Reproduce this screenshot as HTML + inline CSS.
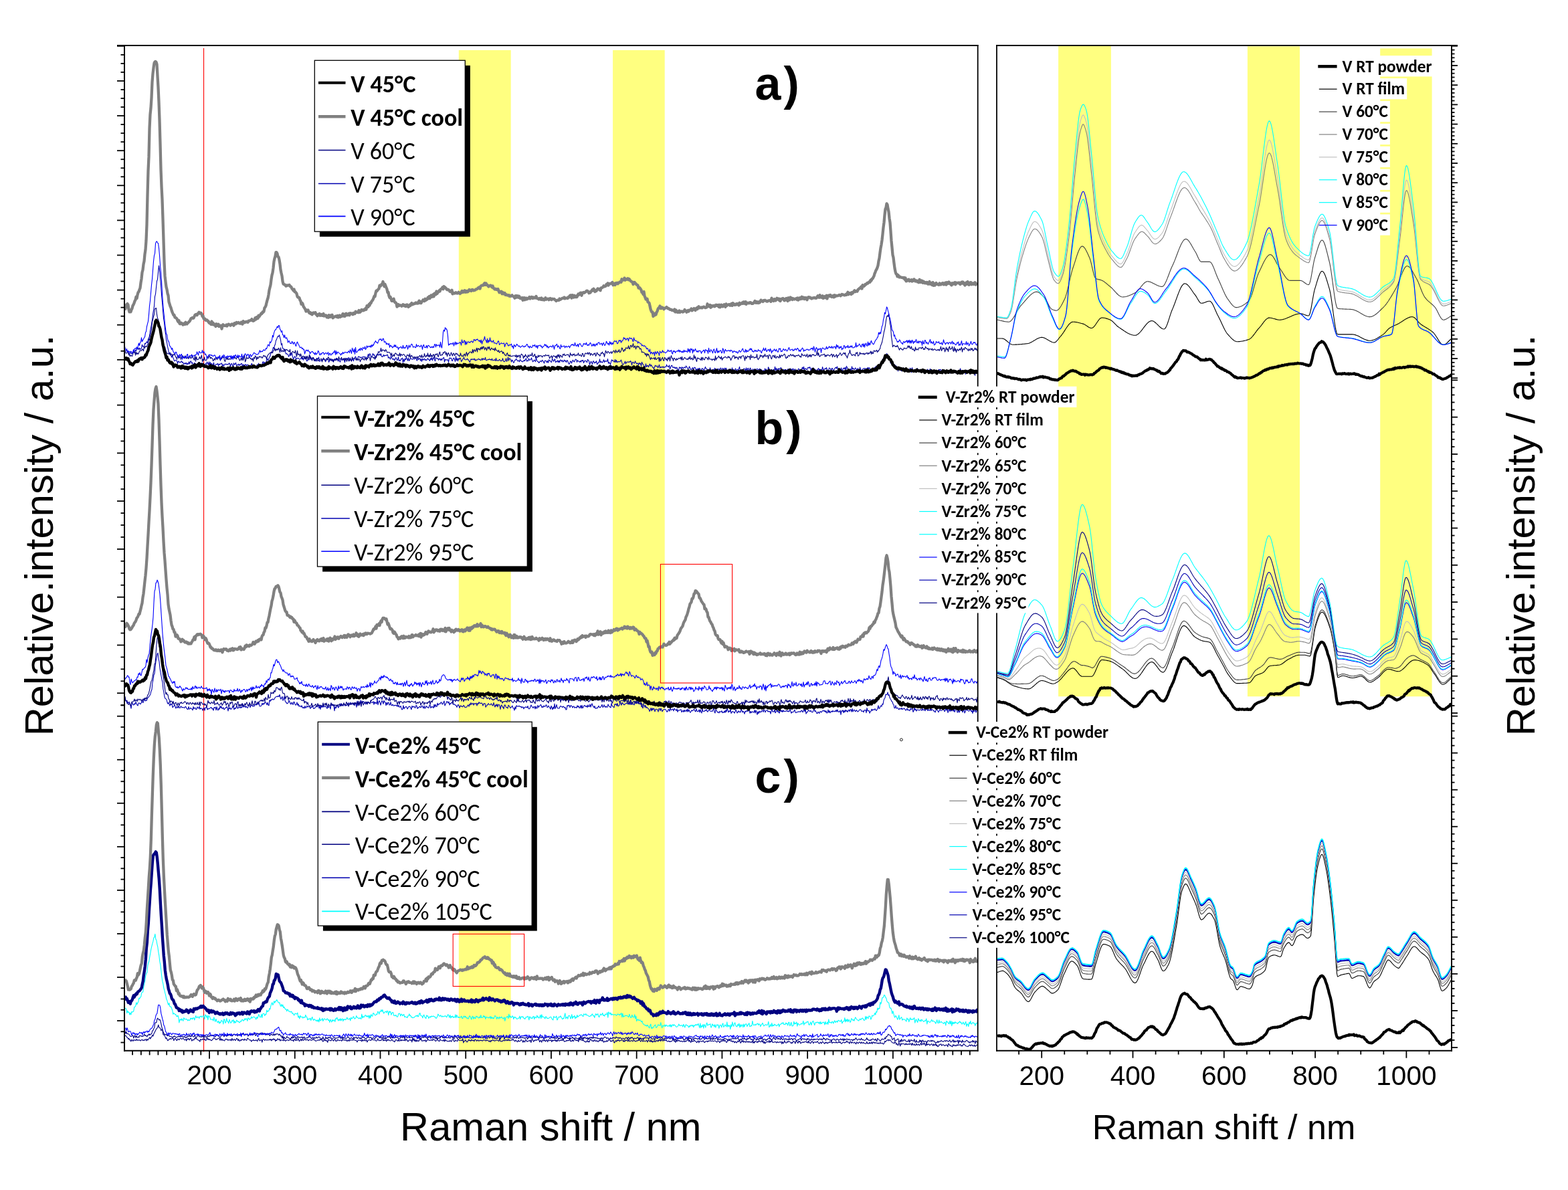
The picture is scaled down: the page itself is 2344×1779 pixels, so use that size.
<!DOCTYPE html><html><head><meta charset="utf-8"><title>Raman spectra</title><style>html,body{margin:0;padding:0;background:#fff;overflow:hidden}svg{display:block}</style></head><body><svg xmlns="http://www.w3.org/2000/svg" width="2344" height="1779" viewBox="0 0 2344 1779">
<rect x="0" y="0" width="2344" height="1779" fill="#FFFFFF"/>
<defs><clipPath id="cl"><rect x="186" y="68" width="1276" height="1503"/></clipPath><clipPath id="cr"><rect x="1490" y="68" width="680" height="1503"/></clipPath></defs>
<rect x="685.8" y="75.0" width="77.9" height="1495.7" fill="#FFFF80"/>
<rect x="916.1" y="75.0" width="77.6" height="1495.7" fill="#FFFF80"/>
<rect x="1582.1" y="68.7" width="78.8" height="972.5" fill="#FFFF80"/>
<rect x="1864.9" y="69.3" width="78.1" height="971.9" fill="#FFFF80"/>
<rect x="2063.2" y="72.4" width="77.4" height="968.8" fill="#FFFF80"/>
<rect x="304" y="72" width="1.1" height="1500.5" fill="#FF0000"/>
<g clip-path="url(#cl)">
<path d="M186.5 523.7l1 1.2 1 -0.4 1 -0.5 1 1.6 1 -0.4 1 2.5 1 2.8 1 -3.3 1 -0.3 1 2 1 -0.5 1 -0.7 1 -2.3 1 1.3 1 1 1 -4.4 1 1.2 1 -3.3 1 0.6 1 -1.6 1 2.5 1 -2.6 1 2.4 1 -0.9 1 -1.3 1 -5.1 1 3 1 0.1 1 -0.7 1 -4.2 1 0.8 1 -2.2 1 -1.2 1 1.9 1 -5.8 1 -1.9 1 -2.5 1 -7.7 1 -4.6 1 -5.4 1 -6.1 1 -9 1 -5.6 1 -6.3 1 -14.4 1 -3.7 1 -9.7 1 -9.7 1 -2.7 1 -10.8 1 -9.7 1 7.3 1 11 1 10.6 1 15.1 1 10.6 1 12.5 1 12 1 5.8 1 10.3 1 6.7 1 8.8 1 4.2 1 6.2 1 4.1 1 4.8 1 2.8 1 -2.6 1 2.8 1 4.2 1 -3.7 1 3.9 1 1.7 1 3.5 1 -0.2 1 -1.2 1 0.6 1 0.8 1 3.8 1 -3.4 1 0.5 1 1.4 1 -0.7 1 0.1 1 -1.6 1 2.3 1 -0.7 1 3.2 1 -0.8 1 -1.2 1 1.5 1 -1.8 1 2.8 1 -1.9 1 1.2 1 -3.5 1 3.3 1 -3.8 1 -0.6 1 3.4 1 -1.1 1 2.1 1 4 1 -5.7 1 0.4 1 1.7 1 0.6 1 -1.3 1 0 1 1.8 1 -0.3 1 -2.9 1 1.8 1 0.3 1 -2.1 1 2.6 1 -2.1 1 3.5 1 -1.5 1 -0.1 1 -1.3 1 0.9 1 -3.5 1 1.7 1 2.8 1 -4.7 1 5.7 1 -4.9 1 4.8 1 -3.1 1 3.1 1 -1.2 1 -3.1 1 5.3 1 0.4 1 -2.9 1 -0.3 1 0.2 1 -1.5 1 3.9 1 -3.1 1 1 1 -1.4 1 0.3 1 -1.2 1 4.8 1 -2.7 1 2.2 1 -1.8 1 -1.3 1 0.7 1 -0.5 1 1.1 1 -0.7 1 0.2 1 -2 1 1.1 1 4.6 1 -4.4 1 -0.7 1 2.7 1 2 1 -5.4 1 2.4 1 -0.8 1 -2.1 1 4.8 1 -1.5 1 0.2 1 -1.5 1 2.3 1 -1.9 1 0.8 1 -1.8 1 -0.2 1 4.9 1 -3.5 1 1.6 1 -0.6 1 -0.8 1 -0.1 1 2.2 1 -1.8 1 0.3 1 0.4 1 2.2 1 -0.9 1 -0.6 1 -1.8 1 -1.5 1 4.4 1 0 1 -2.1 1 1.3 1 0.5 1 -0 1 0.1 1 -2.7 1 3.6 1 -5.4 1 3.8 1 -0.9 1 0.5 1 1.7 1 -1 1 -5.3 1 -1.3 1 4.5 1 -3.9 1 1.6 1 0.9 1 -5.6 1 -2.1 1 3 1 -2 1 -2.3 1 -1.4 1 -3.8 1 -3.3 1 0.4 1 -3.8 1 -3.4 1 1.5 1 -4.1 1 -2.3 1 -5.5 1 -1.6 1 -3 1 -1.9 1 0.6 1 -2.4 1 3.8 1 3.6 1 7.7 1 -2.3 1 7.1 1 0.3 1 2.1 1 -1 1 3.5 1 3.6 1 -0.5 1 1.1 1 0.1 1 3.5 1 -1.5 1 -3.5 1 3.4 1 -1.9 1 -2 1 5.6 1 3.8 1 -2.2 1 -2.2 1 0.6 1 4.1 1 -1.8 1 -0.1 1 -0.1 1 0.3 1 1.5 1 -0.4 1 -0.5 1 -2.3 1 3 1 -2.2 1 3.4 1 -4.4 1 2.2 1 0.3 1 -2.4 1 5.8 1 -0.4 1 -3.7 1 2.4 1 -0.7 1 -5.6 1 5.5 1 -0.6 1 0.3 1 -2.1 1 1.5 1 0.3 1 2.6 1 -1.6 1 -0.6 1 3 1 -4 1 0.4 1 -2.6 1 6.4 1 -1.1 1 0 1 -0.4 1 -1 1 0.3 1 -0.8 1 0.1 1 0.6 1 2.8 1 -1.7 1 -1.1 1 -0.9 1 -0 1 4.3 1 -2 1 -0.8 1 -0.7 1 -1.4 1 2 1 1.8 1 -2.4 1 0.4 1 -0 1 0.6 1 -3.3 1 2.6 1 -1.2 1 3.2 1 -3.1 1 2.5 1 1.7 1 -3.6 1 -0.6 1 1.4 1 -0.4 1 -2 1 2.7 1 2.8 1 -4.4 1 -0 1 -1.8 1 2.5 1 -3.1 1 0.1 1 4.4 1 -4.3 1 3.7 1 0.7 1 -2.6 1 0.4 1 2.5 1 -4.2 1 -0.9 1 -1.6 1 2.5 1 2.5 1 -1.1 1 -3.8 1 0 1 0.5 1 1.4 1 -1.1 1 0.6 1 -0 1 -1.3 1 0.3 1 0.4 1 -0.7 1 0.9 1 2.5 1 -2.6 1 -1.1 1 -3.5 1 3.8 1 -4.5 1 0.8 1 4.2 1 -0.4 1 -1.7 1 -3.1 1 2.5 1 -0.7 1 2.4 1 3 1 -3.9 1 -2 1 -0.8 1 2 1 -0.2 1 -1.9 1 2.4 1 -2.5 1 4.3 1 -0.1 1 0.1 1 -2.8 1 2.1 1 -1 1 -0.1 1 0.5 1 -1.4 1 0.2 1 4.7 1 -1.4 1 1.3 1 1.9 1 -4.7 1 2.1 1 2.2 1 0.7 1 -1.3 1 2.8 1 -1.5 1 -2.7 1 0.6 1 3.3 1 -0.6 1 -4.5 1 6.2 1 -1.4 1 1.4 1 -3.2 1 0.1 1 -1.5 1 7 1 -5.2 1 3.4 1 -4.2 1 1.5 1 -3.5 1 2.5 1 2.6 1 -4.2 1 4.4 1 -1.4 1 -2.6 1 1.1 1 0.1 1 0.7 1 -0.9 1 -0.5 1 1 1 -1.4 1 -0.5 1 2.4 1 1.8 1 -4.6 1 2.9 1 -1.2 1 -0.6 1 3.5 1 -2.6 1 3.8 1 -4.3 1 2.2 1 -1.1 1 -1 1 2.5 1 -1.4 1 1.5 1 -1.3 1 -1.9 1 1.8 1 0.3 1 1.8 1 -3.6 1 1.7 1 -3.2 1 4.5 1 -3.3 1 -1.3 1 3.3 1 2.2 1 -5 1 0.8 1 0.7 1 -0.7 1 2.8 1 -2.2 1 0.2 1 2.4 1 -2.5 1 2.3 1 -2.7 1 -0.5 1 -1.1 1 7 1 -4.1 1 1 1 -0.5 1 0.4 1 -0.2 1 3.5 1 -5.6 1 -1 1 1.1 1 -0.6 1 3.9 1 0.2 1 -3.4 1 -0.8 1 2 1 3.3 1 -8 1 6.4 1 -3.1 1 4 1 -4 1 1.5 1 -2.3 1 1 1 4.5 1 -1 1 -2.3 1 -0.9 1 -2 1 2.9 1 0.7 1 -0.1 1 -0 1 -1.9 1 2 1 0 1 2.6 1 1.1 1 -3.8 1 -1.2 1 1.3 1 -1 1 -0.2 1 1.3 1 -1.9 1 3.2 1 -1.4 1 0.7 1 -0.8 1 -1 1 -0.4 1 1.3 1 -0.6 1 1.5 1 -0.4 1 -2.6 1 2.8 1 -2.7 1 1.4 1 0.6 1 -3.4 1 4.2 1 0.1 1 -0.6 1 -0.5 1 0.1 1 -1.1 1 1.3 1 -0.5 1 1.3 1 -2.5 1 2.8 1 -0.2 1 -0.5 1 -0.6 1 1.9 1 -4.2 1 4 1 -0.4 1 0.1 1 0.2 1 -1.9 1 0.7 1 1.8 1 -0.4 1 -0.4 1 -3.3 1 3.9 1 1.2 1 -0.3 1 -1.4 1 -3.4 1 4.7 1 -2 1 -4.5 1 5.5 1 -3.5 1 0.4 1 1.2 1 3.7 1 -3.1 1 1.2 1 2.8 1 -0.3 1 -3.2 1 -0.2 1 -2 1 1.1 1 2.2 1 -0.1 1 -0.5 1 1.7 1 -3.4 1 1.4 1 1.5 1 -0.2 1 0.9 1 -1.3 1 -1.3 1 1.3 1 -2.6 1 -1.2 1 4.2 1 -1.1 1 0.7 1 -3.8 1 2.5 1 -0.4 1 -0.5 1 -2.6 1 3.6 1 2.4 1 -1 1 -1.8 1 1.1 1 1.5 1 -6.7 1 5 1 1.3 1 0.3 1 1.9 1 -1 1 -1.6 1 0 1 0.9 1 -2.5 1 1 1 1.8 1 2 1 -4 1 0.2 1 0.5 1 2.2 1 -2.6 1 2.9 1 -4.6 1 1.5 1 -0 1 1.8 1 0.5 1 -4.8 1 1.2 1 2.3 1 -1.8 1 -1.7 1 4.9 1 -1 1 0 1 -1.8 1 2.9 1 -2.4 1 2.5 1 -3.8 1 0.2 1 2 1 -1.7 1 2.6 1 -0.8 1 -2.2 1 1.9 1 -0.8 1 2.4 1 -2.9 1 0.4 1 3.2 1 1.9 1 -0.4 1 -3.7 1 0.3 1 2.6 1 -3.2 1 -1.6 1 2.1 1 0.7 1 -2.5 1 -1.5 1 0.4 1 4 1 -2.7 1 1.2 1 0.7 1 0.8 1 -1.8 1 1.6 1 -2.6 1 1 1 -1.2 1 4.1 1 -2.2 1 -1.3 1 0.7 1 0.3 1 1.8 1 -4.4 1 1.1 1 1.3 1 5.5 1 -3 1 -2 1 1.6 1 2.6 1 -4.4 1 -0.2 1 3 1 -1.3 1 0.3 1 -2.2 1 4.7 1 -0.4 1 -2.2 1 0.2 1 -5.1 1 5.1 1 -1.6 1 1.2 1 0.5 1 -1.9 1 -2.5 1 3.9 1 -2.1 1 0.8 1 -0.5 1 0.5 1 -3.7 1 6.7 1 -1.8 1 1.6 1 1.7 1 -3.7 1 -3.4 1 1.7 1 -0.6 1 1.4 1 1.1 1 -4 1 4.5 1 -3.5 1 3.4 1 -0.7 1 -0.4 1 0.5 1 -0.9 1 -0.1 1 -2 1 3.1 1 3.6 1 0.3 1 -1.3 1 -1.1 1 -2.6 1 4 1 -2.8 1 -0 1 -0.4 1 0.7 1 -0.9 1 0.7 1 -1.9 1 1.4 1 5 1 -4.4 1 -0.3 1 1.5 1 0.5 1 -3.3 1 1.9 1 2.3 1 -1 1 0 1 3.1 1 -3.9 1 1.7 1 -0.8 1 4.2 1 -6.2 1 2.8 1 0.6 1 2.7 1 0.2 1 1.8 1 -5.4 1 4.7 1 -1.8 1 -0.5 1 2.5 1 -2.7 1 -2 1 3.4 1 -2 1 1.7 1 2.1 1 -0 1 2.5 1 -3.3 1 -2.4 1 1.5 1 -0.2 1 -0.5 1 3.1 1 -2 1 -2.7 1 5 1 -1.8 1 0.7 1 -0.8 1 0.8 1 -1.3 1 2.2 1 -1.6 1 -0 1 0.1 1 -3.5 1 2.6 1 -0 1 1 1 -2.8 1 5.9 1 -2.7 1 -2.3 1 -0.7 1 2.9 1 0.6 1 -1.1 1 1.8 1 -1.3 1 2.4 1 -2.3 1 1.4 1 2 1 3.1 1 -6.8 1 1.1 1 -0.7 1 3.1 1 -3.6 1 1.3 1 0.9 1 -1.8 1 0.1 1 0.9 1 -3.1 1 1.3 1 2 1 1.1 1 -0.6 1 -3 1 2.5 1 2.4 1 -0.4 1 -1.2 1 -1.5 1 2.9 1 -2.3 1 -1.1 1 0.8 1 4.3 1 -2.4 1 1.9 1 -3.1 1 2.7 1 -2.9 1 0.8 1 5.1 1 -3.3 1 -2.4 1 0.9 1 0.8 1 1.7 1 -3.3 1 -2.3 1 2.8 1 0.6 1 0.2 1 2.3 1 -1.9 1 1 1 -3.7 1 3.8 1 2.3 1 -2.5 1 -0.9 1 -0.2 1 3.1 1 -5.1 1 1.5 1 1.1 1 0.6 1 -2.2 1 1.4 1 -1.1 1 0.8 1 -0.5 1 -1.9 1 2.1 1 1.8 1 -3.5 1 1.4 1 1.7 1 -3.3 1 2.4 1 -2.3 1 4.1 1 2.3 1 -0.6 1 -4.2 1 1.8 1 -1.1 1 -0.1 1 2.8 1 -5.4 1 4.5 1 -2.1 1 2.8 1 -2.3 1 -1.7 1 1.8 1 0.9 1 -1.3 1 0.9 1 -1.9 1 -3.1 1 5.8 1 -0.4 1 -1 1 -0.2 1 1.9 1 -2.9 1 -0.4 1 0.9 1 2.7 1 -4.9 1 4.9 1 -3.5 1 -0.9 1 4.5 1 -2.5 1 -2.3 1 1.8 1 2.4 1 0.5 1 -3.1 1 1.6 1 0.6 1 -2.6 1 1.9 1 -0.7 1 -0.9 1 0 1 1.1 1 -0.1 1 -1.1 1 0.3 1 2.9 1 -1.7 1 1.3 1 0.6 1 -1.2 1 3.2 1 -5.9 1 3.1 1 -2.1 1 4.1 1 -0.3 1 -6.9 1 1.9 1 3.1 1 0.2 1 -0.1 1 -1.5 1 1 1 0.3 1 -1.4 1 2.1 1 -6.2 1 5.5 1 -3.2 1 3.8 1 -2.2 1 -1.3 1 2.4 1 -2.4 1 -0 1 -1.3 1 2.9 1 1 1 1 1 -2.2 1 2.3 1 -2 1 -0.2 1 1.3 1 0.9 1 -2.7 1 0.2 1 0.2 1 0.4 1 -1.8 1 3.6 1 -2.7 1 1.6 1 -2.4 1 2.2 1 0.1 1 -1.5 1 4.6 1 -3.1 1 2.6 1 -1.5 1 -3.1 1 0.5 1 1.6 1 -0.7 1 -0.1 1 -0.6 1 -2.9 1 3 1 -3.8 1 4.9 1 -2.1 1 0.1 1 0.9 1 0.9 1 -3.2 1 -0.6 1 1.3 1 -1.9 1 2.1 1 4.8 1 -5 1 3.2 1 -3.8 1 3.1 1 -1.1 1 0.4 1 1.2 1 2.3 1 -3 1 -0.1 1 -2.1 1 2.9 1 -1.5 1 2 1 -1.7 1 3.4 1 -7.1 1 3.2 1 2.3 1 -2.4 1 -0.8 1 1 1 -2.2 1 2.9 1 4.4 1 -2.5 1 -4.3 1 0.5 1 0.8 1 2.7 1 -3.5 1 0.3 1 3 1 -0.1 1 -2.3 1 -1.5 1 -0.8 1 1.6 1 -2.9 1 5.6 1 -2.6 1 2.1 1 2.6 1 -1.3 1 -4.4 1 3.8 1 0.6 1 -3.7 1 -0.4 1 1.6 1 -2.8 1 5.8 1 -7.4 1 2.5 1 1.6 1 0 1 0.8 1 0.1 1 -0.9 1 2.6 1 -6.3 1 4.1 1 -1.4 1 1.6 1 0.2 1 -2.2 1 0.5 1 2.7 1 -0.8 1 -2 1 5.1 1 0.5 1 -7.1 1 3.3 1 4.2 1 -3.3 1 -1.1 1 -0.8 1 -0.7 1 0.6 1 -0.6 1 2.4 1 -2.2 1 -0.1 1 -1.4 1 2.1 1 -1.6 1 1.3 1 2.3 1 -1.4 1 0.1 1 -0.5 1 -0.8 1 -0.6 1 -0.7 1 1.6 1 -3.9 1 4.2 1 -2.9 1 -2 1 -0 1 -0.9 1 1 1 -2.3 1 2.3 1 -5.3 1 -4.7 1 0.8 1 -4.5 1 1.8 1 0.4 1 -2.1 1 -4.4 1 1 1 5.5 1 -1.5 1 1 1 3.9 1 4.7 1 -0.1 1 -0.3 1 2.1 1 1.8 1 -1.5 1 -0.1 1 2.9 1 -1.2 1 2.3 1 0.9 1 4.9 1 -5.5 1 1.9 1 0.3 1 1.5 1 1.5 1 -2.7 1 -0.5 1 -1.5 1 1.4 1 2.9 1 -0.9 1 -1.9 1 1.2 1 0.9 1 0.9 1 -2 1 0.7 1 -2.9 1 1.3 1 5.3 1 -7.2 1 3.6 1 1.1 1 -1.1 1 -0.8 1 1.5 1 0.1 1 -0.1 1 -3.3 1 3.3 1 -1.3 1 0.6 1 1.5 1 0.8 1 0.6 1 -2.6 1 2.7 1 0.5 1 -0 1 0.5 1 -2.9 1 -0 1 1.9 1 -4.2 1 3.1 1 -1.4 1 0.3 1 -2.6 1 1.7 1 1.7 1 1.7 1 0.2 1 -2 1 -0.2 1 -1.2 1 2.4 1 -1.2 1 1.6 1 2.2 1 -3.4 1 -2.7 1 1.2 1 -1.1 1 0.5 1 4.8 1 -2.1 1 -3.3 1 4.2 1 1.1 1 -3 1 -0.6 1 0.6 1 1.2 1 0.7 1 1.1 1 0.1 1 -0.1 1 0.4 1 -1.4 1 -4.1 1 2.7 1 0.8 1 -1.3 1 2.5 1 -2.4 1 -1.1 1 4.5 1 -1.4 1 -0.9 1 1.4 1 0.3 1 -1.4 1 -5.3 1 3.4 1 0.5 1 -1 1 2.2 1 1.9 1 -3.1 1 -1.3 1 6.1 1 -4.7 1 -1.5 1 2.8 1 0.4 1 -2.1 1 2.8 1 -2.4 1 -0.8 1 2.1 1 1.2 1 -2.7 1 1.9 1 -0.8 1 5.6 1 -6.7 1 4 1 -2.7 0.5 -0.1" stroke="#0000B0" stroke-width="1.1" fill="none" stroke-linejoin="round"/>
<path d="M186.5 525.4l1 1.2 1 1.6 1 -0.8 1 -0.8 1 1 1 2.7 1 0.7 1 1.7 1 -1.9 1 1.1 1 0.7 1 -2.8 1 -3.4 1 0.2 1 -0.8 1 5.3 1 -5 1 3.5 1 -1.8 1 1.7 1 -1.9 1 -2.6 1 -0.7 1 0.1 1 -0.4 1 -2 1 0.3 1 2.4 1 -7.1 1 2.8 1 -3.2 1 0.9 1 -0 1 -3.2 1 -0.5 1 -7.5 1 1.4 1 -7.5 1 -2.3 1 -5.7 1 -11.5 1 -3.3 1 -4.7 1 -3.3 1 -8 1 -1 1 -0.4 1 9.2 1 6 1 1.8 1 4.5 1 2.4 1 9.8 1 8.9 1 1.6 1 5.8 1 2.1 1 0.3 1 7.4 1 -2.1 1 4.3 1 2.9 1 2.6 1 0.2 1 0.9 1 -1.3 1 -0.3 1 3.3 1 -0.8 1 -0.7 1 0.6 1 1.8 1 -2.4 1 1.1 1 -0.4 1 3.6 1 0.5 1 3.2 1 -6.6 1 1.7 1 3.1 1 -2 1 -0.1 1 3.9 1 -3.8 1 -1.5 1 -0.2 1 3.2 1 0 1 -3.1 1 0.8 1 3 1 0.1 1 -2.3 1 2.5 1 -0.1 1 -4.4 1 2.8 1 1.5 1 -1.9 1 -2.9 1 3.6 1 2 1 1.6 1 -7.2 1 9.2 1 -7.1 1 4 1 0.6 1 -0.5 1 -1.6 1 -2.4 1 3.4 1 -2.5 1 -3.4 1 10.2 1 -4 1 2.1 1 -5.2 1 4.6 1 0.2 1 -0 1 -3 1 -2.2 1 2 1 -3.9 1 1 1 3.4 1 -2 1 1.6 1 0.1 1 3.9 1 -1.2 1 -2.5 1 2.4 1 -3.8 1 0.9 1 2.3 1 -4 1 1.8 1 -2 1 2.8 1 2.8 1 -4.5 1 1.9 1 -2.2 1 -0.5 1 -0.1 1 5.1 1 1.7 1 -3.6 1 -2.2 1 2.7 1 -2 1 2.1 1 -0.9 1 -0.1 1 0.7 1 -2.3 1 0.3 1 -2.5 1 2.4 1 -1.8 1 2.4 1 -1.6 1 2 1 0.7 1 -3.6 1 1.2 1 -0.3 1 3.2 1 1.9 1 -1.7 1 -2.3 1 3.5 1 -5.7 1 5.7 1 -4.1 1 -4 1 10.3 1 -2.1 1 -5 1 2.3 1 -0.7 1 0.6 1 -3.1 1 1.5 1 2.2 1 -0.5 1 1.9 1 -2.2 1 4.3 1 -5.8 1 1.8 1 -4.2 1 1.2 1 4.8 1 -4.4 1 2.7 1 -1.3 1 -2.1 1 1.1 1 -0.5 1 -0.2 1 2.1 1 -0.5 1 -2.6 1 -1 1 1.9 1 -1 1 1.7 1 2.8 1 -3.9 1 -2.1 1 -0.6 1 -1.8 1 -0.5 1 -0.6 1 0.5 1 -1 1 1.1 1 -3.4 1 -0.9 1 -3.1 1 4.4 1 -3 1 1.9 1 -1.9 1 1.5 1 -3 1 2.3 1 4.3 1 -7 1 4.9 1 1.3 1 -2.2 1 0.9 1 1.2 1 -3.5 1 2.2 1 -2.3 1 0.6 1 0.2 1 1.1 1 0.8 1 0.8 1 -3.5 1 6.8 1 -1.4 1 -0.6 1 -1.8 1 0.7 1 1.5 1 0 1 -3.7 1 5 1 4.5 1 -8.9 1 6 1 -0.7 1 -0.3 1 3.6 1 -4.2 1 3.3 1 3.1 1 -2.7 1 -0.1 1 1.3 1 -0.8 1 4.1 1 -4.5 1 3.7 1 -3.9 1 4 1 -1.2 1 -4.7 1 5.3 1 -1.9 1 1.4 1 4 1 -5 1 0.3 1 5 1 -2.5 1 2.9 1 -2.3 1 -2.2 1 1.6 1 2.6 1 -0.5 1 -1.9 1 0.1 1 -0.3 1 -0.9 1 4.9 1 -3.8 1 -2.2 1 1.3 1 2.3 1 -0.2 1 -1.5 1 -1.1 1 1.4 1 -3.4 1 0.8 1 4 1 -2.5 1 1.7 1 1.6 1 -1.1 1 -1.2 1 4.1 1 -2.9 1 -2 1 2.2 1 -0.6 1 -2.5 1 1.8 1 -0.4 1 -3.5 1 3.6 1 -0.2 1 -0.2 1 -2.3 1 2.5 1 0.7 1 0.3 1 -2.3 1 3.5 1 -3.6 1 2 1 3.1 1 -3.9 1 0.4 1 3.1 1 -2.8 1 0.2 1 1 1 1.7 1 -6.4 1 2.7 1 -0.4 1 -0.1 1 0.4 1 -0 1 2.2 1 -2.4 1 1.9 1 0.5 1 -2.3 1 1.6 1 2.9 1 -2.7 1 -2 1 1 1 -1.7 1 2.1 1 1 1 -3.4 1 1.1 1 2.4 1 -3.3 1 1.2 1 -2.6 1 0.2 1 0.4 1 5 1 -5.1 1 -0.5 1 -0.3 1 0.6 1 1.3 1 -1.2 1 3.1 1 -4.3 1 1.4 1 -3.3 1 -0.5 1 -5 1 1.4 1 -1 1 -1.2 1 -4.4 1 5.3 1 -2.6 1 -0.1 1 0.6 1 0.3 1 1.5 1 -2.8 1 1.2 1 2.8 1 0.3 1 -0.4 1 0.2 1 0 1 2.1 1 2.8 1 -3.8 1 5.4 1 -1 1 -2.2 1 2.5 1 -4.2 1 -0.4 1 1 1 1.7 1 0.3 1 -0.3 1 1.3 1 -4.2 1 5.1 1 -3.6 1 1.6 1 0.5 1 -1.3 1 -0.4 1 0.8 1 1.9 1 1.2 1 0 1 -2.9 1 0.5 1 -0.2 1 2.6 1 -4.6 1 6.2 1 -3.2 1 -0.6 1 2.2 1 1.4 1 -1.3 1 1.3 1 -1.7 1 2.1 1 0.1 1 -2.6 1 3 1 -2.5 1 -0.1 1 -1.9 1 1.2 1 2 1 -4 1 3.7 1 -0.7 1 -0.1 1 -4.8 1 3.9 1 1.4 1 -2.8 1 1.5 1 -4.8 1 5.7 1 -2.6 1 2.8 1 -5.2 1 4.7 1 -1.9 1 1.9 1 -3.4 1 0.4 1 5.4 1 -6 1 0 1 0.6 1 -1.7 1 4 1 0.7 1 -4.9 1 -2.2 1 5.3 1 -0.4 1 -0.7 1 0.4 1 -3.9 1 1.2 1 -2.3 1 -0 1 4.5 1 -3.1 1 5.7 1 -4.1 1 -1.3 1 2.9 1 2 1 -2.4 1 -3.1 1 3.1 1 2.1 1 -3.5 1 -0.4 1 3.6 1 -1.6 1 -2.2 1 1.5 1 -0.6 1 2.1 1 -0.2 1 2.1 1 -0.8 1 -4.2 1 3.8 1 1 1 -0.8 1 1.2 1 -3 1 -0.8 1 3.5 1 -3.9 1 -2.3 1 5.8 1 -3.7 1 0.4 1 -2.5 1 -0.3 1 -0.2 1 1 1 0.9 1 -5.6 1 5.2 1 -4.3 1 -0.3 1 2.7 1 -2 1 -3.4 1 5.9 1 -5.6 1 1.6 1 -0.5 1 1.8 1 -3.9 1 2.5 1 -3.6 1 3.4 1 -3.8 1 0.7 1 4.3 1 -2.9 1 -0.3 1 4.2 1 -3.4 1 -2.1 1 3.2 1 -3.4 1 4.7 1 0.4 1 -3 1 0.2 1 1.9 1 0.1 1 -1.5 1 3.3 1 -4.6 1 3.5 1 0.4 1 0.7 1 1.5 1 -2.5 1 3.8 1 -1.1 1 -0.5 1 -1 1 0.6 1 3.3 1 -2.3 1 2.2 1 2.2 1 0.2 1 1.2 1 -3.2 1 -1.3 1 4.3 1 -1.1 1 1.8 1 -1.9 1 2.4 1 -0.5 1 -0.1 1 -0.3 1 -0.1 1 -0.2 1 -0 1 1.5 1 -2.9 1 4.3 1 -3.4 1 2.1 1 -2 1 -0.3 1 4.3 1 -4.4 1 -1.8 1 1.1 1 0.8 1 4.7 1 -3.7 1 1.4 1 -3.7 1 2.6 1 0.6 1 2.2 1 -4.7 1 2.5 1 -0.6 1 -2.5 1 1.9 1 -0.4 1 -3.9 1 5.5 1 -0.1 1 -1.8 1 -1.7 1 5.4 1 -2.3 1 1.4 1 0.7 1 -3.6 1 2.5 1 -2 1 0.4 1 -0.1 1 0.2 1 2.1 1 -1.9 1 -0.5 1 -0.2 1 1.2 1 -2.4 1 0.8 1 0.8 1 -0.9 1 0.8 1 -0.9 1 4.9 1 -1.3 1 -1.6 1 -1 1 4.3 1 -3.6 1 -0.8 1 0.7 1 0 1 2.1 1 -2.7 1 4 1 -5.7 1 3 1 -3.3 1 5.3 1 -4.1 1 0.5 1 1.9 1 0.6 1 -4.6 1 1.4 1 -2 1 2.9 1 -0.5 1 -0.5 1 -0.7 1 0.5 1 -0.7 1 2.4 1 1.8 1 -6.6 1 3.4 1 -0.6 1 1.7 1 -2.8 1 1.5 1 -1.8 1 3.3 1 -1.2 1 -0.5 1 0.9 1 -1.2 1 -2.5 1 4 1 -0.6 1 -0.9 1 2.1 1 0.4 1 -4.5 1 0.6 1 4.3 1 -0.3 1 -4.1 1 -0.9 1 1 1 0.2 1 -2.1 1 3 1 -2.5 1 0 1 4 1 -3.1 1 1.1 1 1.3 1 0.3 1 -2.2 1 0.6 1 -1.7 1 4.8 1 -2.1 1 -3.4 1 2 1 1.3 1 -0.5 1 2.5 1 -1 1 -3.7 1 0.8 1 -2.3 1 2.8 1 -0.3 1 4.8 1 -5.1 1 -4.2 1 2.6 1 1.4 1 -2.7 1 0.6 1 0.9 1 1.2 1 -1.1 1 -1.4 1 3 1 -2.6 1 -0.1 1 -1.8 1 1 1 2.6 1 -4.6 1 2.7 1 1.2 1 -2.3 1 0.8 1 -2.9 1 4.3 1 -0.7 1 -2 1 -4.2 1 1 1 3.4 1 1.1 1 -3.1 1 1.4 1 -3.9 1 0.5 1 -0 1 0.5 1 -4.1 1 4.4 1 0.5 1 -5 1 -0.6 1 3 1 -2.1 1 -3.4 1 6 1 -1.3 1 -1.3 1 5 1 -3.5 1 -1.3 1 2.1 1 -1.5 1 1.2 1 3 1 -1 1 1 1 4.9 1 -0.8 1 0.6 1 0.2 1 0.7 1 2.7 1 -1.9 1 4.5 1 -4.3 1 2.3 1 -1.2 1 2.9 1 2.5 1 2.6 1 -3.3 1 1.9 1 -0.2 1 -0.4 1 -0.7 1 2.4 1 -3.4 1 3.5 1 -0.2 1 -1.4 1 -0.7 1 -0.8 1 6.1 1 -6.3 1 5.5 1 -2 1 -1.9 1 -1.6 1 4.1 1 1.2 1 -5.2 1 1.1 1 2.5 1 -1.4 1 3.2 1 -5 1 2.2 1 -3.4 1 6.3 1 -5.4 1 -2.8 1 4 1 -0 1 3.9 1 -4.3 1 0.6 1 1.2 1 1.8 1 -3.1 1 2.1 1 -1 1 -1.5 1 0.7 1 -0.1 1 -1.8 1 4 1 -4.9 1 4.9 1 -0.5 1 -1.9 1 -1.3 1 1 1 1.3 1 0.5 1 -0.8 1 1.3 1 -2.9 1 1.5 1 -3.5 1 4.5 1 -1.2 1 -1.1 1 3 1 -0.9 1 -6.6 1 5.4 1 -2.8 1 4.8 1 2.7 1 -5.8 1 1.2 1 -0.6 1 1.1 1 0.6 1 1.2 1 -4.3 1 4.8 1 -4.7 1 2.3 1 1.6 1 -0.8 1 -3.2 1 0.5 1 0.5 1 0.7 1 2.3 1 -4.6 1 3.3 1 0.3 1 -0.1 1 -0.2 1 2 1 -2 1 0.7 1 -0.6 1 2.4 1 -7.1 1 6.1 1 -3 1 -0 1 -1.4 1 -1.7 1 2.8 1 -0.6 1 2.2 1 -3.7 1 5.5 1 -2.3 1 -1 1 -0.9 1 -0.2 1 -0.6 1 1 1 1 1 -0.3 1 -2.4 1 2.1 1 -1.2 1 2 1 3.2 1 -2.4 1 -1.8 1 -2.6 1 0.4 1 -0.6 1 4.6 1 -2.9 1 1.5 1 -1.3 1 1.3 1 2.5 1 -4.1 1 0.7 1 -1 1 3.2 1 -3.7 1 -0.2 1 -0.5 1 -0.1 1 3.5 1 3.9 1 -6.8 1 3.7 1 -1.4 1 -2.6 1 1.5 1 0 1 -0.9 1 5 1 -7.4 1 4.3 1 -0.1 1 -1.8 1 1.4 1 1.3 1 -1.4 1 0.4 1 0.5 1 -5.2 1 6.6 1 1.5 1 -2.5 1 0 1 -4.6 1 2.4 1 -1.4 1 0.4 1 2.9 1 -3.4 1 1.3 1 -3.4 1 3.3 1 0.4 1 -1.6 1 -0 1 4.9 1 -5.9 1 0.3 1 0.4 1 3.8 1 1.7 1 -3.4 1 -2.1 1 0.6 1 2.8 1 -3.8 1 4.5 1 -0.1 1 -2.6 1 1 1 0.2 1 1.5 1 -5 1 4.3 1 -3 1 -0.8 1 1.6 1 -0.6 1 -1.5 1 -1.2 1 1.3 1 4.5 1 0.9 1 -2.5 1 1 1 -3.2 1 0.8 1 0.7 1 -2.7 1 0.2 1 2 1 -0.8 1 -1.4 1 2.7 1 -1.2 1 2.4 1 -2 1 -0.5 1 0.7 1 -0.5 1 -1 1 0.5 1 2.2 1 -0.3 1 1.2 1 -5.6 1 2.4 1 -0 1 1.1 1 -1.2 1 -0.2 1 2.5 1 -1.2 1 -2.6 1 4.8 1 -0.7 1 -3 1 2.6 1 -2.9 1 3.5 1 -2.6 1 -1.1 1 0.8 1 -0.8 1 1.8 1 -0 1 -0.3 1 -1.2 1 -5.9 1 7.1 1 -3.8 1 4.1 1 1.6 1 -1.6 1 -1.3 1 0.4 1 0 1 -0.8 1 -0.1 1 -0.6 1 4 1 -2.4 1 1.9 1 -2.4 1 0.6 1 -0.5 1 1.2 1 0.7 1 -1.2 1 -1.7 1 -0.2 1 4.6 1 -3.8 1 -0 1 3.3 1 -0.7 1 -1.1 1 -1.8 1 5.2 1 -3.8 1 0.3 1 -1.4 1 -2.4 1 0.1 1 3.3 1 -0.1 1 -1.2 1 -1.9 1 -0.5 1 2.1 1 -2.2 1 4.4 1 0.5 1 3.1 1 -3.7 1 -2.9 1 -0.6 1 -4.9 1 5.4 1 0.7 1 2.2 1 -0.8 1 -0.1 1 -0.7 1 0.8 1 1.4 1 -4.8 1 1.1 1 -1.8 1 5.6 1 -0.6 1 -1.1 1 -3.8 1 2.6 1 -0.9 1 0.6 1 -0.6 1 1.3 1 -1.8 1 2.3 1 -1.3 1 -1 1 0.2 1 -0.7 1 2.4 1 -2.2 1 1 1 -1.4 1 -2.1 1 4.4 1 -3.9 1 3.1 1 -0.7 1 -4.1 1 1 1 0.5 1 -0.9 1 -1.1 1 3.2 1 -2.4 1 0.7 1 -2.6 1 -0.7 1 -4.9 1 -2.2 1 -2.7 1 -4.8 1 -4.8 1 -6.2 1 -3.5 1 -5.9 1 -7.1 1 -6.2 1 -1.4 1 1.5 1 -4.5 1 6.5 1 8.4 1 4.3 1 15 1 6.7 1 9 1 -2.1 1 -0.7 1 1.4 1 1 1 -1.1 1 1.2 1 -2.2 1 2.3 1 2.1 1 2.5 1 -2.3 1 -0.6 1 1.8 1 -0.1 1 1.3 1 -1 1 -2.2 1 0.8 1 -0 1 0.3 1 -0.2 1 -1.8 1 -2.4 1 2.8 1 -2.6 1 4 1 -0 1 -3.2 1 4.5 1 0.4 1 -1.4 1 3 1 0.4 1 -5.8 1 4.3 1 -1.1 1 -0 1 1 1 -3.1 1 0.2 1 -0.4 1 0.2 1 1.3 1 -2.6 1 0.8 1 3.1 1 -1.2 1 0.9 1 -4.3 1 2.1 1 0.5 1 1.1 1 -1.1 1 2.9 1 -1.9 1 0.2 1 -0 1 1.3 1 -2.2 1 3 1 -1.2 1 -0.6 1 -0.2 1 0.9 1 1 1 -0.1 1 -1.1 1 1 1 -1.4 1 2.1 1 -2.4 1 -3.9 1 6.5 1 -2.3 1 -2.4 1 1.8 1 -1.2 1 5.6 1 -3 1 -3.9 1 4 1 -1.8 1 4.4 1 -5.6 1 -2.2 1 4.4 1 -0.8 1 -0.1 1 -3.3 1 4.9 1 2.4 1 -6.8 1 5.8 1 -3.3 1 5.6 1 -3.6 1 -1.2 1 2.5 1 -1.1 1 -2.1 1 2.4 1 -2.3 1 -2.4 1 7.3 1 -4.5 1 -0.5 1 1.8 1 -3.6 1 0.4 1 1.7 1 -0.1 1 1.2 1 2 1 -3.1 1 1.9 1 0.2 1 -3.2 1 2.5 1 -2.2 1 3.9 1 -1.2 1 -0.8 1 -2.6 1 2.8 1 -1.7 1 2.9 0.5 -1.6" stroke="#000080" stroke-width="1.1" fill="none" stroke-linejoin="round"/>
<path d="M186.5 517.9l1 4.3 1 0.8 1 -1.4 1 4.6 1 -1.8 1 0.9 1 1.4 1 -1.5 1 0.4 1 0 1 2.4 1 -1 1 -4.4 1 2.5 1 -4.2 1 -0 1 0 1 -2.1 1 3.1 1 -5.1 1 -3.8 1 3.6 1 -4.5 1 -1 1 -6.4 1 6.1 1 -2 1 -1.9 1 -1.9 1 -1.3 1 -6.4 1 -1.8 1 -7.4 1 -4 1 -3.7 1 -9.8 1 -13.3 1 -7.6 1 -11.9 1 -11.7 1 -8.7 1 -13.2 1 -13.4 1 -8.6 1 -3.3 1 -14.7 1 -2.8 1 -0.6 1 2.3 1 0.6 1 7.1 1 10.9 1 14.5 1 11 1 12.3 1 18.6 1 14.8 1 11.6 1 8.4 1 10.8 1 7.3 1 8 1 1.1 1 6.7 1 3 1 1.3 1 5.2 1 1.9 1 1 1 3.2 1 -2 1 4 1 2.2 1 0.9 1 2.4 1 -3.5 1 0.1 1 3.8 1 0.8 1 3.6 1 -2.4 1 -2.5 1 3.5 1 -2.9 1 -1 1 7.9 1 -4.2 1 0.7 1 -0.3 1 2.3 1 -2.9 1 1.7 1 -4.3 1 -0.8 1 5.2 1 0 1 -2 1 -0.6 1 -0.3 1 -1.8 1 4.1 1 -1.8 1 -0.5 1 -0.7 1 0.8 1 -1.6 1 -0.1 1 -4.3 1 2.6 1 2.6 1 -5.6 1 0.4 1 1.8 1 0.1 1 -0.5 1 -3.8 1 4.5 1 -2.6 1 1.4 1 3.3 1 -0.9 1 2.7 1 4.9 1 -4.2 1 0.2 1 -2.8 1 0.8 1 -0.5 1 1.2 1 -0.8 1 1.1 1 1.1 1 -1.4 1 -0.6 1 0.3 1 3.5 1 -0.7 1 1.9 1 0 1 -2.6 1 1.9 1 -4 1 7.1 1 -2.1 1 -2.7 1 -1.8 1 2.9 1 -4.3 1 2 1 2.9 1 -1.3 1 -1.1 1 2.7 1 -3.8 1 2.5 1 -1.5 1 -0.7 1 2.4 1 -2.8 1 5.5 1 -4.8 1 4.8 1 -5.9 1 3.2 1 -3.4 1 -0.4 1 2.9 1 0.9 1 -3.8 1 4.6 1 -3.8 1 1.7 1 0.4 1 0.3 1 -4.6 1 6.4 1 -2.1 1 -2 1 -1.2 1 -1.4 1 0.5 1 3.5 1 -1.8 1 -1.7 1 1 1 3.9 1 -3.8 1 -0.6 1 3.5 1 -1.9 1 -0.9 1 -1.4 1 -2 1 0.5 1 1.1 1 0.3 1 0.9 1 0.1 1 -0.8 1 -0.3 1 -2.7 1 -2.5 1 2.7 1 -1.2 1 0.1 1 0.2 1 -2.4 1 -0.3 1 1.1 1 -0.6 1 -2.7 1 0.8 1 -2.9 1 -3.2 1 0.3 1 1.7 1 -6.7 1 1.7 1 -1.8 1 -2.2 1 -7.1 1 2.7 1 -6.2 1 -3 1 -1.9 1 -0.2 1 -2.8 1 -1.8 1 2 1 -3.6 1 0.3 1 5.1 1 1.7 1 2.9 1 -2.1 1 6 1 0.4 1 4 1 -4.1 1 4.5 1 0.6 1 -1.1 1 2.9 1 4.5 1 -2.3 1 -0.1 1 3.3 1 0.4 1 0.2 1 -3.2 1 1.7 1 2.5 1 -2.8 1 0.3 1 3.6 1 1.9 1 -4.5 1 -2.1 1 2.8 1 1.5 1 2.3 1 2.2 1 -0.6 1 -0.2 1 2.5 1 -1.2 1 2.5 1 -0.5 1 6.8 1 -3.1 1 -2.7 1 0.2 1 1.5 1 -1.9 1 2.1 1 0.3 1 3.4 1 -2.2 1 -0.5 1 -0.8 1 0.4 1 2.2 1 -0.3 1 2.6 1 -3.4 1 3.3 1 -1.6 1 -0.5 1 -3.8 1 1.4 1 3.9 1 1.2 1 -2.3 1 1.1 1 -2.2 1 0 1 -0.5 1 3.1 1 -1.2 1 -1.1 1 -0.2 1 1.7 1 -0.4 1 -2.2 1 4.8 1 -2.8 1 -0.4 1 2.8 1 -0.9 1 -2.1 1 1.2 1 -3.1 1 0.8 1 -3.1 1 6.7 1 -6 1 4.9 1 -2.9 1 -0.3 1 1.4 1 0.8 1 0.6 1 2.1 1 -2.7 1 0.9 1 -2.9 1 2.3 1 -1.1 1 -1.3 1 0.5 1 -0 1 0.3 1 0.3 1 -1.9 1 -0.6 1 2.6 1 -4.8 1 1.9 1 3.9 1 -8.3 1 3.7 1 2.4 1 -4.7 1 7.9 1 -10.1 1 7.4 1 0 1 -1.4 1 -2.4 1 0.8 1 -2.6 1 2.9 1 -3.9 1 1.4 1 2.1 1 -4.3 1 1.2 1 0.7 1 -3.2 1 4.5 1 -1.9 1 -3.8 1 2.5 1 -1.7 1 -0.1 1 1.1 1 -1.9 1 2.6 1 -3.9 1 2.5 1 -2.8 1 0.9 1 -3.6 1 -0.9 1 -2.1 1 2.4 1 -0.2 1 1.5 1 -2.3 1 -2.6 1 -1.4 1 0.8 1 -1 1 2.8 1 -0.7 1 -2.8 1 1 1 4.8 1 -0.9 1 0.1 1 3.9 1 -1.8 1 1.3 1 0.8 1 -1.9 1 6.1 1 -3.4 1 1.5 1 -0.3 1 2.8 1 -1.5 1 0.2 1 -3.2 1 3 1 -2.7 1 3.4 1 0.1 1 -0.7 1 3.9 1 -2.9 1 0.2 1 -0.9 1 -0.6 1 2.2 1 0.2 1 -4.5 1 4.4 1 -1 1 0.9 1 -1 1 -3.2 1 0.1 1 5.7 1 -3 1 -3.1 1 3.3 1 -1.3 1 -2.9 1 -0.8 1 1.3 1 3.6 1 -0.6 1 -0.4 1 1 1 0.6 1 -5.2 1 3.5 1 -1 1 -0.8 1 1.3 1 0.8 1 -0.3 1 -2.2 1 1.8 1 4.8 1 -5.9 1 -1.2 1 3.7 1 0.6 1 -0.3 1 -3 1 4 1 -3.4 1 -0.7 1 0.9 1 0.9 1 1.5 1 -0.2 1 -1.4 1 1.8 1 -1.7 1 1.4 1 -4.5 1 -0.4 1 4.3 1 -4.2 1 1.9 1 0.2 1 -0.9 1 -0.1 1 3.3 1 -7.7 1 6.3 1 2.4 1 -9.4 1 -14.2 1 -3.3 1 2.1 1 -5.7 1 2.4 1 -0.5 1 3.1 1 8 1 13.7 1 -2.1 1 0.9 1 -1.5 1 -0.1 1 0.9 1 -0.2 1 -2.1 1 5 1 -3.4 1 -2.6 1 4.6 1 -3.7 1 2.2 1 -1.2 1 0.3 1 -0.3 1 -1.5 1 1 1 3.6 1 -8.2 1 4.2 1 0.5 1 -3 1 -0.7 1 6.5 1 -5 1 4.5 1 -3.1 1 -1 1 0.6 1 0.1 1 0.9 1 -1.6 1 -0.7 1 -0.1 1 2.1 1 -1.2 1 -3.5 1 0.5 1 1.7 1 -1.9 1 0.4 1 -1.2 1 1.2 1 1.2 1 1 1 -1.9 1 3.9 1 -4.2 1 6.2 1 -4.2 1 -0.9 1 -1.9 1 -4.3 1 5.1 1 0.8 1 3.4 1 -6.1 1 6.5 1 -3.9 1 2 1 -6 1 5.4 1 -0.7 1 2.2 1 -0.9 1 -2.1 1 4.2 1 -0.2 1 0.1 1 1 1 0.4 1 -1.9 1 -2.4 1 0.2 1 5.3 1 -1 1 -1 1 -0.8 1 1.1 1 0.1 1 -0.5 1 -0.4 1 5.6 1 -3.5 1 -1.4 1 -1.1 1 1.3 1 2.9 1 0.3 1 -1.7 1 0.7 1 -0.5 1 -1.4 1 4.7 1 -1.6 1 4.1 1 -6 1 1.3 1 2 1 -2.1 1 -2.1 1 0.9 1 2 1 0.5 1 -0.8 1 2.1 1 -0.1 1 -1.2 1 -0.6 1 -0.5 1 1.5 1 0.7 1 -1.6 1 0.7 1 -1.5 1 -2 1 0.7 1 3.4 1 -0.6 1 2.2 1 -2.9 1 1.5 1 0.9 1 -0.7 1 -3 1 0.8 1 0.6 1 -2.1 1 2.7 1 1.1 1 -2.9 1 4.7 1 -4.3 1 0.2 1 -0.1 1 -0.9 1 2.1 1 -0.7 1 3.1 1 -2 1 -0.1 1 -1.5 1 -2.2 1 2.5 1 -1.5 1 3.5 1 -1.9 1 3.2 1 -1.8 1 0.2 1 -1.1 1 -0.1 1 0.9 1 0.5 1 -3.1 1 2.2 1 4.1 1 -5.2 1 -0.3 1 -0.8 1 -1.5 1 5 1 -2.2 1 0.5 1 2.9 1 1.2 1 -6.4 1 3.6 1 -0.8 1 -0.4 1 0.1 1 -1 1 3.1 1 -1.9 1 -0.6 1 1.7 1 -0.7 1 -0.8 1 -0.3 1 2.7 1 -2.4 1 -1.2 1 -1.5 1 0.9 1 -1.3 1 2.1 1 0.3 1 -4.5 1 3.9 1 1.2 1 -1 1 -2.1 1 4.1 1 -3.7 1 -1.1 1 0.2 1 2 1 1.9 1 0.3 1 -1.9 1 -2.7 1 0.9 1 -0.5 1 1.3 1 -3 1 3.5 1 0.9 1 -1.5 1 1.1 1 -2.7 1 -1.1 1 1.5 1 3.4 1 -0.3 1 -2.9 1 3.1 1 -3 1 3.4 1 -2 1 -1.9 1 2.3 1 -3 1 -0.4 1 -1 1 3.1 1 -0.6 1 -0.1 1 -0.8 1 3.5 1 -3.6 1 -0.7 1 3.7 1 0.2 1 -2.1 1 -4 1 2.1 1 2.2 1 -1.2 1 2.8 1 -5.6 1 3.8 1 -2.6 1 3.6 1 -2.7 1 2 1 -3.4 1 -1.6 1 0.4 1 0.7 1 -1 1 3.9 1 0 1 -2.3 1 -2.8 1 1.4 1 -1.4 1 3.8 1 -2.5 1 0 1 -2 1 -3.3 1 2.1 1 -0.9 1 2.6 1 -0.8 1 -1.9 1 0.7 1 3.6 1 -4.9 1 0 1 1.3 1 -0.8 1 0.7 1 2.1 1 2.7 1 -6.3 1 3.8 1 0.6 1 0.3 1 0.4 1 0.3 1 3.1 1 -2.3 1 1.2 1 0.8 1 0.9 1 0.2 1 3 1 -1.1 1 1.2 1 0.5 1 -0.9 1 1.3 1 0.5 1 3.2 1 -0.8 1 0.2 1 3.3 1 1.3 1 -3.7 1 7.2 1 -2.6 1 0.2 1 2.5 1 -1.6 1 -1.2 1 5.3 1 -6.2 1 1.8 1 1.7 1 -3.8 1 1.7 1 0.8 1 3.7 1 -6.4 1 1.4 1 1.2 1 -1.3 1 -2.6 1 2.9 1 -0.7 1 0.5 1 1.1 1 -0.3 1 -1.3 1 -0.3 1 -2.7 1 1.8 1 0.7 1 -1.2 1 0.9 1 -1.8 1 4.5 1 1.2 1 -4.8 1 1.4 1 -1.2 1 2.9 1 -1.6 1 -0.7 1 -0.6 1 0.7 1 -2.2 1 3.2 1 -2.6 1 2.3 1 -0.7 1 1.8 1 -2.1 1 2 1 -3.7 1 2.9 1 -1.6 1 0.8 1 -0.3 1 1.7 1 -5.7 1 4.5 1 -3.5 1 5.2 1 -6.1 1 1.9 1 -1.3 1 6.3 1 -5.6 1 2.7 1 -1.3 1 -2.4 1 2.8 1 1.9 1 -1.6 1 2.1 1 -2.5 1 0.7 1 -0.7 1 1.4 1 2.9 1 -2.9 1 -0.3 1 -1.6 1 -0.2 1 4.2 1 -4.9 1 0.4 1 1.5 1 -0.6 1 4.5 1 -8.2 1 5.2 1 0.7 1 -3.5 1 0.9 1 2 1 2.3 1 -4.9 1 -1.2 1 4.8 1 1.1 1 -3.5 1 -3.6 1 6.9 1 -3.1 1 2.5 1 -2.2 1 -0.6 1 -0.2 1 3.7 1 -0.1 1 -6.8 1 2.3 1 5.1 1 -4 1 -1.9 1 2.6 1 -0.2 1 -0 1 -0.8 1 0.4 1 -0.3 1 1.5 1 -2.2 1 1 1 0.3 1 2.7 1 -1.8 1 -0.9 1 1.3 1 -0.3 1 1.3 1 -1.1 1 2.4 1 -0.8 1 -2.7 1 -0.7 1 2.5 1 -0.7 1 -1.2 1 -2.6 1 -0.7 1 4.1 1 0.8 1 0.1 1 -4 1 4.4 1 -3 1 1.8 1 0 1 -2.3 1 0.4 1 -2.8 1 2.2 1 -1.7 1 4.2 1 -0.7 1 1.6 1 -1.1 1 -1.9 1 1.9 1 -1.4 1 1.9 1 -0.6 1 -2.5 1 1.9 1 0.1 1 -0.7 1 2.2 1 1.6 1 -4 1 0 1 -3.6 1 4 1 -0.6 1 -3.3 1 4.7 1 0.5 1 -2.5 1 0.6 1 -1.1 1 3.3 1 -4.4 1 2.3 1 4.3 1 -3.7 1 0.8 1 -1.2 1 -2 1 2.2 1 0.8 1 -2.7 1 2.5 1 1.7 1 -0.4 1 -5 1 1.1 1 -1.2 1 5 1 -0.9 1 0.2 1 -3 1 -0.6 1 2.3 1 0 1 -1.8 1 1.8 1 1 1 -0.9 1 -2.4 1 -2.1 1 3.5 1 0.8 1 -0.9 1 -0.3 1 -0.5 1 2.6 1 -1.5 1 0.3 1 -2.1 1 0.6 1 1.5 1 -2.3 1 -0.5 1 1.7 1 2.9 1 -2 1 2.4 1 -3.1 1 -0.4 1 -2.1 1 1.5 1 3.8 1 -2.1 1 0.7 1 -0.1 1 -1.4 1 -0.4 1 0.5 1 1 1 -0.4 1 0 1 -0.7 1 -1.8 1 0.9 1 -1.3 1 3.6 1 -5.9 1 3.5 1 4.9 1 -5.2 1 -1.6 1 2.1 1 2.4 1 -2.8 1 1.4 1 -1 1 -1 1 6.7 1 -5.9 1 -1.3 1 0.1 1 1.6 1 -0 1 0.6 1 -1.3 1 -3 1 3.7 1 -1.7 1 -0 1 -2.4 1 1.7 1 -0.3 1 1.2 1 -2.8 1 2.8 1 0.1 1 -2.4 1 0.8 1 -0.5 1 3.3 1 -6.6 1 4.1 1 -2.6 1 2.3 1 2.4 1 -2.9 1 1.4 1 -2 1 5.2 1 -2 1 0.4 1 -4.8 1 0.4 1 4 1 -2.5 1 -0.2 1 1.1 1 -3.1 1 3.8 1 -1.5 1 0.7 1 -2.2 1 2.1 1 -2.4 1 3.1 1 0.2 1 -0.5 1 -0.9 1 0.2 1 -6.5 1 6.6 1 -2.2 1 0.5 1 -0.8 1 -2.3 1 1.4 1 2.2 1 1.2 1 -4 1 -0.8 1 4.3 1 -4.7 1 5.4 1 -4.1 1 -2 1 3.3 1 1.1 1 -6.3 1 5.4 1 -3.8 1 3 1 -3.9 1 -2.6 1 3.6 1 0.4 1 1.8 1 -1.1 1 -2.4 1 -2.3 1 -1.3 1 -0.8 1 -2.6 1 -1 1 -6.5 1 2.7 1 -3 1 2.2 1 -6.1 1 -5.1 1 -1.8 1 -7.9 1 -3.7 1 -7.1 1 2 1 -5 1 -5.4 1 1.8 1 4.2 1 3.4 1 5.1 1 2.9 1 4.8 1 6.2 1 6.4 1 0.7 1 2.1 1 6.3 1 -2 1 5.6 1 0 1 2.6 1 2.7 1 -1.2 1 0.7 1 -3.1 1 0.6 1 2.6 1 1.8 1 -0.2 1 1.9 1 -3.8 1 -0.1 1 1.6 1 -1.8 1 -0 1 -1.8 1 3.9 1 -3.8 1 3.1 1 -3.6 1 4.8 1 -4 1 3.7 1 -4.6 1 2.2 1 3.2 1 -3.7 1 1.7 1 -1 1 -3.4 1 5 1 0.3 1 -2.9 1 3.3 1 -2.6 1 -0.3 1 1.9 1 -1.2 1 5.7 1 -7.3 1 4.4 1 0.5 1 -5.6 1 0.5 1 4.4 1 -1.9 1 1.6 1 1.5 1 -2.8 1 -1.3 1 -3.1 1 5.6 1 -2.2 1 2.4 1 -0.1 1 -3 1 5.9 1 -1.2 1 -0.4 1 -3.9 1 1.5 1 -0.2 1 0.3 1 -1.4 1 3 1 -0.3 1 0.2 1 -1.6 1 3.4 1 -2 1 -5.6 1 4 1 1.1 1 2 1 -2.4 1 0.1 1 -0.7 1 2.5 1 -2.1 1 -0.3 1 -0.2 1 2.5 1 -2.1 1 -2.1 1 4.3 1 -2.5 1 2.1 1 0 1 1.6 1 -0.3 1 -3 1 0.8 1 -2.2 1 5.7 1 -2.3 1 1.8 1 -3.2 1 -3.3 1 6.8 1 -2.7 1 0.1 1 -0.1 1 1.1 1 -0.2 1 -4 1 5.1 1 -3 1 0.1 1 4.2 1 -1.5 1 -2.3 1 -2.9 1 3.9 1 0.7 1 -1.1 1 -2.2 1 0.9 1 -0.9 1 2.9 1 1.1 1 0.5 0.5 -3.3" stroke="#0000FF" stroke-width="1.1" fill="none" stroke-linejoin="round"/>
<path d="M186.5 537.0l1 -0 1 -1.7 1 0.1 1 2.4 1 -1.6 1 3.3 1 1.6 1 3 1 -1.4 1 1.7 1 0.9 1 0.4 1 -1.8 1 -1.3 1 -1.3 1 -1.2 1 0.1 1 0.5 1 -1.9 1 1.6 1 -2.6 1 -1.4 1 0.3 1 -1.3 1 -0.3 1 2.2 1 -2.3 1 -0.4 1 0.1 1 -0.9 1 -3.2 1 0.7 1 -3 1 -2.6 1 -1.9 1 -4.9 1 -2.2 1 -2.3 1 -2.5 1 -5.2 1 -4.3 1 -3.4 1 -3.8 1 -5 1 -4.2 1 -5.9 1 -1.5 1 1.3 1 0.9 1 2 1 4.9 1 1.2 1 3.3 1 6.2 1 6.2 1 3.6 1 7.2 1 3.8 1 4.9 1 3.2 1 3.1 1 4.6 1 -1.4 1 5 1 -1.4 1 2.2 1 2.5 1 0.8 1 0.4 1 -1.5 1 3 1 -0.9 1 4.7 1 -2.6 1 1 1 -1.1 1 1.2 1 -0.6 1 2.9 1 -1.2 1 1.1 1 -1.3 1 0.4 1 2.2 1 -2.4 1 -0.9 1 2.7 1 -1.7 1 0.9 1 1.7 1 -1.9 1 2 1 -1.8 1 2.5 1 -0.1 1 -2.2 1 0.2 1 -0.9 1 1 1 0.8 1 -3.3 1 2.4 1 -2.9 1 0.2 1 -1.4 1 4.1 1 -2.7 1 -0.1 1 -1.3 1 1.8 1 -3.9 1 2.4 1 2.4 1 -3 1 0.6 1 0.9 1 -1.4 1 1.4 1 1.4 1 -0.5 1 0.6 1 -0.5 1 1.1 1 -0.2 1 1.8 1 -0.7 1 -0.9 1 -2.4 1 3.8 1 0.2 1 -1.8 1 -1.1 1 1.1 1 2.5 1 -2.1 1 0.8 1 0.9 1 1.3 1 -1.4 1 0 1 -0.4 1 2.6 1 -0.5 1 -1.3 1 -1.4 1 0.7 1 1.7 1 -1.5 1 1.9 1 -0.6 1 -0 1 0.4 1 -0.2 1 -1.6 1 0.6 1 3.1 1 -4.1 1 0.8 1 1.8 1 -1.5 1 -0.8 1 -0.6 1 2.1 1 0.5 1 0.4 1 -1.6 1 1.1 1 -2.4 1 1.3 1 -1.1 1 1 1 0.6 1 0.3 1 -2.5 1 2.6 1 -2.1 1 -0.7 1 0.9 1 -1.6 1 1.7 1 0.2 1 -0.6 1 0.7 1 -1 1 0.3 1 -1.8 1 1.6 1 -1.1 1 0.3 1 0.3 1 0.3 1 -2.3 1 -0 1 1.3 1 0.7 1 -0.2 1 0.4 1 0.3 1 -1.1 1 -0.7 1 -1.4 1 -0.1 1 0.4 1 0.6 1 -0.3 1 -0.5 1 -0.5 1 0.5 1 -0.8 1 -0.3 1 -0.4 1 -1.4 1 -1.1 1 1.2 1 -0.6 1 -1.5 1 -1.1 1 2 1 -4.7 1 -0.5 1 -0.6 1 -2.7 1 0.6 1 1.3 1 -1.7 1 -1 1 -0.6 1 -1 1 0.7 1 -1.1 1 0.2 1 1.5 1 1.9 1 0.5 1 1.4 1 -2.4 1 4.2 1 1.7 1 -0.8 1 -1.6 1 -0.3 1 1.5 1 -1.2 1 2.2 1 -1.2 1 2 1 0.7 1 -3.7 1 2.9 1 -1 1 -0.6 1 1.1 1 0.6 1 1.6 1 -2.7 1 3.1 1 1.3 1 -1.4 1 0.1 1 -0.4 1 -1 1 2.2 1 0.2 1 0.8 1 2.6 1 -1.6 1 0.2 1 1.8 1 -2.9 1 0.8 1 1.3 1 0.1 1 1.9 1 -0.9 1 2.6 1 -0.2 1 -0.8 1 -1.2 1 1.2 1 0.3 1 -2.1 1 1.7 1 0.5 1 -0.5 1 1.6 1 -0.3 1 -2.3 1 1.1 1 -1 1 1.6 1 -1.6 1 2.1 1 -0.5 1 0.7 1 -1.3 1 -1.5 1 3.8 1 -2.2 1 1.8 1 -1.1 1 0.3 1 1.4 1 -1.7 1 1.3 1 -3.3 1 2.7 1 -1.3 1 0.1 1 0.2 1 0.4 1 1.5 1 -4 1 2.2 1 -0.9 1 2.2 1 -1.9 1 1 1 -1 1 1.3 1 0.3 1 -1.6 1 0.5 1 -1.7 1 1.9 1 0.6 1 -1.6 1 1.9 1 -3.7 1 0.2 1 0.5 1 1 1 0.5 1 -0.2 1 0 1 0.9 1 -1.4 1 -1 1 -0 1 3.8 1 -5.2 1 2.4 1 1.9 1 -1.2 1 -1.6 1 0.9 1 1 1 0.3 1 -2.5 1 1.9 1 -0.6 1 0.9 1 0.3 1 -2.1 1 -1.3 1 2 1 1.5 1 -1.3 1 -0.7 1 2.4 1 -4 1 2.1 1 -1.8 1 0.6 1 -0.1 1 1.5 1 -2.9 1 0.4 1 -1.4 1 2.3 1 -1.2 1 0.9 1 -1.9 1 0.7 1 1.5 1 -1.5 1 0.9 1 -0.3 1 -1.1 1 -1.4 1 2.8 1 -1 1 0.8 1 -3.5 1 0.4 1 -0.6 1 1.4 1 2.2 1 -0.6 1 -0.7 1 0.2 1 0.7 1 -1.2 1 0.8 1 -0.2 1 -2.7 1 2.1 1 2.1 1 -2 1 0.4 1 -0.5 1 0.2 1 1.9 1 -1.5 1 -0.8 1 -2.3 1 3 1 -1.5 1 0.3 1 3.1 1 -0 1 -3 1 3.3 1 -0.3 1 -1.4 1 1.9 1 -2.6 1 0.6 1 -0.2 1 0.5 1 2.3 1 -2.4 1 0.3 1 0.3 1 1.4 1 -0.5 1 1.5 1 -1.8 1 -0.6 1 1 1 0.7 1 -1 1 1.4 1 1.8 1 -2.7 1 0.8 1 1.5 1 -2.3 1 -0.2 1 -0.2 1 1.7 1 0.1 1 -0.8 1 0.2 1 1.4 1 -0.5 1 -2.6 1 1.5 1 0.1 1 0.6 1 -1.1 1 -0.6 1 0.1 1 -1.6 1 2 1 -0.8 1 1.2 1 -1.8 1 0.5 1 -0.7 1 -0.2 1 2 1 -1.5 1 1 1 -1.9 1 1.3 1 -2.1 1 1.3 1 -0.1 1 1.1 1 -0.5 1 -0.5 1 1.1 1 -0.7 1 0.3 1 0.2 1 -1 1 -0.2 1 0.7 1 -0.9 1 0.9 1 0.9 1 -0.3 1 -1.4 1 -1.1 1 1.4 1 -0 1 1.4 1 -1.7 1 0.2 1 1.1 1 -1.3 1 0.4 1 2.1 1 -0.2 1 -1 1 -0.4 1 -1.3 1 1.7 1 -0.5 1 0.2 1 -0.8 1 0.6 1 -0.1 1 0.6 1 1.3 1 -1.2 1 -2.3 1 0.8 1 -0.6 1 0.9 1 1.6 1 -0.1 1 -1.1 1 1 1 -1.1 1 -0.7 1 0 1 0.7 1 2.7 1 -3.1 1 3 1 0.1 1 -1.7 1 0.2 1 -0.6 1 0.8 1 0.8 1 -0.7 1 1.2 1 0.3 1 -1 1 0.1 1 -0.4 1 0.5 1 -1.6 1 1.8 1 -0.2 1 -1.2 1 3.5 1 -3.5 1 0.1 1 1.4 1 -2.5 1 1.4 1 -0.8 1 0.7 1 1 1 0.5 1 1 1 -0.3 1 0.4 1 -0.6 1 -1.2 1 1.9 1 -1.8 1 -0.1 1 2.4 1 -0.8 1 -0.6 1 0.7 1 0.1 1 -2.5 1 1.5 1 -1.2 1 1.5 1 -0.9 1 2.4 1 -1 1 -1.4 1 0.9 1 -1.3 1 1.4 1 0.7 1 -0.3 1 -2.5 1 1.9 1 1 1 -0.2 1 1 1 -2.8 1 2.1 1 -1.3 1 1 1 0.3 1 0.4 1 -1.5 1 0.9 1 -1.5 1 -0.2 1 2.3 1 -0.7 1 -1.8 1 1 1 1 1 1.8 1 -0.6 1 -0.2 1 -2.9 1 1.9 1 0.7 1 -0 1 0 1 -0.7 1 2.3 1 -0.3 1 -1.8 1 -1 1 3.6 1 -3 1 2 1 0.9 1 -3.3 1 1.5 1 -0.8 1 1.1 1 -0.3 1 1.9 1 -1.5 1 -0.7 1 1.3 1 -1.5 1 -0.1 1 3 1 -3.5 1 0.4 1 0.6 1 -1.3 1 -1.2 1 3.7 1 -2.1 1 0.2 1 0.2 1 -0.7 1 -0.1 1 1.4 1 2.6 1 -1.9 1 0 1 -2.6 1 1.7 1 -1.3 1 2.2 1 -1.1 1 0.3 1 -0.2 1 -0.5 1 -1.1 1 2.4 1 -2.3 1 0.2 1 1.1 1 -0.5 1 1.1 1 0.8 1 -0.8 1 -0.1 1 -0.2 1 0.9 1 -3.1 1 2.5 1 -1.5 1 -0.3 1 1.4 1 -0.5 1 1.1 1 0.6 1 -3.9 1 2.6 1 2.3 1 -1.3 1 0.7 1 -1.6 1 -1.8 1 0.4 1 2.1 1 0.2 1 -1.9 1 0.5 1 0.6 1 -2.3 1 1.6 1 2.2 1 0.7 1 -2.7 1 2.2 1 -2.7 1 -0.3 1 -1.7 1 3.7 1 -1.6 1 3.1 1 -2.3 1 -0.2 1 -2.3 1 3.8 1 -2.1 1 0.2 1 -2.4 1 3.6 1 0.1 1 -1.9 1 0.8 1 0.3 1 0.7 1 -1 1 1.8 1 -2.3 1 -0.4 1 0.2 1 -2.4 1 1.9 1 2.1 1 -0.8 1 -1.3 1 1.3 1 -2.7 1 2 1 0.9 1 0.2 1 -1.7 1 1.9 1 1.1 1 -2.7 1 1.4 1 -2.7 1 -0.4 1 2.9 1 -0.7 1 0.2 1 -0.9 1 0.3 1 1.3 1 1 1 -2.2 1 -1.7 1 3.4 1 -0.8 1 0.1 1 -0.6 1 2.5 1 -2.6 1 0.5 1 -2.7 1 1.4 1 -0.1 1 0.7 1 0.5 1 -1.3 1 2.9 1 -3.3 1 0.8 1 0.7 1 -1.7 1 2.1 1 0.1 1 -1 1 2.6 1 -2 1 0.3 1 -1.4 1 -0.7 1 1.3 1 0.5 1 -0.1 1 1.6 1 -3.5 1 1.6 1 -0.7 1 3.8 1 -2.1 1 0.2 1 -0.5 1 2.4 1 -1.3 1 0.9 1 -2.4 1 3.9 1 -0.6 1 0.5 1 1.1 1 -1.4 1 0.4 1 1.3 1 -0.1 1 -0.5 1 0.6 1 -0.4 1 1.6 1 0.4 1 -1 1 2.2 1 -3.9 1 1.5 1 2.2 1 -2.4 1 -1.4 1 3.5 1 -1 1 -2 1 2.3 1 -2.1 1 -0.4 1 1.4 1 -0.4 1 -0.7 1 0.9 1 -0.8 1 1.2 1 -0.1 1 0.9 1 -1.3 1 -1.1 1 0.1 1 1.2 1 2 1 -0.7 1 -1.8 1 1.9 1 -2.5 1 2.5 1 -1.6 1 1.4 1 -0.2 1 -1 1 0.7 1 -1.7 1 1.2 1 1.3 1 3.5 1 -3.9 1 -0.7 1 -1.3 1 2.4 1 -3.1 1 1 1 1.3 1 -1.8 1 3.2 1 -0.6 1 -1.9 1 0 1 -0.8 1 -0.1 1 2.1 1 0.2 1 -0.3 1 -0.1 1 -1 1 1.1 1 -2.1 1 1.7 1 1.7 1 -0.2 1 -2.1 1 0.2 1 2 1 0.4 1 -3.8 1 1.3 1 0.7 1 1.2 1 -2.4 1 1.7 1 -1.1 1 3.1 1 -2.2 1 -0.7 1 -0.2 1 1.6 1 -0.4 1 -2.1 1 1.5 1 -1.8 1 0.7 1 -0.6 1 -0.1 1 0.8 1 -0.4 1 1.8 1 0.3 1 -1.2 1 -1 1 2.2 1 -3.3 1 0.1 1 3.1 1 -0.1 1 0.4 1 -1.4 1 -1.2 1 0.9 1 1.2 1 -1.5 1 0.1 1 -0.8 1 0.2 1 2.4 1 -0.5 1 -1.9 1 0.1 1 0.6 1 1.3 1 -2 1 1.2 1 -2.3 1 1 1 2 1 0.5 1 -2.4 1 0.5 1 1.8 1 -1.4 1 -0.1 1 1.2 1 -0.4 1 1.1 1 -0.4 1 -1.6 1 0.5 1 0.1 1 -1.5 1 0.5 1 2.2 1 -3 1 3 1 -0.8 1 -0.5 1 0.8 1 -0.1 1 0.9 1 -1.9 1 0.2 1 -0 1 2.5 1 -1.1 1 -2.2 1 0.7 1 -0.4 1 0.8 1 0.2 1 2.4 1 -4.7 1 3.3 1 -0.7 1 -1.3 1 0.6 1 -0.4 1 0.6 1 1.1 1 -2.9 1 3.3 1 -1.9 1 2.1 1 -1.2 1 0.9 1 -0.8 1 0.6 1 -1.1 1 -1.1 1 1.8 1 0 1 1.6 1 -4.7 1 2.1 1 1.4 1 -2.7 1 1.2 1 2.7 1 -0.8 1 -2.6 1 2.6 1 -0.2 1 -0.5 1 -0.5 1 -0.1 1 -1.3 1 0.4 1 1.4 1 -0.6 1 1.9 1 -2.5 1 -2.4 1 2.4 1 0.7 1 0.1 1 -0.3 1 -1.1 1 2.7 1 -2.5 1 1.6 1 -1.1 1 -1.1 1 3 1 -4.5 1 1.9 1 1.5 1 -0.9 1 1.3 1 -1 1 -0.4 1 3 1 -2.8 1 0.1 1 -1 1 0.3 1 1.7 1 -0.1 1 -0.7 1 -0.8 1 1.6 1 -2.8 1 1.6 1 0.1 1 -0.7 1 1.2 1 -1 1 -0.1 1 3 1 -1.2 1 0.5 1 -1.3 1 1 1 -0.2 1 0.5 1 1.3 1 -3 1 0.6 1 -0.4 1 -3.9 1 2.4 1 1.6 1 0.7 1 -1.4 1 2 1 0.2 1 -2 1 2.1 1 0.4 1 -1.5 1 -1.6 1 2.8 1 -1.9 1 -0.3 1 0.6 1 -0.8 1 1.9 1 -0.3 1 0.5 1 -0.8 1 -1.6 1 0.8 1 1.1 1 -1.4 1 3.8 1 -3.7 1 -0.4 1 2 1 -0.4 1 -0.9 1 -0.3 1 0.8 1 0.4 1 -0.1 1 -1.2 1 0.8 1 0.5 1 -0.1 1 -4.4 1 2.5 1 0.1 1 0.6 1 0.5 1 0.8 1 -0.3 1 -0.9 1 0.1 1 2 1 -2.7 1 1 1 1.5 1 -1.4 1 -2.8 1 2.8 1 -0.9 1 0.3 1 1.3 1 -0.7 1 -0.8 1 1.3 1 -0.6 1 -0.4 1 0.2 1 -0 1 -0.7 1 -0.2 1 0.5 1 -1.1 1 -0.4 1 3 1 -1.8 1 0.2 1 -0.2 1 0.2 1 -0 1 0 1 -1 1 2 1 -1.9 1 1.9 1 -3.4 1 1 1 2.3 1 -1.3 1 -0.7 1 1.1 1 -1.8 1 1.1 1 -2.9 1 1.6 1 -0.6 1 0.9 1 -0.2 1 -2.5 1 2.2 1 -3.2 1 -2.4 1 -1.1 1 3.8 1 -2.7 1 -2.1 1 -1.9 1 -2.4 1 0.8 1 -3.6 1 0.5 1 -3.6 1 -3.8 1 2.5 1 -2.1 1 0 1 2.8 1 -0.8 1 3.3 1 0.2 1 0.5 1 3 1 0.3 1 3.8 1 1.4 1 0.5 1 2 1 1 1 -0.3 1 1.7 1 -1 1 1.2 1 -1.6 1 1.5 1 0.6 1 -1.2 1 0.7 1 0 1 1.7 1 -1.5 1 1.5 1 1.4 1 -1.2 1 -2.1 1 2.2 1 1.2 1 -1.4 1 1.7 1 -0.4 1 -0.2 1 -0.6 1 -0.2 1 0.4 1 0.4 1 0.6 1 -0 1 -0.8 1 0.5 1 0.5 1 -2.3 1 1 1 0.1 1 0.7 1 -0.1 1 0.1 1 -0.7 1 1.8 1 -0.4 1 -2.2 1 2 1 -1.3 1 3.3 1 -2.5 1 0.1 1 0.6 1 -0.3 1 0.2 1 1.8 1 -1.5 1 0.7 1 0.4 1 -2.4 1 3.1 1 -1.2 1 0.4 1 -2.1 1 1.9 1 -0.4 1 -1.1 1 3.3 1 -2 1 -0.9 1 0.5 1 0.8 1 0.3 1 -0.6 1 0.7 1 0.3 1 -3.1 1 0.9 1 -0.5 1 1.2 1 1.6 1 -0.9 1 -2 1 0.9 1 1.5 1 -1.8 1 0.6 1 0.4 1 -2.4 1 3 1 -0.5 1 0.3 1 -1.8 1 0.2 1 0.3 1 0.9 1 -0.2 1 0.1 1 1.9 1 -0.5 1 -2.3 1 0 1 2.8 1 -2.4 1 2 1 0.3 1 -2.5 1 0.3 1 0.5 1 -1.1 1 -0.2 1 0.7 1 1.5 1 -1.5 1 0.3 1 -0.3 1 -1 1 3.2 1 -4.3 1 1.9 1 1.4 1 -2.2 1 2.3 1 0.7 1 -2.4 1 1.3 1 -1.5 1 1.8 0.5 -0.4" stroke="#000000" stroke-width="4.4" fill="none" stroke-linejoin="round"/>
<path d="M186.5 463.3l1 -2 1 -4.7 1 -1.6 1 -0.9 1 1.6 1 7.2 1 3.5 1 -2.6 1 2.4 1 -3.3 1 -1.8 1 -4.1 1 -1.5 1 -2.3 1 -3.2 1 -1.7 1 -4.7 1 2.4 1 -5.2 1 -3.6 1 -1.2 1 -3 1 -2.4 1 -7.9 1 -5.9 1 -9.6 1 -3.7 1 -8.6 1 -4.4 1 -10.5 1 -6.7 1 -13.8 1 -23.9 1 -43.9 1 -36 1 -21.3 1 -42.5 1 -21 1 -9.3 1 -15.4 1 -23.5 1 -12.5 1 -8.8 1 -6.9 1 -2 1 -0.5 1 0.9 1 3.2 1 17.5 1 16.9 1 21.8 1 27.2 1 35.5 1 38.3 1 25.6 1 19.4 1 28.8 1 31.9 1 32.2 1 21.2 1 8.8 1 7.7 1 3.8 1 6 1 3 1 9.7 1 3.1 1 3.3 1 2.2 1 3.7 1 3 1 2.2 1 2.2 1 -0.1 1 3.6 1 0.4 1 0.5 1 1.1 1 2.9 1 1.7 1 -2.1 1 4.7 1 0.4 1 -1.6 1 0.4 1 1 1 1.6 1 -1.4 1 -0.9 1 1.7 1 -3.3 1 2.2 1 0.6 1 -1.8 1 -0.4 1 -1.3 1 -0.8 1 -1.8 1 -2.3 1 -0.3 1 -0.8 1 0.8 1 -0.4 1 -2.2 1 -2.2 1 -0.8 1 -0.2 1 1.2 1 -2 1 -1.1 1 -1.4 1 1.8 1 -0.8 1 0.1 1 1.4 1 3.6 1 -0.6 1 4.1 1 0.8 1 -0.4 1 2 1 -0.3 1 0 1 1.6 1 0.1 1 2.5 1 0.1 1 1.3 1 0.9 1 -4.4 1 4.6 1 -2.3 1 2.8 1 -1 1 1.5 1 1.8 1 -3.6 1 2.6 1 -0.1 1 -2.1 1 3.4 1 -0.7 1 -0.5 1 -0.2 1 4.9 1 -4.5 1 -1.8 1 1 1 0.6 1 -0.1 1 0.2 1 -1.4 1 1.8 1 -1.5 1 -1.3 1 0.4 1 0.3 1 1.3 1 -0.8 1 -1.3 1 0.2 1 -0 1 2 1 -3.6 1 1.1 1 0.1 1 -2.3 1 1.3 1 -0.3 1 -0.9 1 1.1 1 0.4 1 -0 1 -1.8 1 0.3 1 2.5 1 -4.5 1 1.5 1 0.7 1 -1.1 1 0.4 1 -0.8 1 0.5 1 0.5 1 -2.1 1 0.2 1 -0.5 1 -0.8 1 0.2 1 -1.7 1 2 1 0.8 1 -0.5 1 -1 1 -3.3 1 2.5 1 -3.4 1 0.2 1 1.6 1 -4.4 1 1.7 1 -1.6 1 -1.4 1 -1.9 1 0.5 1 -2.4 1 0.3 1 -1.4 1 -5.2 1 -1.1 1 -2.2 1 -4.3 1 -3.8 1 -3 1 -5.2 1 -6.9 1 -3.9 1 -4 1 -8.1 1 -6.3 1 -3.7 1 -7 1 -9.6 1 -4.8 1 -3.2 1 -6 1 0.3 1 1.7 1 4.8 1 0.3 1 4.4 1 6.1 1 8.7 1 4.9 1 4.2 1 8.1 1 4 1 0.5 1 0.2 1 1.2 1 1.1 1 -1.2 1 0.6 1 -0.6 1 -0.1 1 -0.3 1 2.1 1 0.1 1 1.1 1 2.5 1 0.7 1 1.7 1 -1.8 1 3.9 1 -0.1 1 1.3 1 1.5 1 4.3 1 1.2 1 -0.2 1 1.2 1 3.2 1 1.4 1 4.6 1 -1.9 1 1.4 1 3.7 1 1.7 1 1.4 1 1.8 1 2.7 1 -2 1 0.6 1 -0.7 1 3.2 1 1.3 1 -0.9 1 2.1 1 -1.1 1 2.2 1 -1.3 1 -1.5 1 0.8 1 -0.9 1 -0.1 1 2.7 1 0.9 1 1.5 1 -2.3 1 -0.1 1 -0.9 1 2.8 1 -0.6 1 -1.1 1 1.8 1 0 1 -2.9 1 3.5 1 -0.6 1 -0.5 1 0.1 1 2.8 1 -0.1 1 0.5 1 -3.6 1 0.8 1 2 1 -2.5 1 0.6 1 -1.3 1 4.7 1 -1 1 -0.7 1 -0.3 1 -0.8 1 -0 1 1.2 1 -1.8 1 2.4 1 -2.3 1 -0.6 1 2.6 1 -1.9 1 0.7 1 -1.3 1 -2.5 1 3.4 1 -2.6 1 2.9 1 -3.5 1 -0.6 1 2.5 1 -0 1 -0.6 1 -1.8 1 2.4 1 -3.1 1 1 1 -0.6 1 0.3 1 1.3 1 -2.1 1 1.2 1 -0.1 1 -3.3 1 0.4 1 0.7 1 -0.6 1 0.8 1 -3.1 1 2.9 1 -0.4 1 -1.5 1 -1.9 1 1.2 1 -1.1 1 0.9 1 -1.3 1 0.4 1 -2.1 1 1.6 1 -5.6 1 0.7 1 0.9 1 -3.7 1 1.7 1 -3.7 1 0.3 1 -2.7 1 -1.1 1 -1.4 1 -2.7 1 -2.8 1 0.7 1 -5.2 1 -3.4 1 0.4 1 -1.7 1 -1 1 -0.8 1 -4.9 1 1.2 1 -0.9 1 -2.1 1 0 1 -3.9 1 3.6 1 3.7 1 -3.4 1 2.8 1 2.3 1 2.6 1 4.7 1 -0.4 1 5.4 1 2.8 1 -1.4 1 2.7 1 3.4 1 0.1 1 -0.2 1 -3.1 1 3.9 1 1.6 1 0.2 1 1.4 1 4.9 1 -3.2 1 -0.3 1 1.9 1 -0.7 1 0 1 0.3 1 1.1 1 -0.7 1 -1.8 1 1.3 1 0.8 1 -1.2 1 2 1 -0.4 1 -2.3 1 1.5 1 2 1 -0.8 1 -2.3 1 0.9 1 -2.3 1 -1.3 1 2.2 1 -0.7 1 0 1 -1 1 0.2 1 -1.3 1 1 1 0.2 1 -1.4 1 0.8 1 -3.5 1 0.9 1 2.5 1 0.1 1 -2.2 1 -0.8 1 -1.8 1 1.7 1 0.1 1 -3.3 1 2 1 -0.6 1 -0.7 1 -2.6 1 1.4 1 -3.2 1 3 1 -2.4 1 -2.3 1 2.5 1 -0.8 1 -2.9 1 3 1 -4.5 1 1.1 1 0.5 1 -4.8 1 3.5 1 -1.9 1 -0.6 1 -2 1 1 1 -2.8 1 -0.8 1 -0.4 1 -2 1 2.8 1 -4.1 1 0.7 1 0.8 1 1 1 1.6 1 0.9 1 -0.6 1 0.6 1 1.1 1 1.5 1 0.3 1 -1 1 -1.4 1 5.7 1 -1 1 -0.4 1 0.5 1 -0.8 1 -0.4 1 1 1 0.2 1 -0.5 1 -1.2 1 1.3 1 0.9 1 -1.5 1 0.3 1 -2.9 1 2.1 1 -0.2 1 -1.6 1 -0.9 1 2.5 1 -1.8 1 1.4 1 -1.4 1 1.1 1 -1.4 1 -1.7 1 1.5 1 -0.6 1 1 1 -1.7 1 -0.2 1 1.3 1 0.1 1 -0.8 1 -0.1 1 -1.1 1 -0.1 1 -0.4 1 -1.1 1 -1 1 -0.5 1 2.3 1 -3.5 1 -0.9 1 -0.6 1 -0 1 -0.1 1 -2 1 -1.3 1 2.7 1 -2.5 1 2.4 1 0 1 1.6 1 1.1 1 -1.2 1 -0.5 1 -0.2 1 1.2 1 1.7 1 -2 1 3.2 1 0.5 1 1.3 1 -0.7 1 1.1 1 -0.6 1 0.9 1 -1.1 1 2.9 1 2.3 1 -1.2 1 0.8 1 -1.2 1 3.5 1 -2.3 1 2.4 1 -0.4 1 -0.9 1 2.9 1 -0.8 1 0.6 1 0.8 1 -0.2 1 -0.1 1 1.5 1 -0.8 1 0.9 1 -0.6 1 -0.8 1 1.3 1 0.5 1 0.8 1 1.7 1 -3.4 1 2.5 1 -2.7 1 1.7 1 0.8 1 -2 1 0.7 1 2.7 1 -0 1 -0.1 1 -0.8 1 3.7 1 -2.8 1 -0.9 1 3.2 1 -1.4 1 -1.3 1 1.8 1 -1.4 1 0.5 1 -0.6 1 -1.8 1 2.4 1 -1.1 1 -1.6 1 0.2 1 2.1 1 -1.7 1 0.5 1 0.7 1 -0.6 1 -2 1 2.8 1 0.5 1 0 1 1.1 1 -1.5 1 0.7 1 1.1 1 -2.2 1 2.6 1 0.1 1 -1.1 1 1.4 1 -1.2 1 -2.1 1 2.6 1 -1 1 0.1 1 -0.2 1 1.6 1 -0.9 1 -1.4 1 1.7 1 0.5 1 -1.6 1 0.5 1 0.1 1 -0.3 1 1.2 1 0.8 1 1 1 -0.9 1 -0.3 1 0 1 0.2 1 -2.3 1 1.2 1 -0.6 1 -0.7 1 -0.6 1 -0.2 1 0.1 1 -1.4 1 2 1 -0.8 1 -0 1 0.1 1 0.3 1 -1.9 1 0.4 1 -2.1 1 -1 1 0.1 1 4.1 1 -4.5 1 2.5 1 1 1 -2.8 1 2.3 1 -0.1 1 -1.5 1 1.5 1 -2.5 1 -2 1 1.2 1 -1.5 1 -1.4 1 -0.2 1 4.1 1 -3.9 1 0.4 1 -1.2 1 0.7 1 -0.7 1 -0.6 1 -1.2 1 -0.6 1 0.6 1 1 1 2 1 -1.5 1 0.8 1 -1.9 1 -0.9 1 -1.7 1 1.5 1 -2.8 1 2.1 1 2.2 1 -1.8 1 0.8 1 -2.1 1 -1.5 1 0.9 1 -0.3 1 1.7 1 0.5 1 -3.9 1 -0.1 1 -0.3 1 -0.9 1 -1.7 1 1.1 1 -0.3 1 -0.5 1 -2.5 1 0.9 1 -2.4 1 3 1 -2.7 1 0.7 1 -0.5 1 -0.3 1 -0.8 1 -1 1 4.2 1 -2 1 -0.2 1 2.1 1 -2.9 1 0.6 1 -0.9 1 1.3 1 -1.2 1 -0.5 1 -1.2 1 0.1 1 0.6 1 -4.7 1 1.9 1 -0.9 1 -0.2 1 -2.5 1 3.3 1 -2 1 0.9 1 -0.2 1 -1.2 1 1.9 1 -1.3 1 1.5 1 1.3 1 0.9 1 0.6 1 0.3 1 3.4 1 -1.6 1 -1.5 1 1.5 1 0.7 1 1.4 1 0.4 1 0.6 1 4.1 1 -0.9 1 0.8 1 1.5 1 1.5 1 3.6 1 0.4 1 2.4 1 -3.7 1 6 1 2.6 1 2.8 1 -0.6 1 -0.3 1 4.8 1 0.6 1 1 1 4.1 1 4.8 1 2.8 1 1.8 1 -0.2 1 6.5 1 -3 1 1.6 1 -2.7 1 1.6 1 -3.3 1 -1.8 1 -3.2 1 -1.7 1 -0.4 1 -2.6 1 3.6 1 -0 1 -1.6 1 0.6 1 0.5 1 1.7 1 -1.3 1 -0.3 1 -0.5 1 -1.1 1 1.3 1 1 1 -0.3 1 0.7 1 1.1 1 -0.1 1 0.2 1 0.9 1 -0.2 1 0.1 1 1 1 -2.3 1 4 1 -2.9 1 2.9 1 -0.8 1 1.4 1 -1.3 1 -1.2 1 2.4 1 -1.1 1 -0.2 1 -0.1 1 1 1 -0.3 1 -0.9 1 -2.3 1 1.3 1 0.4 1 2 1 -1.9 1 -0.8 1 1.4 1 -1.8 1 -0.1 1 0.1 1 -2.2 1 2.9 1 -0.9 1 -1 1 -1.3 1 1.6 1 1.2 1 -2.7 1 -0.8 1 1.7 1 -2.8 1 -1 1 2 1 -0.6 1 0.3 1 -0.6 1 0.9 1 -0.9 1 -0.7 1 -0 1 1.1 1 0.3 1 -0.3 1 -0.4 1 -5.1 1 2.7 1 0.8 1 0.6 1 -2.4 1 3.7 1 -1.4 1 -1.3 1 1 1 -0.7 1 -0.6 1 1.5 1 -1.2 1 -1.3 1 0.9 1 0.6 1 -1.2 1 2.8 1 -3 1 3.5 1 -1.1 1 -2.4 1 1.3 1 1.2 1 -1.8 1 -1.3 1 1.5 1 2.2 1 -4.5 1 2.5 1 -0.9 1 -0.3 1 -0.5 1 -0 1 1.5 1 -0.7 1 -2.1 1 3 1 -3.7 1 2.3 1 -0.8 1 1.2 1 -1.2 1 0.7 1 -1.4 1 1.1 1 -0.9 1 2.2 1 -3.6 1 2.2 1 -0.9 1 -0.5 1 -1 1 1.2 1 -2.4 1 0.1 1 2.5 1 -2.9 1 3.7 1 -2.2 1 0.6 1 -0.3 1 0.4 1 -0.9 1 -0.2 1 0.2 1 1.4 1 0 1 0.1 1 -1.2 1 -0.8 1 -2 1 2.8 1 0.1 1 -1.7 1 1.4 1 0.5 1 -1.7 1 1.1 1 -1.1 1 -2.7 1 1.4 1 -0.1 1 1.1 1 -1.9 1 0.3 1 -0.7 1 1 1 -0 1 1 1 -0.3 1 -0.9 1 -0 1 -0.3 1 -0.1 1 1.7 1 -5.1 1 2.8 1 0.5 1 1 1 -2.9 1 1.7 1 0.6 1 -1.7 1 -1.9 1 1.8 1 -1.1 1 2.2 1 -1.9 1 3.2 1 -2.1 1 -1.3 1 0.3 1 -0.8 1 1.8 1 1.4 1 -2.2 1 1.3 1 -2.4 1 1.5 1 2.5 1 -4.7 1 3.2 1 -0.1 1 -3.9 1 0.6 1 0.5 1 2.4 1 -1.8 1 0.3 1 1 1 -0.7 1 0 1 -0.7 1 1.8 1 -2.4 1 3 1 -2.5 1 -0.7 1 1.8 1 -0.3 1 -3.1 1 2.8 1 -2.1 1 0.6 1 2 1 -2.1 1 1.5 1 -1 1 2.8 1 -2.6 1 -1.4 1 0.1 1 0.1 1 1.3 1 -0.3 1 1.1 1 -1 1 -0.2 1 0.2 1 -0.7 1 0.5 1 0.5 1 -0.1 1 -1.8 1 -1.6 1 1.1 1 1.3 1 -3.6 1 2.4 1 1.1 1 -1.4 1 -0.8 1 3.5 1 -0.6 1 -2.1 1 1.9 1 -0.2 1 -3.1 1 4.7 1 -4.6 1 0.7 1 -1.1 1 1.4 1 -1.8 1 1.5 1 1.3 1 -1.1 1 -0.7 1 2.2 1 -3.1 1 2.2 1 -1.6 1 0.6 1 -0.3 1 0 1 -0.3 1 -1 1 0.2 1 1.2 1 -0.8 1 -1.4 1 0.5 1 -0.1 1 0.7 1 0.2 1 -0.2 1 -1.1 1 0.7 1 -1.9 1 -2 1 3.4 1 -2.2 1 0.7 1 -0.7 1 1.9 1 -2.7 1 1.3 1 -1.5 1 -1.6 1 -1.1 1 1.9 1 -0.8 1 -0.3 1 0.6 1 -2.6 1 -0.7 1 -1.2 1 -0.3 1 -1.2 1 -1.3 1 3.1 1 -5.4 1 2.1 1 -0.3 1 -0.9 1 -2 1 0.3 1 -1 1 -1.4 1 0.6 1 -1.3 1 -1 1 0.6 1 -3.1 1 0.8 1 -2.6 1 -0.2 1 -2.2 1 -1.8 1 -3.7 1 -2.2 1 -2.7 1 -1.6 1 -2.4 1 -3.3 1 -6.5 1 -4.4 1 -8 1 -7 1 -5.1 1 -6.7 1 -8.9 1 -10 1 -7.4 1 -11.4 1 -8.8 1 -2.3 1 -5.9 1 1.5 1 6.1 1 4.5 1 9.8 1 6.3 1 13 1 14.4 1 10 1 10.9 1 4.1 1 8.5 1 7.5 1 5.2 1 3.3 1 0.5 1 3.4 1 -2.3 1 1.8 1 1.6 1 -0.7 1 0.6 1 0.4 1 0.2 1 -0.2 1 1.1 1 -0.9 1 2.7 1 -2.2 1 4.8 1 -0.2 1 -0.6 1 -1.4 1 -0.3 1 2.4 1 -1.1 1 0.6 1 -1.5 1 2.4 1 -2.2 1 1.2 1 -2.1 1 1.4 1 1.6 1 -1 1 0.1 1 1.7 1 -0.9 1 1.8 1 -4.3 1 3.9 1 0.1 1 -2.4 1 0.5 1 2.9 1 -2.2 1 0.7 1 1.8 1 -1 1 1.2 1 -1.5 1 1.7 1 1.1 1 -0.7 1 -3 1 3.7 1 -0.6 1 -1.1 1 3 1 -3.8 1 4.6 1 -3 1 2.8 1 -2 1 -1.5 1 1.8 1 0.2 1 0.3 1 0.6 1 -2.4 1 1.6 1 0.3 1 -1.3 1 -0.9 1 -0.1 1 2.1 1 -0 1 -2.1 1 -0.7 1 3.1 1 -3.5 1 2 1 -1.3 1 -1.2 1 2.3 1 -0.5 1 2 1 0.9 1 -3.1 1 1.5 1 -0.1 1 -1.9 1 -0.5 1 3.1 1 -2.5 1 0.4 1 -0.3 1 0.2 1 -0.6 1 1.7 1 0.7 1 -2 1 -1.2 1 1.8 1 -1.9 1 1.1 1 2.4 1 1.4 1 -2.4 1 -1.7 1 2.4 1 -3.7 1 1.9 1 2.9 1 -0.9 1 -2.6 1 -0.3 1 3.2 1 -1.1 1 -0.6 1 1.3 1 -1.1 1 -1.6 1 3.4 1 -1.7 1 -0.4 0.5 -0.4" stroke="#808080" stroke-width="4.3" fill="none" stroke-linejoin="round"/>
<path d="M186.0 1044.6l1 -0.8 1 4.1 1 -0.2 1 4 1 -1.4 1 0.6 1 -1.7 1 2.1 1 3.5 1 4.4 1 -8.2 1 0.3 1 2.5 1 0.2 1 -2.3 1 1.2 1 -3.3 1 2.2 1 2.1 1 1.1 1 -3.7 1 -0.5 1 1 1 0.8 1 -1.6 1 -2.7 1 1.6 1 0.6 1 -3.7 1 -1.7 1 2.8 1 -0.9 1 0.5 1 -2.4 1 -2.1 1 -0.4 1 -2 1 -1 1 -2.2 1 -4.2 1 -2.4 1 -10.5 1 -4.1 1 -7.3 1 -1.8 1 -9.2 1 -9.1 1 -4.9 1 -6.1 1 -1.6 1 7.8 1 5.1 1 9.8 1 6.3 1 5.3 1 5.4 1 4.6 1 10 1 5 1 6.3 1 2.4 1 0.7 1 0.7 1 4.4 1 2.2 1 -1.9 1 2.3 1 2.6 1 -3.4 1 1.7 1 -0.8 1 4.9 1 -1.3 1 -0.9 1 -1.9 1 3 1 2.5 1 -2.4 1 -0.1 1 2 1 -3.4 1 2.5 1 1 1 -2.5 1 -0 1 2 1 -0.6 1 -0.2 1 0.9 1 0.1 1 -2.1 1 0.5 1 2.2 1 1.3 1 0.4 1 -4.1 1 3.7 1 -0.6 1 -1.4 1 1 1 0.7 1 1.8 1 -5.3 1 3.2 1 -1.4 1 -0.1 1 2.6 1 -0.6 1 -3.4 1 1.4 1 1 1 -3.1 1 4.3 1 -1.7 1 0.4 1 0.4 1 2.8 1 -3.3 1 -0.8 1 4 1 -4.2 1 -0 1 -1.6 1 4.6 1 -1.5 1 0.4 1 -0.5 1 -0.6 1 -1.2 1 0 1 2.3 1 -0.6 1 2.9 1 -4.5 1 0.5 1 -1 1 4.5 1 -4.9 1 3.8 1 1.3 1 -3 1 1.6 1 -5.3 1 3.2 1 -2.3 1 3.4 1 -0.3 1 -1.5 1 3.3 1 -1.1 1 -1.7 1 0 1 -1.8 1 2.4 1 4.3 1 -5.3 1 2 1 -1.8 1 2.5 1 -0.7 1 -1.4 1 -2.9 1 2.3 1 3.2 1 -2.8 1 1.5 1 -2.1 1 -2.7 1 4.2 1 -0.3 1 -1.8 1 0.3 1 1.2 1 -1.8 1 1.6 1 -1.1 1 -4.2 1 4.1 1 -1 1 -0.6 1 2.2 1 -1.8 1 1.8 1 0.8 1 -1.9 1 -3.3 1 1.3 1 3 1 -2.4 1 -1.2 1 1.2 1 0.9 1 -0.7 1 0.6 1 -3 1 0.9 1 -0.2 1 0.2 1 -4.1 1 3.3 1 -2.3 1 4.9 1 0.1 1 0 1 -1.8 1 -2.7 1 2.5 1 -2.4 1 1.2 1 -3.1 1 0.4 1 1.7 1 2.2 1 -3.6 1 4 1 0.6 1 -8.1 1 1.8 1 -2.5 1 0.8 1 -1.6 1 -0 1 1.1 1 -0.9 1 -2.1 1 -1.2 1 -0.4 1 -0.5 1 0.5 1 -1.2 1 1 1 -3 1 4.4 1 2.5 1 -2.1 1 -2 1 6.1 1 -2.1 1 -4.1 1 6.2 1 2.3 1 0.3 1 2.1 1 -0.8 1 -0.6 1 -3.6 1 2 1 2.7 1 1.3 1 -2.9 1 1.1 1 2.3 1 -4.2 1 0.2 1 3.5 1 1.2 1 -1.1 1 -3.2 1 4.6 1 -2.3 1 4 1 -1.2 1 0.9 1 0.9 1 -2 1 2.7 1 1 1 -1.5 1 1.9 1 -3.5 1 3 1 -1.1 1 -2.2 1 1.8 1 -0.8 1 0 1 1.3 1 1.9 1 -2.6 1 0.8 1 -2.9 1 2.9 1 2 1 -0.7 1 -0.6 1 -1.9 1 -0.9 1 1.6 1 -2.3 1 0.1 1 4.1 1 -3.6 1 5.1 1 -6.1 1 3.4 1 -3 1 2.5 1 -2.4 1 2 1 -0.5 1 -0.6 1 1.8 1 1.8 1 -4 1 2.7 1 -1.6 1 -0.3 1 4.1 1 -8.3 1 2.7 1 -2.2 1 2.7 1 0.1 1 7.5 1 -6.6 1 2.6 1 -1 1 -3.4 1 1.6 1 2.2 1 -2.9 1 -0.1 1 0.5 1 -3.9 1 1.2 1 2.1 1 0.2 1 -2.8 1 1 1 0.3 1 -0.2 1 1.5 1 -1.2 1 -0 1 -3.1 1 0.6 1 2.4 1 -3.7 1 3.4 1 -1.8 1 -0.4 1 2.6 1 -2.6 1 -0.4 1 0.2 1 1.3 1 5 1 -9.3 1 3.9 1 -0.6 1 2.2 1 -2.6 1 -4 1 7 1 -4.6 1 1.8 1 -2.5 1 0.4 1 1.1 1 2.4 1 -0.1 1 -2.8 1 2 1 -1.7 1 0.8 1 0.1 1 0.8 1 -2.4 1 0.8 1 0.6 1 -0.3 1 -1.7 1 4.7 1 -4.1 1 2.2 1 -1.1 1 1.9 1 -6.4 1 7.9 1 -4.3 1 -1.9 1 2.5 1 4.1 1 -3.4 1 -3.2 1 1.4 1 3.5 1 -5.1 1 2.4 1 0 1 4.9 1 -4.4 1 3.3 1 -3.4 1 0.1 1 3.8 1 -0.4 1 -4 1 4.8 1 0.4 1 -1.9 1 1.9 1 0.5 1 -1.1 1 0.2 1 0.2 1 1 1 -1.7 1 2.7 1 -2.5 1 3.1 1 -0.2 1 -1.7 1 3.6 1 2 1 -1.1 1 -5.1 1 5 1 -2 1 -0.5 1 -1.1 1 1.1 1 2.7 1 -1.6 1 -1.8 1 -0.5 1 0.5 1 1.8 1 2.4 1 -5.5 1 2 1 -0.7 1 -0.7 1 2.1 1 0.3 1 -3.7 1 0.7 1 4.2 1 -1.6 1 0.3 1 -1.9 1 0.2 1 1.6 1 -1.8 1 -1.2 1 2.1 1 1.7 1 -3.7 1 3.9 1 -0.7 1 -2.9 1 1.6 1 -0.1 1 1.3 1 -0 1 -3.8 1 -0.2 1 4.3 1 -1.9 1 0.3 1 -0.4 1 2 1 -5.4 1 4 1 -4 1 2.6 1 0.8 1 -5.4 1 3 1 -1.6 1 -0.4 1 0.3 1 -2.4 1 -0.1 1 2.8 1 0.1 1 -2.9 1 -1.8 1 6.9 1 -2.4 1 -1.4 1 -2.7 1 0.9 1 1.7 1 -2.2 1 5.1 1 -2.6 1 0.8 1 -2.3 1 0.5 1 0.6 1 2.4 1 -0.7 1 0.4 1 1.5 1 0.1 1 2.7 1 -2.8 1 -1.3 1 2.2 1 2.9 1 -3.6 1 1.2 1 -0.7 1 1.4 1 -0.3 1 -2.1 1 1 1 2.1 1 0.1 1 -0.4 1 -0.3 1 -2.4 1 -0.3 1 2.2 1 -4.1 1 1.9 1 -3.6 1 2.5 1 -0.8 1 -1.1 1 3.1 1 -2.6 1 0.5 1 0 1 -1 1 3.9 1 -3.7 1 1.2 1 -2.9 1 1.5 1 0.3 1 0 1 -0.5 1 1.4 1 2.7 1 -3.1 1 0.1 1 -0.4 1 5.6 1 -1.6 1 -1.9 1 0.4 1 -2.5 1 1.2 1 0.9 1 -0 1 -1.7 1 0.3 1 2.6 1 -0.2 1 -4.3 1 4.2 1 2.4 1 -3.4 1 1.9 1 -3 1 4.4 1 -3.5 1 -0.1 1 1.9 1 5.2 1 -5.4 1 -1.1 1 3.3 1 -0.3 1 2.8 1 -5.4 1 -0.5 1 2.5 1 1.3 1 0 1 1.4 1 -4.8 1 1.2 1 1.3 1 1.8 1 -0.6 1 -1.7 1 -1.1 1 3.5 1 0.1 1 3.3 1 -5.4 1 3.4 1 -5.3 1 1.3 1 -0.3 1 0.4 1 -0.8 1 0.7 1 0.9 1 -0.8 1 2.1 1 -1.4 1 0.2 1 2.7 1 -2.2 1 -0.3 1 -0.3 1 0.2 1 0.9 1 -2.5 1 3.6 1 0.8 1 -0.8 1 -3.1 1 -2 1 2.1 1 1.1 1 1.3 1 -1.9 1 -0.2 1 3.4 1 -4.1 1 3.2 1 -0.3 1 -4.2 1 3 1 -1.5 1 -0.8 1 -1.6 1 0.5 1 3.7 1 -1.5 1 1.2 1 -2.5 1 1.4 1 0.1 1 -2.4 1 -0.2 1 3.9 1 -0.6 1 -2 1 1.6 1 1.4 1 2.1 1 -5 1 2.8 1 2.8 1 -3.9 1 2.6 1 -7.5 1 7.5 1 -2.7 1 -3.5 1 4.9 1 0.5 1 0.3 1 -0 1 -2.3 1 -1.3 1 0.5 1 0.8 1 0.8 1 -1.7 1 1 1 1.5 1 -1 1 3.7 1 -0.3 1 -6.2 1 1.1 1 -1.4 1 0.3 1 3.2 1 -2.9 1 -0.1 1 1.4 1 2 1 -2.1 1 -0.1 1 2.4 1 -0.8 1 -0.1 1 0.9 1 -3.6 1 2.3 1 -1.6 1 3.1 1 -0.4 1 -3.5 1 4.4 1 -4.7 1 4.4 1 -1.8 1 -2 1 -0.5 1 1.5 1 0.5 1 -1.3 1 2.4 1 -3.7 1 2.6 1 -0 1 -3.5 1 4.1 1 -3 1 -2.3 1 3.5 1 0.7 1 2.1 1 -2.6 1 3.7 1 -0.1 1 -0.7 1 0.4 1 -1.8 1 -1.7 1 2.2 1 0.6 1 -1.4 1 -0.9 1 -2.5 1 4.2 1 -0.6 1 -3.2 1 2.6 1 1.1 1 -1.6 1 1.6 1 -0.2 1 -4.2 1 2.1 1 1.3 1 0.7 1 0.8 1 -6.3 1 3.3 1 1.3 1 0.8 1 0.8 1 -5.1 1 0.9 1 -1.4 1 3.3 1 -4.1 1 4.5 1 -0.6 1 -1 1 -5.1 1 2.6 1 2.5 1 -4.2 1 2.1 1 0.1 1 1.7 1 -1.2 1 -0.2 1 -1.4 1 0.7 1 -0.4 1 1.5 1 -1.8 1 2.2 1 -5.2 1 5.4 1 -2.6 1 2.4 1 -2 1 1.4 1 1.2 1 -3.9 1 1.3 1 -0.3 1 0.9 1 -3.2 1 3 1 0.2 1 -0.6 1 1.6 1 -2.1 1 6 1 -1.3 1 3.3 1 -4.7 1 -0 1 3.3 1 -3.2 1 4.1 1 -1.3 1 1.2 1 1.6 1 -0 1 3.8 1 -2 1 -3.3 1 4.5 1 -4.2 1 2.8 1 -2.5 1 0.9 1 4 1 -3.5 1 -0.1 1 0.2 1 0.5 1 3.3 1 -4.9 1 -0 1 3.4 1 -4 1 2.3 1 2.8 1 -2 1 -0.9 1 -0.4 1 -0.4 1 0.7 1 1.4 1 2.1 1 -0.5 1 -2.9 1 -0.3 1 2.7 1 -4.6 1 2.6 1 0.2 1 -1.4 1 0.2 1 2.6 1 -3.8 1 1.4 1 0.6 1 1.4 1 -2.7 1 4.6 1 -2.6 1 0.1 1 -0.2 1 -0.5 1 -0.6 1 4 1 -1.7 1 -0.6 1 2.1 1 -3.2 1 2.6 1 -1.1 1 -1.7 1 3.1 1 -4.2 1 4 1 -2.8 1 2.4 1 1.8 1 -1.5 1 -2.1 1 1.1 1 -0.7 1 -1.5 1 0.2 1 2.2 1 0.9 1 -4.3 1 3.2 1 1.1 1 -0.7 1 -2.1 1 3.8 1 -4.2 1 3.5 1 1.8 1 -6.8 1 4.3 1 0.2 1 -0.2 1 -1.8 1 0.8 1 -2 1 2.9 1 0.8 1 -2.3 1 -0.4 1 0.8 1 0.9 1 0.1 1 -0.3 1 0.4 1 -2.6 1 -2.6 1 6.2 1 1.6 1 -5.3 1 1.4 1 1.8 1 1.2 1 -0.5 1 1.2 1 -2.5 1 0.9 1 -0 1 -1.6 1 3.1 1 -1.1 1 0.7 1 -2.6 1 2.7 1 -3.9 1 2.7 1 -5.6 1 3 1 3.3 1 -2.2 1 1.1 1 -3.3 1 5.9 1 -1.8 1 -1.1 1 0.8 1 -0.1 1 2 1 -2.2 1 -3.2 1 2.3 1 2.9 1 -1.3 1 -1.9 1 1.9 1 -0.9 1 1 1 -4.1 1 1.3 1 2.9 1 -1.7 1 1.1 1 3 1 -4.2 1 1 1 -1.5 1 -0.1 1 1 1 -2.5 1 -1.2 1 6.4 1 -2.7 1 2.3 1 -1.9 1 0.1 1 0.9 1 0.1 1 -3.5 1 4.5 1 -4.1 1 2.2 1 4.4 1 -4.6 1 2.9 1 -3.7 1 1.8 1 -1.1 1 0.7 1 -2.4 1 -0.1 1 2.4 1 -3.6 1 1.4 1 2.7 1 -2.3 1 -0.5 1 -0.4 1 2.3 1 -0.9 1 0.9 1 -0.6 1 3.8 1 -4.3 1 -2.8 1 3.9 1 -0.2 1 0.2 1 -3.2 1 5 1 -2.1 1 -0 1 -2.9 1 3.8 1 -1 1 2.6 1 -3.2 1 -1.5 1 2.5 1 -2 1 2.5 1 -2.8 1 1.8 1 -0.2 1 0.4 1 -0.9 1 -0.6 1 1.4 1 -0.9 1 1.3 1 -0.8 1 -3.6 1 4 1 2.7 1 -2 1 0.5 1 -0.3 1 -1.7 1 -1.6 1 4 1 0.4 1 -0.9 1 -0.2 1 -0.1 1 -0.8 1 0.6 1 -0.5 1 0.6 1 -2.4 1 0.6 1 2.2 1 -1.7 1 -3.8 1 4.6 1 -4.4 1 7.7 1 -2.2 1 -0.1 1 -2.4 1 -0.9 1 1.7 1 0.4 1 -1.5 1 1.7 1 1 1 -0.2 1 -3 1 -2 1 3.9 1 -1.2 1 2 1 2.2 1 -0 1 -2.5 1 1.5 1 0.9 1 -2.9 1 0.4 1 1.1 1 -1.7 1 -0.8 1 -0.5 1 1.4 1 -1.2 1 2.6 1 -2.1 1 3.3 1 -0.5 1 -4.5 1 4.3 1 -2.8 1 3.3 1 -1.6 1 -1 1 1.2 1 -2.2 1 1.6 1 0.1 1 -1 1 0.9 1 -2.5 1 2.8 1 -3.2 1 3.3 1 -0.3 1 0.4 1 -2.3 1 6.5 1 -5.9 1 0.7 1 -1.7 1 3.9 1 -3.4 1 2.6 1 -3.5 1 2.2 1 -1.2 1 2.3 1 -2.2 1 -1.1 1 2.4 1 -3 1 0.4 1 3.1 1 -4.8 1 4.7 1 -2.1 1 -0.9 1 2 1 0.7 1 -2.2 1 0.7 1 1.7 1 -0.1 1 -1.5 1 -1.3 1 -0.3 1 0.6 1 2.2 1 -0.2 1 -0.5 1 1.9 1 -3 1 -0.2 1 -0 1 4.1 1 -7.2 1 4.2 1 0.2 1 -0.7 1 4.1 1 -2.2 1 -0.8 1 -3.1 1 2.3 1 -1.8 1 0.5 1 -0 1 -1.6 1 1.6 1 1.4 1 -1.5 1 -2 1 -4.3 1 4.8 1 -0.6 1 -2.9 1 -1.2 1 1.4 1 -3.9 1 0.8 1 -6 1 -2.6 1 -1.2 1 -5.3 1 0.6 1 -0.3 1 -3.5 1 4.9 1 -1 1 4.1 1 2 1 1.4 1 2.5 1 0.3 1 3.6 1 1 1 5.1 1 -0.4 1 -3.7 1 4.5 1 -0.5 1 -0.6 1 1.9 1 1 1 -2.2 1 0.7 1 0.9 1 -2 1 2.2 1 -0.5 1 -1 1 -0.2 1 2.1 1 1.1 1 -1 1 -2 1 2.9 1 -1 1 0.8 1 1 1 -3.6 1 1.4 1 -0.8 1 -0.4 1 5.1 1 -1.8 1 -4.8 1 3.9 1 -1.7 1 3.1 1 -1.9 1 -0.4 1 0.6 1 0.5 1 -0.6 1 -0.4 1 0.1 1 1.2 1 -2.9 1 2.1 1 -0.2 1 -0.7 1 2.2 1 -3.5 1 1.6 1 -0.8 1 2.5 1 -1.8 1 1 1 0.6 1 -3.5 1 3.6 1 -2.1 1 0.9 1 0.3 1 1.6 1 -0.1 1 1.9 1 -2.8 1 -1.2 1 -0 1 2.1 1 1.7 1 -2.3 1 -1.6 1 1.5 1 0 1 -0.4 1 -1.3 1 -3.2 1 3.6 1 2.8 1 -1.5 1 -4.3 1 4 1 -3.3 1 6.8 1 -3.2 1 -2.4 1 3.5 1 -2.8 1 2.4 1 -0.9 1 -2.1 1 3.3 1 -3.6 1 4.8 1 -2.3 1 -1.9 1 -1.4 1 6.1 1 -0.3 1 -4.8 1 5.2 1 -2.6 1 -0.7 1 0.3 1 -0.3 1 3 1 -2.3 1 -3.5 1 7 1 -2.1 1 -3.5 1 1.3 1 -1 1 1.7 1 0.7 1 -0.3 1 -1.5 1 -0.3 1 2.9 1 -1.6 1 4.2 1 -5.4 1 2.8 1 -1.3 1 -1.4 1 3.8 1 -2.2 1 -1.8 0.9 1.1" stroke="#0000B0" stroke-width="1.1" fill="none" stroke-linejoin="round"/>
<path d="M186.0 1044.1l1 -2.7 1 6 1 0.2 1 -0.2 1 4.2 1 1.9 1 -1.2 1 -0.3 1 2.9 1 -0.9 1 -4.9 1 0.6 1 -0.8 1 -1.2 1 -2.7 1 3.6 1 -2 1 -0.4 1 2.3 1 -3.5 1 0.9 1 0.6 1 -1.3 1 0.6 1 1.6 1 -1.4 1 2.4 1 -3.7 1 1.7 1 -3 1 1.9 1 -2.2 1 1.9 1 -3.3 1 -3.2 1 -0.6 1 -3.9 1 -4.7 1 -5.9 1 -4.9 1 -1.3 1 -5 1 -5.5 1 -5 1 -8.8 1 -1.5 1 -13 1 -15.1 1 -9.1 1 -2.3 1 9.2 1 5.6 1 3.9 1 6.3 1 9.2 1 5.4 1 13.4 1 5.9 1 6.8 1 7.1 1 8.3 1 5 1 -2.7 1 3.4 1 -0.2 1 6.2 1 0.8 1 5.2 1 -2.9 1 0.5 1 0.5 1 3.5 1 -3.9 1 4.6 1 -0.9 1 -1.3 1 -0.7 1 3.5 1 1.4 1 -4.1 1 1.7 1 2.2 1 -4.2 1 0.6 1 -1.7 1 1.9 1 0.1 1 -0.6 1 -0.5 1 -1.6 1 0.5 1 0.6 1 3 1 -2.1 1 -0.6 1 2.7 1 -0.2 1 -2.4 1 0.3 1 2.3 1 -0.5 1 -2.2 1 1.9 1 -0.5 1 2.1 1 -3.6 1 3.2 1 -0.8 1 -2.6 1 3.7 1 -0.3 1 -4 1 6 1 -5.7 1 0.4 1 1.1 1 2 1 -0.3 1 -1.3 1 2.7 1 -1.7 1 1.8 1 2.6 1 -4.8 1 -5 1 3.9 1 -1.2 1 2.2 1 -0 1 -2.4 1 0.1 1 1.7 1 0.1 1 -4.4 1 6.6 1 -1.7 1 -0.1 1 0.6 1 -2.4 1 1.8 1 2 1 0.1 1 -1.1 1 -1.4 1 -0.9 1 3.9 1 -1.4 1 -1.8 1 -3.2 1 2.4 1 -1.9 1 5.9 1 -1.9 1 -1.8 1 0.9 1 5.4 1 -2.6 1 -4.7 1 2.3 1 -2.1 1 -0.9 1 3.6 1 4.2 1 -1.6 1 -2.8 1 -0.8 1 1.1 1 1.6 1 -4.7 1 -0.7 1 7 1 -3 1 2.5 1 -2.5 1 2.3 1 -3.9 1 2.1 1 2 1 -1 1 -2.8 1 2.6 1 -3 1 -1.4 1 3.7 1 1.6 1 -1 1 -4 1 4 1 -0.4 1 -2.2 1 -4 1 6.5 1 -0.5 1 -0.9 1 -4.5 1 0.2 1 4.4 1 -0.7 1 -1 1 -1.7 1 0.8 1 -2.2 1 -0 1 -1.5 1 1.6 1 -1.8 1 2.1 1 -0.9 1 -3.4 1 4.5 1 -6.2 1 2.5 1 0.6 1 -0.1 1 -7.2 1 5.5 1 -0.4 1 -0.5 1 -8 1 1.8 1 -0 1 -1.9 1 2.2 1 -4.9 1 2.5 1 -2.2 1 -4.6 1 0.2 1 0.6 1 0.9 1 1.8 1 -1.7 1 2.9 1 -3.7 1 -1.6 1 6.6 1 2.9 1 -0.1 1 0.1 1 4 1 3.9 1 -3 1 -0.7 1 0 1 5.6 1 -3.7 1 1.4 1 1.3 1 -0.2 1 -3.7 1 3.7 1 -0.2 1 -0.6 1 1.1 1 -2.9 1 1.1 1 -0.7 1 2.6 1 -2.5 1 2.3 1 -2.5 1 2.2 1 0 1 1 1 1 1 -0.1 1 0.5 1 -2.9 1 6.6 1 -2.7 1 1.3 1 -0.6 1 4 1 -3.2 1 3.2 1 1.6 1 1.2 1 -0.6 1 -0.9 1 -3.3 1 4.7 1 -0.1 1 -0.7 1 -0.1 1 -1.4 1 -1.1 1 3 1 0.4 1 -4.4 1 3.7 1 -1.3 1 1.3 1 -1.2 1 1.6 1 -0.2 1 -0.3 1 -4.3 1 4.2 1 -1.5 1 -2.2 1 3.4 1 -3.9 1 4.3 1 1.5 1 -4.2 1 2.7 1 -0.9 1 0.3 1 -3.8 1 3.7 1 -0.9 1 1.1 1 -1.4 1 2.1 1 -1.6 1 0.7 1 1.3 1 -2.2 1 1.5 1 -1.5 1 0.5 1 -2 1 2.5 1 0.8 1 -2.5 1 1.6 1 -0.7 1 -2.9 1 2.7 1 1.8 1 -3.4 1 -2.5 1 3.7 1 -1.6 1 4.7 1 -3.7 1 0.1 1 -1.2 1 1.6 1 -1.6 1 -0.7 1 1.6 1 -1.5 1 4 1 -4.7 1 2 1 -1.2 1 -1.4 1 5.7 1 -7.1 1 6.6 1 -5.4 1 2.8 1 4 1 -8.3 1 1.4 1 4.9 1 -2.3 1 -1.5 1 0.7 1 -2 1 1.7 1 2.2 1 -3.9 1 0.6 1 1.6 1 1 1 -5.3 1 1.2 1 -2 1 -0.6 1 -0 1 -0.9 1 -2.5 1 -0.9 1 1.9 1 1.3 1 1.6 1 -3.5 1 0.3 1 1.3 1 -0 1 -1.8 1 0 1 3.6 1 -4.2 1 -0.2 1 -2 1 4 1 -1.1 1 4.2 1 -3.9 1 2.5 1 0.5 1 1.7 1 -5.2 1 5.8 1 -2.6 1 0.2 1 0 1 0.3 1 0.5 1 -3.4 1 5.7 1 -0.5 1 -1.5 1 1.9 1 4.7 1 -3.3 1 -1.3 1 4.1 1 -4.5 1 1.2 1 -0.7 1 0.6 1 1.8 1 -0.3 1 -2.4 1 1.1 1 0.4 1 -0.9 1 0.7 1 -1.3 1 -0.1 1 1.5 1 -2 1 2.7 1 -1.2 1 -1.4 1 0.6 1 0.2 1 0.6 1 0.5 1 -0.6 1 -1.3 1 4.3 1 -1 1 -1.5 1 1.5 1 -1.2 1 -1.1 1 0.6 1 4.8 1 -3.2 1 0.1 1 -2.7 1 1.8 1 3 1 -3.4 1 1.2 1 0.3 1 -1.2 1 1.7 1 -2.5 1 0.4 1 -2.3 1 5.8 1 -4.6 1 -0.8 1 1.9 1 -3.9 1 0.3 1 -2 1 0.9 1 -1.3 1 1.1 1 -1.8 1 -1.5 1 0 1 -0.2 1 -1.2 1 2.3 1 -0.9 1 -1.3 1 -2.6 1 2.9 1 -3.3 1 2.8 1 -0.1 1 -0.8 1 -0.1 1 0.8 1 5.6 1 -3.6 1 0.7 1 2.8 1 -0.4 1 1.8 1 -3.6 1 0.7 1 8.6 1 -5.9 1 -0.3 1 0.9 1 1.6 1 -4.1 1 2.7 1 -0.6 1 1.2 1 -1 1 -1.4 1 -0.7 1 -3 1 6.2 1 -4.6 1 1.8 1 3.6 1 -3.9 1 1.7 1 -1.6 1 1.5 1 -1.4 1 -1.2 1 3.3 1 -3.1 1 -2.2 1 1.7 1 1.4 1 -3.1 1 3.3 1 -0.2 1 2.3 1 -5.2 1 2.3 1 -4.4 1 2.1 1 0.9 1 0.4 1 -0.9 1 -0.2 1 -1 1 0.2 1 1.4 1 0.4 1 0.1 1 0.7 1 0.3 1 -5.4 1 2.4 1 0.7 1 -0.8 1 3.2 1 -0.4 1 -1.4 1 0.6 1 2.2 1 -2.8 1 0.3 1 2.4 1 -0.6 1 2 1 -1.7 1 0.9 1 -2.2 1 -0.5 1 1.9 1 -4.5 1 5.7 1 1.3 1 -1.4 1 -0.4 1 2.6 1 -1.9 1 2.1 1 2.3 1 -2.5 1 0.6 1 -0.7 1 -0.4 1 0.2 1 -0.3 1 1.9 1 -4.9 1 2.5 1 1.6 1 -2.7 1 1.4 1 -1.1 1 2 1 0.8 1 1.1 1 -1.8 1 -2.2 1 1.8 1 0.5 1 1.6 1 -6.5 1 4.6 1 -4 1 4.6 1 -0.5 1 0.1 1 0.7 1 -1 1 -1.9 1 1.9 1 1.5 1 -2.4 1 0.2 1 -2.2 1 4.3 1 -3.1 1 -0.4 1 0.5 1 -0.8 1 1.1 1 2.8 1 -0.9 1 1.1 1 0.1 1 -4.3 1 2.5 1 1.8 1 1.4 1 -6.7 1 -0.1 1 3.4 1 -1.4 1 -1.2 1 2.4 1 -2.1 1 -2.7 1 4 1 0.3 1 0.9 1 0.5 1 -1.4 1 -0.8 1 -0.8 1 -1.8 1 2.2 1 2.6 1 -0.6 1 2.5 1 -4 1 -3 1 4.7 1 0.3 1 -4 1 -0.8 1 3.2 1 1 1 -3.4 1 1.4 1 -0.8 1 -0.8 1 -0.2 1 2.6 1 -1 1 -0.5 1 -3.6 1 7.9 1 -4.9 1 1.5 1 -1.9 1 2.8 1 -3.5 1 2.9 1 -0.5 1 2 1 -3.7 1 0.8 1 0.7 1 4.2 1 -6.5 1 3.2 1 -1.7 1 1.7 1 0.6 1 -1 1 0.2 1 0.1 1 -1.6 1 0.6 1 -2.6 1 2.3 1 -0.7 1 0.9 1 1.8 1 -0.7 1 0.1 1 1.2 1 -6.4 1 5.1 1 -0.8 1 -0.2 1 -2.2 1 3.4 1 1.1 1 -0.3 1 -2 1 1.3 1 0.5 1 1.6 1 -1.1 1 -1.9 1 -0.1 1 0.1 1 0.1 1 -1.3 1 2.3 1 -2.7 1 -0.2 1 2.1 1 -1.7 1 0.6 1 -3.3 1 5.2 1 -1.5 1 -0.2 1 1 1 -0.4 1 -1.7 1 4.9 1 -4.4 1 2.6 1 1.5 1 -4.4 1 1.3 1 -1.6 1 3.4 1 -2.5 1 -1.3 1 4.4 1 -0.7 1 -3.2 1 3.8 1 -1.7 1 4.6 1 -1.7 1 -4.1 1 0.6 1 -1 1 1.9 1 -0.1 1 1.4 1 -1.1 1 -2.8 1 1.3 1 4.1 1 -0.4 1 -2.3 1 0.2 1 0 1 0.5 1 -3 1 4.7 1 -2.7 1 1.6 1 -4.8 1 5.1 1 2.1 1 -6.3 1 6.9 1 -1.8 1 -2.1 1 -1.5 1 5.1 1 -1.5 1 0.7 1 -1.5 1 -0.9 1 3.2 1 -3.3 1 3.5 1 -4.6 1 1.5 1 -0.9 1 5.1 1 -5.5 1 1.2 1 3.3 1 -0.7 1 3.7 1 -0.6 1 -2.2 1 0.2 1 -4.5 1 1.8 1 1 1 0.4 1 -2.2 1 0.9 1 0.1 1 3.5 1 -1.1 1 -1.3 1 0.1 1 1 1 -1.8 1 0.8 1 -2.6 1 4.3 1 0.5 1 -1 1 0.2 1 -0.2 1 3 1 -3.3 1 -2.8 1 0.5 1 3.2 1 0.6 1 -0.5 1 0.1 1 -1.2 1 -3 1 1.4 1 -2 1 2.6 1 -1.8 1 2.6 1 -0.5 1 -3.2 1 4.9 1 0 1 -3.9 1 2.8 1 1 1 -1.8 1 2.1 1 -1.2 1 1.6 1 -1.7 1 -0.6 1 1.2 1 0.5 1 -1 1 -1.2 1 -0.7 1 0.8 1 -0.4 1 1.4 1 -0 1 -0.5 1 0.1 1 0.4 1 2.5 1 -0.7 1 -3.2 1 1.8 1 -1.4 1 0.4 1 -0.3 1 -0.7 1 -1.3 1 -2 1 4.8 1 1.8 1 -3.8 1 2.6 1 -1.7 1 1.2 1 -2 1 1.1 1 0.2 1 -4.2 1 4.8 1 -0.7 1 -4.3 1 5.8 1 -1.3 1 0.4 1 0.3 1 -1.4 1 -1.2 1 1.1 1 0 1 4.9 1 -0.7 1 -4.3 1 0.1 1 1.4 1 0.4 1 -2.3 1 -0.6 1 5.4 1 -1.6 1 -4.8 1 -0.4 1 1.7 1 1.9 1 0.6 1 -1.7 1 -2.3 1 3.3 1 0.7 1 -1.1 1 -0.9 1 2 1 -1.2 1 -2 1 2.3 1 -2.6 1 4.1 1 -0.9 1 -2.7 1 2.2 1 1.9 1 -6.2 1 3.6 1 3.3 1 -5.9 1 2.6 1 -2.4 1 2.5 1 -4.3 1 1.4 1 2 1 1.3 1 0.4 1 0.1 1 1.3 1 -0.8 1 0 1 -3.2 1 1.6 1 6.1 1 -1.7 1 -2.6 1 -0.2 1 0.4 1 -2.6 1 4.4 1 -4.3 1 0.5 1 4.2 1 -7.9 1 4.5 1 -3.9 1 2 1 1 1 -0.5 1 1 1 -1.8 1 1.3 1 -2.1 1 1.5 1 -1.9 1 3.8 1 -3.6 1 3.7 1 -2.1 1 0.2 1 2.8 1 -2 1 -3.8 1 4.5 1 -6.4 1 5.9 1 -1.2 1 -1.9 1 2.7 1 -0.7 1 4.3 1 -4.6 1 4.5 1 -1.1 1 -3.7 1 -0.4 1 4 1 -2.8 1 0.6 1 -0.8 1 -1.8 1 1.6 1 -1.1 1 -1.1 1 2.3 1 3.9 1 -0.3 1 -3.2 1 0.4 1 0.7 1 1.5 1 -1.9 1 -1.5 1 0.1 1 2.9 1 2.8 1 -6.1 1 -2.7 1 5.4 1 -1.7 1 0.4 1 2 1 -2.2 1 -2.6 1 -1.2 1 3.6 1 -2.1 1 2.7 1 -3 1 1.8 1 -2.1 1 2.1 1 -0.2 1 2 1 1.4 1 -2.9 1 -1.3 1 5.3 1 -3 1 0.5 1 -0.1 1 1.6 1 -0.8 1 -0.6 1 0.1 1 -3.1 1 0.5 1 1 1 0.3 1 -0.1 1 0.5 1 -0.5 1 -0.9 1 -2.3 1 4.7 1 -0.5 1 -2.8 1 2.6 1 -0.2 1 -0.6 1 -3.6 1 1.2 1 1.1 1 4.2 1 -4.7 1 1 1 -1.5 1 1.2 1 1.6 1 -4.6 1 -1.5 1 6.7 1 -1.2 1 -1.3 1 3 1 0 1 -5.8 1 3.6 1 2.4 1 -3.3 1 0.6 1 2.4 1 -2.3 1 -1.8 1 1 1 -1.2 1 3.5 1 -4.3 1 5.2 1 -5.1 1 3.2 1 -2.9 1 2.2 1 2.5 1 0.2 1 0.3 1 -2.6 1 0.4 1 0.2 1 0.7 1 -1.9 1 2.8 1 -1.5 1 1.5 1 -1.2 1 0.3 1 -2.7 1 0.6 1 -1.7 1 1.9 1 0.2 1 1.9 1 -4 1 8.6 1 -6.4 1 2.6 1 -0.5 1 -6.7 1 4.2 1 3.3 1 -7.4 1 6 1 -3.2 1 0.8 1 1.3 1 -4 1 3.9 1 -1.6 1 -0.2 1 2.7 1 5.3 1 -6 1 0.4 1 -1.2 1 -1.3 1 1.8 1 2.4 1 -2.5 1 1.3 1 -2.2 1 5.2 1 -8 1 4.3 1 -0.1 1 -0.6 1 -2.7 1 -0 1 1.7 1 0.6 1 -2.6 1 0.3 1 2.9 1 0.8 1 -3.2 1 -0.6 1 -0.3 1 5.8 1 -4.2 1 -1.5 1 1.6 1 1.9 1 -2.7 1 -5.5 1 1.9 1 -1.3 1 -0.6 1 -2.5 1 0.8 1 -2.9 1 0.1 1 -4 1 -6.6 1 -4.4 1 -1.1 1 -0.6 1 -1.9 1 -1.3 1 -4.7 1 7.8 1 2.8 1 4.2 1 1.7 1 4.2 1 1.2 1 7.3 1 -2.9 1 -0.9 1 1 1 0.6 1 1.2 1 -0.5 1 1.2 1 2.4 1 -0 1 -0.7 1 2.1 1 -2 1 -2.2 1 -1.4 1 2.1 1 1.3 1 1 1 1.3 1 -3 1 -0.4 1 3.1 1 0.8 1 -3.1 1 1.6 1 2.1 1 -2 1 -0.6 1 -3.8 1 6.5 1 -1.2 1 -1 1 -1 1 -1.5 1 2.3 1 -0 1 2.3 1 -4.3 1 5.1 1 -2.7 1 2.3 1 -4.1 1 2.6 1 1.7 1 -2.1 1 -3 1 2.2 1 1.7 1 -3.6 1 -0.1 1 3.3 1 -2.3 1 3.2 1 -3.5 1 -1.3 1 2.1 1 4.3 1 -4.4 1 1.6 1 0.5 1 -2.2 1 3.9 1 -1.7 1 0.5 1 -4 1 -0.1 1 -1.9 1 4.9 1 -0 1 1.8 1 1.5 1 -3.3 1 -0 1 1.3 1 2.1 1 -4.4 1 2.7 1 -1.6 1 -0.1 1 2.2 1 -3.1 1 -0.5 1 3.3 1 -1.3 1 -0.4 1 0.3 1 1.2 1 -1.7 1 2.2 1 -0.6 1 2 1 -0.4 1 -0.7 1 -2 1 0.6 1 -1.3 1 6.5 1 -5.8 1 1.5 1 1.5 1 -5.1 1 1 1 0.9 1 -1.2 1 -0.5 1 1.5 1 3.4 1 -1 1 -1.3 1 0 1 -3.2 1 4.5 1 -0.5 1 -2.8 1 2.5 1 -0.8 1 -0.6 1 -0.8 1 0.6 1 -0.5 1 2.7 1 -0.2 1 -0 1 -0.9 1 -0.4 1 4.7 1 -7.4 0.9 5.8" stroke="#000080" stroke-width="1.1" fill="none" stroke-linejoin="round"/>
<path d="M186.0 1016.7l1 -1.3 1 -2 1 -0.3 1 -2.5 1 -0.8 1 2.6 1 -0.4 1 8.4 1 3.1 1 -8.5 1 3.2 1 2.7 1 -1 1 -1.4 1 -0.7 1 -0.7 1 -1.1 1 0.5 1 -4.4 1 0.5 1 -5.8 1 1.8 1 -3.1 1 3.8 1 0.6 1 -4.7 1 -4.9 1 0.7 1 -1.4 1 -1.5 1 -0.3 1 -2.6 1 -9.4 1 4.7 1 -6.9 1 -4.1 1 -2 1 -10.6 1 -10.4 1 -8.6 1 -6.2 1 -8.2 1 -10.7 1 -22.1 1 -16.6 1 -3.2 1 -9.6 1 -0.3 1 -3.9 1 1.8 1 4.1 1 7.5 1 8.1 1 12.9 1 15.6 1 15.2 1 15 1 11.5 1 9.7 1 8.6 1 7.4 1 10.6 1 2.8 1 4 1 4.6 1 4.6 1 0.7 1 2.3 1 1.7 1 2.5 1 1.9 1 1.4 1 -2.8 1 2 1 -2.2 1 7.2 1 1.2 1 1 1 -1.5 1 2.4 1 -1.7 1 0.4 1 -2.2 1 1.9 1 0.8 1 3.2 1 1.8 1 -3.8 1 1.9 1 0 1 -1.8 1 -1.7 1 1.9 1 -1.3 1 2.1 1 0.2 1 -0.2 1 -0.2 1 1 1 -3 1 3.2 1 -5.1 1 2.9 1 0.4 1 -2.6 1 -1.8 1 4 1 -2.7 1 2.5 1 -0.1 1 -1.6 1 -0.1 1 1.9 1 -1 1 -2.3 1 2.3 1 1.1 1 -0.3 1 0.3 1 -0.2 1 0.5 1 -1.1 1 -0.5 1 5.3 1 -2.9 1 2 1 -3 1 3.4 1 -1.6 1 7.3 1 -7.5 1 0.1 1 3.6 1 0.4 1 -6.2 1 4.5 1 1.2 1 -4 1 3.6 1 -2.3 1 -0.9 1 1.3 1 -0.2 1 -1.8 1 6.9 1 -5.1 1 -0.6 1 3 1 -1.7 1 2.7 1 -3.1 1 1.2 1 -0.5 1 0.1 1 -0.7 1 0.2 1 3.4 1 -4.5 1 0.3 1 0.4 1 1.7 1 -0.3 1 1 1 -4.3 1 3 1 -0.8 1 -0.2 1 0.8 1 -4 1 4.2 1 -0.2 1 -3 1 2.4 1 3.1 1 -3.7 1 1.7 1 -1.6 1 -1.2 1 -0.3 1 0.9 1 3 1 -1 1 -3 1 3.1 1 -2.3 1 -1.2 1 1.9 1 -2.7 1 -1.4 1 5.2 1 -6.1 1 4.2 1 -4.1 1 2.6 1 -0.5 1 -0.7 1 -3.5 1 3.6 1 -0.2 1 -2 1 1.1 1 1.5 1 -3.8 1 1.2 1 -3.3 1 2.2 1 -0.3 1 2.7 1 -3.8 1 -1.8 1 0.9 1 -5.4 1 2.9 1 -4.1 1 -1.2 1 1.9 1 -3.4 1 -0.3 1 -7.8 1 0.4 1 -4.5 1 -2.4 1 -5.9 1 2.7 1 -3.7 1 -4.1 1 -1.9 1 0.3 1 4.4 1 -2 1 1 1 3.4 1 1.2 1 2.6 1 3.1 1 1.1 1 2.6 1 -2.8 1 3.2 1 0 1 1.6 1 0.5 1 -0.5 1 1.1 1 3 1 -2.2 1 -0.8 1 4 1 1.2 1 -1.8 1 1.3 1 -1.2 1 1.8 1 3.1 1 0.1 1 -0.6 1 -0.1 1 -1.8 1 4.4 1 0.9 1 1.9 1 2.4 1 -2.3 1 1.7 1 -3.3 1 4.9 1 -0 1 1.4 1 -0.9 1 -0 1 2.2 1 -3.7 1 2.7 1 1.1 1 -3.3 1 -0.4 1 3.2 1 -0.4 1 1.2 1 0.3 1 -2.4 1 2.2 1 1.7 1 -2.6 1 0.4 1 -1.4 1 3.8 1 2.3 1 -6 1 4.1 1 0.4 1 -2.5 1 0.5 1 -1.2 1 0.7 1 1.8 1 1.1 1 -0.9 1 1.4 1 -1.1 1 -2.4 1 4.9 1 -0.5 1 -3.4 1 4.6 1 -2.4 1 -0.6 1 3.4 1 -8.2 1 1.6 1 4.3 1 -1.7 1 -1.3 1 4.5 1 -1.9 1 -3.3 1 1.1 1 2.8 1 1.7 1 -7 1 4.2 1 -1.2 1 -2.6 1 2.9 1 -2.7 1 2 1 3.9 1 -2 1 0.4 1 -0.3 1 -0.5 1 1.1 1 -4 1 1.4 1 2.2 1 -3 1 0.5 1 3 1 0.6 1 -4 1 -0.5 1 2.6 1 -0.7 1 -1.8 1 2.3 1 -0.1 1 -1 1 5.3 1 -3 1 -1.1 1 0.3 1 3.5 1 -3.5 1 -3.4 1 1.8 1 -0.5 1 -1.3 1 1.4 1 -0.2 1 -0.8 1 -1 1 2.2 1 -4.7 1 4.2 1 -1.9 1 0.2 1 -5.3 1 7.2 1 -6.7 1 1.2 1 2.4 1 -2.7 1 -0.1 1 -3.8 1 2.8 1 0.5 1 -0.1 1 -2.8 1 -0.2 1 -0.8 1 -3.2 1 -1.3 1 4 1 -6.1 1 3.1 1 -2.7 1 2.3 1 -3.9 1 2.4 1 0.2 1 -0.4 1 1.7 1 -1.1 1 2.1 1 0.3 1 3.1 1 -0.8 1 -1.8 1 2.4 1 1 1 -1 1 4.7 1 -1.2 1 1.3 1 -2.5 1 1.1 1 3 1 -4.1 1 3.7 1 -0.2 1 -0.9 1 1.3 1 -2.1 1 2.5 1 -2.7 1 -0.1 1 5 1 -4 1 -2.6 1 5.7 1 -3.3 1 -5.1 1 6.4 1 1.8 1 -1.1 1 2.5 1 -3.5 1 1.3 1 -3 1 2.1 1 2.5 1 -2 1 -0.7 1 -4 1 2.9 1 -1.8 1 3.8 1 -2.9 1 1.9 1 -2.6 1 5.3 1 -5.8 1 2.4 1 4.5 1 -4.6 1 -2.1 1 2.7 1 0.6 1 -0.3 1 -5.5 1 4 1 -4.5 1 7.4 1 -3.5 1 -1.1 1 2 1 -0.5 1 -3.3 1 5.1 1 -3.6 1 -3 1 5.7 1 -0 1 -0.8 1 -1.6 1 -3 1 3.1 1 1.4 1 -2.4 1 1 1 -4.9 1 2.9 1 -0.8 1 -5.1 1 -2 1 -1 1 -0.7 1 0.7 1 1 1 3.2 1 1.4 1 0.6 1 1.1 1 -0 1 -0.9 1 0.8 1 -1.2 1 2.5 1 -2.4 1 4.2 1 -3.1 1 0.7 1 -1.9 1 0.9 1 1 1 -0.2 1 -1.2 1 -1 1 2.3 1 0.2 1 0.8 1 1.3 1 -2.9 1 -3.2 1 3.5 1 -3.3 1 0.9 1 4.2 1 -1.2 1 -2.5 1 -0.4 1 0.7 1 -3.5 1 3.7 1 -2 1 3.7 1 -6 1 3.4 1 -3.7 1 2.7 1 -4.3 1 2.8 1 -2.8 1 -1.2 1 0.8 1 0.7 1 -0.5 1 1.8 1 -1.8 1 -6.9 1 4 1 -3.3 1 2.8 1 1.8 1 -3.8 1 0.3 1 2.5 1 -0.7 1 3.7 1 -2.2 1 0.6 1 2.6 1 -3.9 1 1.3 1 -1.5 1 2.7 1 1.9 1 1.1 1 -2.3 1 -0.8 1 0.3 1 -0.8 1 3.3 1 2.7 1 -6.8 1 0.7 1 7.1 1 -5.5 1 3.8 1 -2.8 1 4 1 0.1 1 -1 1 1.4 1 -1.3 1 1.1 1 2.5 1 -1.2 1 -3.2 1 -0.1 1 1.2 1 0.1 1 0.7 1 -1.1 1 2.5 1 -1.1 1 0.8 1 -0.6 1 1.3 1 -3.3 1 5.4 1 -2.3 1 0.3 1 0.5 1 1 1 -0.6 1 -0.8 1 -0.7 1 -2.7 1 3.6 1 -0.9 1 0.1 1 5.2 1 -8 1 3.7 1 2.3 1 -0.4 1 0.6 1 -4.7 1 0.6 1 3.1 1 -1.7 1 3.8 1 -2.7 1 -0.1 1 0.5 1 -1.3 1 0.8 1 -1.5 1 1.2 1 -0.8 1 1.4 1 -3.2 1 -0.1 1 3.7 1 -0.4 1 -2.3 1 1.4 1 -1.6 1 5.9 1 -6.9 1 6.3 1 -4.9 1 2.4 1 -1.3 1 -0.3 1 2.5 1 -0.2 1 -2.2 1 -1.2 1 5.7 1 -1.3 1 -2.4 1 -0.9 1 1.1 1 -0.4 1 2.1 1 -4.2 1 1.9 1 -1.6 1 3.9 1 0.9 1 -3.6 1 1.2 1 1.6 1 -3.3 1 -1.3 1 3.7 1 -1 1 -1.4 1 3.1 1 -2.4 1 -3.8 1 4 1 -0.9 1 3.7 1 -3.7 1 -0.4 1 1.2 1 -0.4 1 -3.2 1 2.8 1 -0.9 1 3.2 1 1.9 1 -6.8 1 0.2 1 0.2 1 0.3 1 -0.1 1 1.3 1 1.9 1 -4.6 1 -0.5 1 -0.6 1 5.5 1 0.4 1 -5.5 1 -0.3 1 3.3 1 1.7 1 -0.2 1 -1.6 1 0.9 1 -0.8 1 -1.7 1 4.6 1 -3.7 1 -2.2 1 1.1 1 -2.1 1 2.9 1 2 1 -4.6 1 4.5 1 1.8 1 -3.4 1 -3 1 0.5 1 0.9 1 -1.8 1 -0.1 1 1.8 1 0.1 1 1.4 1 -3.5 1 5.8 1 -1.6 1 -0.4 1 -3.1 1 4.5 1 -4 1 4 1 -1.5 1 -3.8 1 0.7 1 4.3 1 -1.7 1 -2.4 1 0.6 1 -0.2 1 -2 1 1 1 -1.1 1 0.3 1 1.5 1 -2.9 1 3.1 1 -1.4 1 1.1 1 0 1 0.5 1 -1.3 1 -0.1 1 -1.8 1 1.2 1 -2.9 1 1 1 1.8 1 -1.7 1 0.8 1 -3 1 4.5 1 -3.8 1 1.7 1 -0.9 1 1.8 1 -2.6 1 -1.3 1 -1.7 1 3 1 -1.7 1 3.3 1 1.8 1 -6.8 1 1.9 1 3.3 1 2.1 1 -1.5 1 0.4 1 0.8 1 0.5 1 2.5 1 -1.5 1 -3.1 1 2 1 1.8 1 -1.5 1 1.6 1 -0 1 0.2 1 3.2 1 -1.3 1 -0.5 1 1.6 1 2.4 1 4.9 1 -2.5 1 3.4 1 -0.9 1 -4.1 1 5.8 1 -1.4 1 -0.1 1 1.3 1 6.2 1 -5.9 1 2.3 1 3.8 1 -0.8 1 -4.5 1 3.1 1 -0.8 1 0.6 1 1.8 1 -2.5 1 0.5 1 3.4 1 -6.4 1 2.8 1 1.7 1 -3.3 1 1.2 1 -1.4 1 2.9 1 -1.5 1 2.7 1 0.4 1 -1.9 1 -0.8 1 1.3 1 -0.4 1 -2.5 1 4.4 1 -1.6 1 1.1 1 -4.1 1 4.2 1 2.4 1 -2.9 1 -3.9 1 2.8 1 -0.2 1 0.6 1 -0.9 1 1.4 1 -1.8 1 1.3 1 -1.8 1 1.5 1 1.8 1 -2.9 1 2.2 1 -2.9 1 0.9 1 0.3 1 2.8 1 -3.8 1 3.8 1 -5.2 1 2.5 1 2.1 1 -0.4 1 -3.3 1 -0.4 1 4 1 -4.1 1 3.6 1 -2.2 1 1 1 4.5 1 -1.5 1 -1.3 1 -4.3 1 3.3 1 -0.6 1 -0.2 1 2.7 1 -5.9 1 4 1 -0.4 1 -1.7 1 4.8 1 -5.8 1 2.5 1 0.1 1 -4.4 1 1.5 1 0.9 1 3.4 1 0.2 1 -0.6 1 -0.7 1 -4.7 1 4.6 1 -1.4 1 3.2 1 0.4 1 1.7 1 -3 1 0.2 1 -3.6 1 2.1 1 -2.5 1 4.1 1 -4.1 1 1.9 1 -1.2 1 0.6 1 1.8 1 -2 1 1.5 1 -2.4 1 4.6 1 -4 1 3.2 1 2.1 1 -8.8 1 2.7 1 1.5 1 2.6 1 -3.2 1 1.6 1 -2.1 1 2.4 1 -3.4 1 3.9 1 -7.5 1 2.1 1 7.1 1 -3.2 1 -2.1 1 6 1 -2.3 1 0.1 1 -3 1 1.9 1 -0.2 1 -4.3 1 4.3 1 -1.5 1 2.8 1 -0 1 -3.8 1 -0 1 1.5 1 0.8 1 -2.1 1 0.5 1 1.4 1 -0.4 1 1.4 1 -1.9 1 -2.2 1 -1.8 1 5 1 -2.3 1 -0.1 1 0.1 1 -2.5 1 2.2 1 -4.3 1 4.2 1 -1 1 5.2 1 -2.7 1 -1.3 1 0.6 1 1.1 1 -3 1 1 1 -0.3 1 5.5 1 -4.7 1 -4.1 1 5.4 1 3.4 1 -6.9 1 8.6 1 -7 1 2 1 -3.1 1 0.6 1 -2 1 0.3 1 -2.1 1 6.3 1 -4.5 1 2.9 1 -0.1 1 -1.9 1 1.3 1 -0.3 1 -0.9 1 1.1 1 -0.1 1 -2.1 1 -0.6 1 0.8 1 1.9 1 2.4 1 0.2 1 -2.3 1 1.2 1 -1.7 1 1.9 1 -2 1 0.5 1 -1.3 1 0.5 1 3.7 1 -6.2 1 2.4 1 -1.2 1 3 1 1.6 1 -4.2 1 -4.9 1 6.6 1 -0 1 -4.6 1 2.8 1 0.3 1 -4.4 1 5.8 1 -0.5 1 -0.4 1 -2.6 1 0.6 1 0.1 1 2.2 1 -2.9 1 4.7 1 -2.1 1 -5.1 1 7.6 1 -3.1 1 -1.4 1 1.2 1 -3.8 1 3.9 1 -5.3 1 2.8 1 4.7 1 -0.3 1 -3.2 1 -1.3 1 3.7 1 -1.9 1 0.4 1 0.8 1 -3.4 1 3.6 1 -5.8 1 7 1 -6 1 1.8 1 -0.1 1 2.7 1 -0 1 -0.9 1 0.4 1 -0.3 1 -1.1 1 -3.7 1 -0.8 1 -0.1 1 4.4 1 -0.4 1 0.1 1 0.7 1 -1 1 -1.6 1 -1 1 -0.9 1 6.1 1 -0.7 1 -4.5 1 2.1 1 1.3 1 2.2 1 -4.4 1 1.5 1 1.8 1 -5.8 1 1.9 1 1.3 1 -1.4 1 5.6 1 -2.6 1 -1.4 1 -2.4 1 3.6 1 -0.6 1 -2.4 1 0.1 1 -2.1 1 2.7 1 1.8 1 0.1 1 -0.9 1 0.4 1 -2.9 1 0.2 1 3.2 1 -1.6 1 -2.6 1 2.5 1 0.5 1 -0.3 1 -1.3 1 -1.4 1 1.7 1 2.4 1 -3.2 1 -1.7 1 1.8 1 -3.3 1 2.8 1 -1.3 1 2.4 1 -1.9 1 1.6 1 2.3 1 -5.2 1 -1.4 1 2.3 1 -1.3 1 0.2 1 -1.8 1 2 1 -1.2 1 -4.7 1 3.5 1 0.8 1 1.3 1 -3.8 1 -0.8 1 3.2 1 -4.5 1 0.2 1 -0.7 1 -1.2 1 -3.3 1 -4.2 1 2.1 1 -5 1 -2.4 1 2.7 1 -4.5 1 -6.2 1 -2.1 1 -3.3 1 -4.9 1 -6.3 1 1.7 1 -3.2 1 -3.2 1 -2.4 1 1.8 1 3.7 1 1.3 1 7.1 1 5.9 1 8.8 1 4.8 1 1.4 1 4 1 5.9 1 -4.5 1 3.1 1 -0.7 1 4.5 1 -2 1 -0.1 1 -1 1 2.3 1 2.5 1 -0 1 -3.7 1 5.9 1 -3.4 1 -1.4 1 2.5 1 -1.4 1 0.3 1 -0 1 1.2 1 -0.7 1 -2.2 1 4.5 1 -1.9 1 3.5 1 -1.2 1 0.2 1 -0.7 1 2.3 1 -3.1 1 -1.2 1 2.7 1 -5.9 1 4.7 1 1.2 1 -1.1 1 3.3 1 -1 1 -1.1 1 -0.9 1 3 1 -3.4 1 0.6 1 2.3 1 -0.2 1 2.9 1 -4.4 1 -3.2 1 5 1 1.3 1 -2.8 1 3.5 1 0.5 1 -4.8 1 0.4 1 -1.4 1 3.5 1 0.4 1 -0.2 1 -3.5 1 1 1 -1.3 1 -0.3 1 0.6 1 -0.5 1 2.8 1 1.3 1 0.4 1 -1.2 1 -1.2 1 1.3 1 1.2 1 -1.6 1 0.7 1 -0.6 1 -0.4 1 1.2 1 -2.2 1 4.3 1 -5.1 1 4 1 -3.5 1 5.7 1 -1.2 1 -3.2 1 0.7 1 -1.2 1 2.1 1 1 1 4.2 1 -7.6 1 5.2 1 -3.6 1 1.8 1 1.2 1 -0.6 1 -0.2 1 -1.1 1 0.4 1 0.3 1 2.1 1 -5.1 1 1.9 1 -1.4 1 0.6 1 0.4 1 3.7 1 2.1 1 -1.5 1 -4.9 1 2.5 1 -2.3 1 3.1 1 1.7 1 -1.3 1 0.6 1 -1.9 1 -3.5 1 -0 1 3.7 1 1.4 1 1.4 1 -3.1 1 0.8 1 0.4 1 1.7 1 -2.2 0.9 -2" stroke="#0000FF" stroke-width="1.1" fill="none" stroke-linejoin="round"/>
<path d="M186.0 1026.8l1 -1.4 1 -0.7 1 -2.5 1 1.5 1 -0 1 3 1 5.5 1 1.9 1 1.3 1 0.4 1 -2.7 1 0.7 1 -4.4 1 -0.1 1 -4.1 1 -0 1 -2 1 -1.1 1 0.1 1 -3.5 1 1.8 1 -1.5 1 0.7 1 0 1 -1.2 1 -0.4 1 -1.4 1 1.5 1 -2.1 1 0.5 1 -3.5 1 1.4 1 -5.2 1 -0.3 1 -5.1 1 -2.4 1 -4.6 1 -3.4 1 -7.2 1 -6.1 1 -8.5 1 -7.2 1 -4.4 1 -7.4 1 -2.2 1 -5.2 1 -4.3 1 1.9 1 0.7 1 5.2 1 1.2 1 4.9 1 7 1 5.7 1 11.3 1 5.4 1 8.8 1 6 1 3.4 1 3 1 6.3 1 3.2 1 3.5 1 1.4 1 1.4 1 3.5 1 1.1 1 5 1 -1.3 1 1.4 1 1.8 1 -0.5 1 1.8 1 1.2 1 0.4 1 1.1 1 2.4 1 -0.3 1 -1.5 1 1.5 1 1.8 1 -1.3 1 1 1 -0 1 0.6 1 -0.8 1 0 1 -0.9 1 1.4 1 -1.6 1 3.1 1 -2.1 1 -0.4 1 1.1 1 -1.1 1 0.1 1 -0.2 1 -0.9 1 -0.3 1 0.1 1 2.1 1 -2.2 1 0.2 1 -0.1 1 1.2 1 1.5 1 -3.5 1 1.7 1 -0.6 1 -0.5 1 0.9 1 -2.1 1 2.5 1 -0.6 1 -1.4 1 3.2 1 -0.6 1 0.5 1 -2.8 1 1.7 1 -0.1 1 1.7 1 1.1 1 -3.5 1 2.5 1 0.1 1 1.5 1 -1 1 -1.3 1 1.4 1 -0.9 1 0.4 1 1 1 -0.6 1 1 1 -2.1 1 4.6 1 -1.2 1 -0.6 1 -2.3 1 -1 1 1.5 1 0.8 1 3 1 -1.1 1 -2.1 1 2.1 1 0 1 -1.4 1 1.4 1 -1 1 -1.1 1 -0.6 1 1.2 1 1.4 1 -2.8 1 -0.3 1 2.6 1 -3.9 1 5.4 1 -2.7 1 1.3 1 1.3 1 -3.9 1 0.4 1 3.8 1 -3 1 0.1 1 0.3 1 0.9 1 0.2 1 -1.5 1 -0.6 1 0.2 1 0.3 1 1.1 1 -1.5 1 1.8 1 -3.3 1 1.5 1 1.3 1 -0.7 1 -1.2 1 -1.6 1 0 1 0.5 1 0.4 1 -0.8 1 -1.6 1 0.7 1 1.2 1 0.2 1 -2.9 1 1 1 -1.8 1 1 1 4.6 1 -4.5 1 -0.8 1 -0.6 1 -1.1 1 -1.1 1 1.7 1 -0.7 1 1.7 1 -4.1 1 1.8 1 0.4 1 -4.6 1 2.2 1 -3.6 1 1.5 1 0.1 1 -2.8 1 -0.7 1 -2.2 1 0.2 1 0 1 -2.4 1 -0.7 1 0 1 -0.1 1 -3.5 1 1.4 1 -1.5 1 0.8 1 0.1 1 -1.3 1 0.9 1 -3 1 0.6 1 -0.5 1 1.5 1 0.5 1 0.3 1 -0.4 1 2.2 1 0.5 1 2.2 1 -0.2 1 2.6 1 -0.3 1 -1.7 1 2.5 1 -0.9 1 3.5 1 1.1 1 -1.2 1 1.2 1 -1.7 1 -0.4 1 2.6 1 0.9 1 -1 1 2.4 1 0.7 1 0.8 1 1.5 1 -0.4 1 -1.1 1 0.9 1 0.9 1 -1.6 1 3 1 -0.2 1 -1.1 1 -0.2 1 5.5 1 -3.3 1 0.4 1 1.2 1 -0.8 1 -0.7 1 0.8 1 -1.8 1 2.1 1 -2.5 1 2.5 1 0.3 1 -2.4 1 4.2 1 -3.5 1 2.7 1 -1.7 1 1.1 1 -1 1 3.8 1 -1.6 1 1 1 -1.1 1 -0 1 -0.5 1 -0.4 1 1.1 1 -0.4 1 -0.3 1 -1.4 1 1.4 1 1.2 1 -1.2 1 1 1 -0.5 1 -1 1 0.3 1 0.2 1 0.6 1 0.1 1 1.7 1 -2.6 1 -1 1 3.2 1 -1.3 1 0.4 1 3.2 1 -1.3 1 -1 1 0.5 1 -1 1 1 1 -1.9 1 -0.1 1 0.3 1 2.4 1 -0 1 -2.6 1 2.1 1 -1.5 1 1.4 1 -1.6 1 1.5 1 -1.3 1 -0.2 1 0.3 1 0.2 1 -0.8 1 -1 1 3.7 1 -2.5 1 -1.7 1 -0.5 1 -0.6 1 2.5 1 2.4 1 -3.6 1 1.6 1 -1.8 1 3.5 1 -0.9 1 -0.1 1 1.3 1 0.3 1 -0.7 1 -1.9 1 -0.9 1 0.3 1 -0.8 1 4.2 1 -2.5 1 0.3 1 -0.1 1 1.9 1 -3.3 1 1.9 1 -1.4 1 -0.8 1 -2.4 1 3 1 -2.3 1 0 1 0.5 1 -0.5 1 0.9 1 -2.4 1 0.7 1 -0.2 1 -0.7 1 0.4 1 -1.6 1 1.3 1 -2.7 1 -1.3 1 1.3 1 1.1 1 -2.2 1 -0.3 1 0.4 1 0.7 1 -0.1 1 0.9 1 -2 1 4.2 1 -0.6 1 -1.2 1 3 1 -0.7 1 1.5 1 -2.9 1 3.5 1 -1.7 1 -2.3 1 3.4 1 -1.1 1 -0.7 1 1.1 1 -1.9 1 3.1 1 -0.9 1 0 1 2.1 1 -1.5 1 -0.8 1 -0.3 1 1.2 1 1.3 1 -1.9 1 -0.5 1 2.4 1 -1 1 -0.1 1 2.6 1 -3.9 1 1.7 1 -2.3 1 1.8 1 1.1 1 0.6 1 -2.8 1 2.6 1 -0.1 1 -1 1 3.1 1 -2.9 1 -1 1 1.5 1 -2.7 1 4.1 1 -0.6 1 -1.7 1 1.3 1 -0.1 1 1.7 1 -3.1 1 -0.7 1 -0.9 1 2.1 1 -1.5 1 1.6 1 0.7 1 -1 1 -0.6 1 2.6 1 -1.7 1 0.5 1 0.9 1 -2.7 1 0.4 1 4 1 -3.2 1 -1.2 1 0.8 1 -0.5 1 -0.9 1 0.8 1 0.3 1 -0.1 1 0.5 1 -2.9 1 0.1 1 2.6 1 -1.6 1 1.8 1 -1.2 1 -2.1 1 2.2 1 -1.9 1 1.5 1 1.1 1 1.1 1 -2.5 1 1 1 -0.3 1 0.8 1 -3.8 1 2.8 1 1 1 0.5 1 -1.2 1 2.1 1 0.5 1 -1 1 -0.2 1 -0.1 1 0.7 1 1.3 1 0.3 1 -2.3 1 -0.6 1 0.2 1 2 1 -0.9 1 0 1 0.2 1 -0.2 1 -0.6 1 -1.2 1 0.5 1 0.8 1 0.2 1 -1 1 -0.1 1 2 1 -2.2 1 0.7 1 -0.7 1 -0.7 1 -0.9 1 1.1 1 -0.4 1 1.9 1 -2.5 1 0.8 1 1.2 1 -1 1 0.7 1 0.3 1 -3 1 1.5 1 -0.7 1 2.7 1 -1.8 1 0.7 1 1.4 1 -2.4 1 0.5 1 0.4 1 -0.8 1 1.8 1 -0.5 1 0.2 1 -1.1 1 -0.4 1 0 1 0.1 1 -1.5 1 2.4 1 0.6 1 -0.9 1 -0.5 1 0.7 1 0.3 1 0.2 1 1.8 1 -3 1 1.5 1 0.5 1 -0.7 1 -0.3 1 -0.8 1 0.6 1 1.6 1 0.9 1 -2.3 1 1.4 1 0.1 1 0.6 1 -0.8 1 0.3 1 0.6 1 -2.3 1 1.5 1 -2.1 1 -0.1 1 1.4 1 -0.8 1 2.4 1 0.6 1 -1.4 1 0.2 1 -0.1 1 0.1 1 0.5 1 0.3 1 -0.9 1 -0.3 1 0.3 1 1.6 1 -1.4 1 2.3 1 -2 1 2 1 -3 1 0.7 1 1.4 1 0 1 -0.7 1 2.6 1 -2.2 1 0.3 1 -0.9 1 2.6 1 -0.9 1 -0.5 1 -2.3 1 2.4 1 -0.9 1 1 1 0.6 1 -1.8 1 1.1 1 0.8 1 -0.8 1 -0.5 1 -0.8 1 0.5 1 -0.7 1 2.7 1 -1 1 -1.5 1 1.5 1 -1.5 1 -2.3 1 5.3 1 -0.1 1 -3 1 0.9 1 1.1 1 -0.6 1 -0.6 1 0.5 1 0.3 1 -0.3 1 0.9 1 -0.5 1 -0.6 1 0.9 1 -1.9 1 3.6 1 -3.7 1 2 1 0.5 1 0.1 1 -0.2 1 1.2 1 -2.8 1 1.3 1 0.2 1 -0.7 1 -0.1 1 2.2 1 -2.3 1 0.3 1 0.2 1 0.1 1 0.5 1 -0.4 1 0.7 1 -0.3 1 0.4 1 1.1 1 -2.6 1 2.9 1 -2.4 1 1.3 1 -0.6 1 -0.5 1 -1.9 1 4.1 1 -2.7 1 0 1 2.2 1 -1.2 1 2.1 1 -0.2 1 -1.1 1 -0.5 1 0.6 1 -2.4 1 1.7 1 0 1 -0.7 1 0.9 1 -2 1 2.7 1 0.5 1 -3 1 1.7 1 1.6 1 -1.3 1 -1.6 1 0 1 2.1 1 1.2 1 -3.4 1 1.3 1 -0.9 1 0.6 1 0.6 1 -0.3 1 -0.8 1 3.2 1 -2.6 1 0 1 1.5 1 -1.3 1 -0.2 1 1.3 1 -2.2 1 2 1 0.3 1 -0.4 1 -1 1 0.2 1 -1.9 1 1.8 1 0.5 1 0.6 1 -0.8 1 -0.6 1 -0.6 1 0.9 1 0.2 1 1.2 1 -1.4 1 -0.6 1 0.4 1 -0.5 1 0.3 1 -2.3 1 0.6 1 0.4 1 1.9 1 -0.7 1 0.2 1 1.1 1 -2.5 1 2.4 1 -0.9 1 -1.3 1 2.5 1 -3.4 1 0.3 1 1 1 0.7 1 -0.7 1 -2.3 1 2.1 1 0.2 1 3 1 -1.4 1 -1.4 1 -1.4 1 1.6 1 -1.7 1 1.6 1 0.2 1 -0.8 1 0.9 1 -0.6 1 -0.1 1 2.5 1 -0.9 1 -0.9 1 -0.3 1 1.2 1 0.6 1 0.6 1 0.9 1 -1 1 -1.6 1 3.8 1 -0.8 1 -0.1 1 0.9 1 -2.8 1 1.7 1 0.2 1 2.4 1 -2.2 1 1.5 1 2.6 1 -0.5 1 -0.7 1 3 1 -3.2 1 2.5 1 -0.4 1 1.1 1 -0.6 1 -0.4 1 1.4 1 -1.6 1 2.2 1 -0.9 1 1.5 1 -1.4 1 -0.2 1 1.3 1 1 1 -3.6 1 2.6 1 0.6 1 -2.2 1 0.7 1 1.8 1 -1.6 1 0.3 1 2.7 1 -2.9 1 0.1 1 -1.5 1 1.4 1 -0.1 1 3.4 1 -0.5 1 -2.7 1 3.7 1 -1.3 1 -1 1 1.1 1 -0.4 1 -1.2 1 -1.1 1 1 1 1.1 1 -0.4 1 -0.4 1 2 1 -2.2 1 2.2 1 -1.5 1 0.7 1 -1.3 1 1.3 1 -0.9 1 -1 1 2 1 -0 1 1 1 -0.6 1 -1.4 1 0.5 1 -2.1 1 1.6 1 2.7 1 0.3 1 -0.8 1 -0.5 1 0.3 1 -0 1 -2.5 1 1 1 2.3 1 0 1 -1 1 -0.6 1 -0.1 1 -0.1 1 -0.4 1 -1.1 1 2.3 1 -0.6 1 0.3 1 2.2 1 -1.3 1 -1.4 1 1.5 1 -2.4 1 2.9 1 -0.8 1 -0.5 1 0.9 1 1 1 -2.2 1 -0.6 1 3.6 1 -2.4 1 1.7 1 -2.4 1 1.2 1 -1.1 1 1.4 1 -1 1 -0.4 1 2.5 1 -1.3 1 -2.7 1 2.1 1 -0.8 1 -0.3 1 0.7 1 0.2 1 0.6 1 -1 1 -1.2 1 1.6 1 1.6 1 -2.6 1 2.3 1 -0.1 1 -1.1 1 0.9 1 -1.2 1 0.4 1 -0.6 1 1.7 1 1 1 -2.3 1 2.2 1 -3.8 1 1.4 1 -0.1 1 3.1 1 -2.6 1 1.6 1 -3.2 1 2.4 1 0.6 1 -0.7 1 -3.1 1 3.4 1 0.7 1 0.6 1 -1 1 -2.4 1 1.7 1 1.3 1 -2 1 1.6 1 -1.2 1 0.7 1 0.8 1 -1.7 1 4.1 1 -3.1 1 0.2 1 -1.2 1 0.9 1 -0.3 1 -1.4 1 -0.1 1 2.1 1 -0.4 1 -2.9 1 0.6 1 2.1 1 0.3 1 0.7 1 -2.1 1 2.1 1 -1 1 -0.2 1 0.4 1 1.3 1 -0.5 1 0.4 1 -1.8 1 0.5 1 -1 1 0.7 1 0.2 1 -0.1 1 1.3 1 -0.3 1 0.4 1 -0.7 1 1.1 1 -1.1 1 0.9 1 -0.5 1 0.3 1 -1 1 -1.3 1 -0.2 1 3.9 1 -1.8 1 0 1 -0.7 1 -0.3 1 3.8 1 -4.6 1 1.2 1 -0 1 -1.3 1 -0.2 1 0.7 1 0.4 1 -0.2 1 1.5 1 -2.3 1 1.8 1 1.2 1 -0.7 1 -2.4 1 -2.1 1 4.4 1 -0.5 1 -1.2 1 2.1 1 -2 1 0.6 1 -1.4 1 1.6 1 -0.9 1 -0.1 1 1.7 1 -1 1 -2 1 2.5 1 0.1 1 -1.9 1 0.4 1 0.5 1 -0.4 1 0.4 1 0.6 1 -1.4 1 3 1 -3.3 1 0.2 1 2.8 1 0.4 1 -2.7 1 -0.3 1 -1.1 1 2.5 1 -1.1 1 -1.2 1 1.4 1 1 1 -0.8 1 1.7 1 -1.3 1 -0.8 1 -0.6 1 0.6 1 0.7 1 -0.5 1 0.2 1 -1 1 0.6 1 0.5 1 -1.7 1 -1.3 1 3.4 1 -1.4 1 -1.2 1 0.7 1 -0.6 1 -1.7 1 1.7 1 -1.5 1 1.8 1 -0.4 1 1.4 1 -1.5 1 0.5 1 -0.8 1 -0.2 1 -1.2 1 2.7 1 -1 1 -0.9 1 0.8 1 -0.7 1 -0.5 1 1.1 1 1.1 1 -1.8 1 -1.4 1 0.9 1 2.7 1 -3 1 2.2 1 -1.7 1 1.1 1 -1 1 -1.8 1 1.3 1 2.9 1 -2.7 1 0.8 1 -1.1 1 0.2 1 0.5 1 0.1 1 1.9 1 -2.6 1 -0.2 1 -0.6 1 -0.8 1 -0.4 1 2.5 1 -2.9 1 3.6 1 -0.7 1 -1.4 1 -1 1 1.3 1 -0.1 1 1.2 1 -2.3 1 0.4 1 0.2 1 -0.3 1 -0.5 1 -1.4 1 -0 1 1 1 0.4 1 1.2 1 1.4 1 -0.8 1 -1.7 1 1.6 1 -2.5 1 -0.6 1 3.1 1 -4.1 1 0.5 1 -0.2 1 1.5 1 -2.9 1 0.9 1 -2.1 1 -1.8 1 0.8 1 -1 1 -2.6 1 -0.8 1 -1 1 0.8 1 -1.8 1 -1.5 1 -1.6 1 -3.8 1 -2 1 -4.4 1 -3.8 1 -1.6 1 -0.4 1 -0.3 1 2.3 1 -1 1 4.4 1 3.9 1 1.6 1 4.2 1 1.5 1 0.8 1 4.3 1 -1.3 1 4.3 1 -0.1 1 0.9 1 1.4 1 1.4 1 1 1 2.2 1 -1.8 1 4.1 1 -0.1 1 0.8 1 -2.5 1 -1.4 1 2.1 1 0.7 1 0.7 1 -0.8 1 0.7 1 0.4 1 -1.8 1 3.9 1 -3.2 1 1.7 1 1.1 1 -2 1 1 1 2 1 -2.1 1 1.6 1 -0.8 1 0.1 1 0.6 1 -1 1 0.1 1 1.5 1 -0.8 1 0.4 1 -1.9 1 1.5 1 1.4 1 -0.3 1 -0.5 1 -1 1 -0 1 1.3 1 1.1 1 -1.5 1 1.5 1 -1.8 1 1.8 1 -2.5 1 1.4 1 -1.4 1 2.1 1 -0.1 1 -1.7 1 0.3 1 0.4 1 -1.2 1 0.7 1 0.1 1 1.9 1 0.7 1 -2 1 0.2 1 0.6 1 -0.8 1 0.3 1 1.3 1 -0.6 1 -0.4 1 -0.5 1 2.4 1 -2.4 1 0.9 1 -1.3 1 0.6 1 0.8 1 -0.5 1 1.1 1 -0.5 1 -1.7 1 -1 1 3.8 1 -1.8 1 2.4 1 -1.6 1 -0.9 1 1.6 1 -1 1 0.4 1 -1.1 1 1.9 1 0.5 1 -1.8 1 2.6 1 -2.6 1 0.9 1 -2.1 1 -0.3 1 4.6 1 -0.7 1 -0.3 1 -3.3 1 2.2 1 0.3 1 -0.4 1 0.3 1 -1.4 1 0.9 1 -1.1 1 0.9 1 0.9 1 -1.3 1 0.6 1 -0.2 1 0.6 1 1 1 -0.7 1 0.2 1 -2.1 1 1.2 1 1.4 1 -1.9 0.9 0.5" stroke="#000000" stroke-width="4.4" fill="none" stroke-linejoin="round"/>
<path d="M186.5 935.5l1 1.5 1 -3.7 1 -1.6 1 1.3 1 1.9 1 2 1 3.5 1 0.9 1 -0.4 1 -1.3 1 -1.6 1 -2 1 -1 1 -2.8 1 -1.7 1 -1.1 1 -2.4 1 -3.2 1 -0.9 1 -2.1 1 -2.9 1 0.2 1 -4.3 1 -3.6 1 -4.8 1 -3.8 1 -8.4 1 -5.6 1 -9.3 1 -9.3 1 -8.7 1 -11.2 1 -14.3 1 -18.2 1 -17.2 1 -18.7 1 -17.5 1 -20 1 -21.6 1 -26.3 1 -29.1 1 -30.6 1 -23.5 1 -12.9 1 -12.1 1 -6.2 1 -2.9 1 6.6 1 8.7 1 10.2 1 24.1 1 31.2 1 35 1 31.3 1 26.6 1 20.2 1 17 1 20.3 1 17 1 11.9 1 14.4 1 13.8 1 12.5 1 9.9 1 14.4 1 6.9 1 4.8 1 4.6 1 8.1 1 6.6 1 2.5 1 3.8 1 0.5 1 4.3 1 0.2 1 6.3 1 -0.3 1 -2.1 1 1.5 1 3.8 1 0.4 1 0.2 1 1.8 1 2.3 1 -1.4 1 -2.2 1 2.6 1 -0.9 1 1.2 1 1.8 1 -0.1 1 -0.8 1 1.7 1 -0.7 1 1.9 1 -0.8 1 0.9 1 -0.9 1 0.7 1 -2.3 1 -1.3 1 -2.3 1 -0.6 1 -3.6 1 4.2 1 -5.6 1 -0.3 1 -1.8 1 -0.6 1 1 1 -1 1 0.4 1 -0.8 1 1.1 1 0.3 1 4.3 1 -3.2 1 1.1 1 2.4 1 2.7 1 -2.4 1 1.9 1 3.9 1 2 1 -0.5 1 0.9 1 2.1 1 3.2 1 0 1 2 1 -0.1 1 0.9 1 1.6 1 -0.3 1 0.8 1 -1.2 1 0.4 1 1.4 1 -0.9 1 -0.7 1 1.7 1 -0.1 1 -0.8 1 -0.9 1 2 1 1.9 1 -4.2 1 -0.9 1 0.9 1 -0.3 1 -0.5 1 0.1 1 2.4 1 -0.1 1 0.7 1 -1 1 -1.6 1 1.9 1 -2.3 1 0.3 1 -1.2 1 2.9 1 -0.4 1 -1.9 1 0 1 0.3 1 0.1 1 0.7 1 -1.1 1 0.3 1 -2.5 1 1.3 1 -2 1 4.3 1 -0.7 1 -1 1 0.3 1 0.9 1 -1.6 1 -3.5 1 1.5 1 -3 1 1.6 1 -0.9 1 1.1 1 0.1 1 -2 1 0.3 1 0.3 1 -1.1 1 -0.5 1 -3.3 1 1.9 1 0.9 1 -1.3 1 -2.8 1 0.9 1 -0.1 1 -2.2 1 1.3 1 -2.6 1 -0.3 1 -0.7 1 1.6 1 -4.8 1 -2.1 1 -0.5 1 -3.7 1 -1.5 1 -5.5 1 0.6 1 -3.4 1 -5 1 -0.3 1 -5.9 1 -4 1 -5.5 1 -5.2 1 -4.1 1 -6.9 1 -3.1 1 -4.8 1 -6.2 1 -4.4 1 -0.5 1 -2.7 1 0.1 1 -1 1 -0.9 1 1.8 1 3.9 1 4.3 1 1.2 1 5.5 1 2.3 1 2.7 1 6.9 1 3 1 3.3 1 3.2 1 1.3 1 0.4 1 4.8 1 -0 1 0.2 1 1.7 1 1.2 1 -1.1 1 1.8 1 -0.3 1 2.1 1 -0.1 1 4.5 1 -2.3 1 2.4 1 1.3 1 0.5 1 3 1 0.3 1 1.1 1 2 1 0.5 1 4 1 0.7 1 1.8 1 -1.6 1 3.3 1 -0.1 1 2.3 1 2.8 1 0.1 1 0.8 1 2.9 1 1 1 2.2 1 -3.7 1 3.4 1 -0.4 1 -0.3 1 1.3 1 -1.6 1 -1.4 1 1.6 1 0.8 1 2.6 1 -3.3 1 -0.7 1 -1.1 1 2 1 -0 1 0.4 1 -2.1 1 0.7 1 -2 1 2.9 1 -2.3 1 -1.6 1 4.7 1 -1 1 -0.3 1 -0.2 1 -1.8 1 2.4 1 -2.8 1 3.6 1 -2.2 1 -2.8 1 3.3 1 1.2 1 -3 1 1.5 1 -1.8 1 -0.7 1 -2.7 1 4.6 1 -2.4 1 0.8 1 -2.1 1 0.1 1 2.3 1 -2.1 1 -0.3 1 -1.3 1 1.6 1 0.5 1 -1.8 1 0.1 1 -1.5 1 3.1 1 -2.7 1 0.4 1 2.1 1 -2.6 1 -1.8 1 0.6 1 0.6 1 2.6 1 -2.1 1 -0.7 1 1.2 1 0.5 1 -2.6 1 2.6 1 -0.8 1 -0.5 1 -3.6 1 3.1 1 1.4 1 -2.1 1 3.2 1 -2.9 1 -1.4 1 1.9 1 -0.5 1 0.6 1 -1.4 1 1.9 1 -2.5 1 0.8 1 -1.9 1 0.4 1 1.2 1 -1.3 1 0.1 1 0.1 1 0.4 1 0.3 1 -0.6 1 -0.4 1 -1.8 1 -2 1 -2.4 1 0.4 1 -1.8 1 -2.5 1 3.1 1 -5.6 1 1.5 1 -0.9 1 -2.1 1 2.5 1 -4.4 1 -2.3 1 1.9 1 -4.4 1 -1.9 1 -0.1 1 0.2 1 1.1 1 1.2 1 -1.1 1 4.1 1 4.3 1 -1.7 1 2.9 1 3.1 1 2.5 1 -0.7 1 0.9 1 1.2 1 4 1 1.1 1 -2.5 1 1.3 1 2.3 1 0.7 1 3.4 1 0.5 1 2.7 1 -1.2 1 -0.9 1 1.4 1 -2.7 1 -0.7 1 1.8 1 1.1 1 -3.3 1 3.1 1 -0.1 1 -1.8 1 0.8 1 -0.7 1 0.4 1 0.8 1 -2.2 1 2.3 1 -0.4 1 -0 1 -3.8 1 -0 1 3.1 1 -1.8 1 -0.2 1 -0.3 1 -0.9 1 1.2 1 -0.7 1 -0 1 1.3 1 -2.3 1 2.8 1 -4.5 1 5.8 1 -5.2 1 2.2 1 0.1 1 -1.5 1 0.6 1 -1.5 1 -2.5 1 2.3 1 0.6 1 -2.6 1 -1.8 1 0.9 1 0.8 1 -0.4 1 0.6 1 -1.1 1 -0.4 1 -3.5 1 5 1 -3 1 0.8 1 -1.8 1 0 1 0.2 1 1.8 1 -0.2 1 -1.1 1 1.7 1 -3 1 1.2 1 -1.2 1 2.2 1 -1.5 1 1.2 1 1 1 -4.7 1 5.4 1 -2.3 1 -0.7 1 -2 1 2.2 1 -2.5 1 3.1 1 -0.2 1 2.6 1 -2.7 1 1.9 1 0.2 1 1.2 1 -2.9 1 1.3 1 -2.9 1 0.6 1 1.1 1 0.3 1 -1.5 1 1.1 1 1.3 1 -1.5 1 0.3 1 -1.1 1 2.7 1 0.4 1 -2.3 1 -0.6 1 2 1 -1.8 1 -1.8 1 -1.2 1 0.7 1 3.2 1 -3.9 1 4.1 1 -4.1 1 -0.6 1 1.7 1 -2.4 1 0.5 1 -2.1 1 -0.6 1 0.4 1 1 1 -1.4 1 -1.9 1 3 1 -1 1 -0.2 1 -0.5 1 -2.2 1 4.9 1 -2.6 1 1.4 1 1.3 1 -0.2 1 -1 1 0.1 1 0.6 1 1.1 1 -0.1 1 -0.9 1 1.5 1 0.3 1 0.9 1 -0.2 1 1.9 1 -1 1 1.3 1 -0.7 1 -0.3 1 -0 1 1.4 1 1.3 1 1.3 1 -1.3 1 -0.2 1 0.3 1 2.7 1 -1.2 1 -0.5 1 2 1 -2.3 1 2.2 1 0.1 1 0.3 1 -1 1 3.1 1 1.3 1 -3.5 1 2.2 1 1 1 2.4 1 -3.1 1 -0.3 1 1.5 1 2.9 1 -2.2 1 0.6 1 2.2 1 -4.8 1 0.2 1 4.2 1 0 1 -2.5 1 2.6 1 -0.5 1 0.4 1 -1.2 1 0.5 1 -0.4 1 1.3 1 -0.3 1 2.5 1 -1.2 1 -2.8 1 2.7 1 1.3 1 -1.4 1 1.1 1 -1.3 1 1 1 -2.1 1 2.3 1 -2.7 1 3.4 1 -3.5 1 -0.7 1 3.4 1 -0.8 1 0.4 1 0.4 1 -0.5 1 -1 1 1.4 1 0.2 1 0.3 1 1.9 1 -3.4 1 1.1 1 0.7 1 -1.3 1 -0.9 1 0.9 1 2.2 1 -1.7 1 1.2 1 -1.6 1 1.6 1 -1.4 1 -0.1 1 1.3 1 0 1 1.9 1 -3.8 1 2.9 1 1.5 1 -0.1 1 -2.1 1 -0.2 1 0.4 1 1.3 1 0 1 0.4 1 0.5 1 -1.9 1 0.1 1 0.1 1 0 1 1.8 1 0.7 1 3.1 1 -2.4 1 -0.6 1 2 1 -2.7 1 1.5 1 0.9 1 -0.1 1 -0.4 1 -1 1 -1.1 1 1.4 1 -0.6 1 1.5 1 -1.2 1 0.7 1 -3 1 3 1 -2.6 1 -1.3 1 -0.1 1 0.6 1 1.8 1 -1 1 -2.8 1 1.1 1 -0.7 1 -2.3 1 0.3 1 -1.9 1 1.1 1 -2.8 1 2 1 -0.7 1 -0.2 1 -0.5 1 2.2 1 -2.3 1 0.4 1 0.4 1 -0.1 1 -0.6 1 -1.8 1 -0.9 1 0.2 1 0.1 1 0.4 1 -0.3 1 1.3 1 -1.7 1 2.2 1 -1.2 1 -2.1 1 1.5 1 -5 1 5.3 1 -1.4 1 -0.2 1 -2.9 1 5.2 1 -3.7 1 -0 1 1.4 1 -1.9 1 -1 1 1.8 1 -2.4 1 2.1 1 -1 1 1.1 1 -3.2 1 2.9 1 -1.4 1 1.9 1 -3.6 1 3 1 -1.8 1 -0.1 1 -2.2 1 1.4 1 -0.2 1 -2.1 1 -0.7 1 0.2 1 2.6 1 -1.9 1 0.7 1 -1 1 -0.5 1 -0.1 1 -1 1 1.9 1 -1.5 1 -0.1 1 -2.2 1 2.1 1 -1.4 1 0.1 1 2 1 -2.8 1 1.1 1 1.2 1 0.8 1 -1.9 1 1.3 1 0.3 1 -1.4 1 -0.8 1 0.7 1 3.7 1 -0.1 1 -1.3 1 1.5 1 0.9 1 0.6 1 1.1 1 3.5 1 -3.1 1 2 1 -0.3 1 1.1 1 0.7 1 1.9 1 0.7 1 2.4 1 1.1 1 -0.1 1 5.1 1 -1.9 1 4.4 1 5.1 1 -0.7 1 5.5 1 2.8 1 0.9 1 -1 1 5.3 1 -1.4 1 -1.1 1 1.7 1 -3.5 1 1.2 1 -3.3 1 0 1 -3.4 1 -0.4 1 -1.7 1 -0.7 1 0.5 1 -1.1 1 -0.1 1 0.9 1 -2.3 1 -2.6 1 1.6 1 0 1 0.8 1 -0.4 1 -0.5 1 -1.9 1 0.6 1 -3.1 1 3 1 -1.7 1 -0.6 1 -1.8 1 -0.3 1 -1.8 1 0.6 1 -3.5 1 1.7 1 -1.8 1 0.6 1 -4.1 1 -1.6 1 -1.2 1 -1.8 1 -1.9 1 -3.1 1 -1.8 1 -1.1 1 -1.7 1 -3.5 1 -2.5 1 -1.7 1 -1.6 1 -4.2 1 -1.9 1 -2.7 1 -3.3 1 -4.4 1 -2.8 1 -4.4 1 -1.3 1 -1.5 1 -5 1 0.1 1 -2.7 1 -4.8 1 -0.2 1 -4.2 1 0.1 1 1.2 1 1.5 1 1.2 1 0.9 1 5.7 1 0.1 1 2.2 1 2.7 1 1.3 1 1.5 1 1.6 1 0.8 1 6.3 1 -0.8 1 1.3 1 3.5 1 1.3 1 7 1 0.3 1 3.6 1 2.3 1 1.3 1 2.4 1 0.9 1 3.3 1 1.9 1 3.3 1 1.4 1 4.8 1 1.5 1 0.8 1 -0.3 1 4.4 1 1.7 1 0.1 1 -0.2 1 3.4 1 1.9 1 -2.6 1 4.2 1 -2 1 3.4 1 3 1 -1.4 1 1.2 1 -0.4 1 1 1 3.4 1 -0.9 1 -1.7 1 0.3 1 0.9 1 3.1 1 -2.2 1 1.5 1 -1.6 1 -0.9 1 3.6 1 -1.5 1 -0.6 1 0.3 1 0.3 1 0.3 1 -1 1 3.7 1 -0.8 1 1 1 -1.5 1 1 1 -0 1 1.4 1 -0.3 1 -0.4 1 -1.1 1 -0.6 1 0.7 1 0.3 1 0.3 1 -0.7 1 3.8 1 -1.6 1 -2.8 1 1.3 1 -0.1 1 2.1 1 1.2 1 -2.5 1 2.2 1 -1 1 1.9 1 0.4 1 -1.2 1 0.6 1 -0.8 1 -0.3 1 -0.9 1 1.9 1 -0.4 1 -0.3 1 0.5 1 -0.1 1 -1.1 1 0.7 1 2.2 1 -1.7 1 2.1 1 -3.3 1 -0.2 1 1.9 1 0.8 1 -1.9 1 1.7 1 0.3 1 0.2 1 -1.5 1 0 1 -2 1 2.1 1 0.3 1 1.4 1 -3.4 1 0.5 1 -0.3 1 2.4 1 -4.4 1 1.8 1 4 1 -1.9 1 -2.5 1 1.6 1 1.1 1 -0.5 1 -1 1 -0.8 1 2 1 -1.1 1 1 1 -0.6 1 -1.1 1 2.3 1 -2.5 1 1.1 1 -1.4 1 0.5 1 -0.1 1 -0.6 1 1 1 1.3 1 0.7 1 -0.6 1 -2.1 1 1.9 1 -1.3 1 1.6 1 -3.9 1 3.4 1 -2.7 1 2.1 1 -2.1 1 1.7 1 -1.6 1 -2.1 1 1.1 1 0.8 1 0.3 1 -3 1 1.3 1 0.5 1 0.5 1 0.5 1 -1.4 1 -1 1 2.2 1 -0.9 1 1.5 1 -1.9 1 1.4 1 -2.1 1 1.4 1 -0.4 1 0.4 1 -1.9 1 0.9 1 -1 1 0.7 1 0.9 1 2.8 1 -3.8 1 0.7 1 -0.9 1 1.1 1 -1 1 0.6 1 -1 1 2.4 1 -1.5 1 -4 1 2.3 1 -0.4 1 -3.1 1 1.6 1 0.3 1 -0.6 1 0.9 1 -2.6 1 3 1 -0.2 1 -0.7 1 -1.1 1 0.2 1 -0.8 1 1.8 1 -1 1 1.6 1 -3.2 1 2 1 -2.8 1 0.3 1 -1.4 1 1.7 1 -1 1 0.6 1 0.8 1 -2.2 1 0.2 1 0.4 1 -1.5 1 -1 1 0.8 1 -0.2 1 -0.1 1 -0.4 1 -2.3 1 0.8 1 0.5 1 -2.7 1 0.5 1 -1.9 1 0.4 1 1.3 1 -2.7 1 -2.1 1 0.9 1 -1 1 0.4 1 -4 1 -0.3 1 0.2 1 -2.7 1 2.5 1 -4.9 1 0.5 1 -1.8 1 0 1 0.9 1 -1.3 1 -0.7 1 -1.5 1 -4.5 1 1.7 1 -3.9 1 0.3 1 -1.3 1 -1.7 1 -0.4 1 -3.4 1 1.3 1 -3.5 1 -1.5 1 -2.9 1 -2.4 1 -3.8 1 -0.5 1 -6.9 1 -2.6 1 -6.8 1 -7.6 1 -7.5 1 -9.7 1 -6.3 1 -7.9 1 -8.8 1 -8.4 1 -9.8 1 -3.7 1 3.9 1 5.9 1 10.7 1 4.4 1 10.2 1 11.5 1 14.8 1 10.3 1 11.2 1 5.6 1 4.1 1 4.3 1 4.3 1 6.4 1 1.7 1 2.2 1 2.5 1 1.2 1 2.1 1 1.4 1 2.1 1 1.5 1 -2 1 3.4 1 2.4 1 -2.1 1 1.8 1 1.3 1 1.9 1 0.1 1 -0.4 1 1.5 1 1.2 1 -0.3 1 2.3 1 -1.4 1 -1.4 1 0.7 1 1.2 1 0.2 1 1.4 1 -0 1 2 1 -0.9 1 1.1 1 -2.5 1 0.7 1 1.6 1 -0.5 1 0.9 1 -0.3 1 -0.9 1 3.2 1 -0.6 1 -3.1 1 1.3 1 1 1 1 1 -0.7 1 -1.4 1 2.9 1 -1.1 1 1.9 1 -0.9 1 1.1 1 -0.1 1 0.3 1 -1.6 1 2.1 1 -0.8 1 -1.7 1 1.3 1 0.2 1 1.2 1 0.4 1 -2.1 1 2.5 1 -0.8 1 -1.1 1 2.5 1 -1.9 1 -0.4 1 2.5 1 0.3 1 -1.8 1 2.2 1 0.1 1 -1.9 1 3.3 1 -2.6 1 0.5 1 -3.2 1 3.8 1 -1.5 1 1.3 1 -2.6 1 3.6 1 0.4 1 0.6 1 -6 1 4.5 1 -0.3 1 -4.2 1 2.9 1 0.9 1 1.9 1 -2.8 1 1.3 1 -0.3 1 0.6 1 -0.9 1 1.6 1 0.1 1 -2.8 1 3.1 1 -2.3 1 0.6 1 1.8 1 -1.3 1 0.6 1 0.3 1 -0.2 1 -1.4 1 -0.5 1 2.1 1 0.1 1 -0.5 1 -0.6 1 1.3 1 -1 1 -1.7 1 2.1 1 0.3 1 0.4 1 -2.1 0.5 0.2" stroke="#808080" stroke-width="4.3" fill="none" stroke-linejoin="round"/>
<path d="M186.8 1548.5l1 -0.4 1 1.1 1 1.9 1 0 1 2.5 1 -1.2 1 2.4 1 -0.2 1 2.4 1 -2.6 1 0.3 1 1.9 1 -2.1 1 0.1 1 0.8 1 0.1 1 -2.1 1 1.9 1 -0.7 1 0.3 1 0.2 1 -0.6 1 1.5 1 -0.8 1 -0.9 1 0.2 1 1 1 -0.4 1 0.4 1 -1.8 1 0.1 1 2.1 1 -2.7 1 1.9 1 -1.2 1 -1.7 1 -1.4 1 2.2 1 -2.1 1 -0.9 1 -2.7 1 1.8 1 -3.2 1 -2.2 1 -1.6 1 -2.1 1 -1.9 1 -0.9 1 -1.9 1 -3.2 1 4.1 1 0.4 1 0.7 1 3.5 1 -1.8 1 0.2 1 7.3 1 0.8 1 -0.6 1 3.2 1 2.6 1 -1.2 1 2.5 1 1.9 1 -0.8 1 -1.7 1 0.4 1 -1.4 1 1.3 1 -0.6 1 -0.7 1 -0.4 1 3.9 1 -2.2 1 -1.3 1 0.8 1 2.3 1 0.1 1 -2.6 1 1 1 0.8 1 -1.4 1 -1 1 0.3 1 1.2 1 -1 1 -0.6 1 1.3 1 1.4 1 -0.2 1 -1.1 1 2.6 1 -3.2 1 0.8 1 -1.5 1 2.6 1 -1.1 1 -1.8 1 1 1 3.2 1 -1.3 1 -0.7 1 0.9 1 -2.9 1 0.9 1 -0.6 1 0.6 1 0.6 1 1.1 1 0.6 1 -0 1 2 1 -3.8 1 0.6 1 0.7 1 -1.6 1 0.6 1 0.9 1 -1.5 1 1.6 1 0.9 1 -2.8 1 -1.4 1 2.9 1 -1.4 1 1.5 1 -0.7 1 0.9 1 1 1 -0.4 1 -1.4 1 -0.9 1 -1.6 1 0.4 1 1.6 1 1.1 1 -0.9 1 0.1 1 -1.2 1 -0 1 -0.1 1 2.8 1 -3.1 1 3.2 1 -1.9 1 1.7 1 -0.3 1 0.6 1 0.5 1 -2.3 1 -0.3 1 0.7 1 -0.4 1 1.7 1 -0.9 1 0.1 1 0.5 1 -1 1 1.8 1 -3.5 1 2.5 1 0.3 1 -1.5 1 0.1 1 1.9 1 -1.4 1 -1.9 1 0.7 1 2.8 1 -2.2 1 2.6 1 0 1 -1.8 1 0.9 1 -1.7 1 0.6 1 -0.4 1 1.6 1 -2.3 1 1.4 1 0.2 1 0.6 1 -3.2 1 0.4 1 1.1 1 0.8 1 0.5 1 0 1 2.2 1 -1.6 1 -0.1 1 -1.3 1 1.6 1 -0.2 1 0 1 -0.9 1 0.9 1 1.1 1 -2.8 1 -1.6 1 3.5 1 -0.1 1 -1.1 1 -0.3 1 3.9 1 -3.9 1 -0.9 1 0.9 1 1.2 1 -1.3 1 0.2 1 0.9 1 -0.9 1 0.6 1 -0.1 1 -1.3 1 1.4 1 -1.5 1 2.5 1 -2.2 1 0.8 1 -1.8 1 1.6 1 -1 1 3.3 1 -1.9 1 0.8 1 -2.7 1 0.6 1 1.2 1 -1.4 1 3 1 -1.8 1 0.6 1 0.2 1 -0.5 1 1.1 1 -1.7 1 1.2 1 1 1 -1.2 1 -0.1 1 -0.5 1 0.4 1 0.8 1 -1.1 1 -1.7 1 2.2 1 -0.4 1 0.7 1 -0.5 1 1.9 1 -3.3 1 0.3 1 1.9 1 -2 1 1.6 1 -0.4 1 -2.3 1 3.1 1 0.8 1 -1.3 1 -1.9 1 2.6 1 -2.2 1 1.1 1 0.6 1 -1.4 1 -1.1 1 1.9 1 0.1 1 -1 1 0.1 1 1.8 1 -1 1 -0.4 1 -0.1 1 0.9 1 -0.1 1 -0.3 1 -1.5 1 1.2 1 -0.3 1 0.9 1 1.2 1 -0.2 1 -0.4 1 -0.6 1 -0.5 1 0.8 1 -1 1 0.2 1 -0.6 1 0.9 1 0 1 2.3 1 -1.5 1 -1.1 1 1.3 1 -1.4 1 1.7 1 -0.3 1 2.5 1 -4.6 1 1.2 1 -0.1 1 0.5 1 0.5 1 -2 1 0.3 1 1.2 1 0.8 1 -2.4 1 -0.5 1 3.1 1 -0.3 1 0.2 1 -2.3 1 0.9 1 0.5 1 0.2 1 -0.6 1 0 1 1.3 1 -1.7 1 -0.1 1 0.1 1 -0.1 1 0.8 1 -0.4 1 -0.3 1 2.2 1 -1.3 1 -0.8 1 1.9 1 -2.1 1 0.6 1 -0.1 1 -0.5 1 0.2 1 0.5 1 -1.7 1 1.2 1 0.7 1 0.1 1 0 1 2.4 1 -2 1 -0.9 1 0 1 0.2 1 0.5 1 -0.9 1 2.1 1 -3 1 2 1 -0.1 1 -1.9 1 2 1 -0.1 1 -1.3 1 3.4 1 -1.9 1 -1.2 1 -0.1 1 -0.3 1 1.1 1 -0.2 1 -1.7 1 0.4 1 0.4 1 0.4 1 0 1 -0.3 1 1.5 1 0.3 1 -1 1 -2.6 1 2.4 1 0.8 1 -0.8 1 0.5 1 -0.2 1 -1.9 1 -1.1 1 3.6 1 -1.3 1 1 1 -0.8 1 0.2 1 1.7 1 -2.9 1 1.4 1 -1.3 1 1.3 1 0.5 1 0.2 1 -0.6 1 -1.7 1 1.9 1 0.7 1 0.1 1 1.3 1 -1.8 1 -1.8 1 0.6 1 0.7 1 1.1 1 -2.5 1 2.3 1 -0.3 1 -1.7 1 1.7 1 -1.6 1 0.9 1 -0.3 1 0.6 1 -1.6 1 1.9 1 -3.1 1 2.1 1 -0.2 1 2.4 1 -1.2 1 -1.1 1 -0.5 1 1.1 1 -0.8 1 3.3 1 -5.7 1 3.2 1 -2.9 1 4 1 -2.1 1 2.8 1 -2.5 1 1.9 1 -1 1 1.1 1 -1.3 1 -3.4 1 2.5 1 -0.9 1 2.8 1 -0.4 1 -0.6 1 0.5 1 -0.3 1 -0.9 1 2.9 1 -2 1 -0.5 1 -1.4 1 1 1 0.7 1 -0.2 1 -0.4 1 0.5 1 -1.2 1 1.3 1 -1.8 1 0.8 1 0.1 1 1.9 1 -0.5 1 -0.4 1 -1.4 1 0.8 1 1.4 1 0.5 1 -3.1 1 1.2 1 0.6 1 0.3 1 -0.4 1 0.8 1 -2.4 1 3.4 1 -3.1 1 1.4 1 0.5 1 0.7 1 -0.2 1 -0.1 1 0.5 1 -1.6 1 1 1 0.9 1 -2.6 1 -0.8 1 0.5 1 2.7 1 -0.1 1 -1.9 1 0.7 1 0.3 1 0.6 1 -3.3 1 1.5 1 0.4 1 0.6 1 -0.3 1 -0.4 1 0.7 1 -3.3 1 6.5 1 -2.6 1 0.1 1 -1.8 1 1.2 1 1.9 1 -0.2 1 -2 1 -1.5 1 1.6 1 -0.6 1 1.4 1 -2.5 1 1.3 1 0.5 1 -0.8 1 1.7 1 -2.5 1 -0.1 1 1 1 1.3 1 -1.3 1 -0.3 1 1.6 1 -0.6 1 -0.9 1 0.7 1 -0.4 1 1 1 -0.5 1 -1.1 1 0.4 1 0 1 0.9 1 0 1 -1.3 1 0.7 1 0.6 1 0.9 1 -1 1 2 1 -2.3 1 0.9 1 -1.3 1 -0.7 1 1.2 1 0.5 1 -0.2 1 -0.2 1 -0.6 1 -0.5 1 0.6 1 0.9 1 0.5 1 -4.8 1 4.4 1 0.6 1 0.2 1 -1 1 0.3 1 -1.3 1 0.4 1 0.7 1 -1.8 1 0.3 1 1.2 1 -1.8 1 1.6 1 -1.8 1 2 1 -0.2 1 -0.7 1 -0.4 1 0.5 1 -2 1 2.1 1 0.6 1 1.2 1 -1.9 1 0.4 1 1.8 1 0.4 1 -2.6 1 1.8 1 0.1 1 -0.7 1 -1.8 1 0.1 1 1.7 1 2.1 1 -2.9 1 2 1 0.4 1 -3.7 1 0.8 1 2.4 1 -0.6 1 -0.5 1 -0.6 1 0.7 1 -1.4 1 3.6 1 -4.2 1 -0.8 1 2.3 1 1.5 1 -2.3 1 0.5 1 -1.1 1 1.1 1 -1.1 1 0 1 -0.5 1 1.1 1 2.8 1 -2.3 1 0.3 1 2.4 1 -3.3 1 -0.4 1 1.7 1 -2 1 1.8 1 1 1 -2.6 1 0.6 1 2.6 1 -3.2 1 0.4 1 1.1 1 -0.6 1 -0.7 1 2.9 1 -2.5 1 1 1 -0.8 1 0.2 1 -1.3 1 2.6 1 -1.6 1 2 1 -2.8 1 0.8 1 1.1 1 -0.4 1 -0.9 1 0.6 1 -1.3 1 1.5 1 -3.1 1 3.3 1 1.3 1 -0.5 1 -0.1 1 -1.4 1 1 1 -1 1 0.4 1 -0 1 -3.8 1 4.9 1 -0.5 1 0.4 1 -2 1 1.9 1 -0.3 1 -3.1 1 0.5 1 2.1 1 -0.8 1 0.8 1 -0.7 1 2.4 1 -3.9 1 0.6 1 0.5 1 -0.5 1 0.9 1 0.7 1 -1.5 1 1.9 1 1.1 1 -0.2 1 1 1 -1 1 -1.3 1 2.1 1 -1.3 1 1.4 1 -2.4 1 -2.2 1 1.1 1 1.5 1 0.5 1 -0.9 1 1.4 1 -2.5 1 0.5 1 2 1 -1.1 1 0.1 1 1.5 1 -0.4 1 -2.2 1 1.2 1 -2.2 1 2 1 0.4 1 -2.4 1 3.8 1 0.5 1 -1.7 1 0.5 1 0.6 1 -1.9 1 1.4 1 -0.8 1 -2.2 1 0.8 1 0.3 1 1.9 1 -1.1 1 1.1 1 -1.7 1 -1 1 3.9 1 0.8 1 -2.7 1 -0.7 1 1.6 1 -2.6 1 1 1 -1.4 1 2.2 1 -0.3 1 -0.7 1 -0.3 1 -1 1 0.8 1 2.4 1 -1.9 1 1.9 1 -2.4 1 0.9 1 -0.5 1 0.3 1 1.2 1 -3.3 1 3.2 1 -0 1 -0.8 1 0.1 1 -0.4 1 1.1 1 -0.7 1 -1.1 1 1.2 1 0.9 1 -0.7 1 -0.4 1 0.2 1 -0.8 1 0.1 1 -1.7 1 2 1 1.4 1 -1.6 1 -0.6 1 2.1 1 -0.9 1 -0 1 0.4 1 0.2 1 -0.8 1 -0.9 1 2.9 1 -1.9 1 -0.9 1 1.1 1 1.1 1 -3 1 3.2 1 -1.7 1 2.5 1 -1.6 1 -0.8 1 1.5 1 0 1 -1.8 1 0.7 1 -0.9 1 1.6 1 -2.6 1 1.4 1 -2.2 1 3.1 1 -3.2 1 1.3 1 1.5 1 -0.7 1 -0.1 1 -0.6 1 0.6 1 -1.5 1 2.4 1 0.6 1 -0.1 1 -0.9 1 1.5 1 -0.9 1 0.6 1 -0.7 1 -0.4 1 -0.9 1 -2.1 1 3.7 1 -0.8 1 2.4 1 -4.6 1 3.3 1 -2.1 1 1.1 1 -1 1 1.4 1 -0.4 1 1 1 -0.8 1 0.4 1 0.9 1 -0.9 1 -0.7 1 1.6 1 -1.6 1 0.6 1 -0.8 1 -0.4 1 -2.6 1 4.2 1 -2.1 1 2.2 1 1.2 1 -3.6 1 2.5 1 -1.1 1 0.7 1 -1.9 1 1.4 1 0.2 1 1.4 1 0.8 1 -2 1 -0.8 1 3 1 -2.7 1 0.1 1 0.2 1 0.4 1 0.3 1 -1.5 1 0.6 1 2.2 1 -0.3 1 -1.3 1 -0.2 1 -0.5 1 1.4 1 -1.7 1 0.7 1 -0.6 1 -0.2 1 0.7 1 0 1 -0.6 1 0.6 1 0.1 1 -0.6 1 -0.2 1 0.6 1 1 1 0.5 1 -1.1 1 -0.5 1 0.3 1 2.2 1 -1.1 1 -2.1 1 1 1 -0.5 1 0.2 1 -1.5 1 1.9 1 -1.5 1 0.9 1 2.4 1 -0.6 1 -2.1 1 -0.2 1 0.2 1 -1.1 1 1 1 0.8 1 -0.9 1 2.1 1 -0.9 1 -0.5 1 2.6 1 -1.2 1 -0.7 1 2 1 -0.6 1 -2.3 1 1.2 1 -0.8 1 -1.1 1 3.8 1 -0.5 1 -3.1 1 2 1 -2.4 1 3.1 1 -1.3 1 -0.2 1 1.7 1 -1.4 1 -0.3 1 1.4 1 -1.4 1 1.4 1 -1 1 0.9 1 -0.2 1 0.2 1 -2 1 3.3 1 -2.3 1 2.2 1 -2.7 1 0.4 1 0 1 1.7 1 -1.9 1 1 1 -2.2 1 1.2 1 0.9 1 -0.4 1 -2 1 2.7 1 -1.7 1 3.4 1 -2.4 1 2.8 1 -1.8 1 -0.3 1 -1 1 0.4 1 0.7 1 -2.8 1 3.4 1 -2.5 1 1.1 1 -2.8 1 3.7 1 0.3 1 -0.5 1 0 1 -0.7 1 0.6 1 1.2 1 -1.9 1 1.1 1 0.3 1 -1.1 1 0.6 1 -0.1 1 -0.8 1 3.4 1 -3.3 1 2.5 1 -0.7 1 -3.6 1 2.7 1 0.9 1 -0.2 1 -2 1 1.3 1 -1.6 1 0.2 1 0.9 1 0.5 1 1.7 1 -1.5 1 0.9 1 -2.7 1 0.1 1 0.8 1 2.6 1 -3.6 1 -0.2 1 1.7 1 1.5 1 -3.3 1 1.7 1 -1.3 1 3.3 1 -0.9 1 -0.5 1 -0.4 1 -0.2 1 0.5 1 -0.9 1 -0.3 1 -0.2 1 1.3 1 -0.9 1 1.9 1 -3.4 1 3.1 1 -0 1 0.8 1 -1.7 1 -1.5 1 0.7 1 2.4 1 -1.7 1 -0.1 1 -0.2 1 0.7 1 -0.2 1 -1.6 1 1.2 1 1.8 1 0.6 1 -1.8 1 -0.5 1 2.2 1 -1.8 1 -1.1 1 1.2 1 1 1 1 1 -2.4 1 1.2 1 -1 1 1.7 1 -1 1 0 1 -1.4 1 0.8 1 -0 1 -3.8 1 5.2 1 -1 1 -0.3 1 -0.1 1 0.4 1 0.3 1 -1.8 1 1.7 1 -0 1 -0.1 1 -1.8 1 1.6 1 -1.3 1 1.9 1 1.1 1 -0.5 1 -1.4 1 -0.2 1 -0 1 1 1 -1.1 1 0.1 1 -2.3 1 2 1 0 1 0.3 1 2.1 1 -3 1 0 1 2.3 1 -1.8 1 0.9 1 0.4 1 -0.2 1 -0.9 1 2 1 0.7 1 -2.9 1 0.8 1 1.4 1 -1.3 1 -0.9 1 0.7 1 1.4 1 -2.1 1 1.5 1 0.1 1 -1.2 1 1.5 1 0.1 1 0.4 1 -0.1 1 -2.8 1 2.8 1 -0.4 1 0.5 1 -2.2 1 2.1 1 -0.6 1 -1.8 1 2.8 1 -2.4 1 -0.2 1 1.6 1 -1.2 1 1.2 1 -0.7 1 0.6 1 0.6 1 -1 1 1.1 1 -0.1 1 -1.9 1 1.9 1 -0.2 1 -0.6 1 1.2 1 0.5 1 -1.5 1 -3.2 1 1.5 1 -1.5 1 -1 1 0 1 -1.3 1 2.1 1 -1.5 1 0.2 1 1.6 1 0.9 1 1.5 1 0.3 1 0 1 0.9 1 -2.4 1 0.9 1 3 1 -1.5 1 2.5 1 0.1 1 -3.5 1 1.8 1 3.1 1 -4.2 1 1.4 1 -0.7 1 0.1 1 -0 1 0.3 1 1 1 -1.8 1 1.6 1 -1.4 1 1.5 1 -0.2 1 -1.3 1 1.1 1 -0.9 1 -0.1 1 2.4 1 -3.5 1 2.8 1 0.2 1 -1.5 1 2 1 -0.1 1 -2.6 1 2.2 1 -0.1 1 -1.3 1 1.5 1 0.3 1 -1.7 1 -1.5 1 2.8 1 -1.3 1 -1.1 1 1.6 1 -2.3 1 2.4 1 2.1 1 -5 1 3.9 1 -1.6 1 0.6 1 -0.6 1 1.9 1 -0.8 1 -0.9 1 -0.6 1 1.1 1 1.8 1 -2.7 1 1.9 1 -0.1 1 -2.7 1 3.7 1 -1.4 1 2.7 1 -0.5 1 -2.4 1 0.2 1 -1 1 -0.4 1 2.5 1 -1.2 1 -0.2 1 0.3 1 1 1 0.3 1 -1 1 -0.3 1 0.4 1 2.3 1 -4.8 1 1.1 1 1.9 1 -0.4 1 1.3 1 0.1 1 0.8 1 -3.3 1 1.7 1 -1 1 1.5 1 -1 1 0.9 1 -1.9 1 1.1 1 -0.8 1 0.3 1 -0.2 1 -0.7 1 2.5 1 -0.9 1 0.9 1 -2.4 1 -1.1 1 1.5 1 0.6 1 1.2 1 0.3 1 0.2 1 0.4 1 -0.9 1 -0.8 1 -1 1 1.8 1 -1.4 1 -0.4 1 1.7 1 -0.4 1 0.8 1 -1.9 1 2.3 1 -1 1 -0.6 1 -0.6 0.2 -0.4" stroke="#000080" stroke-width="1.1" fill="none" stroke-linejoin="round"/>
<path d="M186.8 1541.4l1 3.8 1 -2.7 1 3.1 1 -0.3 1 0.3 1 0.8 1 1.1 1 1.8 1 0.2 1 -0.2 1 -1.3 1 -0.2 1 4.4 1 -3.4 1 -0.7 1 3.2 1 -3.1 1 2.5 1 0.2 1 -0.9 1 0.8 1 -2.9 1 0.1 1 1.1 1 0 1 -0.2 1 0.5 1 -1.6 1 -1.9 1 2.8 1 -1 1 1 1 1.3 1 -2.6 1 0.3 1 -2.1 1 1.9 1 -1 1 -0.7 1 -0.6 1 -4.3 1 -0.4 1 -2.8 1 -1.5 1 -6.9 1 -0.7 1 0.2 1 -5.2 1 -1.6 1 1.8 1 1 1 -0.9 1 2.3 1 4.2 1 4.7 1 3.5 1 3.4 1 3 1 0.6 1 1.1 1 0 1 -0.9 1 2.7 1 -0.1 1 -0.6 1 0.7 1 1 1 -0 1 -0.1 1 1.3 1 0.4 1 -1.5 1 0.4 1 -1.3 1 1.1 1 0.8 1 0.4 1 -0.8 1 -0.3 1 -0.8 1 1.1 1 -1.5 1 1.4 1 -0.1 1 -1.1 1 1.4 1 -0.6 1 0.9 1 -1.3 1 1.1 1 1.3 1 -1.7 1 0.7 1 -1.7 1 0.4 1 -1.9 1 2.1 1 -1.2 1 1.4 1 -2.5 1 1.3 1 1.1 1 0.4 1 -2.5 1 1.5 1 3.4 1 -2.1 1 -0.7 1 -3.5 1 2.1 1 1.7 1 -0.4 1 0.3 1 0.5 1 -1 1 0.8 1 -3.1 1 5 1 -3.3 1 -0.4 1 2.5 1 -1.1 1 0.4 1 -1.9 1 1 1 0.5 1 -2.3 1 1.1 1 -0.1 1 -0.1 1 -0.5 1 -0.7 1 2 1 -0.3 1 1 1 -1.4 1 -0.8 1 -0.9 1 1.7 1 -0.5 1 2.7 1 0.3 1 -0.9 1 -2.9 1 -0.6 1 1.3 1 -0.8 1 2.7 1 -1.6 1 -0.7 1 0.5 1 1.4 1 -2.6 1 1.6 1 -2.1 1 1.2 1 -0.5 1 1.1 1 -0.3 1 1.2 1 -0.6 1 -1.6 1 -0.8 1 0.5 1 0.4 1 0.2 1 -0.6 1 2.1 1 -0.2 1 -1.5 1 -0.3 1 0.3 1 0.2 1 -0 1 -1.9 1 1.3 1 -1.7 1 2.2 1 0.7 1 -2 1 1.4 1 -1 1 -0.1 1 3.1 1 -1.3 1 -0.5 1 -1.1 1 0.9 1 -0.7 1 0.7 1 -1.6 1 1 1 -0.5 1 -1.2 1 3.6 1 -1 1 -1.9 1 -0.8 1 0.8 1 -0.2 1 0.3 1 -1.1 1 0.8 1 1 1 0.4 1 -2.8 1 2.3 1 -1.2 1 -0.1 1 0.9 1 -0.5 1 1.6 1 0 1 -1.2 1 -0.4 1 2.9 1 0 1 -1.7 1 -0.7 1 1.4 1 0.5 1 -2.3 1 2.7 1 -2.3 1 1.5 1 -1.9 1 0.7 1 -0.7 1 0.7 1 1.5 1 -1.7 1 1.3 1 1.7 1 -0.4 1 3.6 1 -3.5 1 5.2 1 -3.6 1 1.9 1 0.8 1 -1.2 1 -2.3 1 1.3 1 0.5 1 0.6 1 0.5 1 0.2 1 0.4 1 -2.8 1 2.3 1 -3.2 1 2.2 1 -1.4 1 -0.9 1 3.3 1 -1.1 1 1.2 1 -3.1 1 0.5 1 1.3 1 -0.6 1 0.8 1 -0.8 1 0.4 1 -1 1 2.9 1 -1.9 1 -1 1 2.2 1 -0.2 1 -0.3 1 -0 1 -0.7 1 0.3 1 -2.5 1 0.8 1 0.4 1 1.8 1 1.1 1 -1.6 1 -0.2 1 1.7 1 -1.8 1 1.3 1 -0.3 1 -2.1 1 1.9 1 -0.1 1 -1.6 1 0.1 1 -0.2 1 3.1 1 0.9 1 -1.7 1 1 1 -3.4 1 3.3 1 0.6 1 -0.4 1 -3 1 2.4 1 -1.5 1 1.5 1 -2.1 1 0.8 1 -0.7 1 1.2 1 -0.7 1 1.5 1 -0.3 1 -0.5 1 -0.6 1 -0.3 1 0.4 1 0.9 1 -0.8 1 0.2 1 -0.4 1 -0 1 -0.7 1 -1.5 1 2.9 1 0 1 -1.8 1 3.4 1 -3.7 1 2.6 1 -0.9 1 0.1 1 1 1 -0.3 1 -1.1 1 -1.2 1 -0.2 1 1.6 1 1.7 1 -0.8 1 -1.1 1 0.4 1 0.4 1 1.3 1 -3 1 1.8 1 -0.6 1 -1.2 1 -0.3 1 2.7 1 -1.1 1 -0.7 1 0.4 1 1 1 -1 1 1.8 1 -2.3 1 -0.6 1 0.8 1 -1 1 0.7 1 1.9 1 0.6 1 -1.3 1 -0.5 1 -1.4 1 -0.1 1 1.6 1 -0.2 1 -0.9 1 0.2 1 2.4 1 -0.7 1 -1.2 1 0.3 1 1.2 1 -1.1 1 -0.1 1 -2.2 1 -0.2 1 -0.2 1 -0.4 1 2.6 1 0.4 1 -1.4 1 1.6 1 -0 1 -0.7 1 -1.6 1 3.4 1 -0 1 -2.4 1 3 1 -2.2 1 -1 1 0.4 1 -1.7 1 1.8 1 -1.5 1 3.2 1 -0.9 1 -2.1 1 2.4 1 -2.8 1 2.2 1 0.4 1 -0.5 1 -1.4 1 1.2 1 -0.1 1 0.3 1 1.7 1 0.3 1 -0.2 1 -2.6 1 -0.2 1 0.9 1 0.5 1 -3 1 1.8 1 2.8 1 -3.6 1 0.6 1 0 1 1.5 1 -0.7 1 -0.3 1 -1.5 1 2.6 1 -0.7 1 -0.8 1 0.8 1 0.9 1 -2.7 1 -0.1 1 0.6 1 0.2 1 -2.6 1 2.9 1 2.1 1 -1.8 1 1.6 1 -4.6 1 3.3 1 1.8 1 0.2 1 -2.5 1 -0.4 1 1.5 1 -2 1 1.1 1 -1.6 1 2.1 1 -0.1 1 2 1 -1.6 1 -1.2 1 0.7 1 -1.5 1 1.6 1 -0.3 1 0.8 1 0.6 1 -3.5 1 2.8 1 0.5 1 -2.4 1 3.8 1 -3.2 1 3.8 1 -2 1 0.2 1 -0.8 1 0.9 1 -2.5 1 0.3 1 -1.4 1 3 1 -1.5 1 1.8 1 -0.2 1 -2.3 1 2.4 1 -0.5 1 -0.1 1 0.3 1 -0.6 1 0.1 1 1.2 1 -2.4 1 -0.3 1 0.6 1 2.1 1 -1.6 1 2.7 1 -6 1 2.8 1 0.4 1 0.8 1 1.3 1 -1.8 1 -1 1 2.2 1 0.9 1 -5 1 3.8 1 -0.3 1 -1.4 1 0.4 1 1 1 -0.4 1 -0.3 1 -1.1 1 1.8 1 -1.2 1 0.9 1 -0.8 1 1 1 0.6 1 -0.6 1 0.5 1 -2.4 1 2.2 1 -0.2 1 -1.1 1 0.5 1 -3.1 1 3.4 1 -0.6 1 -2.2 1 3.4 1 -1.4 1 1.1 1 -0.6 1 0.8 1 -0.4 1 -0.5 1 1 1 0.4 1 -3.8 1 2.8 1 -0.7 1 -0.7 1 2.9 1 -0.4 1 -2.4 1 -0.1 1 2.4 1 -1.8 1 0.4 1 -2 1 2.2 1 1.6 1 -1.9 1 0.4 1 2.2 1 -1 1 0.6 1 -0.9 1 0.7 1 -3.5 1 1 1 -1 1 4.7 1 -2.4 1 -0.4 1 -0.8 1 -0.3 1 -2.1 1 6.1 1 -2.8 1 0.1 1 -1.7 1 1.6 1 0.5 1 -0.5 1 0.8 1 -1.7 1 1.4 1 0.7 1 -0.4 1 -0.2 1 -0.6 1 -1.1 1 1.9 1 -1.1 1 -0.7 1 2.1 1 -2.9 1 1.3 1 1.6 1 0.2 1 -1.6 1 0.5 1 0.6 1 -0.7 1 -0.9 1 1.5 1 -0.3 1 -0.1 1 1.2 1 -0.9 1 -0.9 1 0.7 1 2.1 1 -3.1 1 0.5 1 -0.6 1 1.4 1 -2 1 2.1 1 0.4 1 -1.9 1 -0.1 1 -0.7 1 1.8 1 -1.4 1 0.6 1 0.3 1 -0.3 1 1.8 1 0.9 1 -4.5 1 1.6 1 1.3 1 -1.5 1 0.6 1 0.9 1 1.4 1 -0.3 1 -1.7 1 0.5 1 -0.6 1 0.2 1 -1.1 1 -0.8 1 1.7 1 1.7 1 -0.3 1 -3.1 1 2 1 -0.6 1 1.2 1 -1.7 1 2.4 1 -1.3 1 0.9 1 0.4 1 -3.4 1 2.1 1 2.1 1 -1.8 1 1.2 1 -0.7 1 -1.1 1 0.9 1 0.9 1 0.3 1 0.2 1 -3 1 2.3 1 -2.6 1 1.5 1 -0.1 1 1 1 -0.4 1 1.1 1 -2.2 1 1.8 1 -0.6 1 -0.4 1 -1.5 1 2.2 1 -0.3 1 0.5 1 -0.9 1 -0.3 1 0.8 1 0.1 1 0.2 1 1.5 1 -3 1 3.1 1 -5.9 1 4.7 1 -2.1 1 3.4 1 -3.5 1 2.3 1 -2.4 1 -0.2 1 2.4 1 0 1 -1.8 1 3.7 1 -3.3 1 2.3 1 -3.1 1 0.1 1 1.2 1 -1.3 1 1.8 1 -3.1 1 2.8 1 -0.9 1 -0.5 1 1.4 1 -0.5 1 -0.2 1 1.5 1 -0.6 1 0.1 1 1.1 1 -1.7 1 1.1 1 -1.5 1 1.3 1 -0.1 1 -1.3 1 -1.2 1 0.3 1 0.4 1 1.8 1 -0.8 1 -0.2 1 1 1 0.3 1 0.8 1 -2.4 1 1.4 1 0.2 1 -2 1 1.3 1 -1.3 1 0.9 1 0.8 1 -2.6 1 1 1 0.1 1 1.1 1 -1 1 1.3 1 -1.4 1 0.4 1 1.3 1 -0.3 1 -0.2 1 -0.2 1 1.2 1 0.5 1 -2.1 1 -0.4 1 -0.4 1 3.3 1 -3.1 1 -0.5 1 1.9 1 0.9 1 -2.7 1 1.3 1 -1.5 1 0.9 1 2.7 1 -1.7 1 -0.5 1 0.4 1 0.3 1 -0.5 1 -1.3 1 0 1 3.8 1 -3.3 1 2.4 1 -2.3 1 2.4 1 -0.7 1 -1.1 1 2.7 1 -3.5 1 0.8 1 -0.7 1 0.1 1 0.5 1 -0.7 1 0.7 1 2.3 1 -3.9 1 0.5 1 0.4 1 0.6 1 1.8 1 -0.4 1 -0.3 1 -0.3 1 2.6 1 -4.2 1 0 1 1.4 1 0.2 1 -0.5 1 -0.7 1 -0.6 1 1.3 1 -0.5 1 0.2 1 -0.7 1 2.9 1 -1 1 1.6 1 -2.8 1 0.7 1 -0.3 1 0.3 1 -0.3 1 0.1 1 -2.2 1 2.1 1 1.1 1 -3.1 1 1.9 1 1.1 1 0.8 1 -1.6 1 0.7 1 1.5 1 -0.5 1 -2.1 1 -0.2 1 2 1 -1 1 -0.9 1 0.4 1 0.6 1 -0.6 1 -0 1 -0 1 -1.5 1 3.8 1 -0.6 1 0.4 1 -2 1 0.4 1 0.5 1 0.3 1 -3.2 1 2.6 1 -1.6 1 1.1 1 -0.7 1 2.9 1 -1.4 1 -0.7 1 1.7 1 -1.7 1 -0.8 1 0.7 1 -0.3 1 0.5 1 1 1 -1.1 1 0 1 1.3 1 -0.8 1 0.8 1 -1 1 -1.7 1 0.2 1 -0.6 1 3.3 1 -0.8 1 -1.1 1 -0.6 1 1.6 1 -0.6 1 0.6 1 -1.4 1 -0.3 1 3.2 1 -3 1 1.1 1 1.6 1 -3.8 1 3.1 1 -0.8 1 -0.2 1 0.5 1 -1.8 1 -1.2 1 4.9 1 -2.6 1 1.4 1 0.3 1 -1 1 0.2 1 0.4 1 1 1 -1.3 1 0.9 1 -1.8 1 -0.2 1 0.6 1 0.4 1 0.2 1 1.7 1 -1.3 1 -0.9 1 2.2 1 -1.9 1 0 1 0.2 1 -1 1 -0.9 1 1.5 1 -0.5 1 -0.7 1 1.2 1 -0.4 1 -0.5 1 -1.4 1 2 1 2.3 1 -1.1 1 0.3 1 -1.3 1 1.3 1 -2.1 1 0.3 1 1.1 1 -2.3 1 1.8 1 0.3 1 1.6 1 -2.8 1 1.4 1 -1.3 1 0.1 1 -2.5 1 2.1 1 2.5 1 -0.8 1 -0.4 1 2.7 1 -2.2 1 -2.2 1 1.3 1 0.2 1 1.9 1 -2.9 1 1.6 1 0.6 1 -2.1 1 1.1 1 -2.5 1 2.5 1 -2.7 1 2.1 1 2.5 1 -1.5 1 -0.4 1 0.1 1 2.4 1 -1.9 1 0.6 1 -1.8 1 0 1 -0.7 1 1.1 1 -0.7 1 2 1 -0.4 1 -0.9 1 -0.5 1 -2.7 1 2.7 1 1.1 1 0.4 1 -4.4 1 0.8 1 3 1 -1.4 1 1 1 -0.3 1 1.3 1 -2.9 1 1.5 1 1.8 1 -0.9 1 -1.2 1 1.5 1 -0.2 1 -1.4 1 1.9 1 0 1 -0.9 1 1.2 1 -2.5 1 2.3 1 -1.1 1 -0.9 1 0.4 1 2.1 1 -2 1 0.3 1 -0.4 1 -0.2 1 2.1 1 1.5 1 -1 1 -1 1 0.3 1 -1.3 1 -0.2 1 -0.8 1 3.1 1 -2.1 1 -0.4 1 0.1 1 1 1 -0.9 1 0.7 1 0.2 1 1.4 1 -3.1 1 1.8 1 -1.1 1 0.3 1 2.4 1 -1.2 1 -1.2 1 1.1 1 -0.6 1 1.3 1 -1.9 1 1.2 1 -0.8 1 0.2 1 -0.1 1 -0.6 1 0.9 1 1 1 -1.9 1 0.3 1 0.9 1 -1.3 1 1.9 1 -0.2 1 -3.5 1 1.9 1 -0.5 1 2.3 1 0.1 1 -2.5 1 0.6 1 0.7 1 -0.3 1 1.3 1 0.3 1 -0.5 1 0.6 1 -0.2 1 -1.1 1 -0.5 1 -0.3 1 1.8 1 0.1 1 0.2 1 -1.6 1 -0.1 1 0.8 1 1.2 1 -1.1 1 -0.2 1 -1.2 1 1.5 1 0.1 1 -1.7 1 3.2 1 -3.2 1 2.2 1 -1.3 1 0.4 1 -1.1 1 0.2 1 1.5 1 -1 1 -0.2 1 1.5 1 -0.2 1 -0.7 1 0.1 1 1.8 1 -2.3 1 0.7 1 0 1 -2.1 1 -0.6 1 2.4 1 0.9 1 -0.8 1 -0.9 1 -0.1 1 1.7 1 -1.3 1 -1.5 1 2.7 1 -0.6 1 0.2 1 0.8 1 0.3 1 -0.9 1 -0.8 1 -2.3 1 2.8 1 -0.5 1 1.7 1 -0 1 -1 1 1.1 1 -1.7 1 0 1 -0.9 1 0.6 1 0.6 1 1 1 -2.1 1 1.8 1 1.9 1 -4.4 1 1.3 1 0.3 1 1.2 1 1.1 1 -0.9 1 -1.5 1 -0.9 1 0.9 1 -0.1 1 -0.2 1 -2.3 1 1.8 1 -3.8 1 0.5 1 -1.5 1 -2.3 1 1.1 1 0.1 1 0.4 1 2.2 1 -0.3 1 4.8 1 -0.4 1 -1.3 1 -1 1 4.9 1 -1.2 1 -0.1 1 -1.2 1 -0.5 1 -0.5 1 5.3 1 -1.1 1 -2.5 1 3 1 -4.4 1 3 1 0.1 1 -1.8 1 0.5 1 -0.7 1 1.4 1 1.5 1 -0.3 1 -0.7 1 0.9 1 -3.4 1 4.5 1 -2.4 1 -1.5 1 1.2 1 -0.3 1 0.9 1 0.3 1 -3.1 1 4.3 1 0.6 1 -3.3 1 3 1 -0.2 1 -0.3 1 0.8 1 -3.6 1 2.5 1 -2 1 4 1 -3.9 1 -0.3 1 2.8 1 -0.6 1 -0.7 1 0.2 1 0.6 1 1.3 1 -2.9 1 0.2 1 0 1 0.6 1 0.2 1 -1.6 1 1.9 1 -1.8 1 1.1 1 0.1 1 0 1 2.1 1 0.2 1 -0.6 1 0.6 1 -2.3 1 2.1 1 -1.8 1 0.4 1 0.1 1 -2 1 0.9 1 0.6 1 0.6 1 -0.6 1 -0.8 1 -0.4 1 1.4 1 -1.4 1 0 1 1.3 1 0.4 1 -1.2 1 -1.2 1 2.5 1 0.7 1 -1.5 1 0 1 -2.3 1 3.9 1 -2.4 1 2.2 1 -1.6 1 0.6 1 -0.1 1 -1.9 1 5.5 1 -5.2 1 2 1 -1.1 1 0.7 1 2 1 -3.9 1 2.1 1 0.8 1 -0.5 1 0.4 1 -1.4 1 -1.1 1 0.5 1 1 1 1.4 1 -0.7 1 1.8 1 -1.8 1 0.1 1 0.1 1 -2.3 1 2.8 1 -2.1 1 0.9 1 3.3 1 -4.3 1 1.7 1 0.2 0.2 -0.2" stroke="#000080" stroke-width="1.1" fill="none" stroke-linejoin="round"/>
<path d="M186.8 1537.1l1 -0.1 1 4 1 -4.4 1 2.1 1 4 1 -0.4 1 -1 1 0.6 1 1.4 1 4.3 1 -2.4 1 -1.7 1 1.8 1 -1.1 1 2.7 1 -1.6 1 1.2 1 -1.5 1 2.4 1 -2.2 1 -0.3 1 -1.8 1 0.7 1 0.9 1 -1.4 1 3.7 1 -3.4 1 -1.2 1 2 1 -2.2 1 0.9 1 -0.9 1 -1.2 1 2.4 1 -2 1 0.9 1 -2.2 1 -1.9 1 -0.4 1 -0.6 1 -1.6 1 -2.3 1 -2.4 1 -5.4 1 -1.4 1 -5.1 1 -2.9 1 -0.7 1 -6.8 1 -6.4 1 0.3 1 0.3 1 4.4 1 7.7 1 3.9 1 4.4 1 3.3 1 6 1 1.6 1 4.4 1 4.1 1 0.8 1 2 1 2 1 -3.5 1 3.2 1 -2.6 1 -0.3 1 1.6 1 1.2 1 -2.2 1 0 1 0.5 1 -0.3 1 1.2 1 -1.1 1 0.7 1 0.8 1 -0.9 1 2.1 1 -2.3 1 -0.1 1 3.7 1 -0.7 1 -1.8 1 1 1 -0.6 1 -1 1 1.5 1 -0.4 1 1.3 1 -4 1 3.4 1 -0.8 1 -1.1 1 0.4 1 0 1 -1.1 1 1 1 1.7 1 -2.9 1 1.5 1 -2.6 1 2.3 1 1.3 1 -0.6 1 0.1 1 -1.5 1 2.2 1 -1.9 1 2.4 1 -0.9 1 -0.8 1 2.4 1 -2.4 1 1.8 1 -1.2 1 -0.1 1 1.3 1 -0.7 1 -0.6 1 -0.2 1 0.5 1 -0.2 1 -0.5 1 -1 1 -2 1 3.2 1 -0.1 1 1.8 1 -0.9 1 0.8 1 0.8 1 -2.4 1 -0.9 1 2.1 1 -1.8 1 0.4 1 2.2 1 -1.2 1 0.7 1 -3.1 1 1.8 1 1.4 1 -3.2 1 1.9 1 0.3 1 -3.5 1 5 1 -3 1 0.8 1 2.3 1 -4.5 1 2.9 1 -1.2 1 0.6 1 -1.1 1 2.8 1 -3.2 1 1.9 1 0.2 1 -0.8 1 -0.3 1 0 1 1.7 1 -0.8 1 -0.7 1 -1.3 1 1.6 1 0.5 1 -0.8 1 1.9 1 -4.4 1 5.8 1 -3.6 1 -1.2 1 -0.8 1 3.4 1 -0.5 1 -1 1 0.2 1 0.2 1 -0.7 1 2 1 -0.7 1 -1 1 -2 1 3.9 1 -2.5 1 -0.7 1 3 1 -1.1 1 -3.3 1 0.4 1 1.6 1 -1.1 1 1.4 1 3.6 1 0.4 1 -4 1 1.1 1 0.1 1 -1.4 1 -1.8 1 3.3 1 -1.7 1 0.8 1 0.3 1 -2 1 3.2 1 -2.2 1 0.2 1 -0.9 1 1.4 1 0.4 1 -2.1 1 1.4 1 -1.3 1 -1.3 1 0.7 1 0.4 1 -1 1 -0.5 1 -3.4 1 -0.5 1 -0.5 1 0 1 -1.4 1 -1.1 1 -0.3 1 4.4 1 1 1 -0.9 1 4.2 1 -0.7 1 1.8 1 1.9 1 -1.9 1 -0.4 1 -1.2 1 2.7 1 0.2 1 0.6 1 -0.4 1 -0.6 1 1.4 1 -2.8 1 1.9 1 0.1 1 -0.8 1 2.5 1 -1.7 1 1.2 1 -0.5 1 -1.4 1 2.7 1 -1 1 -1.4 1 -0.2 1 -1.1 1 1.1 1 -0.1 1 0.7 1 -0.9 1 1.4 1 -0.9 1 -1.9 1 1.4 1 -0.5 1 -0.4 1 1.3 1 1.6 1 -2.7 1 -1.1 1 2.4 1 4.1 1 -4.6 1 1.1 1 -0.8 1 1.6 1 0.8 1 -2 1 1.7 1 -2.9 1 1.7 1 -1.9 1 1.9 1 -1 1 1.1 1 -1.7 1 1.7 1 -0.1 1 -0.9 1 -0.3 1 -0.4 1 1 1 1.1 1 -0.7 1 0.4 1 1.5 1 -2.1 1 0.8 1 0.7 1 -0.4 1 -0.1 1 -0.4 1 2.4 1 -2.6 1 -0.4 1 1.3 1 1.4 1 -0.2 1 -1.8 1 1 1 -0.4 1 -0.5 1 0.7 1 0 1 -0.6 1 2.1 1 -2.7 1 2.3 1 0.9 1 0.1 1 -2.4 1 -0.6 1 -1.8 1 2 1 3.3 1 -5.3 1 0.1 1 3.1 1 -0.3 1 -3.1 1 2.3 1 0.5 1 -2.4 1 3.2 1 -2.9 1 3.2 1 -1.2 1 -1.2 1 -1.1 1 1.6 1 0.4 1 -0.1 1 -0.6 1 0.6 1 1.4 1 -2.3 1 0.9 1 0.9 1 -0.6 1 1.1 1 0.9 1 -2.4 1 0.7 1 -4.1 1 3.4 1 1.3 1 -2.3 1 3.2 1 -4.1 1 4.2 1 -2.4 1 -0.7 1 0.7 1 0.3 1 -0.9 1 -0.5 1 1.1 1 1.9 1 -0.7 1 1.3 1 -2.6 1 0.4 1 0 1 0.7 1 0.4 1 1.7 1 -1.4 1 -0.7 1 1.6 1 -2.8 1 -0.7 1 2.6 1 -0.6 1 -0.1 1 1.1 1 -1.6 1 0.3 1 0.6 1 0.4 1 0.4 1 -1.1 1 0.2 1 -3.5 1 4.8 1 -3.7 1 2 1 3.4 1 -3.7 1 -1.7 1 4.2 1 -2.8 1 0.5 1 0 1 1.2 1 0.1 1 -1.2 1 1.6 1 -2.6 1 2.1 1 -1.7 1 1.7 1 -1.8 1 0.3 1 2.5 1 -3.3 1 -0.1 1 2.3 1 -1.1 1 -0.2 1 0.4 1 2.9 1 -4.1 1 1 1 0.6 1 -1.4 1 1.2 1 0.6 1 -1.8 1 2.7 1 -3 1 1.3 1 0.7 1 3.7 1 -6.4 1 2.6 1 2.9 1 -4 1 2.2 1 -1.1 1 -2.2 1 2.4 1 -1.7 1 1.3 1 -2 1 2.9 1 -4.1 1 2.9 1 1.9 1 -1 1 -1.1 1 0.1 1 -0.2 1 4.1 1 -3.6 1 0.1 1 -1 1 0.4 1 1.4 1 -1.6 1 -0.3 1 0.4 1 0.2 1 0.7 1 -0.8 1 0.4 1 -0.8 1 2.6 1 -1.4 1 -0.6 1 0.8 1 -0.4 1 -2 1 1.8 1 2.4 1 -1.5 1 0.9 1 -2.4 1 -1.1 1 1.1 1 2.6 1 -3 1 0.3 1 2.4 1 -1.7 1 0 1 0.8 1 -0.4 1 -0.5 1 0.7 1 -1.2 1 0.9 1 0.9 1 -2.2 1 1.1 1 -1.3 1 2.5 1 -0.2 1 0.5 1 0.1 1 -0 1 -0.4 1 -2 1 2.3 1 -2.4 1 4.2 1 -2.7 1 0.4 1 -2.3 1 3 1 0.1 1 -3.6 1 1.4 1 0.1 1 -0.3 1 2.7 1 1 1 -4.2 1 2.8 1 -1.7 1 2.1 1 -5 1 2.6 1 2.2 1 -2.6 1 2.6 1 -2.3 1 2.2 1 -0.7 1 -1.3 1 -0.5 1 0.8 1 1.7 1 -1.5 1 -0.8 1 5.1 1 -6.3 1 1.7 1 1 1 -2 1 1.3 1 -0.5 1 -1.4 1 2.5 1 -2 1 0.5 1 2.6 1 -3.1 1 2.2 1 0.8 1 -0.3 1 -0.6 1 -1 1 -1.5 1 2 1 0.4 1 -1.2 1 -0.6 1 2.4 1 -2.5 1 1.9 1 -1.2 1 -1.5 1 4.3 1 -1.3 1 -0.1 1 -2.6 1 1.7 1 0.5 1 -1.3 1 3.1 1 -4.8 1 3.6 1 -3.4 1 0.4 1 0.4 1 2.4 1 -1.7 1 0.1 1 -0.3 1 -0.8 1 0.8 1 -0.1 1 0.8 1 -0.1 1 -2.6 1 2.3 1 2.4 1 -2.2 1 0.5 1 -0.8 1 0 1 0.8 1 -1.6 1 1.5 1 -2 1 2.6 1 -2.5 1 2.9 1 0.5 1 -3.4 1 3 1 -1.4 1 2 1 -2.2 1 0.3 1 -0 1 2 1 -4.1 1 3.5 1 -0.9 1 -0.8 1 0.4 1 1.5 1 -0.2 1 1.2 1 -3.1 1 -1.6 1 1.7 1 0.5 1 -0.3 1 2.2 1 1.3 1 -2.4 1 -2.9 1 3.7 1 -2.2 1 0.9 1 1.1 1 -0.7 1 -0.5 1 0.4 1 0.6 1 -0.1 1 1.8 1 -6.6 1 2.9 1 0.2 1 1.9 1 -0.8 1 0.8 1 -3 1 1.5 1 1.1 1 -0.9 1 -0.5 1 0.9 1 1.7 1 -4.9 1 4.8 1 -1.7 1 -1.5 1 1.9 1 -0.8 1 1.5 1 -2.7 1 2.3 1 -2.5 1 1.5 1 0.5 1 -1.1 1 0.9 1 -1.6 1 2.1 1 -2.1 1 -0.3 1 0.7 1 0.1 1 -1.1 1 2.1 1 -1.3 1 0.9 1 -2.7 1 0.1 1 1.4 1 -1 1 1 1 0.9 1 0.7 1 0.4 1 -1 1 -2 1 1.6 1 -1.4 1 1.3 1 -2.1 1 3 1 -1.2 1 -1 1 -1.4 1 2 1 -1.1 1 1 1 -1.3 1 0.1 1 1.5 1 1.1 1 -3.7 1 1.4 1 0.7 1 -0.8 1 -0.4 1 3.3 1 -3.9 1 1.5 1 -1.2 1 0.5 1 -2.9 1 4.1 1 -1.5 1 -1 1 3.4 1 -2.6 1 -0.5 1 -0.3 1 2.4 1 -1.4 1 -0.5 1 -1.3 1 0.5 1 1.6 1 -0.6 1 -2.6 1 1.5 1 1.3 1 3.2 1 -4.5 1 -1.9 1 3.8 1 -1.6 1 -1.2 1 2.5 1 -1.1 1 -1 1 -0.5 1 1.6 1 0.2 1 -2.4 1 3.6 1 -3 1 3.5 1 -1.4 1 -0.7 1 0.6 1 -1.2 1 0.7 1 2.2 1 -2.9 1 1.8 1 -2.2 1 1.1 1 1.3 1 -2.7 1 2 1 -3.1 1 1.4 1 1 1 1.8 1 -0.1 1 -2 1 1.2 1 0.6 1 -2.2 1 2.8 1 1.4 1 0 1 -2.2 1 0.4 1 -0.5 1 0.8 1 0.5 1 1.4 1 -0.6 1 -1.1 1 2.4 1 0.3 1 -1.8 1 0.6 1 0.4 1 -1.9 1 2.5 1 0.8 1 1.8 1 -2.2 1 -0.5 1 0.2 1 1.1 1 0.3 1 -2.2 1 1.4 1 0.6 1 -3.4 1 4.4 1 -2.1 1 1.4 1 -1.2 1 -0.3 1 0.3 1 0.4 1 0.8 1 -1.5 1 -1.1 1 0.6 1 -0.4 1 2.3 1 -2.3 1 3.2 1 -1.8 1 -0.2 1 1.8 1 -2.2 1 0.1 1 1.4 1 -0.1 1 -2.2 1 4.5 1 -2.5 1 -2.4 1 1.4 1 1.5 1 -0.9 1 0.8 1 1.9 1 -1.8 1 1.4 1 -1.7 1 -1.8 1 2.8 1 -2.8 1 2.1 1 -0.4 1 -1.9 1 0.2 1 0.6 1 0.8 1 1.2 1 -1.6 1 2.4 1 -1.4 1 -2 1 0.1 1 0.9 1 -0.8 1 0.6 1 1.1 1 -0.7 1 1 1 -2.2 1 -0.2 1 -0.7 1 -0.5 1 1.7 1 0.7 1 -0.4 1 0.3 1 2.6 1 -4 1 1 1 -0.3 1 -0.5 1 2.9 1 -1.8 1 1.7 1 -3.1 1 3.9 1 0.5 1 -4.1 1 1.1 1 -0.1 1 0.9 1 -2.4 1 2.3 1 0.3 1 -1.7 1 -2.2 1 2.1 1 0.3 1 1.5 1 -1.8 1 -0.7 1 2.3 1 -0.3 1 0.5 1 -0.9 1 1.3 1 -0.7 1 -3 1 2.6 1 0.7 1 -1 1 1.9 1 -2.5 1 1.5 1 -2.5 1 1.6 1 -0.8 1 -0.5 1 -0.5 1 2 1 0.3 1 -1.4 1 -0.8 1 0.5 1 2.1 1 -2.6 1 3.1 1 -3.7 1 2.6 1 0.5 1 0.7 1 -2.2 1 -0.4 1 -0.9 1 3 1 -1.3 1 -0.5 1 0.1 1 0.9 1 -0.3 1 1.4 1 -4.3 1 3.9 1 -1.8 1 0.6 1 -0.3 1 0.3 1 1 1 -0.7 1 -2.1 1 1.8 1 -0.1 1 0.6 1 -0.4 1 -0.2 1 1.4 1 -2.7 1 4.2 1 -3.6 1 -0.6 1 2.4 1 0.3 1 0.3 1 0.2 1 -1.3 1 -0.5 1 0.4 1 -0.5 1 -0.7 1 2.8 1 0.2 1 -2.3 1 -0.4 1 -0.3 1 -1.6 1 1.3 1 0.2 1 0.7 1 -1.3 1 -1.2 1 3.3 1 1.4 1 -5 1 2.5 1 1.3 1 -2.6 1 -0.4 1 1.9 1 -0.3 1 -0.6 1 3 1 -0.2 1 -1.1 1 -1 1 -0.3 1 1.5 1 -1.4 1 2.2 1 -0.3 1 -2.5 1 1.8 1 1 1 -1.2 1 -2.1 1 0.9 1 -0.1 1 0.6 1 -0.1 1 -0.6 1 1.6 1 0.6 1 -2.5 1 -1.2 1 2.4 1 -0.5 1 0.6 1 -1.5 1 1.3 1 -1.6 1 2.6 1 0.7 1 -3.4 1 -2.2 1 2.8 1 -0.1 1 0.9 1 -0.2 1 0.6 1 2.8 1 -4.2 1 0.2 1 1 1 -3 1 3.4 1 -1.8 1 -1.1 1 0.8 1 1.7 1 0.4 1 0.5 1 -1 1 -1.6 1 1.7 1 -0.9 1 3.2 1 -5.8 1 4.8 1 -1.1 1 -0.5 1 -0.7 1 -0.6 1 -0.6 1 -0.8 1 4.7 1 -1.5 1 -0.3 1 -0.5 1 -3 1 2.2 1 0.5 1 1.3 1 -2.9 1 1.7 1 -0.7 1 0.3 1 -1.1 1 1.5 1 -0.4 1 -2.5 1 3.9 1 1.3 1 -4 1 2.6 1 -2.8 1 0.6 1 2.9 1 -2.1 1 1.7 1 -1.6 1 0.9 1 -1.5 1 2 1 0.5 1 -1.5 1 -1.7 1 0.3 1 -0.8 1 2 1 -0.2 1 -1.6 1 2.1 1 -2 1 3.1 1 -1.3 1 1 1 -3.1 1 -0.4 1 -1.1 1 3.2 1 -2.3 1 3.2 1 -1.6 1 0.8 1 -2.7 1 0.8 1 1 1 0.7 1 -2.7 1 2.1 1 -1.5 1 2.1 1 -1.4 1 -0.1 1 0.9 1 0.9 1 -1.9 1 1.9 1 -2.9 1 1.6 1 -1.9 1 1.7 1 -1.5 1 1.2 1 0.8 1 -2.1 1 -1.1 1 2 1 0.9 1 -0.4 1 -1.5 1 2.2 1 -1.5 1 1.3 1 -2.2 1 1.7 1 0.9 1 -2.4 1 0.4 1 1.2 1 -0.2 1 -0.2 1 -0.7 1 -1.9 1 2 1 -1.7 1 1.7 1 -3.2 1 4.9 1 0.5 1 -2.1 1 -2.2 1 -0.3 1 0.3 1 -1.6 1 -3.2 1 1 1 -2 1 -1.4 1 -2 1 -0.1 1 -0.9 1 1.7 1 -0 1 3.8 1 0.3 1 2 1 2 1 1.7 1 -0.8 1 4.5 1 -1 1 -0.8 1 -0.5 1 0.5 1 0.1 1 0.9 1 -1.1 1 1.3 1 0.1 1 -1 1 3.8 1 -3 1 0.7 1 -0.3 1 -0.3 1 1.2 1 0.9 1 -1.8 1 -1 1 1.9 1 -3.5 1 3 1 -0.4 1 0.7 1 -2.3 1 1.4 1 -0.7 1 0.7 1 1.5 1 -1 1 -0.5 1 2.3 1 -1.5 1 -2.6 1 1.3 1 1.9 1 0.1 1 -0.3 1 0.1 1 -1.5 1 1.1 1 -1.4 1 0.5 1 -0.1 1 0.1 1 0.7 1 0.2 1 -0.8 1 2.5 1 -2 1 2.6 1 -0.7 1 -2.8 1 2.7 1 -2.9 1 3.6 1 -1.4 1 -1.7 1 -1.5 1 2.3 1 -1.2 1 3.2 1 -3 1 1.3 1 0.9 1 -0.6 1 0.3 1 -0.6 1 1.3 1 -2.1 1 1.9 1 -2.3 1 1.8 1 -1.7 1 1.2 1 1.1 1 0.8 1 -3.9 1 1.4 1 -0.3 1 2.8 1 -2.6 1 2 1 -1.6 1 -1.2 1 2 1 -1.5 1 2.4 1 0.1 1 0.7 1 -3 1 3.3 1 -0.8 1 -3.5 1 5.1 1 -0.6 1 -3.5 1 1.8 1 -2.2 1 1.6 1 0.4 1 0.6 1 -1.8 1 1 1 -1.2 1 1.7 1 0.4 1 -0.7 1 1.4 1 -0.5 1 -0.5 1 1.1 1 -3.1 1 1.6 1 -2.3 1 2.3 1 -0.5 1 1.6 1 -1.6 1 -0.2 1 0.7 1 0 0.2 0.8" stroke="#0000FF" stroke-width="1.1" fill="none" stroke-linejoin="round"/>
<path d="M186.8 1507.5l1 -0.2 1 1 1 6.3 1 -3.5 1 2.4 1 -0.5 1 4 1 -2.9 1 2.8 1 -4.5 1 0.7 1 -0.5 1 -1.3 1 -5.8 1 -0.3 1 -1.3 1 -5.2 1 2.9 1 -2.4 1 -1.6 1 -5.6 1 0.8 1 -1.8 1 -1.3 1 -5.6 1 -0.6 1 -0.7 1 -8 1 -4.3 1 -4.8 1 -7.4 1 -3 1 -1.4 1 -10.2 1 -4 1 -2.7 1 -6.3 1 -5.6 1 -6 1 -4.3 1 -4 1 -3.1 1 -5.5 1 -1.1 1 -4.8 1 7.6 1 1.6 1 5.8 1 4.2 1 7.6 1 5.6 1 8.8 1 4.6 1 8.7 1 9.2 1 6.9 1 3.7 1 6.5 1 3.3 1 4.3 1 3.7 1 5.4 1 1.7 1 4.3 1 2.6 1 -3 1 5.2 1 0.7 1 -0.2 1 2.9 1 2.7 1 5.6 1 -1.6 1 0.6 1 1.4 1 -0.2 1 2.8 1 0.5 1 -1.9 1 2.9 1 8.1 1 -4.4 1 -0.8 1 1.8 1 -2.8 1 2.1 1 1.5 1 -4.7 1 1.6 1 0.5 1 0.1 1 -0.5 1 1.3 1 1.2 1 -1.4 1 1.1 1 -0.2 1 -3.3 1 1.4 1 -1.4 1 1.7 1 -2.1 1 0.1 1 3.2 1 -3.7 1 -2.7 1 2.9 1 0.1 1 -1.7 1 0.9 1 1.7 1 -3 1 0.5 1 -1.1 1 1.9 1 -0.9 1 -1.5 1 1.4 1 3.8 1 -6.5 1 0.8 1 3.3 1 -3 1 6.5 1 -6.1 1 0.6 1 1.8 1 3.3 1 -0.2 1 -0 1 -0.2 1 2.3 1 -5.4 1 4.2 1 2.5 1 -4.2 1 2.9 1 2 1 0.4 1 -2.3 1 4 1 -2.3 1 1.3 1 -3.8 1 0.8 1 0.1 1 4.7 1 -7.5 1 0.9 1 4.9 1 -1.3 1 -5.7 1 4.7 1 0.1 1 2.8 1 -5.9 1 2.6 1 2.8 1 -0.6 1 -3.2 1 1.1 1 -2.3 1 5.2 1 -3.4 1 3 1 -1 1 -3.2 1 1.3 1 1.3 1 -0.5 1 1.8 1 -0.9 1 -1.6 1 0.5 1 -2.7 1 -0 1 2 1 -0.7 1 -2.8 1 1.7 1 -1.6 1 0.3 1 3.2 1 -4.4 1 0.3 1 2 1 -1.1 1 -0.1 1 -3.2 1 2.3 1 -0.9 1 -1.1 1 0.2 1 0.2 1 1.8 1 1.6 1 -3.6 1 2.2 1 -2.8 1 -3.3 1 2.5 1 1.9 1 -0.1 1 -4.6 1 5.4 1 -5.8 1 -0.4 1 -0 1 3.2 1 -2.3 1 0.4 1 -6.6 1 2.8 1 -1.4 1 -0 1 -3.8 1 1.3 1 -5.1 1 -3 1 -2.1 1 3.9 1 -2.2 1 -3.8 1 2.7 1 -2.7 1 0 1 -2.2 1 2.1 1 1.8 1 0.9 1 -0.5 1 3.8 1 1.9 1 -3.1 1 3.3 1 -2.5 1 4.6 1 -1.5 1 2.4 1 1.3 1 -0.1 1 2.9 1 -2.8 1 1.1 1 2 1 -0.1 1 1 1 -0.3 1 -0.6 1 3.2 1 -0.6 1 2 1 1.3 1 -2.7 1 -0.2 1 0.9 1 0.1 1 -2 1 7 1 -1.9 1 3.9 1 -4.9 1 2.4 1 -0.2 1 -0.4 1 2.2 1 -1.5 1 0.1 1 0.7 1 -4.2 1 3 1 0.1 1 4.5 1 -1.7 1 0.5 1 -0.2 1 -1.3 1 3.5 1 -3.2 1 -2.1 1 3.9 1 1.1 1 -1.8 1 0.6 1 1.2 1 1.2 1 -1.6 1 2.1 1 -2.5 1 3.4 1 -6.2 1 4.3 1 -1.1 1 -0.2 1 -2.5 1 4.3 1 -2.2 1 -1.4 1 0.7 1 0.7 1 0.6 1 -1.8 1 -0 1 2.4 1 -0.9 1 3.8 1 -4.4 1 2.1 1 1.8 1 -3.6 1 2.1 1 -1.2 1 -0.5 1 2.8 1 -4.8 1 0.6 1 -2.2 1 3 1 1.9 1 -2.3 1 1.9 1 -3 1 3.4 1 -2.3 1 -0.8 1 3.8 1 -3.1 1 1 1 -0.9 1 0.9 1 -1.1 1 -2.6 1 2.6 1 0.3 1 -0.3 1 -1.2 1 3.6 1 -4.8 1 1.5 1 -0 1 -2.5 1 -0.3 1 3.2 1 -0.1 1 -1.1 1 -3.3 1 2.3 1 0.8 1 0.5 1 0.9 1 -1.5 1 0.8 1 1.2 1 -7.5 1 5.9 1 -2.7 1 1.5 1 -0.7 1 -2.4 1 0.1 1 2.3 1 -1.3 1 1.5 1 -2.2 1 4.5 1 -4.6 1 4 1 -5.4 1 2.1 1 0.7 1 -4.8 1 0.2 1 2.2 1 0.9 1 0 1 -1.9 1 0.6 1 -4.4 1 1 1 3 1 -3.9 1 0.3 1 -2.9 1 2.6 1 -2.7 1 3.5 1 2 1 -2 1 -0.2 1 -0.9 1 2 1 -2.8 1 1.4 1 5.1 1 -6 1 1.7 1 -1.2 1 5.1 1 -2.3 1 -1.5 1 0.4 1 4.7 1 -0.5 1 0.6 1 -1.3 1 2 1 1 1 -0.9 1 -4 1 -0.5 1 1 1 3.1 1 -3.1 1 0.7 1 2.1 1 -1.6 1 -0.7 1 4.1 1 -0.8 1 0.5 1 0.3 1 1 1 -2.7 1 -0.2 1 -2.9 1 2.8 1 -0.6 1 3 1 -0.6 1 1.4 1 -0.6 1 0.2 1 -1.2 1 -0.7 1 -0.9 1 0.7 1 -1.7 1 2.5 1 -0.9 1 -3.5 1 -1.2 1 3.6 1 0.5 1 0.4 1 2.9 1 -3.5 1 -1.1 1 3 1 1.2 1 1.2 1 -4.9 1 1.4 1 -0.3 1 3.6 1 -1.5 1 -1.2 1 1.3 1 -1.9 1 0.3 1 0.3 1 -0.8 1 0.5 1 1.1 1 -0.2 1 2.3 1 -1.1 1 -1.7 1 -3.8 1 1.3 1 1.8 1 0.2 1 -1.7 1 1.8 1 0.9 1 -1.4 1 0.9 1 0.1 1 -1.1 1 -0.2 1 1.3 1 0.8 1 -2.4 1 -1.8 1 2 1 2.7 1 -3.9 1 4.7 1 -2.8 1 1.3 1 -1.6 1 2.5 1 -1 1 0.6 1 -4.1 1 4.8 1 -4.3 1 2.4 1 1.6 1 -1.3 1 1.3 1 -0.6 1 -0.1 1 -1.7 1 3.3 1 0.3 1 -3 1 -0.7 1 2 1 -1.7 1 1.7 1 1.2 1 -0.3 1 1.5 1 -1.8 1 -2.7 1 0.3 1 2.6 1 2.4 1 -4 1 -1 1 4.2 1 -2.8 1 1.5 1 0.7 1 -3.7 1 1.2 1 -0.4 1 2 1 0.2 1 -2.1 1 1.9 1 -4.2 1 3.9 1 -0 1 -0.6 1 -2.6 1 2.4 1 -1.7 1 4.5 1 -3.1 1 0.2 1 0.1 1 1.2 1 -0.8 1 0.8 1 -2.6 1 3.7 1 -2.9 1 2.3 1 -1 1 1.5 1 -2 1 -2.5 1 0.6 1 1.6 1 2.9 1 -3.2 1 0.9 1 2.1 1 -3.2 1 1.5 1 -0 1 -1.6 1 1.5 1 1.5 1 -0 1 -2.5 1 5.8 1 -4.5 1 -1.2 1 -0.7 1 -0.5 1 3.2 1 -6.6 1 4.9 1 -2.2 1 2.2 1 0.2 1 -2.3 1 0.6 1 4.1 1 -3.3 1 1 1 -0.6 1 2.1 1 0.7 1 -0.5 1 -0.7 1 0 1 -3.1 1 4.5 1 -3.4 1 -0.6 1 1 1 -0.8 1 2.2 1 0.5 1 1 1 -2.4 1 -0.9 1 0.6 1 -1.6 1 0.7 1 4.9 1 -4.9 1 0.5 1 2 1 -0.7 1 0.9 1 -2.9 1 -0.3 1 4.2 1 -3.5 1 1 1 0.6 1 -3.7 1 2.9 1 -0.8 1 2.1 1 -1.5 1 -3.4 1 5.4 1 -6 1 3.9 1 -0.5 1 0.1 1 1.1 1 1.7 1 -3.3 1 0.5 1 2.4 1 -0.4 1 0.4 1 -0.7 1 -1.1 1 -0.4 1 0 1 2.5 1 1 1 0.9 1 -5.5 1 1.5 1 0.4 1 -0.4 1 -1.7 1 5.8 1 -1.2 1 -3 1 -0.6 1 0.8 1 -2.2 1 1.5 1 1.9 1 1.6 1 -1.5 1 0.7 1 -4.2 1 -4 1 8.2 1 -2.2 1 -0.5 1 3 1 -4.7 1 -0.1 1 0.3 1 4.2 1 -1.3 1 -5 1 6.1 1 -3 1 0.7 1 -2.2 1 4.7 1 -2.7 1 1.5 1 -4.2 1 2.9 1 -1.1 1 -0.7 1 -1.1 1 0.1 1 -0.9 1 0.9 1 1 1 1 1 -3.9 1 0.9 1 0.7 1 -1.9 1 2.3 1 -0 1 0.1 1 1 1 0.9 1 -0.4 1 -1 1 0.5 1 -2.5 1 -0.4 1 2.8 1 -0.2 1 2.9 1 -4.4 1 -1.4 1 2.2 1 -1.4 1 -0.8 1 4 1 1 1 -2.9 1 -1.9 1 1.6 1 -0.6 1 -2.4 1 4 1 -0.9 1 1.6 1 -3.3 1 0.9 1 -0.2 1 -2.9 1 7.7 1 -8.4 1 1.7 1 1.5 1 -2.2 1 3.6 1 -1.6 1 1 1 0.3 1 -0.3 1 0.1 1 -0.5 1 1.1 1 0.7 1 -1.9 1 -0.3 1 0.2 1 1.3 1 -1.2 1 0 1 -2 1 6.3 1 -5.7 1 5.4 1 -1.5 1 0.4 1 -1.3 1 0.5 1 -0.3 1 0.6 1 0.6 1 1.3 1 -4.5 1 2.9 1 2.3 1 -0.2 1 -4 1 2.8 1 0.4 1 0.4 1 -4.1 1 6.3 1 -4 1 7.6 1 -2.2 1 -0.7 1 1.9 1 -0.2 1 -0.6 1 1.5 1 1.5 1 -1.5 1 3.4 1 1.4 1 0.5 1 0.8 1 0.8 1 -0.6 1 1.6 1 -1.9 1 1.1 1 2.2 1 1.2 1 -4 1 -1.8 1 6.7 1 -1.8 1 1.2 1 -1.6 1 -1.3 1 -1.6 1 -0.6 1 4.5 1 -0.9 1 -1.2 1 -2.7 1 1.1 1 -0.2 1 0.6 1 -4.7 1 5.7 1 2.5 1 -3.9 1 1 1 0.5 1 -2.4 1 2.7 1 -2.3 1 0.7 1 1.2 1 -0.5 1 0.2 1 -1.8 1 3 1 -3.4 1 3.6 1 -2.5 1 -1.3 1 2.1 1 -1.8 1 0.9 1 0.7 1 1.8 1 -0 1 -0.6 1 -1.4 1 -2.3 1 2.4 1 -0.2 1 0.3 1 -0.7 1 -0 1 2.4 1 -3.9 1 2.4 1 2.4 1 -3.8 1 -0.4 1 1.4 1 -0.2 1 1.1 1 2 1 -2.8 1 1.3 1 -2.1 1 0.1 1 1.5 1 -1.8 1 3.4 1 -2.9 1 0.4 1 -1.6 1 1.1 1 -1.1 1 1 1 -2.4 1 3.2 1 3.3 1 -6.8 1 6.7 1 -3.4 1 1.8 1 -3.5 1 5.6 1 -5.7 1 1.8 1 3 1 -5.2 1 -2 1 4.2 1 -1.3 1 -0.4 1 0.1 1 -1.1 1 5.4 1 -0.4 1 -4.8 1 2.3 1 -0.7 1 2.9 1 -3.6 1 4.6 1 -3 1 -1.5 1 1.3 1 -1 1 5.3 1 -3.9 1 -1.2 1 1 1 2.6 1 -4.6 1 -1.3 1 5.6 1 -1.4 1 -2 1 0.7 1 2.2 1 -7.2 1 7.5 1 -2.7 1 1.6 1 -1.4 1 5.9 1 -7 1 3.2 1 -7 1 5 1 1.4 1 -4.4 1 -1 1 4 1 1.7 1 0.4 1 -3.6 1 1.9 1 -3.3 1 6 1 -4.4 1 3.4 1 -2.9 1 -0.1 1 3.6 1 -4.7 1 4.1 1 -3.1 1 -1.1 1 0.1 1 3.7 1 -2.3 1 -0.5 1 -2.2 1 5 1 -0.2 1 -1.4 1 0.8 1 -7.6 1 5.1 1 1.3 1 -0.1 1 -1.3 1 1.5 1 -1.8 1 0.1 1 -1.2 1 2.7 1 -1.7 1 0.4 1 3.6 1 -2.8 1 0 1 -2.8 1 1.9 1 2.8 1 -0.8 1 -1 1 -0.4 1 0.4 1 0.6 1 -1.4 1 -4.1 1 8.5 1 -1.6 1 -2.5 1 2.9 1 -5.1 1 4.9 1 -2.1 1 1.3 1 -2.4 1 0.9 1 0.8 1 0.9 1 -1 1 -0.2 1 -2 1 4.4 1 -2.9 1 -0.9 1 -0.2 1 -1.7 1 0.9 1 -1.5 1 3.2 1 -0.5 1 0.5 1 -2.8 1 1.6 1 -0.5 1 3.1 1 -4.8 1 -0 1 5.3 1 -1.8 1 -3.7 1 5.5 1 0.2 1 -0.7 1 -6.1 1 4.1 1 -1.9 1 1.1 1 -2.5 1 6.3 1 -4.7 1 1.8 1 1 1 -0.4 1 -0.4 1 -1.6 1 1.1 1 -0.9 1 -3.9 1 6.2 1 -3.1 1 0.1 1 0.2 1 -1.9 1 0.3 1 -1.2 1 4.3 1 1.3 1 -2.2 1 -2.3 1 4.6 1 -3.2 1 -2.4 1 -0.6 1 3.8 1 2.4 1 -3.6 1 -0.5 1 0.6 1 -1.1 1 0.5 1 1.5 1 -2 1 3.1 1 -3.7 1 3.2 1 -0.8 1 -1.4 1 0.1 1 -0.1 1 3.7 1 -4.8 1 3.7 1 -0.4 1 -2.6 1 3.6 1 -7.6 1 4.9 1 -0.3 1 -0.3 1 1.5 1 -2.5 1 0.3 1 2.5 1 -2.5 1 -1.8 1 2.9 1 -1.3 1 -1 1 2 1 -2.6 1 -0.4 1 1.2 1 0.1 1 0.3 1 -2.5 1 5.5 1 -2.1 1 -1.1 1 0.1 1 -5.3 1 6.4 1 -3.8 1 2.8 1 -3.4 1 4.1 1 -3 1 0.5 1 3.2 1 -1.2 1 -4.6 1 1.2 1 1.6 1 -1 1 1.9 1 -3 1 -2.4 1 1.7 1 1.3 1 1.2 1 0.3 1 0.8 1 -2 1 -1 1 1.6 1 -1.7 1 -0.8 1 -0.2 1 2.5 1 0.9 1 -0.4 1 -5.7 1 4.9 1 -4.3 1 1.3 1 1.6 1 -3.8 1 0.1 1 0.6 1 4.3 1 -1.7 1 -4.4 1 1.1 1 -0.9 1 -0.7 1 -3.1 1 2.8 1 -4.8 1 0.9 1 -6.3 1 2.4 1 -2.1 1 0.7 1 -9.7 1 2.8 1 -3.4 1 -5.9 1 -0.3 1 -0.9 1 -3.1 1 0.7 1 3 1 0.9 1 4.4 1 1.8 1 0 1 1.4 1 6.4 1 1.1 1 -0.1 1 3.6 1 4.9 1 -4 1 3.4 1 4.6 1 1.6 1 -2.8 1 1 1 2.5 1 2.5 1 -2.4 1 -4.3 1 6.6 1 -1.9 1 -0.6 1 -1.2 1 4.7 1 -1.6 1 0.4 1 0 1 0.3 1 1 1 1.8 1 -5.2 1 2.1 1 -0.6 1 4.2 1 -3.7 1 -2.3 1 3.1 1 -1.2 1 0.1 1 0.7 1 -1.6 1 -1.1 1 7.5 1 -3.8 1 -1.4 1 3 1 1.5 1 -5.8 1 2.6 1 1.4 1 -2 1 2.5 1 -3.1 1 1.2 1 1.1 1 1.1 1 -0.6 1 -1.3 1 0.6 1 -3.2 1 8.1 1 -4.7 1 0.2 1 1.2 1 0.6 1 -0.4 1 -1.8 1 -1.9 1 2.9 1 -1.1 1 0.5 1 1.1 1 0.5 1 2.1 1 -2.7 1 -3 1 4.5 1 0.7 1 -4.9 1 4.3 1 -0.7 1 -1.4 1 1.4 1 0.5 1 0.4 1 1.1 1 -2.2 1 0.1 1 4.6 1 -6.5 1 1.5 1 -0.1 1 2.2 1 0.6 1 -4.5 1 4.9 1 -4.6 1 7.3 1 -6.2 1 3.4 1 -2.6 1 1.9 1 -2.7 1 1.7 1 -0.2 1 0.2 1 1.4 1 -2.4 1 0.3 1 -1.8 1 2.2 1 -0.6 1 2.7 1 -0.4 1 -2.6 1 2.3 1 1.7 1 -2.9 1 -1.8 1 7 1 -3.6 1 0.4 1 3.5 1 -6.3 1 2.2 1 -4.1 1 4.6 1 -0.2 1 -2.1 1 -0.1 1 1.3 1 0 1 3.5 1 -3.4 1 0.3 1 0 0.2 -2.7" stroke="#00FFFF" stroke-width="1.1" fill="none" stroke-linejoin="round"/>
<path d="M186.8 1490.0l1 0.5 1 3.4 1 -1 1 2.9 1 3 1 -1.8 1 1.1 1 2.5 1 -4 1 -0.4 1 -1.8 1 -3.6 1 -2.5 1 2.4 1 -3.4 1 0.3 1 -2.2 1 0.5 1 -2.7 1 -0.9 1 -0.6 1 -0.7 1 -1.5 1 -1.3 1 -1.8 1 -5.5 1 -4.1 1 -8.7 1 -5.9 1 -7.7 1 -10.1 1 -16.5 1 -8.6 1 -17.4 1 -11.3 1 -17.6 1 -15.4 1 -16.1 1 -11.7 1 -15.2 1 -15 1 -10 1 -2.1 1 -1.1 1 -1.2 1 -1.8 1 1.2 1 7 1 9.7 1 12 1 11 1 15.3 1 19.6 1 18 1 15.2 1 17.7 1 14.1 1 14.5 1 9.3 1 12.5 1 7.1 1 6 1 3.9 1 4.7 1 6.3 1 2.7 1 3.9 1 0.8 1 2.6 1 4.1 1 1.6 1 0.5 1 2.4 1 3.6 1 0.3 1 2.8 1 2.7 1 -0.1 1 1.1 1 0.4 1 3.1 1 -2.1 1 1.1 1 1.8 1 -1.4 1 3 1 -1.9 1 1.3 1 -1 1 -0 1 0.2 1 -2.4 1 0.8 1 0.6 1 2.9 1 -1.8 1 -0.3 1 -2.2 1 2 1 0.1 1 -0.8 1 1.9 1 -4.8 1 0.1 1 0.7 1 -1.2 1 0.7 1 0 1 -1.2 1 -0.4 1 -0.3 1 -0 1 -2.1 1 -0.4 1 2 1 -1.8 1 -0.3 1 1.9 1 -0 1 1.5 1 0.7 1 1.9 1 1.3 1 -1.2 1 0.3 1 3.8 1 -2.4 1 -0.7 1 -0.2 1 2.4 1 -0.5 1 -1.1 1 1.2 1 0 1 2.6 1 -0.7 1 -0.1 1 -1.3 1 1.3 1 1.1 1 -0.4 1 1.1 1 -1.1 1 0.8 1 -0.2 1 -1.1 1 2.2 1 -1.1 1 0.5 1 -2.2 1 -0 1 1 1 -0.7 1 1.6 1 -0.2 1 0.9 1 -0.8 1 -2 1 2.4 1 -1.9 1 -0.1 1 0.9 1 -0.2 1 1.2 1 2 1 -2.8 1 1.1 1 -1.9 1 0.6 1 -1.1 1 0.1 1 1.9 1 -1.1 1 -0 1 -1.6 1 2.9 1 -2.3 1 -0.6 1 0.6 1 0.7 1 0 1 0.7 1 -3 1 0.7 1 2.1 1 0.7 1 -3.4 1 0.5 1 -1.8 1 0.7 1 -0.2 1 0.8 1 -1.4 1 2.3 1 -1.3 1 -0.5 1 1 1 -1.8 1 -1.8 1 0.8 1 1.7 1 -3.3 1 -0.5 1 -2 1 -1.1 1 -0.5 1 -4.9 1 0.2 1 -0.7 1 -1.1 1 0.4 1 -0.5 1 -3.7 1 -2 1 -1.4 1 -0.9 1 -4.9 1 -2.1 1 -2.3 1 -3.1 1 -5.8 1 -0.3 1 -5.2 1 -0.5 1 -3.1 1 -6.2 1 1.4 1 -0.6 1 0.6 1 4.7 1 4.6 1 1.3 1 0.8 1 2.3 1 3 1 2.7 1 4.5 1 0.4 1 0.6 1 1.9 1 -0.2 1 0.7 1 -0.4 1 0.9 1 1.2 1 -0.9 1 3.7 1 -1.3 1 -0.3 1 2.2 1 -1.8 1 2.9 1 -0.5 1 2.7 1 -2.1 1 0.9 1 0.2 1 0.3 1 2.5 1 -0.7 1 2.3 1 -0.3 1 2.7 1 -3.4 1 4.1 1 0.3 1 0.6 1 -0.1 1 3.3 1 -2 1 1.4 1 -0.5 1 0.3 1 0.8 1 1 1 -1.8 1 1.1 1 -0.8 1 2.4 1 -1.2 1 0.4 1 1.9 1 -0.5 1 0.7 1 -0.3 1 0.8 1 -0.1 1 -1.2 1 1.8 1 -0.5 1 0.3 1 0.8 1 -0.8 1 -0.4 1 2.7 1 0.8 1 -2.4 1 1.8 1 -0.8 1 -1.1 1 -0.1 1 0.6 1 -0.1 1 0.1 1 0.2 1 -1.2 1 2.3 1 -2.3 1 0.1 1 2.2 1 -0.2 1 0.8 1 -1.6 1 -0.9 1 2 1 -1.5 1 -0 1 -0.9 1 1.4 1 -3.3 1 3.3 1 -3 1 3.3 1 -2.9 1 2.5 1 2 1 -3.3 1 -1.1 1 3.5 1 -2.8 1 -0.9 1 2.7 1 -4.8 1 1.4 1 0.1 1 0.6 1 -1.6 1 3.1 1 0.2 1 -1.4 1 -0.5 1 -1.5 1 2.2 1 -1.5 1 1.4 1 0.4 1 -1.3 1 -2.6 1 1.2 1 2.5 1 -1.4 1 1.1 1 -4.3 1 2.2 1 -0.2 1 -1.8 1 0.9 1 1.7 1 -0.6 1 -1.5 1 0.9 1 0.8 1 -2.8 1 1.4 1 0.6 1 -2.2 1 1.9 1 -2.1 1 0.8 1 -0.8 1 -1.4 1 -1.4 1 -1.2 1 0.1 1 -0.8 1 0.5 1 -2.5 1 -0.4 1 0.8 1 -2.4 1 -0.6 1 0.7 1 -2.3 1 -0.2 1 -0 1 -1.4 1 -1.3 1 -0.5 1 1.5 1 1.8 1 0.4 1 1.4 1 -0 1 -0.9 1 0 1 2.1 1 1.2 1 0.3 1 2.7 1 -1.3 1 2 1 0.5 1 -2.7 1 1.6 1 2 1 -0.3 1 -0.7 1 -1.4 1 0.6 1 1 1 1.4 1 -0.8 1 -0.6 1 0.5 1 0.7 1 -2.9 1 1 1 1.2 1 1.4 1 -0.1 1 -2.1 1 0.9 1 -0.8 1 0.4 1 0.6 1 -0.6 1 -0.2 1 -0.7 1 -0.5 1 1.5 1 0.4 1 0.4 1 -1.7 1 0 1 2.2 1 -1.1 1 0.4 1 -1.8 1 -0.3 1 -0.7 1 2.3 1 -2.6 1 -0.9 1 1 1 2.1 1 -1.6 1 0 1 -0.3 1 -0.4 1 -0.3 1 -1.6 1 3.3 1 -2.3 1 1.4 1 -3.4 1 2.2 1 -2.1 1 -0.3 1 1.6 1 0.7 1 0.2 1 -0.2 1 -2 1 1.1 1 -1.7 1 -0.1 1 0.8 1 -0.5 1 1.1 1 -3.2 1 3.4 1 -2 1 2.3 1 -0.3 1 -2.7 1 1.3 1 0.9 1 -1.7 1 0.1 1 0.6 1 1.2 1 0.3 1 -1.5 1 1.5 1 0.8 1 -0.5 1 -1.8 1 -0.1 1 1.4 1 0.7 1 -0.4 1 -0.8 1 -0.5 1 2.6 1 -1.5 1 2.4 1 -3.4 1 1.1 1 -0.3 1 3 1 -0.6 1 -1.9 1 -1.6 1 3.6 1 -1 1 -1.4 1 -0.3 1 2.2 1 -0.6 1 0.5 1 0.3 1 -0.8 1 0.2 1 1.1 1 -0.9 1 -0.1 1 1.1 1 -3 1 3.7 1 -0.9 1 -1.4 1 0.6 1 1.5 1 -0.9 1 -2.8 1 0.7 1 1.2 1 1.6 1 -1.4 1 -1.3 1 0.7 1 -0.9 1 -0.5 1 0.6 1 -3.1 1 3.4 1 -0.7 1 -1.2 1 -0.6 1 -0.5 1 1.7 1 -0.2 1 0.1 1 1.8 1 -4.4 1 1.7 1 0 1 2.1 1 -1.3 1 -0.6 1 1.4 1 0.4 1 1.5 1 -1.4 1 -0.6 1 0.1 1 -0.1 1 1.6 1 0.6 1 -1 1 0.3 1 2 1 -1.3 1 0.7 1 -1.6 1 0.8 1 -1.6 1 1.1 1 2.2 1 1.2 1 -1.5 1 -0.9 1 1.7 1 1.3 1 -1.3 1 1.4 1 -1 1 -1.2 1 0.5 1 0.9 1 3 1 -1.8 1 -0.9 1 0.7 1 -0 1 -0.7 1 0.5 1 -0.1 1 1.2 1 1.1 1 -0.2 1 -1.8 1 1.1 1 -1.4 1 -0.4 1 1.5 1 0.6 1 -0.6 1 1.1 1 0 1 0 1 -0.9 1 -1.3 1 3.6 1 -2.5 1 1.5 1 -0.3 1 -0.8 1 2.5 1 -1.2 1 -0.8 1 -0.4 1 -0.5 1 -0.3 1 2.1 1 -1.1 1 0.1 1 1.1 1 -0.9 1 1.1 1 -1.4 1 0.2 1 1.6 1 -1.7 1 1.5 1 -0.1 1 -0.6 1 -1.9 1 0.5 1 0.2 1 -0.2 1 2.4 1 -1.9 1 -0.4 1 0.8 1 0.4 1 -1.8 1 2.6 1 0.1 1 -1.5 1 1.6 1 -2.8 1 1.1 1 0.4 1 0.2 1 1.2 1 -1.7 1 -0.8 1 1.3 1 -0.1 1 0.2 1 -0.9 1 0.5 1 -0.9 1 1.2 1 -1.5 1 -0 1 1.9 1 -2.2 1 0.8 1 0.5 1 -1.1 1 1.3 1 -1.8 1 1.8 1 -3 1 0.1 1 1.5 1 1.5 1 0.1 1 -2.9 1 0.8 1 -0.6 1 -1.9 1 3.1 1 -1.3 1 1.9 1 -1.4 1 -1 1 -0.2 1 0.4 1 0.7 1 -1.2 1 3.6 1 -3 1 -1.7 1 1.3 1 1.1 1 -0.9 1 -1 1 -0.5 1 -0.3 1 -0.6 1 0.7 1 0.7 1 -1.1 1 2.4 1 -1.6 1 -1 1 0.3 1 1.5 1 -3.7 1 2.1 1 2.6 1 -2.1 1 -2.3 1 1 1 -0.5 1 3.2 1 -4 1 0.3 1 -0.2 1 -1.4 1 -2.3 1 3.3 1 0.7 1 -1.2 1 0.9 1 0.2 1 -0.2 1 -2.9 1 3.5 1 -0.9 1 -0.1 1 -1.1 1 -0.1 1 -0.8 1 1 1 0.4 1 -1.8 1 1.4 1 -1.6 1 1 1 -1 1 1 1 1 1 -2.1 1 -1 1 -0 1 1 1 -1.4 1 1.5 1 -0.9 1 0.6 1 -1.8 1 -0.5 1 0.2 1 1.2 1 -1.4 1 1.7 1 -3.2 1 1.7 1 0.6 1 -1.7 1 1.5 1 -0.7 1 1.8 1 0.1 1 1.5 1 -1.5 1 -0.5 1 1.6 1 1.1 1 0.4 1 0.5 1 1.8 1 -1.1 1 0.9 1 0.1 1 1.1 1 2.7 1 0.1 1 -2.5 1 5.2 1 -2.8 1 2.7 1 2.4 1 0.1 1 1.6 1 1.5 1 0.6 1 -0.6 1 3.1 1 -0.1 1 -0.9 1 3.4 1 1.8 1 0.3 1 0.4 1 2.3 1 -1.5 1 0.7 1 -0.8 1 1.2 1 -2.6 1 1.4 1 0.4 1 -2.9 1 1.3 1 -3.1 1 1.7 1 0.2 1 -1.8 1 -1.2 1 2.1 1 -0.4 1 0.6 1 0.1 1 0.7 1 0.8 1 -1.2 1 -2.2 1 2.5 1 -0.3 1 -0.3 1 1.7 1 -1.5 1 -0.6 1 0.9 1 -2.3 1 3 1 -1 1 1.9 1 -1.1 1 -0.3 1 -0.2 1 -1.5 1 1.3 1 0.5 1 0.9 1 -0.6 1 0.3 1 0.1 1 -1.3 1 1 1 -0.6 1 -1.1 1 -0.2 1 2.7 1 0.7 1 0.1 1 -2.5 1 2.7 1 0.1 1 -2.5 1 1.4 1 1.5 1 -1.8 1 1.3 1 -2 1 0.4 1 1.4 1 -1.1 1 0.4 1 0 1 -1.2 1 2.9 1 -1.8 1 -0.2 1 -0.1 1 0.7 1 -1.1 1 2.1 1 -1.4 1 1.4 1 -1.9 1 -0.1 1 0.1 1 1.4 1 -1.8 1 2.5 1 -1.3 1 1.4 1 -1.4 1 1.4 1 -2.1 1 -0.1 1 2 1 -1.3 1 1.8 1 -2 1 1.4 1 -1.5 1 -1.1 1 3.6 1 -1.9 1 1.4 1 -0.9 1 -2.2 1 2.4 1 0.8 1 0.2 1 0.3 1 -1.4 1 -0.6 1 0.2 1 -1.4 1 2.1 1 -0 1 -0.5 1 -1.3 1 1.6 1 -1.4 1 2 1 -2.1 1 0 1 0.2 1 -0.8 1 0.1 1 0.7 1 -2.5 1 5 1 -1.9 1 -0.1 1 -1.4 1 1.2 1 -0.3 1 0.1 1 -1.9 1 1.5 1 -2 1 1.8 1 -0.8 1 0.3 1 0.2 1 1.3 1 0.4 1 -1.4 1 -1.3 1 2.8 1 -3.3 1 0.9 1 0.3 1 -0.6 1 2.3 1 -1.2 1 0.7 1 -1.6 1 1.3 1 -1.2 1 -0.1 1 0.4 1 0.1 1 0.1 1 -0.9 1 -1.6 1 1.3 1 -2.7 1 2.6 1 -0.6 1 1.8 1 -4.1 1 5.3 1 -2.8 1 -1.5 1 2.3 1 -0 1 -0.2 1 2 1 -3.5 1 1.2 1 -0.2 1 -1 1 1 1 1 1 -2.4 1 1.4 1 0.5 1 -0.4 1 -2.7 1 2.1 1 -0.8 1 1.8 1 -1.6 1 2.3 1 -3.7 1 1.9 1 -1.7 1 3 1 -0.3 1 -2.9 1 1.8 1 -0.9 1 -1.9 1 0.6 1 1.2 1 0.5 1 -1.1 1 0.7 1 -0.1 1 -0 1 -1.8 1 1.5 1 0.4 1 -2.4 1 3.4 1 -0.2 1 -1.5 1 2.2 1 -3.4 1 -0.2 1 0.3 1 -0.2 1 2.9 1 -2.1 1 -0.2 1 0.5 1 1.3 1 -1.6 1 -0.7 1 0.7 1 1.1 1 -1.7 1 1.8 1 -1.3 1 -0.6 1 0.7 1 1.7 1 -2.6 1 1.8 1 -1 1 -0.5 1 -0.1 1 0.8 1 -0.2 1 -0.4 1 0.3 1 -1.7 1 0.2 1 -0.4 1 0.7 1 0.1 1 -0.2 1 1 1 -1.7 1 0.7 1 1.2 1 0.9 1 -1.8 1 1.2 1 0.2 1 -2.8 1 1.4 1 -1.5 1 0.8 1 0.8 1 -1.9 1 2 1 -0.8 1 -0.1 1 0.8 1 -1.6 1 -1 1 1.9 1 -0.9 1 0.6 1 -1.1 1 0.2 1 -0.2 1 -0.3 1 0.5 1 -0 1 0.8 1 3.5 1 -4.3 1 -1.1 1 2.4 1 -2.1 1 0.3 1 0.6 1 0.4 1 -0.1 1 0.2 1 -0.5 1 1.3 1 -0.3 1 -1.7 1 0.3 1 -1.3 1 2.2 1 -1.1 1 2.4 1 -3 1 2.4 1 -2.8 1 -1 1 0.9 1 1.2 1 0.7 1 -2.2 1 2 1 -1.8 1 -0.1 1 0.2 1 2.1 1 -1.8 1 0.1 1 -2.2 1 1.8 1 -0 1 1.4 1 -3 1 0 1 -0.4 1 0.1 1 1.2 1 -1.9 1 2 1 -1.7 1 -1.4 1 -0 1 -1.2 1 -0.5 1 2.5 1 -0.8 1 -2.6 1 0 1 1.8 1 -3.3 1 0.5 1 -0.4 1 -1.5 1 -0.9 1 -1.6 1 -1.7 1 -4.5 1 -1.1 1 -3 1 -4.9 1 -1.6 1 -5.9 1 -6.5 1 -3.3 1 -1.2 1 -3.1 1 -4.5 1 -3.6 1 0.5 1 2.8 1 2.8 1 3.5 1 7.4 1 3.9 1 4.8 1 5 1 4.7 1 2.8 1 2.5 1 3.9 1 2.3 1 2.1 1 -1.9 1 1.9 1 -0.2 1 1.9 1 -0.3 1 -2.3 1 5 1 -1.3 1 -0.1 1 -0.1 1 0.9 1 0.1 1 1.6 1 0.6 1 0 1 0.7 1 -1.1 1 1.8 1 -0.6 1 0.8 1 0.4 1 -1 1 2 1 -0.4 1 -1.2 1 2.5 1 0 1 -3.4 1 -0.7 1 1.9 1 1.3 1 0.7 1 -0.2 1 -0.7 1 1.2 1 -0.2 1 -1.2 1 0.8 1 1.1 1 -1.8 1 0.1 1 -0.1 1 2.6 1 -0.8 1 0.3 1 -1.3 1 0.5 1 1.4 1 -1.6 1 1.8 1 -1.3 1 0.1 1 0.7 1 0.4 1 1 1 -2.2 1 2.3 1 -2.7 1 -0 1 -1.5 1 3.5 1 0.8 1 -3 1 1.1 1 0.1 1 -1.4 1 1.9 1 0.3 1 -0.9 1 -0.5 1 1.3 1 0.6 1 -2.2 1 1.5 1 0.8 1 -3.7 1 3.5 1 1.6 1 -3.3 1 3 1 -1.8 1 1.1 1 -0.8 1 -1.1 1 -0.6 1 4.6 1 -4.1 1 1.2 1 2 1 -1.2 1 -0.1 1 -2.4 1 1.6 1 -0.8 1 -0.5 1 2.5 1 0.6 1 -1.8 1 0.2 1 1.2 1 0.6 1 -2.1 1 2.5 1 -0.2 1 -1 1 -1.2 1 1.9 1 0.2 1 1.2 1 -2.6 1 2.6 1 -2.2 1 1.1 1 -0.7 1 0.3 1 1.6 1 -2.4 1 1.8 1 -1.2 1 0.3 1 -0.7 1 1.1 1 -2.4 0.2 2" stroke="#000080" stroke-width="4.4" fill="none" stroke-linejoin="round"/>
<path d="M186.8 1463.9l1 2.5 1 0.1 1 3.8 1 3.9 1 5.3 1 -1 1 1.2 1 -0.7 1 -0.8 1 -3.7 1 -1 1 -2.3 1 -1.6 1 -4.2 1 0.6 1 -0.3 1 -3 1 -1.8 1 -5.7 1 2.5 1 -1.7 1 -4 1 -4.9 1 -4.3 1 -2.5 1 -10.1 1 -5.2 1 -4.1 1 -7.9 1 -11.1 1 -7.8 1 -15.1 1 -19.3 1 -16 1 -15.7 1 -17.1 1 -12.7 1 -16.7 1 -26 1 -35.1 1 -31.3 1 -30.6 1 -24.8 1 -19.9 1 -12.7 1 -7.3 1 -9.9 1 -3.7 1 1 1 11.4 1 10.7 1 17.9 1 22.6 1 29.7 1 37.1 1 40.1 1 33.6 1 24.3 1 19.9 1 18.4 1 16.7 1 17.3 1 17.1 1 12.1 1 11.8 1 7.4 1 10.8 1 10 1 3.2 1 4.6 1 6.8 1 0.9 1 5.8 1 1.1 1 1.7 1 0.4 1 6.4 1 -1.9 1 2.6 1 4.3 1 -1 1 3.5 1 0.4 1 0.6 1 -0.5 1 0.7 1 1.2 1 -1.6 1 2 1 -0.6 1 0.3 1 -0.5 1 0.3 1 -0.3 1 0.4 1 -0.7 1 -0.3 1 -1.7 1 -1.3 1 2 1 0.9 1 -2.7 1 -1.1 1 1 1 0.7 1 -0.5 1 -3.5 1 -3.5 1 -1.1 1 -1.5 1 -2.9 1 0.3 1 -2 1 2.4 1 2 1 -2.1 1 1.4 1 2.9 1 4.1 1 -2.1 1 0.4 1 2.8 1 -0.9 1 -0.9 1 1.7 1 3.8 1 -2.8 1 1.2 1 3.7 1 0.1 1 2.2 1 -2 1 1.1 1 1.1 1 -0.5 1 1.7 1 0.4 1 1.5 1 -1.2 1 -0.3 1 1.1 1 0.7 1 -0.1 1 -0.9 1 -0.8 1 -0.1 1 -1.1 1 1.7 1 -0.1 1 2.1 1 -1.8 1 0.7 1 0.7 1 -4 1 1.5 1 0.6 1 0.4 1 -1.6 1 2.5 1 0.1 1 -0.5 1 0.2 1 -2.2 1 2.8 1 -2.2 1 -1.6 1 2.5 1 0.4 1 -1.4 1 -1.2 1 0.6 1 1.3 1 -3 1 4.4 1 -0 1 -1.5 1 1.6 1 -1.6 1 -1.2 1 2.2 1 -0.1 1 -1.9 1 -0.8 1 0.4 1 2.5 1 -2 1 3.6 1 -4.6 1 1.3 1 -0.7 1 -1.1 1 0.9 1 -2.5 1 0.5 1 -2 1 -1.8 1 2.2 1 -2.1 1 -0.9 1 1.6 1 -1.7 1 -0.1 1 0.8 1 -2.8 1 -0.6 1 -3 1 1.6 1 -1.1 1 -3.4 1 1 1 -2.1 1 -3.6 1 -3.3 1 -1.5 1 -8.5 1 -5 1 -6.3 1 -7.9 1 -9.5 1 -3.7 1 -6.6 1 -5.9 1 -9.3 1 -6.5 1 -2.8 1 -7.5 1 -3.4 1 -3.5 1 0.5 1 1.7 1 5.7 1 2.8 1 9.4 1 5.2 1 6.1 1 7.2 1 7.2 1 3.3 1 1.7 1 4.7 1 1.1 1 -1.2 1 3.2 1 0.2 1 1.8 1 -1.2 1 4 1 -2.2 1 2.8 1 -2.8 1 2.6 1 -1.3 1 2.8 1 -1.5 1 0.4 1 2.1 1 3 1 4.2 1 2.5 1 2.3 1 3.6 1 2.7 1 -1.9 1 3.7 1 2.9 1 -2.5 1 1.2 1 2.4 1 0.8 1 0.1 1 1.6 1 3 1 -0 1 -1.4 1 -0.4 1 1.4 1 2.2 1 -0.7 1 0.4 1 2.3 1 -1 1 0 1 0.9 1 1.7 1 -1.3 1 0.7 1 -0.7 1 2 1 -3.3 1 0.2 1 0.9 1 3.3 1 -0.5 1 -3.1 1 0.9 1 1.3 1 -0.5 1 1.1 1 -1.6 1 -1.4 1 3 1 0.8 1 -3.4 1 -0.3 1 1.8 1 -1.7 1 2.9 1 -1.9 1 2.4 1 -1.3 1 0.6 1 0.7 1 -1 1 -1 1 2.4 1 -3 1 3.6 1 -2.5 1 0.1 1 1.2 1 -0 1 0 1 -2.5 1 0.7 1 1.4 1 -0 1 -0.7 1 1.6 1 -1.9 1 1.2 1 0.1 1 -1.1 1 -0.9 1 1 1 -0.6 1 0.1 1 -2.1 1 1.4 1 1.2 1 -2.6 1 0.3 1 -0.8 1 1.1 1 -3.9 1 4.2 1 -1.6 1 -1.3 1 0.3 1 0.8 1 -1.3 1 -0 1 0.3 1 -1.7 1 0.3 1 0.6 1 -1.6 1 -1.9 1 1.4 1 1.1 1 -3.5 1 0.2 1 -0.8 1 -0.4 1 -2.7 1 -0.7 1 1.2 1 -2.9 1 -3.1 1 0.3 1 -2.3 1 0.3 1 -5.4 1 0.7 1 -0.4 1 -4.3 1 -1.3 1 -0.5 1 -2.8 1 -2.8 1 -1.6 1 -4.3 1 -1.4 1 1.3 1 -4.5 1 0.3 1 -1.3 1 1.1 1 0.2 1 1.6 1 3.1 1 1.4 1 0.2 1 4 1 5.1 1 1.7 1 0.1 1 -0.3 1 2.4 1 4.9 1 0.3 1 1.4 1 -2.2 1 1.6 1 2.1 1 0.1 1 2.8 1 -0.7 1 2.7 1 -0.3 1 -0.1 1 1.7 1 -0.2 1 -0.4 1 -0.7 1 0.4 1 -2.3 1 -0 1 1.6 1 1 1 2 1 -1.7 1 -1.7 1 0.6 1 -1 1 1.5 1 -0 1 0 1 0.4 1 1 1 -0.5 1 -2.2 1 2.4 1 -2.3 1 1.8 1 -0.4 1 2 1 -2.2 1 -0 1 -0.2 1 1.4 1 -0.7 1 -0.7 1 1.3 1 1.4 1 -0.8 1 -0.6 1 -3 1 -0 1 -0.4 1 -3.1 1 3.4 1 -4.8 1 1.3 1 -3.1 1 0.6 1 -0.2 1 -1.5 1 -2.8 1 -0.9 1 0.8 1 -2.4 1 -0.9 1 -0 1 -5.3 1 2.4 1 0.3 1 -0.3 1 -2.2 1 -2.5 1 1.5 1 0.5 1 -3.5 1 -0.5 1 0.5 1 -0.6 1 -2.2 1 -0.6 1 1.1 1 0.6 1 1.2 1 -1.3 1 0.8 1 1.5 1 2.3 1 -2.1 1 -1.5 1 3.4 1 -0.2 1 1.6 1 1.9 1 0.8 1 -1.7 1 1 1 2.2 1 0.8 1 1.7 1 -1.9 1 -1.3 1 -0.2 1 -0.4 1 -0.9 1 -0.2 1 0.8 1 0.6 1 -1.3 1 0.7 1 -0.7 1 -0.2 1 -0.5 1 0.5 1 -0.6 1 -3.6 1 3.2 1 -0.5 1 -1.3 1 0.6 1 -1.4 1 0.6 1 -1.6 1 1.6 1 -0.9 1 -2.8 1 0.2 1 1 1 -1.2 1 -1.2 1 -2.5 1 -0.4 1 0.1 1 -0.8 1 -1.3 1 -1.9 1 -0.1 1 -1.1 1 -1.5 1 -0.6 1 -0.1 1 -1.2 1 2.1 1 0.3 1 0.3 1 -1.7 1 0.5 1 2 1 -0.1 1 1.2 1 1.1 1 -0.5 1 4.7 1 -2.1 1 1.1 1 4.1 1 -1.1 1 3.8 1 0.1 1 0.9 1 -0.1 1 -0.5 1 1 1 2.2 1 0.5 1 -0.7 1 0.8 1 1 1 1.6 1 1.3 1 1.1 1 -0.9 1 2.7 1 -0.3 1 1.4 1 -2.4 1 2.2 1 1 1 -3.1 1 3.6 1 -0.3 1 1 1 -0.6 1 1.4 1 -1.6 1 0.2 1 1.8 1 0.3 1 -2.3 1 3.4 1 0.2 1 0 1 -1.9 1 2.6 1 -0.7 1 0.6 1 -1 1 -0.4 1 -0.3 1 0.2 1 1.9 1 -2.1 1 0.2 1 1.2 1 -0.7 1 -2.2 1 1.7 1 0.3 1 2.4 1 -1.1 1 -2 1 -0.2 1 0.8 1 0.8 1 -1.2 1 1.5 1 -2.3 1 2.1 1 1.1 1 -4.7 1 3.2 1 0.3 1 0.3 1 -0.5 1 -0.2 1 0.4 1 -0.2 1 0 1 1.8 1 -0.7 1 -0.1 1 -1.9 1 0.2 1 1.9 1 -2.6 1 2.5 1 -2.9 1 4.3 1 -1 1 -2 1 0.3 1 -1.6 1 2.7 1 1.9 1 -0.4 1 -0.6 1 3.2 1 -1.4 1 0.3 1 -0.5 1 1.5 1 2.9 1 -2.3 1 -2.2 1 2.5 1 2.3 1 -0.7 1 -2 1 1.1 1 -2.2 1 2.4 1 -2 1 0.2 1 -0.3 1 -0.4 1 2.5 1 -0.6 1 -2.5 1 -0 1 1.5 1 -2.9 1 -0.7 1 -0.9 1 2.4 1 -2.2 1 -0.7 1 -1 1 -1.1 1 1.8 1 -2.5 1 -0.2 1 -1.8 1 0.4 1 0.4 1 -0.3 1 -1.6 1 0.8 1 0.3 1 -3.3 1 3.6 1 -1.3 1 -1.5 1 1 1 0.6 1 -0.8 1 -0.2 1 -0.2 1 0.5 1 -2.7 1 0.7 1 1 1 -0.7 1 -1.5 1 0.7 1 -0.8 1 0.7 1 -2.3 1 -0.2 1 0 1 1.4 1 2.9 1 -2.1 1 0.1 1 -1.7 1 1.6 1 -1.7 1 -0.6 1 0.9 1 -3 1 -1.5 1 1 1 2.8 1 -0.9 1 -1.2 1 -0.8 1 -0.2 1 0.3 1 -1.8 1 1.6 1 -2.5 1 2.4 1 -2.5 1 -1.2 1 0.3 1 -1.4 1 0.4 1 -2.7 1 0.9 1 -0 1 -0.4 1 -1.6 1 1.2 1 -4.3 1 1 1 -1 1 -0.2 1 -1 1 1.3 1 -2.4 1 -1.7 1 3.5 1 -3.6 1 -0.7 1 0.7 1 -2.2 1 0 1 1 1 -2.7 1 0.7 1 1.5 1 1 1 -2.2 1 0.1 1 1.6 1 -2.9 1 1.2 1 0.3 1 -1.2 1 -0.5 1 3.5 1 2.1 1 0.3 1 1.4 1 -4.2 1 4.2 1 3.2 1 -0.9 1 1.5 1 4.2 1 2 1 3.2 1 1.7 1 4 1 1.7 1 1.9 1 2.3 1 4.7 1 1.9 1 5.5 1 3.4 1 2.6 1 -0.6 1 3.3 1 0.1 1 0.4 1 -3.2 1 0.7 1 0.1 1 1.2 1 -3.1 1 1.1 1 -1.5 1 1.5 1 -2.5 1 -2.8 1 1.3 1 0.5 1 1.2 1 -0.7 1 -1.2 1 -1.1 1 1.6 1 -0.2 1 1.8 1 -0.4 1 -2.8 1 -1 1 2.4 1 0.9 1 -1.5 1 0.7 1 2.1 1 -0.4 1 -3 1 2.7 1 -0.2 1 -0.3 1 1 1 0.2 1 2.4 1 -2.7 1 -1.1 1 0.4 1 1.6 1 1.6 1 -1.5 1 -0 1 -0.3 1 -0.7 1 0.7 1 -1.5 1 2.5 1 -0.3 1 -0.3 1 -1.2 1 0.8 1 -0.3 1 1.1 1 -0.7 1 0.8 1 0.8 1 0.4 1 -2.8 1 0.9 1 -1 1 2.9 1 -2.6 1 2.7 1 -2.3 1 1.8 1 -1.9 1 0.3 1 0.4 1 -0.1 1 -0.3 1 0.9 1 0.6 1 -0.5 1 -1.7 1 -1.8 1 2.4 1 -3.7 1 4.2 1 -0.2 1 -2.3 1 2.1 1 -1.7 1 2.3 1 -2.6 1 -0.2 1 0.1 1 1 1 -1.7 1 3.9 1 -3.4 1 2.5 1 -2.6 1 -0.2 1 -0.7 1 -0.2 1 1.4 1 0.7 1 -1.4 1 -1.4 1 1.2 1 -1.4 1 -2.5 1 3.3 1 -2.5 1 1.2 1 0.7 1 -0.7 1 -0 1 2 1 -0.9 1 0.5 1 -1.7 1 -0.2 1 1.7 1 -3.1 1 1 1 -0.4 1 0 1 0.2 1 -0.8 1 0.7 1 -2.2 1 1.5 1 -2.1 1 2.4 1 -0.3 1 -1.6 1 -0.6 1 0.5 1 0.5 1 -2.7 1 0.4 1 2.2 1 -1.5 1 -1.5 1 -1.3 1 2 1 -1.8 1 2.1 1 -0.4 1 2.2 1 -3.9 1 2.1 1 -2.4 1 0.1 1 0.8 1 -0.9 1 3.1 1 -2.4 1 -1 1 3.6 1 -3.9 1 0.3 1 0.1 1 -0.8 1 1.5 1 0.6 1 -3.1 1 0.8 1 0 1 -1.4 1 0 1 1 1 -0.7 1 1.3 1 0.5 1 -0.9 1 -0 1 -1.6 1 0.3 1 1 1 0.1 1 -0.9 1 0.6 1 -1 1 -1.3 1 1.7 1 -1 1 -1.7 1 2.9 1 -0.6 1 0.3 1 -1.6 1 2.2 1 -1.3 1 0.5 1 -2.1 1 0.3 1 1.8 1 -1.7 1 -0.1 1 1.6 1 -0.5 1 -1.2 1 1.9 1 -4.2 1 1.5 1 -0.7 1 2.3 1 0 1 -2.6 1 0.7 1 0.8 1 -0.6 1 -0.5 1 0.8 1 1 1 -2.3 1 -1.6 1 1 1 -0 1 -0.6 1 1.2 1 -0.1 1 0.1 1 -0.7 1 -0.4 1 -1.6 1 0.7 1 -0.8 1 1.3 1 -0.7 1 -0 1 0.5 1 -1.1 1 1.5 1 -0.2 1 -2.5 1 2.5 1 -2.1 1 -0.6 1 0.3 1 -1.2 1 1.7 1 0.9 1 -3.4 1 2.2 1 0 1 -0.1 1 -0.1 1 -0.4 1 -1.3 1 1.5 1 -0.8 1 0.3 1 -0.7 1 -0.8 1 0.1 1 0.6 1 0.3 1 -3.6 1 0.5 1 -0.5 1 1.1 1 -0.3 1 0.9 1 -0.8 1 1.8 1 -2.5 1 -0.3 1 -0.3 1 0.5 1 0.4 1 -1 1 -0.7 1 -0.7 1 1.7 1 -1 1 -0.7 1 0.6 1 0.6 1 1.8 1 -0.6 1 -3.2 1 0.3 1 -2 1 -0.2 1 -0 1 3.1 1 -1.5 1 -1.8 1 0.8 1 -0 1 -0.4 1 2.3 1 -4.2 1 1.5 1 0.6 1 0.1 1 -3.4 1 2.6 1 -2 1 0.6 1 -1.4 1 2.5 1 2.6 1 -2.8 1 -1.8 1 -2 1 2.9 1 0.1 1 -3 1 2.2 1 -3.6 1 0.4 1 1.4 1 -2.1 1 2.3 1 0.5 1 -1.9 1 0.3 1 1 1 -1.5 1 0.7 1 -0.2 1 -3.2 1 3.6 1 -1.5 1 -1.5 1 0.4 1 -0.9 1 -0.5 1 -1.9 1 0.3 1 -0.4 1 1.2 1 -1.3 1 -0.6 1 -1.3 1 1 1 -5.1 1 1 1 1.4 1 -2.5 1 0.3 1 -0.9 1 -3.8 1 -6.4 1 -2.7 1 -5.5 1 -2.9 1 -5.3 1 -8.7 1 -7.8 1 -14.3 1 -14.6 1 -18.6 1 -12.3 1 -10.1 1 -0.1 1 7.2 1 10.2 1 10.8 1 13.2 1 14.3 1 12.6 1 11 1 7.3 1 5.8 1 3.3 1 3.2 1 4.3 1 2.6 1 3.5 1 0.1 1 1 1 3.3 1 -1.1 1 -1.1 1 3 1 -1.4 1 -0.2 1 2.1 1 -2.1 1 1.9 1 1 1 0.5 1 -1.3 1 0.3 1 0.6 1 1.8 1 -3.4 1 3.3 1 -0.5 1 1.4 1 -2.7 1 2.8 1 -2.2 1 1.5 1 -0.6 1 -2.3 1 3 1 0.7 1 0.7 1 -1.6 1 -0.5 1 2.3 1 -1.1 1 1.8 1 0.6 1 -1.8 1 0.2 1 -0.6 1 -1.4 1 2.5 1 1 1 0.5 1 -1.1 1 2.3 1 -2.7 1 0.7 1 -0.6 1 0.2 1 0.3 1 -0.4 1 0.4 1 0.9 1 -0.1 1 -1.3 1 1.9 1 -1.5 1 1.5 1 -0.4 1 -2.3 1 1.1 1 2.4 1 -1.9 1 -0 1 0.3 1 0.6 1 0.6 1 -1.1 1 2.4 1 -2.7 1 0.1 1 0.4 1 0.4 1 1.5 1 1.1 1 -3.2 1 0.2 1 1 1 -0.9 1 1.1 1 -2.3 1 2.3 1 -3.6 1 3.2 1 0.2 1 2.2 1 -4.1 1 1.9 1 -0 1 -1.9 1 1.4 1 -1.3 1 -0.4 1 -0.4 1 1.5 1 -1 1 -1.2 1 2.8 1 -2.4 1 2.9 1 -0.5 1 -1.3 1 -0.9 1 0.8 1 -0.5 1 1.1 1 0 1 3.5 1 -5.5 1 1.8 1 1.4 1 0.5 1 0.4 1 -2.8 1 2.1 1 -4.4 1 3.2 1 1.3 1 -0.2 0.2 -2.5" stroke="#808080" stroke-width="4.3" fill="none" stroke-linejoin="round"/>
</g>
<g clip-path="url(#cr)">
<path d="M1490.8 558.3l1 -0.1 1 0.8 1 0.1 1 0.9 1 -0 1 0.8 1 0.1 1 0.3 1 1 1 0.2 1 -0.5 1 1.2 1 0.1 1 0.5 1 -0 1 -0.5 1 0.8 1 -0.5 1 0.6 1 0.4 1 0.9 1 -0.3 1 0.3 1 0.3 1 -0.4 1 0.9 1 -0.1 1 -0.3 1 0.3 1 0.3 1 0.5 1 0.4 1 -0.5 1 0.2 1 0.8 1 0.6 1 -0.3 1 -0.5 1 -0.1 1 0.4 1 -0 1 -0.4 1 0.8 1 0.4 1 -1.1 1 -0 1 -0 1 -0.4 1 0.5 1 -1 1 0.5 1 -0.3 1 -0.2 1 -1.1 1 0.3 1 -0.3 1 -0.1 1 -0.5 1 -0.6 1 0.3 1 -0.2 1 -0.2 1 -0.9 1 0.2 1 -0.6 1 0.2 1 0.3 1 -0.7 1 1.6 1 -0.4 1 -0.5 1 0.3 1 0.4 1 0.3 1 -0.1 1 0.7 1 -0.2 1 0.6 1 1.2 1 -0.3 1 0.1 1 1 1 -0.2 1 0.3 1 -0.2 1 0.7 1 -0.4 1 0.5 1 -0.1 1 0.2 1 -0.5 1 -0.8 1 -0.8 1 -0.3 1 -0.8 1 0.1 1 -1.4 1 -1.4 1 0.1 1 -0.7 1 -1.4 1 -0.3 1 -1.5 1 -0.3 1 -0.9 1 -0.5 1 -0.7 1 -0.9 1 -0 1 -0.9 1 -0.1 1 0.2 1 -0.8 1 0.4 1 0.7 1 0.2 1 -0.3 1 0.5 1 1 1 0.1 1 0.9 1 0.1 1 1.3 1 -0.3 1 1.1 1 0.6 1 -0.2 1 -0.2 1 0.1 1 -0.2 1 1.3 1 -1.3 1 0.2 1 0.6 1 -0.1 1 0.3 1 0.1 1 -0.3 1 -0.1 1 -0.2 1 0.1 1 0.3 1 -0.5 1 -0.4 1 -1.5 1 -0.4 1 -0.8 1 -0.9 1 -1.1 1 -0.4 1 -0.8 1 -0.6 1 -1.7 1 -0.5 1 -0.6 1 -0.5 1 -0.6 1 0.5 1 -1 1 0.6 1 -0.4 1 1 1 -0.5 1 0.2 1 0.6 1 -0.1 1 0.6 1 -0 1 1 1 -0.9 1 0.4 1 0.7 1 0.1 1 0.4 1 0.1 1 0.7 1 0.2 1 0.7 1 -0.6 1 0.9 1 0.2 1 0.7 1 -0.1 1 1 1 -0.4 1 1.2 1 0.3 1 -0.5 1 1.2 1 -0.4 1 1.2 1 -0.4 1 0.9 1 0.2 1 -0.1 1 0.2 1 1.1 1 -0.1 1 0.8 1 -0.2 1 1.1 1 -0.7 1 0.6 1 -0.4 1 -0 1 0.2 1 -0.5 1 -0.1 1 0.5 1 -0.9 1 -0.8 1 0.2 1 -1 1 -0.2 1 -0.3 1 -0.5 1 -0.5 1 -0.8 1 -0.9 1 -0.7 1 -0.7 1 -0.7 1 0.2 1 -1.3 1 0.1 1 -1.1 1 0.1 1 -1.7 1 0.8 1 -0.4 1 0.7 1 0.1 1 -0.5 1 0.5 1 0.7 1 0.3 1 0.4 1 0.9 1 -0.2 1 1.7 1 0.2 1 -0.6 1 1.3 1 0.8 1 1.3 1 -0.3 1 -0.2 1 1.2 1 -0.3 1 -0.1 1 0.1 1 -0.9 1 -0.4 1 -0.3 1 -1.1 1 -0.7 1 -1.5 1 -0.4 1 -2.3 1 -1.2 1 -0.7 1 -1.6 1 -1.1 1 -1.5 1 -1.4 1 -1.6 1 -0.8 1 -0.8 1 -2.2 1 -0.7 1 -1.9 1 -2.7 1 -1.3 1 -2.5 1 -1.3 1 -1.8 1 -0.8 1 -1.2 1 0.5 1 -0.3 1 0.2 1 -0.1 1 1.1 1 1 1 -0.3 1 0.5 1 0.2 1 0.8 1 0.5 1 0.4 1 0.8 1 0.7 1 0.9 1 0.4 1 0.7 1 0.9 1 0.4 1 0.1 1 0.2 1 1.2 1 0.7 1 1 1 0.3 1 1.5 1 -0.6 1 0.7 1 -0.3 1 0.1 1 0.2 1 0 1 0 1 -1.6 1 1.3 1 -0.2 1 -0.2 1 -0.4 1 -0.4 1 0.2 1 0.6 1 -0.2 1 1.3 1 0.9 1 0.8 1 1.8 1 0.3 1 1.1 1 1.4 1 0.9 1 1.6 1 -0.3 1 0.8 1 1.1 1 0.8 1 -0.2 1 1.4 1 -0.6 1 1.6 1 -0.2 1 0.6 1 1.3 1 -0.2 1 0.3 1 0.9 1 1.1 1 -0.1 1 0.3 1 1.1 1 0.2 1 1 1 0.8 1 1.2 1 0.4 1 1.1 1 1 1 0.8 1 -0.6 1 1.1 1 -0.1 1 0.9 1 -0 1 -0.1 1 -0.2 1 -0.1 1 -0.3 1 0.9 1 -0.4 1 0.1 1 0.1 1 0.2 1 0.4 1 -0.8 1 0.3 1 -0.8 1 0.5 1 -0.1 1 -0 1 0.5 1 -0.4 1 -0.2 1 -0.3 1 -0.4 1 -0.3 1 -0.6 1 -0.4 1 -0.4 1 -0.4 1 -1.1 1 0.1 1 -0.6 1 -0.5 1 -1.1 1 -0.6 1 -0 1 -1.2 1 -0.2 1 -1 1 -0.8 1 -0.6 1 -0.3 1 -0.5 1 -0.8 1 0.5 1 -1 1 -0.7 1 0.5 1 -0.6 1 -0.8 1 -0.3 1 0 1 0.1 1 -1 1 0.7 1 -0.8 1 0.2 1 -0.6 1 -0 1 -0.2 1 -0 1 -1 1 0.7 1 -1.3 1 0.3 1 -0.1 1 -0.4 1 0.1 1 -1.1 1 0.3 1 0.2 1 -0.5 1 -0.6 1 0.2 1 -0.1 1 -0.6 1 0.6 1 -0.8 1 -0.3 1 0.3 1 -0.4 1 -0 1 0 1 -0.3 1 0.2 1 -0.2 1 0.2 1 -0.8 1 0.3 1 -0 1 -0.1 1 -0.8 1 0.3 1 0.4 1 0.1 1 -0.2 1 0.1 1 0.5 1 -0.4 1 0.1 1 1.1 1 0 1 0.1 1 0.1 1 1.1 1 -0.3 1 0 1 1 1 -0.9 1 0.6 1 -0.6 1 -2.7 1 -3.7 1 -3.9 1 -5.1 1 -3.8 1 -3 1 -2.7 1 -0.7 1 -2 1 -1.4 1 -1.5 1 -0.9 1 -1.4 1 -0.7 1 -0.3 1 -0.5 1 -1.3 1 1 1 -0.2 1 1.1 1 1.1 1 1.6 1 1.4 1 2.3 1 2.2 1 1.6 1 2.4 1 2.4 1 2.2 1 2.5 1 3.3 1 3.8 1 3.6 1 4 1 3.5 1 3.2 1 2 1 2 1 1.7 1 0.2 1 -0.1 1 -0.2 1 -0.1 1 0.3 1 -0.3 1 0.1 1 0.5 1 -1 1 0.3 1 0.1 1 -0.6 1 0.3 1 0.8 1 -0.2 1 -0.2 1 0.4 1 -0.7 1 1 1 -0.7 1 -0.2 1 0.6 1 -0.2 1 -0.1 1 -0.1 1 -0.5 1 0.1 1 0.9 1 0.5 1 -0.4 1 0.6 1 -0.2 1 0.3 1 0.8 1 0.6 1 0.4 1 0.5 1 -0.3 1 0.5 1 0.7 1 -0.3 1 0.5 1 0.4 1 0.3 1 0.5 1 0.1 1 -0.2 1 -0.5 1 1.1 1 0.1 1 -0.2 1 -0.1 1 -0.2 1 0.1 1 -0.9 1 -0.2 1 -0.7 1 -0.2 1 -0.6 1 -0.5 1 -0.9 1 0.1 1 -0.2 1 -2 1 0.9 1 -1 1 -0.8 1 -0.3 1 -0.7 1 -0.5 1 -0.1 1 -0.9 1 -0.5 1 -0.6 1 -0.4 1 -0.7 1 -0.1 1 -0.5 1 0.4 1 -0.6 1 0.1 1 -0 1 -0.3 1 -0.8 1 0.7 1 -1.5 1 1 1 -1.6 1 0.4 1 0.1 1 -0.4 1 -0.6 1 0 1 0.5 1 -0.9 1 0.7 1 0 1 -0 1 -0.6 1 -0.2 1 -0.2 1 0.9 1 -0.6 1 -0.3 1 -0.2 1 0.1 1 -1.1 1 0.9 1 -0.6 1 -0.6 1 1.1 1 -0.7 1 0.4 1 -0.4 1 0.1 1 0.6 1 -0.4 1 0.1 1 -0.6 1 1 1 -0.4 1 0.7 1 -0.3 1 0.8 1 0.4 1 -0.3 1 1 1 -0 1 1.1 1 0.2 1 0.4 1 1.5 1 -0.3 1 0.1 1 1 1 0.3 1 0.9 1 -0.3 1 1.5 1 -0.3 1 0.5 1 0.4 1 0.6 1 1.3 1 -0.2 1 0.1 1 0.9 1 0.8 1 0.9 1 0.2 1 0.8 1 1.6 1 -0.4 1 0.6 1 0.1 1 1.2 1 -0.1 1 1.1 1 -0.1 1 -0 1 -0.6 1 -0.2 1 -0.3 1 -0.3 1 -0.7 1 -0.7 1 -0.4 1 -0.7 1 -0.8 1 -0.2 1 -0.6 1 -1.1 0.2 0.8" stroke="#000000" stroke-width="4.2" fill="none" stroke-linejoin="round"/>
<path d="M1490.8 506.0l1 0 1 0 1 0 1 0 1 0 1 0 1 0 1 0.1 1 0.2 1 0.4 1 0.6 1 0.7 1 0.7 1 0.8 1 0.9 1 0.8 1 0.9 1 0.8 1 0.7 1 0.6 1 0.5 1 0.3 1 0.2 1 -0 1 -0 1 -0 1 -0.1 1 0 1 -0 1 -0.1 1 -0 1 -0.1 1 -0 1 -0.1 1 -0.1 1 -0.1 1 -0.1 1 -0.1 1 -0.1 1 -0.1 1 -0.1 1 -0.1 1 -0.1 1 -0.1 1 -0.1 1 -0.2 1 -0.2 1 -0.4 1 -0.4 1 -0.5 1 -0.5 1 -0.5 1 -0.6 1 -0.6 1 -0.6 1 -0.6 1 -0.6 1 -0.6 1 -0.6 1 -0.5 1 -0.5 1 -0.4 1 -0.4 1 -0.3 1 -0.2 1 -0.1 1 0 1 0.1 1 0.3 1 0.3 1 0.4 1 0.5 1 0.5 1 0.6 1 0.6 1 0.6 1 0.6 1 0.6 1 0.6 1 0.5 1 0.5 1 0.4 1 0.3 1 0.2 1 0.1 1 -0.1 1 -0.5 1 -0.8 1 -1 1 -1.2 1 -1.2 1 -1.3 1 -1.3 1 -1.2 1 -1.1 1 -1.2 1 -1.4 1 -1.4 1 -1.4 1 -1.6 1 -1.5 1 -1.6 1 -1.5 1 -1.5 1 -1.5 1 -1.3 1 -1.3 1 -1.1 1 -0.9 1 -0.8 1 -0.7 1 -0.3 1 -0.2 1 0 1 0.1 1 0.1 1 0.1 1 0.1 1 0.2 1 0.2 1 0.2 1 0.3 1 0.2 1 0.3 1 0.3 1 0.2 1 0.3 1 0.3 1 0.3 1 0.4 1 0.6 1 0.6 1 0.6 1 0.7 1 0.7 1 0.7 1 0.6 1 0.5 1 0.4 1 0.2 1 0.1 1 -0.2 1 -0.6 1 -0.8 1 -1.1 1 -1.2 1 -1.4 1 -1.5 1 -1.5 1 -1.5 1 -1.4 1 -1.3 1 -1.1 1 -0.9 1 -0.6 1 -0.4 1 0 1 0.1 1 0.1 1 0.1 1 0.2 1 0.3 1 0.3 1 0.3 1 0.3 1 0.3 1 0.4 1 0.4 1 0.4 1 0.5 1 0.7 1 0.8 1 0.9 1 1 1 1 1 1 1 1.1 1 1 1 1 1 0.8 1 0.8 1 0.6 1 0.7 1 0.7 1 0.7 1 0.7 1 0.6 1 0.7 1 0.7 1 0.7 1 0.6 1 0.7 1 0.6 1 0.6 1 0.5 1 0.6 1 0.4 1 0.5 1 0.4 1 0.4 1 0.3 1 0.3 1 0.2 1 0.2 1 0.1 1 0 1 -0.1 1 -0.3 1 -0.5 1 -0.6 1 -0.8 1 -0.9 1 -1 1 -1.1 1 -1.2 1 -1.2 1 -1.3 1 -1.3 1 -1.3 1 -1.3 1 -1.3 1 -1.2 1 -1.2 1 -1.1 1 -1 1 -0.9 1 -0.7 1 -0.6 1 -0.5 1 -0.2 1 -0.1 1 0.1 1 0.4 1 0.5 1 0.6 1 0.8 1 0.8 1 1 1 0.9 1 1 1 1.1 1 0.9 1 1 1 0.8 1 0.8 1 0.7 1 0.5 1 0.3 1 0.2 1 -0.2 1 -0.9 1 -1.5 1 -2 1 -2.4 1 -2.8 1 -3 1 -3.1 1 -3.2 1 -3 1 -3 1 -2.6 1 -2.4 1 -2.3 1 -2.6 1 -2.6 1 -2.7 1 -2.8 1 -2.7 1 -2.8 1 -2.7 1 -2.6 1 -2.5 1 -2.4 1 -2.1 1 -2 1 -1.7 1 -1.3 1 -1.1 1 -0.7 1 -0.4 1 0.1 1 0.3 1 0.5 1 0.7 1 0.9 1 1.1 1 1.2 1 1.3 1 1.4 1 1.4 1 1.4 1 1.5 1 1.5 1 1.4 1 1.3 1 1.2 1 1.5 1 1.6 1 1.8 1 1.7 1 1.7 1 1.5 1 1.2 1 0.9 1 0.3 1 -0 1 -0.2 1 -0.2 1 -0.3 1 -0.4 1 -0.3 1 -0.4 1 -0.4 1 -0.3 1 -0.3 1 -0.2 1 -0.1 1 0.1 1 0.5 1 1 1 1.3 1 1.7 1 2 1 2.1 1 2.3 1 2.3 1 2.3 1 2.3 1 2.1 1 1.9 1 1.9 1 2 1 2 1 2.1 1 2.2 1 2.2 1 2.1 1 2.1 1 2 1 2 1 1.8 1 1.7 1 1.5 1 1.4 1 1.1 1 1.1 1 1.1 1 1.1 1 1.1 1 1 1 1 1 0.9 1 0.8 1 0.8 1 0.6 1 0.4 1 0.4 1 0.2 1 -0 1 -0 1 -0.1 1 -0 1 -0.1 1 -0.2 1 -0.1 1 -0.2 1 -0.1 1 -0.2 1 -0.3 1 -0.2 1 -0.2 1 -0.3 1 -0.3 1 -0.3 1 -0.3 1 -0.3 1 -0.5 1 -0.6 1 -0.8 1 -1 1 -1.1 1 -1.1 1 -1.3 1 -1.3 1 -1.3 1 -1.4 1 -1.3 1 -1.4 1 -1.3 1 -1.2 1 -1.1 1 -1.1 1 -1.2 1 -1.2 1 -1.3 1 -1.4 1 -1.3 1 -1.3 1 -1.3 1 -1.2 1 -1.1 1 -1 1 -0.8 1 -0.7 1 -0.5 1 -0.3 1 0 1 0.1 1 0.1 1 0.2 1 0.2 1 0.3 1 0.2 1 0.3 1 0.3 1 0.3 1 0.3 1 0.3 1 0.2 1 0.1 1 0.2 1 -0 1 -0 1 -0.1 1 -0.1 1 -0.2 1 -0.2 1 -0.3 1 -0.3 1 -0.3 1 -0.4 1 -0.3 1 -0.4 1 -0.5 1 -0.4 1 -0.4 1 -0.5 1 -0.4 1 -0.5 1 -0.4 1 -0.5 1 -0.4 1 -0.4 1 -0.4 1 -0.3 1 -0.4 1 -0.3 1 -0.2 1 -0.3 1 -0.1 1 -0.2 1 -0.1 1 0 1 0 1 0.2 1 0.2 1 0.3 1 0.4 1 0.3 1 0.4 1 0.4 1 0.3 1 0.3 1 0.2 1 0.1 1 -0.3 1 -1.9 1 -3.4 1 -4.6 1 -5.4 1 -5.8 1 -5.8 1 -5.4 1 -4.7 1 -3.5 1 -3.3 1 -3.3 1 -3.4 1 -3.2 1 -3.1 1 -2.7 1 -2.5 1 -1.9 1 -1.5 1 -0.8 1 -0 1 0.6 1 1.2 1 1.8 1 2.2 1 2.6 1 2.9 1 3.2 1 3.3 1 3.4 1 3.4 1 3.6 1 4.7 1 5.9 1 6.7 1 7.3 1 7.5 1 7.4 1 7.1 1 6.4 1 5.5 1 4.2 1 2.7 1 0.8 1 0 1 0 1 0 1 0 1 0 1 0 1 0 1 0 1 0 1 0 1 0 1 0 1 0 1 0 1 0 1 0 1 0 1 0 1 0 1 0 1 0 1 0 1 0.1 1 0.1 1 0.2 1 0.3 1 0.3 1 0.4 1 0.4 1 0.4 1 0.5 1 0.5 1 0.5 1 0.6 1 0.5 1 0.5 1 0.5 1 0.5 1 0.5 1 0.5 1 0.4 1 0.4 1 0.4 1 0.2 1 0.3 1 0.2 1 0.1 1 -0 1 -0 1 -0.2 1 -0.1 1 -0.3 1 -0.3 1 -0.3 1 -0.4 1 -0.4 1 -0.5 1 -0.5 1 -0.6 1 -0.5 1 -0.6 1 -0.7 1 -0.6 1 -0.6 1 -0.7 1 -0.7 1 -0.6 1 -0.7 1 -0.8 1 -0.9 1 -1 1 -1.2 1 -1.1 1 -1.2 1 -1.1 1 -1 1 -0.8 1 -0.7 1 -0.6 1 -0.5 1 -0.6 1 -0.5 1 -0.4 1 -0.5 1 -0.4 1 -0.5 1 -0.4 1 -0.5 1 -0.5 1 -0.5 1 -0.5 1 -0.6 1 -0.6 1 -0.6 1 -0.6 1 -0.7 1 -0.6 1 -0.7 1 -0.7 1 -0.6 1 -0.6 1 -0.6 1 -0.6 1 -0.5 1 -0.5 1 -0.4 1 -0.4 1 -0.3 1 -0.3 1 -0.1 1 -0.1 1 0.1 1 0.3 1 0.5 1 0.7 1 0.9 1 1.1 1 1.1 1 1.1 1 1.2 1 1.1 1 1.1 1 0.9 1 0.9 1 0.7 1 0.7 1 0.7 1 0.6 1 0.6 1 0.6 1 0.6 1 0.6 1 0.6 1 0.6 1 0.6 1 0.6 1 0.7 1 0.6 1 0.7 1 0.8 1 0.7 1 0.9 1 0.9 1 1.1 1 1.3 1 1.4 1 1.5 1 1.6 1 1.6 1 1.6 1 1.6 1 1.5 1 1.3 1 1.2 1 1 1 0.7 1 0.5 1 0.1 1 -0.1 1 -0.4 1 -0.5 1 -0.7 1 -0.8 1 -0.9 1 -1 1 -1 1 -1 1 -1 1 -0.9 1 -0.8 0.2 -0.2" stroke="#000000" stroke-width="1.1" fill="none" stroke-linejoin="round"/>
<path d="M1490.8 478.1l1 0.2 1 0.2 1 0.2 1 0.3 1 0.2 1 0.2 1 0.3 1 0.2 1 0.2 1 0.3 1 0.2 1 0.1 1 0.2 1 0.1 1 0.1 1 0.1 1 -0 1 -0.1 1 -0.4 1 -0.7 1 -0.9 1 -1.2 1 -1.3 1 -1.4 1 -1.6 1 -1.6 1 -1.8 1 -1.8 1 -1.8 1 -1.7 1 -1.8 1 -1.6 1 -1.6 1 -1.4 1 -1.3 1 -1.1 1 -1.1 1 -1.1 1 -1.2 1 -1.1 1 -1.2 1 -1.2 1 -1.1 1 -1.2 1 -1.1 1 -1.1 1 -1.1 1 -1 1 -1 1 -0.9 1 -0.9 1 -0.7 1 -0.7 1 -0.7 1 -0.5 1 -0.4 1 -0.3 1 -0.1 1 -0.1 1 0.1 1 0.3 1 0.5 1 0.7 1 0.7 1 0.9 1 0.9 1 0.9 1 1 1 1 1 1 1 1.2 1 1.5 1 1.7 1 1.8 1 1.9 1 1.9 1 1.9 1 1.8 1 1.5 1 1.4 1 1 1 0.7 1 0.4 1 0.3 1 0.4 1 0.2 1 0.2 1 0.1 1 -0.1 1 -0.4 1 -0.7 1 -0.9 1 -1.2 1 -1.4 1 -1.5 1 -1.7 1 -1.9 1 -1.9 1 -2 1 -2 1 -2 1 -2.6 1 -3.1 1 -3.5 1 -3.9 1 -4.2 1 -4.4 1 -4.4 1 -4.3 1 -4.3 1 -4 1 -3.6 1 -3.2 1 -3 1 -3.1 1 -3.1 1 -3.2 1 -3.1 1 -3.1 1 -2.9 1 -2.7 1 -2.4 1 -2.1 1 -1.8 1 -1.3 1 -0.8 1 -0.3 1 0.2 1 0.7 1 1 1 1.3 1 1.6 1 1.8 1 2 1 2.1 1 2.2 1 2.2 1 2.2 1 2.8 1 3.6 1 4.1 1 4.4 1 4.4 1 4 1 3.5 1 2.5 1 1.4 1 0.6 1 0.4 1 0.3 1 0.3 1 0.2 1 0.2 1 0.3 1 0.3 1 0.3 1 0.5 1 0.5 1 0.6 1 0.7 1 0.8 1 0.7 1 0.8 1 0.9 1 0.8 1 0.9 1 0.8 1 0.9 1 0.8 1 0.8 1 0.9 1 1 1 1.1 1 1.1 1 1.1 1 1.1 1 1.1 1 1.1 1 1 1 1 1 0.9 1 0.8 1 0.7 1 0.6 1 0.5 1 0.3 1 0.2 1 -0 1 -0.1 1 -0.1 1 -0.1 1 -0.2 1 -0.3 1 -0.2 1 -0.4 1 -0.3 1 -0.4 1 -0.4 1 -0.4 1 -0.4 1 -0.5 1 -0.5 1 -0.4 1 -0.5 1 -0.5 1 -0.5 1 -0.6 1 -0.7 1 -0.9 1 -1 1 -1.1 1 -1.2 1 -1.2 1 -1.3 1 -1.3 1 -1.2 1 -1.2 1 -1.1 1 -1.1 1 -0.9 1 -0.8 1 -0.6 1 -0.5 1 -0.3 1 0 1 0.1 1 0.2 1 0.2 1 0.3 1 0.4 1 0.4 1 0.5 1 0.5 1 0.5 1 0.5 1 0.5 1 0.6 1 0.5 1 0.5 1 0.4 1 0.4 1 0.4 1 0.3 1 0.3 1 0.1 1 0.1 1 -0.1 1 -0.6 1 -1 1 -1.4 1 -1.8 1 -2 1 -2.3 1 -2.4 1 -2.6 1 -2.6 1 -2.7 1 -2.6 1 -2.6 1 -2.5 1 -2.2 1 -2.1 1 -2.2 1 -2.3 1 -2.4 1 -2.5 1 -2.6 1 -2.7 1 -2.6 1 -2.7 1 -2.6 1 -2.5 1 -2.4 1 -2.3 1 -2.1 1 -1.9 1 -1.7 1 -1.5 1 -1.2 1 -0.8 1 -0.5 1 -0.2 1 0.2 1 0.5 1 0.9 1 1 1 1.3 1 1.5 1 1.5 1 1.7 1 1.8 1 1.8 1 1.8 1 1.7 1 1.7 1 1.5 1 1.8 1 2 1 2.2 1 2.2 1 2.1 1 1.9 1 1.5 1 1.1 1 0.4 1 0 1 0 1 0 1 0 1 0 1 0 1 0 1 0 1 0 1 0 1 0 1 0 1 0.1 1 0.6 1 1.1 1 1.6 1 1.9 1 2.2 1 2.5 1 2.6 1 2.6 1 2.7 1 2.5 1 2.4 1 2.2 1 2.1 1 2.2 1 2.3 1 2.3 1 2.3 1 2.4 1 2.3 1 2.3 1 2.2 1 2.2 1 2 1 1.9 1 1.7 1 1.6 1 1.4 1 1.4 1 1.4 1 1.3 1 1.4 1 1.3 1 1.2 1 1.1 1 0.9 1 0.8 1 0.6 1 0.4 1 0.2 1 -0 1 -0.1 1 -0.2 1 -0.2 1 -0.3 1 -0.3 1 -0.4 1 -0.4 1 -0.5 1 -0.6 1 -0.5 1 -0.7 1 -0.6 1 -0.7 1 -0.8 1 -0.8 1 -0.8 1 -0.8 1 -0.9 1 -1.3 1 -1.8 1 -2.3 1 -2.7 1 -2.9 1 -3.2 1 -3.4 1 -3.5 1 -3.5 1 -3.5 1 -3.3 1 -3.2 1 -3 1 -2.7 1 -2.3 1 -2 1 -2.1 1 -2.1 1 -2.2 1 -2.1 1 -2.1 1 -2 1 -2 1 -1.8 1 -1.7 1 -1.6 1 -1.4 1 -1.2 1 -1 1 -0.8 1 -0.5 1 -0.2 1 0.1 1 0.6 1 0.8 1 1.2 1 1.4 1 1.7 1 1.7 1 1.9 1 1.9 1 2 1 1.9 1 1.8 1 1.6 1 1.5 1 1.3 1 1.5 1 1.5 1 1.6 1 1.6 1 1.6 1 1.6 1 1.5 1 1.4 1 1.3 1 1.1 1 1 1 0.8 1 0.5 1 0.3 1 0.1 1 0 1 0 1 0 1 0 1 0 1 0 1 0 1 0 1 0 1 0 1 0 1 0 1 0 1 0 1 0 1 0.1 1 0.3 1 0.5 1 0.6 1 0.6 1 0.8 1 0.7 1 0.7 1 0.7 1 0.5 1 0.4 1 0.3 1 -0.3 1 -1.9 1 -3.4 1 -4.6 1 -5.4 1 -5.8 1 -5.8 1 -5.5 1 -4.7 1 -3.5 1 -3.3 1 -3.3 1 -3.3 1 -3.3 1 -3 1 -2.8 1 -2.4 1 -2 1 -1.4 1 -0.8 1 -0 1 0.8 1 1.5 1 2.3 1 2.8 1 3.3 1 3.7 1 3.9 1 4 1 4.1 1 4 1 4.1 1 5.2 1 6.2 1 6.9 1 7.4 1 7.6 1 7.4 1 7.1 1 6.4 1 5.5 1 4.2 1 2.8 1 0.9 1 0.2 1 0.1 1 0.1 1 0.1 1 0.1 1 0 1 0.1 1 0 1 0.1 1 0 1 0.1 1 -0 1 0 1 0.1 1 0 1 0.1 1 0 1 0.1 1 0 1 0.1 1 0.1 1 0.2 1 0.1 1 0.3 1 0.3 1 0.4 1 0.4 1 0.4 1 0.5 1 0.6 1 0.5 1 0.6 1 0.6 1 0.6 1 0.6 1 0.6 1 0.5 1 0.6 1 0.5 1 0.5 1 0.5 1 0.4 1 0.4 1 0.3 1 0.3 1 0.2 1 0.1 1 -0 1 -0.1 1 -0.1 1 -0.3 1 -0.4 1 -0.4 1 -0.6 1 -0.6 1 -0.6 1 -0.8 1 -0.7 1 -0.9 1 -0.8 1 -1 1 -0.9 1 -0.9 1 -1 1 -1 1 -1 1 -0.9 1 -1 1 -1 1 -1.1 1 -1.2 1 -1.2 1 -1.3 1 -1.4 1 -1.4 1 -1.5 1 -1.6 1 -1.6 1 -1.6 1 -1.6 1 -1.7 1 -1.7 1 -1.7 1 -1.7 1 -1.8 1 -1.7 1 -1.7 1 -2 1 -2.2 1 -2.3 1 -2.6 1 -2.6 1 -2.6 1 -2.7 1 -2.6 1 -2.5 1 -2.4 1 -2.2 1 -2 1 -1.7 1 -1.3 1 -1 1 -0.6 1 -0.1 1 0.3 1 0.5 1 0.8 1 1.1 1 1.2 1 1.5 1 1.5 1 1.7 1 1.8 1 1.8 1 1.8 1 1.8 1 1.8 1 1.7 1 1.9 1 2.2 1 2.4 1 2.5 1 2.6 1 2.6 1 2.5 1 2.5 1 2.3 1 2.1 1 1.9 1 1.6 1 1.3 1 1.3 1 1.1 1 1 1 1 1 0.9 1 0.9 1 0.8 1 0.9 1 0.8 1 0.9 1 0.9 1 1 1 1 1 1.1 1 1.2 1 1.6 1 1.7 1 1.9 1 2 1 2 1 2 1 1.8 1 1.7 1 1.4 1 1 1 0.7 1 0.2 1 -0.1 1 -0.2 1 -0.4 1 -0.4 1 -0.6 1 -0.6 1 -0.6 1 -0.7 1 -0.7 1 -0.6 1 -0.6 1 -0.6 0.2 -0.1" stroke="#404040" stroke-width="1.1" fill="none" stroke-linejoin="round"/>
<path d="M1490.5 474.5l1 0.1 1 0.1 1 0.2 1 0.2 1 0.1 1 0.2 1 0.2 1 0.1 1 0.2 1 0.1 1 0.2 1 0.1 1 0 1 0.1 1 -0.2 1 -0.8 1 -1.3 1 -1.8 1 -2.2 1 -2.3 1 -2.7 1 -3.8 1 -4.9 1 -5.7 1 -6.3 1 -6.5 1 -6.5 1 -6.3 1 -5.7 1 -5 1 -4.6 1 -4.4 1 -4.3 1 -4.1 1 -3.9 1 -3.8 1 -3.6 1 -3.4 1 -3.3 1 -3.3 1 -3.2 1 -3.1 1 -3 1 -2.8 1 -2.7 1 -2.5 1 -2.3 1 -2 1 -2 1 -2.1 1 -1.9 1 -1.8 1 -1.6 1 -1.2 1 -0.9 1 -0.4 1 0 1 0.3 1 0.5 1 0.8 1 1 1 1.2 1 1.3 1 1.5 1 1.6 1 1.7 1 1.8 1 2.2 1 2.9 1 3.4 1 3.8 1 4.2 1 4.3 1 4.4 1 4.2 1 3.9 1 3.8 1 4 1 4.1 1 4 1 3.9 1 3.6 1 3.1 1 2.7 1 2 1 1.3 1 1.2 1 1.1 1 0.9 1 0.6 1 0.2 1 -0.1 1 -0.8 1 -1.5 1 -2 1 -2.3 1 -2.7 1 -2.7 1 -3.3 1 -4.2 1 -4.9 1 -5.5 1 -6.3 1 -6.7 1 -7.2 1 -7.4 1 -7.6 1 -8.1 1 -9.2 1 -10.3 1 -11.1 1 -11.4 1 -11.5 1 -11.3 1 -10.9 1 -10.2 1 -9.3 1 -9.6 1 -9.8 1 -9.5 1 -8.9 1 -8 1 -6.6 1 -5 1 -3.6 1 -3.3 1 -2.7 1 -2.1 1 -0.4 1 1.5 1 2.4 1 3 1 3.5 1 3.9 1 5.6 1 7.2 1 8.3 1 9.1 1 9.5 1 9.6 1 9.2 1 9.2 1 10.1 1 10.6 1 10.7 1 10.3 1 9.7 1 8.6 1 7.4 1 5.8 1 4.1 1 3.5 1 3.2 1 3 1 2.7 1 2.5 1 2.4 1 2.2 1 2.1 1 2 1 1.9 1 1.9 1 1.9 1 1.8 1 1.8 1 1.7 1 1.6 1 1.5 1 1.5 1 1.3 1 1.3 1 1.2 1 1.2 1 1.2 1 1.2 1 1.3 1 1.1 1 1.1 1 1.1 1 0.9 1 0.9 1 0.7 1 0.5 1 0.4 1 0.1 1 -0.3 1 -0.9 1 -1.2 1 -1.5 1 -1.8 1 -1.8 1 -2 1 -1.9 1 -1.9 1 -2 1 -2.2 1 -2.6 1 -2.6 1 -2.8 1 -2.8 1 -2.8 1 -2.7 1 -2.6 1 -2.3 1 -2 1 -1.7 1 -1.4 1 -1.5 1 -1.4 1 -1.4 1 -1.3 1 -1.2 1 -1.1 1 -0.8 1 -0.6 1 -0.3 1 -0 1 0.3 1 0.6 1 0.8 1 0.9 1 1.1 1 1 1 1.1 1 1 1 1 1 1.3 1 1.3 1 1.4 1 1.4 1 1.3 1 1.3 1 1 1 0.8 1 0.6 1 0.2 1 -0.1 1 -0.2 1 -0.4 1 -0.6 1 -0.7 1 -0.8 1 -0.9 1 -1 1 -1 1 -1.1 1 -1.2 1 -1.5 1 -1.9 1 -2.3 1 -2.5 1 -2.7 1 -3 1 -3 1 -3 1 -3 1 -3 1 -2.8 1 -2.6 1 -2.5 1 -2.7 1 -2.6 1 -2.7 1 -2.8 1 -2.9 1 -2.8 1 -2.9 1 -2.8 1 -2.7 1 -2.6 1 -2.6 1 -2.3 1 -2.2 1 -2 1 -1.7 1 -1.5 1 -1.1 1 -0.8 1 -0.5 1 -0.2 1 0.2 1 0.4 1 0.7 1 1 1 1.1 1 1.3 1 1.5 1 1.6 1 1.7 1 1.7 1 1.8 1 1.9 1 1.8 1 1.8 1 1.7 1 1.6 1 1.6 1 1.7 1 1.7 1 1.8 1 1.9 1 1.8 1 1.7 1 1.7 1 1.5 1 1.4 1 1.5 1 1.4 1 1.5 1 1.5 1 1.5 1 1.5 1 1.6 1 1.5 1 1.6 1 1.6 1 1.7 1 1.7 1 1.8 1 2 1 2.1 1 2.2 1 2.3 1 2.4 1 2.5 1 2.4 1 2.5 1 2.4 1 2.4 1 2.3 1 2.4 1 2.4 1 2.5 1 2.5 1 2.4 1 2.4 1 2.2 1 2.1 1 1.8 1 1.8 1 1.8 1 1.7 1 1.7 1 1.7 1 1.5 1 1.5 1 1.4 1 1.3 1 1.2 1 1 1 1 1 0.7 1 0.6 1 0.3 1 0.2 1 -0.1 1 -0.3 1 -0.4 1 -0.6 1 -0.8 1 -0.9 1 -0.9 1 -1.1 1 -1.3 1 -1.3 1 -1.3 1 -1.5 1 -1.5 1 -1.6 1 -1.7 1 -1.7 1 -1.7 1 -1.8 1 -1.9 1 -2.4 1 -2.6 1 -3 1 -3.4 1 -3.8 1 -4 1 -4.3 1 -4.6 1 -4.7 1 -4.9 1 -5 1 -5 1 -5.1 1 -5.1 1 -4.9 1 -4.9 1 -4.8 1 -4.6 1 -5.3 1 -5.9 1 -6.4 1 -6.6 1 -6.8 1 -6.8 1 -6.8 1 -6.4 1 -6.1 1 -5.5 1 -4.8 1 -4 1 -3 1 -1.9 1 -0.6 1 0.6 1 1.7 1 2.7 1 3.6 1 4.3 1 4.9 1 5.3 1 5.7 1 5.8 1 5.8 1 5.7 1 5.4 1 5.4 1 6 1 6.5 1 6.9 1 7.1 1 7.2 1 7.2 1 6.9 1 6.4 1 5.8 1 5.1 1 4.1 1 3.1 1 2.6 1 2.5 1 2.2 1 2.1 1 1.9 1 1.8 1 1.5 1 1.5 1 1.4 1 1.2 1 1.2 1 1.1 1 1 1 0.9 1 0.8 1 0.8 1 0.7 1 0.8 1 0.7 1 0.8 1 0.7 1 0.6 1 0.7 1 0.8 1 0.7 1 0.6 1 0.7 1 0.6 1 0.5 1 0.5 1 0.4 1 0.3 1 0.2 1 -0.1 1 -1.5 1 -3.4 1 -4.7 1 -5.7 1 -6.2 1 -6.3 1 -5.8 1 -5 1 -3.7 1 -2.7 1 -2.7 1 -2.6 1 -2.6 1 -2.4 1 -2.1 1 -1.9 1 -1.6 1 -1.2 1 -0.7 1 -0.2 1 0.4 1 1.1 1 1.6 1 2.1 1 2.5 1 2.8 1 3.1 1 3.3 1 3.5 1 3.5 1 3.5 1 4.7 1 6.2 1 7.4 1 8.1 1 8.6 1 8.7 1 8.4 1 7.8 1 6.9 1 5.6 1 3.9 1 2 1 0.4 1 0.3 1 0.3 1 0.3 1 0.2 1 0.2 1 0.2 1 0.2 1 0.1 1 0.1 1 0.1 1 0.2 1 0.1 1 0.1 1 0.1 1 0.1 1 0.1 1 0.2 1 0.1 1 0.2 1 0.2 1 0.3 1 0.3 1 0.3 1 0.4 1 0.5 1 0.5 1 0.5 1 0.6 1 0.5 1 0.6 1 0.7 1 0.6 1 0.6 1 0.6 1 0.7 1 0.6 1 0.5 1 0.6 1 0.5 1 0.5 1 0.4 1 0.4 1 0.4 1 0.2 1 0.3 1 0.1 1 0 1 0 1 -0.2 1 -0.3 1 -0.4 1 -0.5 1 -0.6 1 -0.7 1 -0.8 1 -0.8 1 -0.9 1 -0.9 1 -1 1 -0.9 1 -1 1 -1 1 -1 1 -1 1 -1 1 -0.9 1 -0.8 1 -0.8 1 -0.8 1 -0.8 1 -0.7 1 -0.7 1 -0.8 1 -0.8 1 -0.8 1 -0.8 1 -0.9 1 -1 1 -1.1 1 -1.2 1 -1.3 1 -1.4 1 -1.6 1 -3 1 -4.7 1 -6.1 1 -7.3 1 -8 1 -8.4 1 -8.6 1 -8.3 1 -7.8 1 -7.8 1 -9 1 -9.6 1 -9.8 1 -9.6 1 -9 1 -7.7 1 -6.2 1 -4 1 -1.6 1 0.7 1 2.1 1 3.3 1 4.3 1 5.1 1 5.7 1 6.1 1 6.4 1 6.3 1 6.3 1 6.4 1 8 1 9.1 1 9.9 1 10.2 1 10.1 1 9.5 1 8.5 1 7.1 1 5.1 1 2.6 1 1 1 0.9 1 0.8 1 0.8 1 0.6 1 0.5 1 0.5 1 0.4 1 0.4 1 0.4 1 0.5 1 0.5 1 0.5 1 0.8 1 1 1 1.2 1 1.4 1 1.5 1 1.7 1 1.8 1 1.9 1 2 1 2 1 2.1 1 2.1 1 2.1 1 2 1 1.9 1 1.8 1 1.5 1 1.3 1 1 1 0.7 1 0.3 1 -0.1 1 -0.1 1 -0.2 1 -0.2 1 -0.4 1 -0.3 1 -0.4 1 -0.4 1 -0.5 1 -0.4 1 -0.4 1 -0.3 0.5 -0.2" stroke="#808080" stroke-width="1.1" fill="none" stroke-linejoin="round"/>
<path d="M1490.5 474.1l1 0.1 1 0.1 1 0.2 1 0.1 1 0.2 1 0.2 1 0.1 1 0.2 1 0.1 1 0.2 1 0.1 1 0.1 1 0 1 0.1 1 -0.2 1 -0.9 1 -1.5 1 -2 1 -2.4 1 -2.6 1 -2.9 1 -4.1 1 -5.3 1 -6.2 1 -6.8 1 -7.1 1 -7.1 1 -6.8 1 -6.2 1 -5.3 1 -4.9 1 -4.7 1 -4.6 1 -4.4 1 -4.2 1 -4.1 1 -3.9 1 -3.7 1 -3.6 1 -3.5 1 -3.4 1 -3.3 1 -3.2 1 -3.1 1 -2.9 1 -2.6 1 -2.4 1 -2.1 1 -2.2 1 -2.2 1 -2 1 -1.9 1 -1.7 1 -1.3 1 -0.9 1 -0.4 1 0 1 0.4 1 0.6 1 0.9 1 1 1 1.3 1 1.5 1 1.5 1 1.7 1 1.8 1 1.9 1 2.4 1 3.1 1 3.7 1 4.1 1 4.5 1 4.6 1 4.7 1 4.4 1 4.2 1 4 1 4.2 1 4.4 1 4.4 1 4.2 1 3.9 1 3.4 1 2.9 1 2.2 1 1.5 1 1.3 1 1.2 1 1 1 0.7 1 0.3 1 -0 1 -0.8 1 -1.5 1 -2 1 -2.5 1 -2.7 1 -2.8 1 -3.5 1 -4.4 1 -5.2 1 -6 1 -6.6 1 -7.1 1 -7.5 1 -7.9 1 -7.9 1 -8.5 1 -9.8 1 -10.9 1 -11.6 1 -12.1 1 -12.2 1 -11.9 1 -11.4 1 -10.7 1 -9.7 1 -9.9 1 -10.1 1 -9.8 1 -9.1 1 -8.2 1 -6.7 1 -4.9 1 -3.5 1 -3.1 1 -2.6 1 -1.9 1 -0.4 1 1.2 1 2.2 1 2.8 1 3.3 1 3.7 1 5.6 1 7.4 1 8.6 1 9.4 1 9.9 1 9.9 1 9.5 1 9.4 1 10.4 1 11 1 11.2 1 11 1 10.3 1 9.3 1 8 1 6.3 1 4.5 1 3.9 1 3.5 1 3.3 1 3 1 2.8 1 2.6 1 2.4 1 2.2 1 2.2 1 2.1 1 2 1 2 1 1.9 1 1.9 1 1.8 1 1.7 1 1.6 1 1.5 1 1.4 1 1.3 1 1.3 1 1.2 1 1.2 1 1.2 1 1.2 1 1.2 1 1.1 1 1.1 1 0.9 1 0.8 1 0.7 1 0.5 1 0.4 1 0 1 -0.4 1 -1 1 -1.3 1 -1.7 1 -2 1 -2.1 1 -2.1 1 -2.1 1 -2.1 1 -2.2 1 -2.5 1 -2.8 1 -2.9 1 -3.1 1 -3.1 1 -3.1 1 -2.9 1 -2.8 1 -2.6 1 -2.2 1 -1.8 1 -1.5 1 -1.6 1 -1.5 1 -1.4 1 -1.4 1 -1.2 1 -1 1 -0.8 1 -0.6 1 -0.2 1 0.2 1 0.5 1 0.8 1 1 1 1.2 1 1.2 1 1.2 1 1.2 1 1.1 1 1.2 1 1.4 1 1.5 1 1.5 1 1.5 1 1.4 1 1.4 1 1.1 1 0.8 1 0.6 1 0.1 1 -0.1 1 -0.3 1 -0.5 1 -0.7 1 -0.8 1 -1 1 -1.1 1 -1.1 1 -1.2 1 -1.2 1 -1.3 1 -1.7 1 -2 1 -2.4 1 -2.6 1 -2.9 1 -3 1 -3.1 1 -3.1 1 -3.1 1 -3 1 -2.8 1 -2.6 1 -2.5 1 -2.7 1 -2.7 1 -2.8 1 -2.9 1 -2.9 1 -2.9 1 -2.8 1 -2.9 1 -2.7 1 -2.7 1 -2.5 1 -2.3 1 -2.2 1 -1.9 1 -1.7 1 -1.4 1 -1.1 1 -0.7 1 -0.4 1 -0 1 0.2 1 0.5 1 0.8 1 1 1 1.2 1 1.3 1 1.5 1 1.6 1 1.7 1 1.8 1 1.8 1 1.8 1 1.8 1 1.8 1 1.7 1 1.6 1 1.6 1 1.7 1 1.7 1 1.8 1 1.7 1 1.8 1 1.7 1 1.8 1 1.6 1 1.6 1 1.6 1 1.7 1 1.6 1 1.7 1 1.7 1 1.7 1 1.7 1 1.8 1 1.7 1 1.8 1 1.9 1 1.9 1 2 1 2.1 1 2.2 1 2.3 1 2.3 1 2.4 1 2.4 1 2.4 1 2.4 1 2.4 1 2.4 1 2.3 1 2.4 1 2.5 1 2.5 1 2.5 1 2.5 1 2.4 1 2.2 1 2 1 1.8 1 1.7 1 1.8 1 1.7 1 1.7 1 1.6 1 1.5 1 1.5 1 1.4 1 1.3 1 1.2 1 1 1 0.9 1 0.7 1 0.5 1 0.3 1 0.1 1 -0.2 1 -0.3 1 -0.5 1 -0.7 1 -0.8 1 -1 1 -1.1 1 -1.2 1 -1.3 1 -1.4 1 -1.5 1 -1.6 1 -1.6 1 -1.8 1 -1.7 1 -1.8 1 -1.9 1 -1.9 1 -2.1 1 -2.5 1 -2.9 1 -3.3 1 -3.6 1 -3.9 1 -4.3 1 -4.5 1 -4.7 1 -4.9 1 -5.1 1 -5.2 1 -5.2 1 -5.3 1 -5.3 1 -5.2 1 -5.2 1 -5 1 -5 1 -5.7 1 -6.4 1 -6.9 1 -7.2 1 -7.4 1 -7.4 1 -7.4 1 -7 1 -6.6 1 -6 1 -5.3 1 -4.3 1 -3.3 1 -2 1 -0.7 1 0.7 1 2 1 3 1 3.9 1 4.7 1 5.4 1 5.8 1 6.1 1 6.3 1 6.3 1 6.2 1 5.9 1 5.8 1 6.5 1 7.2 1 7.6 1 7.8 1 8 1 7.8 1 7.5 1 7.1 1 6.4 1 5.5 1 4.5 1 3.3 1 2.8 1 2.6 1 2.4 1 2.3 1 2.1 1 2 1 1.7 1 1.7 1 1.5 1 1.5 1 1.3 1 1.2 1 1.1 1 1 1 0.9 1 0.9 1 0.9 1 0.8 1 0.9 1 0.8 1 0.8 1 0.7 1 0.8 1 0.7 1 0.8 1 0.6 1 0.7 1 0.6 1 0.5 1 0.4 1 0.4 1 0.2 1 0.2 1 -0 1 -1.6 1 -3.4 1 -4.8 1 -5.8 1 -6.3 1 -6.3 1 -5.8 1 -5 1 -3.6 1 -2.7 1 -2.6 1 -2.6 1 -2.4 1 -2.3 1 -2.1 1 -1.8 1 -1.5 1 -1.1 1 -0.7 1 -0.2 1 0.4 1 1 1 1.5 1 2 1 2.4 1 2.8 1 3 1 3.3 1 3.3 1 3.4 1 3.5 1 4.7 1 6.3 1 7.4 1 8.2 1 8.7 1 8.8 1 8.6 1 8 1 7 1 5.7 1 4.1 1 2 1 0.4 1 0.4 1 0.3 1 0.3 1 0.2 1 0.3 1 0.2 1 0.1 1 0.2 1 0.1 1 0.1 1 0.2 1 0.1 1 0.1 1 0.1 1 0.2 1 0.1 1 0.2 1 0.1 1 0.2 1 0.2 1 0.3 1 0.3 1 0.4 1 0.4 1 0.4 1 0.6 1 0.5 1 0.6 1 0.6 1 0.6 1 0.6 1 0.6 1 0.6 1 0.7 1 0.6 1 0.6 1 0.6 1 0.5 1 0.6 1 0.4 1 0.5 1 0.4 1 0.3 1 0.3 1 0.2 1 0.1 1 0.1 1 -0.1 1 -0.1 1 -0.3 1 -0.5 1 -0.5 1 -0.6 1 -0.7 1 -0.8 1 -0.9 1 -0.9 1 -0.9 1 -1 1 -1 1 -1 1 -1 1 -1 1 -1 1 -0.9 1 -0.9 1 -0.9 1 -0.8 1 -0.7 1 -0.7 1 -0.7 1 -0.6 1 -0.7 1 -0.7 1 -0.7 1 -0.7 1 -0.9 1 -0.9 1 -1 1 -1.1 1 -1.3 1 -1.3 1 -1.6 1 -3.2 1 -5.1 1 -6.7 1 -8 1 -8.8 1 -9.3 1 -9.4 1 -9.1 1 -8.4 1 -8.6 1 -9.8 1 -10.6 1 -10.9 1 -10.6 1 -9.8 1 -8.6 1 -6.8 1 -4.5 1 -1.6 1 0.8 1 2.3 1 3.7 1 4.7 1 5.7 1 6.3 1 6.8 1 7 1 7 1 6.8 1 7.1 1 8.8 1 10.2 1 11 1 11.4 1 11.2 1 10.5 1 9.4 1 7.7 1 5.4 1 2.7 1 0.7 1 0.7 1 0.6 1 0.5 1 0.5 1 0.4 1 0.3 1 0.3 1 0.3 1 0.3 1 0.4 1 0.4 1 0.5 1 0.8 1 1 1 1.3 1 1.4 1 1.7 1 1.7 1 1.9 1 2.1 1 2 1 2.2 1 2.1 1 2.2 1 2.1 1 2 1 1.9 1 1.7 1 1.5 1 1.3 1 0.9 1 0.7 1 0.3 1 -0 1 -0.2 1 -0.1 1 -0.3 1 -0.3 1 -0.3 1 -0.4 1 -0.4 1 -0.3 1 -0.4 1 -0.4 1 -0.3 0.5 -0.2" stroke="#C0C0C0" stroke-width="1.1" fill="none" stroke-linejoin="round"/>
<path d="M1490.5 532.1l1 0.1 1 0.2 1 0.1 1 0.2 1 0.2 1 0.2 1 0.1 1 0.2 1 0.1 1 0.1 1 0.1 1 -0.3 1 -1.4 1 -2.1 1 -2.9 1 -3.3 1 -3.8 1 -3.9 1 -3.9 1 -3.8 1 -3.7 1 -4.1 1 -4.7 1 -4.9 1 -5 1 -5 1 -4.7 1 -4.3 1 -3.7 1 -3 1 -2.6 1 -2.5 1 -2.4 1 -2.2 1 -2.1 1 -2 1 -1.8 1 -1.7 1 -1.6 1 -1.4 1 -1.3 1 -1.1 1 -1.1 1 -1.1 1 -1 1 -1.1 1 -1 1 -0.9 1 -0.9 1 -0.8 1 -0.7 1 -0.7 1 -0.5 1 -0.4 1 -0.3 1 -0.1 1 0 1 0.3 1 0.4 1 0.6 1 0.7 1 0.9 1 1 1 1.1 1 1.2 1 1.2 1 1.3 1 1.4 1 1.3 1 1.4 1 1.6 1 1.9 1 2.1 1 2.4 1 2.6 1 2.6 1 2.8 1 2.7 1 2.7 1 2.6 1 2.5 1 2.2 1 2.1 1 2.2 1 2.3 1 2.4 1 2.2 1 2.2 1 1.9 1 1.6 1 1.3 1 0.8 1 0.3 1 -0.2 1 -0.8 1 -1.3 1 -1.7 1 -2.2 1 -2.5 1 -2.8 1 -3.1 1 -3.3 1 -3.9 1 -6.7 1 -9.3 1 -11.1 1 -12.4 1 -12.9 1 -12.8 1 -12 1 -10.5 1 -8.3 1 -7.5 1 -7.2 1 -7.1 1 -6.7 1 -6.4 1 -6 1 -5.5 1 -5.1 1 -4.6 1 -4 1 -3.3 1 -3.3 1 -3.2 1 -2.8 1 -2.3 1 -1.5 1 -0.4 1 1 1 2.3 1 3.4 1 4.1 1 4.6 1 4.6 1 5.2 1 6.4 1 7.5 1 8.2 1 8.8 1 9 1 9 1 8.8 1 8.2 1 7.9 1 8.7 1 9 1 9 1 8.3 1 7.3 1 5.7 1 3.7 1 2.2 1 1.9 1 1.8 1 1.5 1 1.5 1 1.3 1 1.2 1 1.1 1 1 1 0.9 1 0.8 1 0.9 1 0.7 1 0.8 1 0.8 1 0.8 1 0.9 1 0.8 1 0.8 1 0.7 1 0.8 1 0.8 1 0.7 1 0.7 1 0.6 1 0.6 1 0.5 1 0.5 1 0.3 1 0.3 1 0.3 1 0.1 1 0 1 -0.3 1 -0.7 1 -1.1 1 -1.3 1 -1.5 1 -1.8 1 -1.9 1 -2 1 -2.1 1 -2.1 1 -2.1 1 -2 1 -1.8 1 -1.8 1 -1.5 1 -1.4 1 -1.6 1 -1.6 1 -1.7 1 -1.6 1 -1.7 1 -1.6 1 -1.5 1 -1.3 1 -1.3 1 -1 1 -0.8 1 -0.5 1 -0.2 1 -0 1 0.1 1 0.3 1 0.3 1 0.5 1 0.5 1 0.6 1 0.7 1 0.7 1 0.7 1 0.6 1 1 1 1.2 1 1.4 1 1.6 1 1.7 1 1.6 1 1.5 1 1.3 1 1 1 0.6 1 0.2 1 -0.2 1 -0.4 1 -0.6 1 -0.7 1 -1 1 -1.1 1 -1.1 1 -1.3 1 -1.4 1 -1.4 1 -1.5 1 -1.4 1 -1.5 1 -1.4 1 -1.4 1 -1.3 1 -1.3 1 -1.3 1 -1.4 1 -1.5 1 -1.5 1 -1.6 1 -1.6 1 -1.6 1 -1.7 1 -1.6 1 -1.6 1 -1.6 1 -1.5 1 -1.6 1 -1.5 1 -1.5 1 -1.4 1 -1.3 1 -1.2 1 -1.2 1 -1 1 -0.9 1 -0.8 1 -0.6 1 -0.5 1 -0.4 1 -0.1 1 0 1 0.2 1 0.4 1 0.4 1 0.6 1 0.7 1 0.7 1 0.9 1 0.9 1 0.9 1 1 1 1 1 1 1 1 1 1 1 1 1 0.8 1 0.9 1 0.9 1 0.9 1 1 1 0.9 1 0.9 1 1 1 0.9 1 1 1 0.9 1 0.9 1 0.9 1 1 1 1 1 1 1 1.1 1 1 1 1.1 1 1.2 1 1.2 1 1.4 1 1.4 1 1.6 1 1.6 1 1.7 1 1.7 1 1.8 1 1.7 1 1.8 1 1.6 1 1.7 1 1.5 1 1.4 1 1.4 1 1.2 1 1.3 1 1.3 1 1.2 1 1.1 1 1.2 1 1 1 1 1 0.9 1 0.8 1 0.8 1 0.8 1 0.8 1 0.8 1 0.7 1 0.7 1 0.7 1 0.6 1 0.6 1 0.5 1 0.4 1 0.3 1 0.2 1 0.2 1 -0 1 -0.1 1 -0.3 1 -0.3 1 -0.5 1 -0.6 1 -0.7 1 -0.8 1 -0.9 1 -0.9 1 -1 1 -1.1 1 -1.2 1 -1.2 1 -1.2 1 -1.3 1 -1.4 1 -1.4 1 -1.4 1 -1.7 1 -2.2 1 -2.6 1 -3 1 -3.4 1 -3.6 1 -3.9 1 -4.1 1 -4.3 1 -4.4 1 -4.4 1 -4.4 1 -4.4 1 -4.4 1 -4.1 1 -4 1 -3.8 1 -3.5 1 -3.2 1 -3.4 1 -3.6 1 -3.7 1 -3.7 1 -3.8 1 -3.6 1 -3.6 1 -3.3 1 -3.1 1 -2.8 1 -2.4 1 -1.9 1 -1.5 1 -0.9 1 -0.2 1 0.6 1 1.7 1 2.5 1 3.2 1 3.9 1 4.2 1 4.7 1 4.8 1 4.8 1 4.8 1 4.6 1 4.3 1 4 1 4.3 1 4.7 1 4.9 1 5 1 5.2 1 5.1 1 5 1 4.8 1 4.6 1 4.3 1 3.8 1 3.3 1 2.8 1 2.1 1 1.3 1 1 1 0.9 1 0.8 1 0.8 1 0.7 1 0.6 1 0.5 1 0.6 1 0.5 1 0.4 1 0.5 1 0.4 1 0.5 1 0.4 1 0.5 1 0.5 1 0.6 1 0.6 1 0.7 1 0.8 1 0.9 1 0.9 1 1 1 0.9 1 0.9 1 0.9 1 0.7 1 0.7 1 0.4 1 0.3 1 0.1 1 -0.7 1 -1.5 1 -2 1 -2.6 1 -2.8 1 -2.8 1 -2.8 1 -2.5 1 -2 1 -1.8 1 -1.8 1 -1.8 1 -1.8 1 -1.8 1 -1.6 1 -1.4 1 -1.2 1 -0.9 1 -0.6 1 -0.1 1 0.2 1 0.7 1 1.1 1 1.5 1 1.6 1 1.9 1 2.1 1 2.2 1 2.2 1 2.3 1 2.2 1 2.7 1 3.4 1 4 1 4.3 1 4.5 1 4.5 1 4.4 1 4 1 3.6 1 2.9 1 2 1 1.1 1 0.3 1 0.2 1 0.3 1 0.2 1 0.1 1 0.2 1 0.1 1 0.1 1 0.2 1 0.1 1 0 1 0.1 1 0.1 1 0.1 1 0.1 1 0.1 1 0.1 1 0.1 1 0.1 1 0.1 1 0.2 1 0.1 1 0.2 1 0.2 1 0.2 1 0.3 1 0.3 1 0.3 1 0.3 1 0.3 1 0.3 1 0.3 1 0.4 1 0.3 1 0.3 1 0.3 1 0.3 1 0.3 1 0.3 1 0.3 1 0.2 1 0.3 1 0.2 1 0.1 1 0.2 1 0.1 1 0.1 1 -0 1 -0.1 1 -0.1 1 -0.2 1 -0.3 1 -0.4 1 -0.4 1 -0.5 1 -0.5 1 -0.6 1 -0.6 1 -0.6 1 -0.6 1 -0.6 1 -0.6 1 -0.6 1 -0.6 1 -0.6 1 -0.5 1 -0.4 1 -0.4 1 -0.3 1 -0.3 1 -0.3 1 -0.2 1 -0.3 1 -0.2 1 -0.2 1 -0.2 1 -0.3 1 -0.3 1 -0.4 1 -0.4 1 -0.6 1 -2.9 1 -5.2 1 -7.2 1 -8.4 1 -9.1 1 -9.1 1 -8.7 1 -7.5 1 -5.9 1 -4.9 1 -5 1 -5 1 -4.9 1 -4.8 1 -4.6 1 -4.2 1 -3.8 1 -3.3 1 -2.7 1 -2.1 1 -1.3 1 -0.5 1 0.4 1 1.2 1 2 1 2.6 1 3.2 1 3.6 1 4 1 4.3 1 4.5 1 4.7 1 5.7 1 8.6 1 10.8 1 11.6 1 11.4 1 9.9 1 7.3 1 3.5 1 1.2 1 1 1 0.8 1 0.8 1 0.6 1 0.5 1 0.5 1 0.5 1 0.4 1 0.4 1 0.3 1 0.5 1 0.4 1 0.6 1 0.6 1 0.7 1 0.7 1 0.9 1 1 1 1 1 1 1 1.1 1 1.2 1 1.1 1 1.2 1 1.2 1 1.1 1 1.1 1 1 1 1 1 0.9 1 0.8 1 0.7 1 0.6 1 0.4 1 0.3 1 0.2 1 -0.1 1 -0.1 1 -0.2 1 -0.2 1 -0.3 1 -0.3 1 -0.4 1 -0.3 1 -0.4 1 -0.4 1 -0.3 1 -0.4 0.5 -0.1" stroke="#00FFFF" stroke-width="1.1" fill="none" stroke-linejoin="round"/>
<path d="M1490.8 533.8l1 0.2 1 0.1 1 0.2 1 0.2 1 0.2 1 0.2 1 0.2 1 0.1 1 0.1 1 0.1 1 -0 1 -0.7 1 -1.7 1 -2.6 1 -3.3 1 -3.8 1 -4.1 1 -4.2 1 -4.2 1 -4 1 -4 1 -4.7 1 -5 1 -5.3 1 -5.3 1 -5.3 1 -4.9 1 -4.4 1 -3.7 1 -3 1 -2.8 1 -2.6 1 -2.4 1 -2.3 1 -2.2 1 -2.1 1 -1.9 1 -1.7 1 -1.7 1 -1.4 1 -1.4 1 -1.1 1 -1.2 1 -1.1 1 -1.1 1 -1.1 1 -1 1 -0.9 1 -0.9 1 -0.9 1 -0.7 1 -0.6 1 -0.5 1 -0.3 1 -0.2 1 -0.1 1 0.2 1 0.3 1 0.6 1 0.7 1 0.8 1 1 1 1.1 1 1.2 1 1.3 1 1.4 1 1.4 1 1.4 1 1.5 1 1.4 1 1.8 1 2.1 1 2.3 1 2.6 1 2.7 1 2.8 1 2.9 1 2.9 1 2.8 1 2.7 1 2.5 1 2.3 1 2.2 1 2.4 1 2.5 1 2.5 1 2.4 1 2.2 1 2 1 1.7 1 1.3 1 0.9 1 0.2 1 -0.4 1 -0.9 1 -1.4 1 -1.9 1 -2.3 1 -2.7 1 -3 1 -3.3 1 -3.5 1 -4.7 1 -8 1 -10.4 1 -12.3 1 -13.3 1 -13.7 1 -13.4 1 -12.2 1 -10.5 1 -8.4 1 -7.9 1 -7.6 1 -7.4 1 -7 1 -6.7 1 -6.3 1 -5.8 1 -5.2 1 -4.7 1 -4.1 1 -3.5 1 -3.5 1 -3.3 1 -2.9 1 -2.2 1 -1.3 1 -0.1 1 1.5 1 2.9 1 3.8 1 4.5 1 4.9 1 4.9 1 5.9 1 7.1 1 8.2 1 9 1 9.4 1 9.6 1 9.5 1 9.2 1 8.6 1 8.7 1 9.5 1 9.8 1 9.4 1 8.7 1 7.4 1 5.6 1 3.3 1 2.3 1 2 1 1.9 1 1.7 1 1.5 1 1.3 1 1.2 1 1.1 1 1 1 1 1 0.9 1 0.8 1 0.8 1 0.8 1 0.9 1 0.8 1 0.8 1 0.9 1 0.8 1 0.8 1 0.7 1 0.7 1 0.7 1 0.7 1 0.6 1 0.5 1 0.5 1 0.4 1 0.3 1 0.3 1 0.1 1 0.1 1 -0.1 1 -0.5 1 -0.9 1 -1.3 1 -1.5 1 -1.8 1 -1.9 1 -2.1 1 -2.3 1 -2.2 1 -2.3 1 -2.2 1 -2.1 1 -2 1 -1.8 1 -1.6 1 -1.6 1 -1.7 1 -1.7 1 -1.8 1 -1.8 1 -1.7 1 -1.7 1 -1.5 1 -1.4 1 -1.2 1 -1 1 -0.7 1 -0.4 1 -0.1 1 0.1 1 0.3 1 0.4 1 0.5 1 0.6 1 0.7 1 0.7 1 0.8 1 0.8 1 0.8 1 0.8 1 1.2 1 1.4 1 1.7 1 1.7 1 1.8 1 1.7 1 1.5 1 1.3 1 0.9 1 0.5 1 -0 1 -0.3 1 -0.6 1 -0.7 1 -1 1 -1.1 1 -1.2 1 -1.4 1 -1.4 1 -1.6 1 -1.5 1 -1.6 1 -1.6 1 -1.5 1 -1.5 1 -1.4 1 -1.3 1 -1.2 1 -1.3 1 -1.3 1 -1.4 1 -1.5 1 -1.5 1 -1.5 1 -1.6 1 -1.5 1 -1.6 1 -1.5 1 -1.6 1 -1.5 1 -1.4 1 -1.4 1 -1.4 1 -1.3 1 -1.2 1 -1.1 1 -1 1 -1 1 -0.7 1 -0.7 1 -0.5 1 -0.4 1 -0.2 1 -0.1 1 0.1 1 0.3 1 0.3 1 0.5 1 0.6 1 0.7 1 0.8 1 0.9 1 0.8 1 1 1 0.9 1 1 1 1 1 1 1 0.9 1 0.9 1 0.9 1 0.8 1 0.9 1 0.8 1 0.9 1 0.9 1 0.9 1 0.9 1 1 1 0.9 1 1 1 1 1 1.1 1 1 1 1.1 1 1.1 1 1.1 1 1.2 1 1.2 1 1.3 1 1.3 1 1.5 1 1.6 1 1.6 1 1.7 1 1.7 1 1.8 1 1.7 1 1.8 1 1.7 1 1.6 1 1.5 1 1.5 1 1.3 1 1.3 1 1.2 1 1.3 1 1.2 1 1.1 1 1.1 1 1 1 1 1 0.9 1 0.8 1 0.7 1 0.7 1 0.8 1 0.7 1 0.7 1 0.8 1 0.6 1 0.6 1 0.6 1 0.5 1 0.5 1 0.3 1 0.3 1 0.1 1 0.1 1 -0.1 1 -0.2 1 -0.3 1 -0.4 1 -0.6 1 -0.6 1 -0.8 1 -0.9 1 -0.9 1 -1 1 -1.1 1 -1.2 1 -1.2 1 -1.3 1 -1.4 1 -1.3 1 -1.5 1 -1.4 1 -1.5 1 -2 1 -2.5 1 -2.9 1 -3.3 1 -3.6 1 -3.9 1 -4.2 1 -4.3 1 -4.5 1 -4.6 1 -4.7 1 -4.6 1 -4.6 1 -4.4 1 -4.3 1 -4.2 1 -3.8 1 -3.5 1 -3.4 1 -3.6 1 -3.8 1 -3.9 1 -3.9 1 -3.8 1 -3.8 1 -3.6 1 -3.5 1 -3.1 1 -2.8 1 -2.3 1 -1.9 1 -1.3 1 -0.8 1 -0 1 1 1 2.1 1 2.9 1 3.6 1 4.2 1 4.7 1 5 1 5.1 1 5.2 1 5 1 4.7 1 4.4 1 4.3 1 4.8 1 5 1 5.3 1 5.4 1 5.5 1 5.4 1 5.3 1 5.1 1 4.8 1 4.4 1 4 1 3.4 1 2.7 1 2 1 1.3 1 1.1 1 0.9 1 0.9 1 0.8 1 0.7 1 0.7 1 0.6 1 0.6 1 0.5 1 0.5 1 0.5 1 0.5 1 0.5 1 0.5 1 0.6 1 0.5 1 0.7 1 0.6 1 0.8 1 0.9 1 0.9 1 1 1 1 1 1 1 0.9 1 0.9 1 0.7 1 0.6 1 0.4 1 0.3 1 -0.1 1 -0.9 1 -1.5 1 -2.1 1 -2.5 1 -2.6 1 -2.7 1 -2.5 1 -2.3 1 -1.7 1 -1.7 1 -1.7 1 -1.7 1 -1.7 1 -1.7 1 -1.5 1 -1.3 1 -1 1 -0.8 1 -0.4 1 -0.1 1 0.4 1 0.8 1 1.2 1 1.5 1 1.7 1 1.9 1 2 1 2.1 1 2.2 1 2.1 1 2.2 1 2.9 1 3.5 1 3.9 1 4.2 1 4.3 1 4.3 1 4.1 1 3.8 1 3.2 1 2.6 1 1.7 1 0.7 1 0.3 1 0.3 1 0.2 1 0.2 1 0.2 1 0.1 1 0.2 1 0.1 1 0.1 1 0.1 1 0.1 1 0.1 1 0.1 1 0.1 1 0.1 1 0.1 1 0.1 1 0.1 1 0.1 1 0.1 1 0.2 1 0.2 1 0.2 1 0.2 1 0.2 1 0.3 1 0.3 1 0.3 1 0.3 1 0.3 1 0.3 1 0.3 1 0.3 1 0.3 1 0.4 1 0.3 1 0.3 1 0.2 1 0.3 1 0.3 1 0.2 1 0.2 1 0.2 1 0.1 1 0.1 1 0.1 1 0.1 1 -0 1 -0.1 1 -0.1 1 -0.3 1 -0.3 1 -0.4 1 -0.4 1 -0.5 1 -0.6 1 -0.6 1 -0.6 1 -0.6 1 -0.6 1 -0.7 1 -0.6 1 -0.6 1 -0.5 1 -0.6 1 -0.4 1 -0.4 1 -0.4 1 -0.3 1 -0.2 1 -0.2 1 -0.2 1 -0.2 1 -0.1 1 -0.2 1 -0.2 1 -0.2 1 -0.3 1 -0.4 1 -0.4 1 -1.1 1 -3.8 1 -6.3 1 -8 1 -9.2 1 -9.7 1 -9.7 1 -8.8 1 -7.6 1 -5.6 1 -5.3 1 -5.3 1 -5.2 1 -5.2 1 -5 1 -4.7 1 -4.3 1 -3.9 1 -3.3 1 -2.6 1 -2 1 -1.1 1 -0.2 1 0.8 1 1.6 1 2.3 1 2.9 1 3.6 1 4 1 4.4 1 4.7 1 4.8 1 5 1 6.9 1 10 1 11.8 1 12.3 1 11.7 1 9.8 1 6.6 1 2.5 1 1.1 1 0.9 1 0.9 1 0.7 1 0.6 1 0.5 1 0.4 1 0.4 1 0.4 1 0.4 1 0.4 1 0.4 1 0.5 1 0.5 1 0.7 1 0.7 1 0.8 1 0.9 1 1 1 1.1 1 1.1 1 1.1 1 1.1 1 1.2 1 1.1 1 1.1 1 1.1 1 1.1 1 1 1 0.9 1 0.8 1 0.8 1 0.6 1 0.5 1 0.4 1 0.2 1 0.1 1 -0 1 -0.2 1 -0.1 1 -0.3 1 -0.2 1 -0.3 1 -0.4 1 -0.3 1 -0.3 1 -0.4 1 -0.3 1 -0.2 0.2 -0.1" stroke="#0000FF" stroke-width="1.1" fill="none" stroke-linejoin="round"/>
<path d="M1490.8 473.4l1 0.1 1 0.2 1 0.1 1 0.2 1 0.1 1 0.2 1 0.1 1 0.1 1 0.2 1 0.1 1 0.1 1 0 1 0.1 1 -0 1 -0.5 1 -1.2 1 -2 1 -2.4 1 -2.8 1 -2.9 1 -3.5 1 -5.1 1 -6.3 1 -7.2 1 -7.7 1 -8 1 -7.8 1 -7.4 1 -6.6 1 -5.6 1 -5.3 1 -5.2 1 -4.9 1 -4.8 1 -4.6 1 -4.5 1 -4.2 1 -4.1 1 -3.9 1 -3.8 1 -3.7 1 -3.6 1 -3.4 1 -3.3 1 -3 1 -2.8 1 -2.4 1 -2.3 1 -2.3 1 -2.3 1 -2.2 1 -2 1 -1.7 1 -1.2 1 -0.8 1 -0.2 1 0.2 1 0.6 1 0.8 1 1.1 1 1.3 1 1.4 1 1.7 1 1.8 1 1.8 1 2 1 2.1 1 2.9 1 3.6 1 4.3 1 4.7 1 5 1 5.1 1 5.1 1 4.7 1 4.4 1 4.4 1 4.7 1 4.8 1 4.8 1 4.6 1 4.2 1 3.7 1 3.1 1 2.2 1 1.5 1 1.5 1 1.2 1 1.1 1 0.8 1 0.4 1 -0.2 1 -0.9 1 -1.7 1 -2.3 1 -2.6 1 -2.9 1 -3.1 1 -4 1 -5 1 -5.9 1 -6.6 1 -7.3 1 -7.8 1 -8.1 1 -8.4 1 -8.5 1 -9.4 1 -10.9 1 -11.9 1 -12.6 1 -12.9 1 -12.8 1 -12.5 1 -11.8 1 -10.7 1 -10 1 -10.3 1 -10.3 1 -9.9 1 -9 1 -7.7 1 -6.1 1 -4 1 -3 1 -2.6 1 -2 1 -1.2 1 -0.1 1 1 1 2 1 2.6 1 3 1 3.9 1 6 1 7.8 1 9.1 1 9.9 1 10.2 1 10.1 1 9.5 1 10 1 10.9 1 11.6 1 11.8 1 11.5 1 10.8 1 9.8 1 8.3 1 6.3 1 4.7 1 4.2 1 3.8 1 3.6 1 3.2 1 3 1 2.8 1 2.6 1 2.4 1 2.3 1 2.2 1 2.1 1 2.1 1 2.1 1 1.9 1 1.9 1 1.7 1 1.7 1 1.5 1 1.5 1 1.3 1 1.2 1 1.2 1 1.2 1 1.2 1 1.2 1 1.1 1 1.1 1 1 1 0.8 1 0.8 1 0.5 1 0.4 1 0.2 1 -0.2 1 -0.7 1 -1.3 1 -1.7 1 -2.1 1 -2.3 1 -2.4 1 -2.5 1 -2.4 1 -2.3 1 -2.7 1 -2.9 1 -3.3 1 -3.4 1 -3.5 1 -3.5 1 -3.5 1 -3.3 1 -3.1 1 -2.8 1 -2.4 1 -1.9 1 -1.7 1 -1.6 1 -1.6 1 -1.5 1 -1.4 1 -1.1 1 -0.9 1 -0.7 1 -0.3 1 0.1 1 0.5 1 0.9 1 1.2 1 1.3 1 1.5 1 1.6 1 1.5 1 1.4 1 1.3 1 1.4 1 1.6 1 1.7 1 1.8 1 1.7 1 1.5 1 1.4 1 1.1 1 0.8 1 0.5 1 -0.1 1 -0.2 1 -0.6 1 -0.7 1 -1 1 -1 1 -1.3 1 -1.3 1 -1.4 1 -1.4 1 -1.5 1 -1.5 1 -2 1 -2.3 1 -2.7 1 -2.9 1 -3 1 -3.2 1 -3.2 1 -3.2 1 -3.1 1 -3 1 -2.8 1 -2.5 1 -2.6 1 -2.8 1 -2.8 1 -3 1 -2.9 1 -3 1 -2.9 1 -3 1 -2.8 1 -2.7 1 -2.6 1 -2.5 1 -2.2 1 -2.1 1 -1.8 1 -1.5 1 -1.2 1 -0.9 1 -0.5 1 -0.1 1 0.2 1 0.5 1 0.7 1 0.9 1 1.2 1 1.3 1 1.4 1 1.6 1 1.7 1 1.7 1 1.8 1 1.8 1 1.9 1 1.8 1 1.7 1 1.7 1 1.6 1 1.6 1 1.6 1 1.7 1 1.7 1 1.7 1 1.7 1 1.8 1 1.8 1 1.8 1 1.9 1 1.9 1 1.9 1 1.9 1 2 1 1.9 1 2 1 2 1 2.1 1 2 1 2.2 1 2.1 1 2.3 1 2.2 1 2.3 1 2.4 1 2.3 1 2.4 1 2.4 1 2.4 1 2.4 1 2.3 1 2.4 1 2.3 1 2.4 1 2.5 1 2.5 1 2.6 1 2.5 1 2.5 1 2.3 1 2.1 1 1.9 1 1.7 1 1.7 1 1.7 1 1.6 1 1.7 1 1.6 1 1.5 1 1.5 1 1.4 1 1.2 1 1.1 1 1 1 0.7 1 0.6 1 0.4 1 0.1 1 -0.1 1 -0.3 1 -0.5 1 -0.6 1 -0.9 1 -1 1 -1.1 1 -1.3 1 -1.3 1 -1.5 1 -1.7 1 -1.7 1 -1.7 1 -1.9 1 -1.9 1 -2 1 -2 1 -2.1 1 -2.1 1 -2.5 1 -2.9 1 -3.3 1 -3.7 1 -4.1 1 -4.3 1 -4.6 1 -4.9 1 -5 1 -5.3 1 -5.3 1 -5.5 1 -5.6 1 -5.6 1 -5.6 1 -5.6 1 -5.5 1 -5.4 1 -5.7 1 -6.6 1 -7.2 1 -7.8 1 -8.2 1 -8.3 1 -8.3 1 -8.2 1 -7.7 1 -7.3 1 -6.5 1 -5.6 1 -4.5 1 -3.2 1 -1.8 1 -0.2 1 1.3 1 2.7 1 3.7 1 4.8 1 5.5 1 6.2 1 6.6 1 6.9 1 7.1 1 7 1 6.8 1 6.4 1 6.7 1 7.6 1 8.3 1 8.7 1 8.9 1 9 1 8.8 1 8.4 1 7.8 1 6.9 1 5.8 1 4.6 1 3.3 1 3 1 2.9 1 2.6 1 2.5 1 2.4 1 2.2 1 2 1 1.9 1 1.7 1 1.7 1 1.5 1 1.3 1 1.3 1 1.1 1 1.1 1 1 1 1 1 1 1 1 1 0.9 1 0.9 1 0.9 1 0.8 1 0.8 1 0.7 1 0.7 1 0.6 1 0.6 1 0.4 1 0.4 1 0.3 1 0.2 1 0.1 1 -0.3 1 -2.2 1 -4 1 -5.2 1 -6.1 1 -6.4 1 -6.3 1 -5.7 1 -4.6 1 -3.1 1 -2.6 1 -2.5 1 -2.4 1 -2.2 1 -2.1 1 -1.9 1 -1.6 1 -1.3 1 -0.9 1 -0.5 1 -0 1 0.5 1 1.1 1 1.6 1 2 1 2.4 1 2.7 1 3 1 3.1 1 3.3 1 3.3 1 3.6 1 5.2 1 6.7 1 7.8 1 8.6 1 9 1 9 1 8.7 1 7.9 1 6.9 1 5.4 1 3.6 1 1.4 1 0.5 1 0.4 1 0.3 1 0.3 1 0.3 1 0.2 1 0.2 1 0.2 1 0.1 1 0.2 1 0.1 1 0.2 1 0.1 1 0.1 1 0.2 1 0.1 1 0.2 1 0.2 1 0.2 1 0.2 1 0.2 1 0.3 1 0.4 1 0.4 1 0.4 1 0.5 1 0.5 1 0.6 1 0.6 1 0.6 1 0.6 1 0.7 1 0.6 1 0.6 1 0.7 1 0.6 1 0.6 1 0.6 1 0.5 1 0.5 1 0.5 1 0.4 1 0.4 1 0.3 1 0.3 1 0.2 1 0.1 1 -0 1 -0.1 1 -0.2 1 -0.4 1 -0.4 1 -0.6 1 -0.7 1 -0.7 1 -0.9 1 -0.8 1 -1 1 -1 1 -1 1 -1 1 -1 1 -1 1 -1 1 -1 1 -0.9 1 -0.9 1 -0.8 1 -0.7 1 -0.7 1 -0.6 1 -0.6 1 -0.5 1 -0.6 1 -0.5 1 -0.6 1 -0.7 1 -0.7 1 -0.8 1 -1 1 -1 1 -1.3 1 -1.3 1 -1.9 1 -4.2 1 -6.3 1 -8 1 -9.3 1 -10.2 1 -10.5 1 -10.5 1 -10 1 -9.2 1 -10 1 -11.4 1 -12.1 1 -12.3 1 -11.8 1 -10.8 1 -9.2 1 -7 1 -4.1 1 -0.8 1 1.5 1 3.2 1 4.6 1 5.7 1 6.7 1 7.4 1 7.8 1 8 1 7.8 1 7.6 1 8.5 1 10.6 1 11.9 1 12.8 1 13 1 12.6 1 11.6 1 10 1 7.8 1 5 1 1.7 1 0.4 1 0.4 1 0.2 1 0.3 1 0.1 1 0.2 1 0.1 1 0.2 1 0.2 1 0.2 1 0.3 1 0.3 1 0.5 1 0.9 1 1.1 1 1.4 1 1.6 1 1.8 1 2 1 2.1 1 2.2 1 2.2 1 2.3 1 2.2 1 2.2 1 2.1 1 2 1 1.8 1 1.6 1 1.4 1 1.2 1 0.8 1 0.5 1 0.2 1 -0 1 -0.2 1 -0.1 1 -0.3 1 -0.2 1 -0.3 1 -0.4 1 -0.3 1 -0.3 1 -0.4 1 -0.3 1 -0.2 0.2 -0.1" stroke="#00FFFF" stroke-width="1.1" fill="none" stroke-linejoin="round"/>
<path d="M1490.8 1048.6l1 0.5 1 0.4 1 -0.9 1 0.9 1 0.3 1 0.3 1 0 1 0.3 1 -0.6 1 0.4 1 0.7 1 -0.6 1 0.8 1 0.4 1 0.5 1 0.6 1 0.2 1 0 1 0.5 1 0.9 1 0.6 1 0.5 1 0.4 1 0.6 1 0 1 1.1 1 0.8 1 -0.1 1 1.1 1 0.6 1 1.1 1 -0.2 1 0.7 1 0.3 1 0.8 1 0.5 1 0.7 1 1.6 1 0.4 1 0.7 1 -0 1 0.3 1 0.5 1 1.5 1 0.1 1 -0.7 1 0.5 1 -0.1 1 -0.7 1 -0.2 1 0.1 1 -0.6 1 -0.5 1 -0.8 1 -0.8 1 -0.5 1 -0.9 1 -0.1 1 -1.2 1 -0.5 1 -0.8 1 -0.7 1 -0.3 1 -0.4 1 -0.4 1 0.4 1 0.4 1 -0.5 1 -0 1 0 1 0 1 1.1 1 0.4 1 -0.1 1 0.7 1 0.1 1 1.2 1 -0.1 1 0.5 1 0.7 1 -1.1 1 1.1 1 0 1 -0.1 1 -0.1 1 0.1 1 -1.3 1 -0.7 1 0 1 -1.2 1 -1.2 1 -1.1 1 -1.4 1 -1.3 1 -1.2 1 -1 1 -1.5 1 -1.5 1 -0.5 1 -0.8 1 -1 1 -0.6 1 -1.1 1 -0.7 1 -1.2 1 -1.1 1 -0.6 1 -0.6 1 -1.1 1 -0.5 1 0.5 1 -0.7 1 0.6 1 0.1 1 0.9 1 1.2 1 1 1 -0 1 1 1 0.4 1 2.4 1 1.4 1 0.6 1 0.7 1 1.2 1 -0 1 1 1 0.5 1 0 1 -0.2 1 -0.5 1 0 1 -0.2 1 0.8 1 -0.3 1 -0.6 1 -0.2 1 -0.1 1 -0.4 1 0.2 1 -0.3 1 -0.5 1 -1.1 1 -2.2 1 -0.9 1 -2.3 1 -2.1 1 -0.8 1 -3.2 1 -2 1 -2.1 1 -2.1 1 -0.7 1 -2.5 1 -0.1 1 -0.9 1 0.6 1 -0.1 1 -0.3 1 -0.5 1 0.7 1 0.1 1 -0.1 1 -0.3 1 0.3 1 -0.5 1 0.4 1 0 1 0 1 0.1 1 0.7 1 0.3 1 0.6 1 1.5 1 0.4 1 0.7 1 1 1 1.3 1 0.7 1 0.9 1 1.4 1 0.9 1 0.7 1 0.9 1 1.7 1 0.3 1 1.3 1 0.5 1 0.6 1 0.7 1 1.5 1 0.1 1 1 1 0.7 1 1.1 1 0.6 1 1.2 1 0.3 1 1.4 1 0.6 1 0.5 1 0.3 1 1 1 0.6 1 -0.5 1 -0.2 1 0.4 1 -0.6 1 -0.4 1 -0.5 1 -1.5 1 -0.3 1 -1.7 1 -1.2 1 -1 1 -0.7 1 -2.1 1 -1 1 -1.9 1 -0.8 1 -1.5 1 -1 1 -1.6 1 -1.2 1 -1.8 1 -0.1 1 -0.7 1 -0.8 1 -0.5 1 -0.2 1 0.1 1 -0.4 1 0.8 1 0.9 1 0.8 1 0.7 1 0.9 1 2.1 1 1.5 1 1.7 1 0.9 1 0.8 1 1.6 1 0.9 1 0.6 1 0.4 1 0.2 1 0.5 1 -0.2 1 -0.7 1 -1.2 1 -1.5 1 -1.3 1 -2.7 1 -1.8 1 -3.2 1 -2.5 1 -2.4 1 -3 1 -1.2 1 -2.8 1 -1.9 1 -2 1 -2.9 1 -2.4 1 -4.2 1 -1.8 1 -3.3 1 -3.3 1 -2.4 1 -3.2 1 -3 1 -2.9 1 -1 1 -3.4 1 -0.6 1 -0.6 1 -1 1 -0.6 1 0.2 1 0.2 1 0.8 1 0.6 1 0.3 1 0.9 1 1.9 1 0.2 1 1.2 1 2.4 1 0.1 1 1 1 1.3 1 1.8 1 0.6 1 1.3 1 0.3 1 1.6 1 1.5 1 1.3 1 1.8 1 1 1 0.1 1 1.5 1 1.2 1 0.9 1 0.5 1 0.3 1 -1.1 1 -0.7 1 0.4 1 -1.4 1 -1.3 1 -0.4 1 -0.6 1 -0.9 1 -0.5 1 0.4 1 -0.7 1 1 1 0.8 1 1.1 1 2.4 1 0.5 1 3.3 1 0.7 1 2.3 1 2.3 1 2.2 1 1.7 1 1.3 1 1.9 1 2.4 1 2.1 1 1.2 1 2.5 1 1.5 1 1.5 1 0.9 1 1.3 1 1.8 1 0.1 1 1.9 1 1.4 1 0.4 1 2.3 1 1.1 1 0.4 1 1.7 1 1.5 1 1.4 1 1.5 1 1.8 1 1.7 1 0.7 1 1.1 1 0.8 1 0.4 1 0.7 1 -0.3 1 -0.2 1 0.6 1 -0.9 1 0.5 1 0 1 0.1 1 -0.5 1 0.2 1 0.3 1 0.3 1 -0.3 1 -0 1 -0.2 1 0.3 1 -1 1 1.2 1 0.1 1 -0.3 1 -0.4 1 0.6 1 -1.4 1 -0.4 1 -1.8 1 -1.5 1 -1.1 1 -1.4 1 -0.8 1 -0.4 1 -0.8 1 -0.6 1 -0.4 1 -0.3 1 -0.5 1 -0.2 1 -0.4 1 -0.5 1 -0.2 1 -0.7 1 -0 1 -0.8 1 -0.4 1 -1 1 -1.1 1 -0.6 1 -1.4 1 -1.6 1 -1.7 1 -0.4 1 -1.2 1 -0.2 1 0.5 1 -0.3 1 0.2 1 0.2 1 0.7 1 -1.4 1 0 1 0.4 1 -0.5 1 0.2 1 0.6 1 -0.5 1 -0 1 0.3 1 -1.1 1 0.3 1 -0.6 1 -0.7 1 -1.3 1 -0.8 1 -0.9 1 -0.8 1 -1.5 1 -0.4 1 -1.8 1 0.3 1 -0.4 1 -1.1 1 -0.3 1 -0.4 1 -0.4 1 -0.2 1 -0.8 1 -0.6 1 -0.4 1 -0.3 1 -0.2 1 -0.5 1 -0.5 1 -0.2 1 -0.4 1 -0.1 1 0 1 -0 1 0.5 1 -0.6 1 0.6 1 -0.2 1 1 1 0.1 1 0.6 1 -0 1 -0.3 1 0.6 1 -0.1 1 0.2 1 -0.2 1 -0.7 1 -2.3 1 -3.3 1 -3.1 1 -5 1 -6.3 1 -8.4 1 -8.6 1 -7 1 -3.8 1 -2.8 1 -2.3 1 -2.4 1 -2.5 1 -1.5 1 -1.4 1 -1.3 1 -0.8 1 -0.3 1 0.3 1 0.5 1 0.9 1 1.8 1 2.5 1 1.7 1 3.3 1 2.6 1 4.5 1 2.2 1 3.1 1 3.2 1 3.4 1 5 1 6.1 1 5.2 1 5.7 1 6.2 1 6 1 5.3 1 7.1 1 7.6 1 5.4 1 3 1 -0.9 1 0.3 1 0.7 1 -0 1 -0 1 -1.3 1 0.2 1 -0.3 1 0.2 1 -0.4 1 -0.3 1 -0 1 -0.5 1 0.4 1 -0.5 1 0.4 1 -0.3 1 0 1 -0.4 1 -0.1 1 -0.1 1 0.7 1 -0.9 1 1.2 1 -0.5 1 -0.4 1 0.6 1 -0.5 1 0.4 1 -0.1 1 0.5 1 -0.1 1 0.1 1 -0 1 1.1 1 0.2 1 0.9 1 1 1 0.8 1 0.4 1 1.5 1 0.1 1 1.4 1 0.4 1 0.5 1 -0.2 1 0.7 1 -0.5 1 0.3 1 -0.7 1 -0.2 1 -0 1 -0 1 -1.1 1 -0.2 1 -0.4 1 -0.3 1 -0.5 1 -0 1 -0.7 1 -0.7 1 -0.3 1 -0.5 1 -1.1 1 -0.7 1 -0.4 1 -0.7 1 -2.9 1 -0.9 1 -1 1 -1.9 1 -0.8 1 -1.3 1 -1.3 1 -0.3 1 0.2 1 -0.3 1 0.8 1 0.4 1 0.3 1 0.8 1 0.4 1 0.9 1 0.2 1 1.4 1 -0.1 1 0.9 1 0.5 1 -0.1 1 -0.7 1 -0.1 1 -0.5 1 -0.4 1 -1 1 -1 1 -0.1 1 -0.9 1 -0.5 1 -0.8 1 -2.1 1 -0.9 1 -0.4 1 -0.9 1 -1.4 1 -1 1 -1.6 1 0.5 1 -1.8 1 -0.4 1 -0.7 1 -1 1 0.1 1 -0.1 1 -0.7 1 0 1 0.2 1 0.2 1 0.1 1 -0.4 1 0.2 1 0.3 1 -0.4 1 0.8 1 0.7 1 0.3 1 0.4 1 1 1 0.3 1 0.7 1 0.2 1 0.6 1 0.4 1 1 1 -0 1 1 1 1.2 1 0.8 1 0.5 1 0.8 1 2.1 1 1.4 1 2.1 1 1.7 1 2.7 1 1.5 1 0.4 1 1.1 1 1.6 1 1.4 1 1.3 1 0.7 1 0.6 1 1.3 1 0.8 1 -0.1 1 0.8 1 0.2 1 -0.3 1 0.1 1 -0.1 1 -0.5 1 -1.3 1 -0.6 1 -0.4 1 -1.1 1 -0.9 1 0.1 1 -2.4 1 -0.1 1 -0.8 0.2 0.1" stroke="#000000" stroke-width="4.2" fill="none" stroke-linejoin="round"/>
<path d="M1490.8 1012.9l1 0.3 1 0.3 1 0.4 1 0.3 1 0.3 1 0.3 1 0.4 1 0.3 1 0.4 1 0.5 1 0.5 1 0.6 1 0.6 1 0.7 1 0.7 1 0.7 1 0.7 1 0.7 1 0.7 1 0.6 1 0.6 1 0.6 1 0.4 1 0.4 1 0.4 1 0.3 1 0.3 1 0.3 1 0.4 1 0.3 1 0.3 1 0.3 1 0.3 1 0.2 1 0.3 1 0.2 1 0.3 1 0.2 1 0.2 1 0.1 1 0.2 1 0.1 1 0.1 1 0.1 1 0.1 1 -0 1 -0 1 -0.2 1 -0.3 1 -0.5 1 -0.6 1 -0.7 1 -0.8 1 -0.8 1 -0.9 1 -0.9 1 -0.9 1 -0.9 1 -0.9 1 -0.9 1 -0.7 1 -0.7 1 -0.6 1 -0.5 1 -0.4 1 -0.2 1 0 1 0.1 1 0.2 1 0.2 1 0.3 1 0.3 1 0.4 1 0.4 1 0.4 1 0.4 1 0.4 1 0.4 1 0.3 1 0.3 1 0.3 1 0.2 1 0.1 1 -0 1 -0.2 1 -0.3 1 -0.5 1 -0.6 1 -0.5 1 -0.6 1 -0.6 1 -0.8 1 -0.9 1 -1 1 -1 1 -1.1 1 -1.2 1 -1.2 1 -1.2 1 -1.2 1 -1.2 1 -1.2 1 -1.1 1 -1.1 1 -1.1 1 -1 1 -0.9 1 -0.8 1 -0.6 1 -0.6 1 -0.4 1 -0.3 1 -0.1 1 0.1 1 0.5 1 0.8 1 1 1 1.1 1 1.3 1 1.3 1 1.4 1 1.2 1 1.2 1 1 1 0.8 1 0.5 1 0.2 1 0 1 0 1 0 1 0 1 0 1 0 1 0 1 0 1 0 1 0 1 0 1 0 1 0 1 -0 1 -0.4 1 -0.8 1 -1.4 1 -1.7 1 -2 1 -2.2 1 -2.3 1 -2.4 1 -2.4 1 -2.3 1 -2 1 -1.8 1 -1.5 1 -1 1 -0.6 1 0 1 0 1 0.1 1 0.1 1 0.2 1 0.1 1 0.2 1 0.2 1 0.2 1 0.2 1 0.2 1 0.3 1 0.3 1 0.3 1 0.5 1 0.4 1 0.5 1 0.6 1 0.6 1 0.6 1 0.7 1 0.6 1 0.7 1 0.8 1 0.7 1 0.7 1 0.7 1 0.8 1 0.7 1 0.7 1 0.7 1 0.7 1 0.8 1 0.8 1 1 1 0.9 1 1 1 1.1 1 1 1 1 1 1 1 0.9 1 0.9 1 0.8 1 0.7 1 0.7 1 0.5 1 0.4 1 0.2 1 0.1 1 -0.1 1 -0.4 1 -0.5 1 -0.7 1 -0.9 1 -1.1 1 -1.1 1 -1.3 1 -1.3 1 -1.4 1 -1.5 1 -1.5 1 -1.5 1 -1.5 1 -1.4 1 -1.4 1 -1.4 1 -1.2 1 -1.2 1 -1 1 -0.8 1 -0.7 1 -0.5 1 -0.3 1 -0.1 1 0.2 1 0.5 1 0.7 1 1 1 1.1 1 1.2 1 1.3 1 1.3 1 1.4 1 1.3 1 1.3 1 1.2 1 1 1 0.9 1 0.6 1 0.4 1 0.1 1 -0.4 1 -1 1 -1.4 1 -1.8 1 -2.2 1 -2.4 1 -2.6 1 -2.8 1 -2.9 1 -2.9 1 -2.8 1 -2.7 1 -2.6 1 -2.3 1 -2.4 1 -2.7 1 -2.9 1 -2.9 1 -3.1 1 -3.1 1 -3 1 -3 1 -2.9 1 -2.7 1 -2.5 1 -2.3 1 -1.9 1 -1.5 1 -1.2 1 -0.6 1 -0.2 1 0.2 1 0.4 1 0.7 1 0.8 1 1 1 1.1 1 1.2 1 1.3 1 1.4 1 1.4 1 1.3 1 1.3 1 1.3 1 1.2 1 1 1 0.9 1 0.7 1 0.7 1 0.6 1 0.6 1 0.6 1 0.5 1 0.6 1 0.4 1 0.5 1 0.4 1 0.3 1 0.3 1 0.3 1 0.1 1 0.2 1 0.2 1 0.1 1 0.1 1 0.2 1 0.2 1 0.2 1 0.3 1 0.4 1 0.8 1 1.1 1 1.4 1 1.6 1 1.8 1 1.9 1 2.1 1 2 1 2.1 1 1.9 1 1.9 1 1.7 1 1.8 1 1.7 1 1.9 1 1.8 1 1.8 1 1.8 1 1.9 1 1.8 1 1.9 1 1.9 1 2 1 1.9 1 1.8 1 1.7 1 1.5 1 1.4 1 1.3 1 1.4 1 1.4 1 1.3 1 1.3 1 1.2 1 1.1 1 1 1 0.9 1 0.7 1 0.4 1 0.3 1 -0 1 -0 1 -0 1 -0 1 -0 1 -0.1 1 0 1 -0 1 -0.1 1 -0 1 -0.1 1 -0 1 -0.1 1 -0 1 -0.1 1 -0.1 1 -0.1 1 -0.1 1 -0.1 1 -0.6 1 -1 1 -1.2 1 -1.3 1 -1.5 1 -1.4 1 -1.4 1 -1.1 1 -0.9 1 -0.6 1 -0.5 1 -0.4 1 -0.4 1 -0.4 1 -0.3 1 -0.3 1 -0.4 1 -0.4 1 -0.4 1 -0.6 1 -0.6 1 -0.8 1 -1.1 1 -1.3 1 -1.2 1 -1.3 1 -1.2 1 -1.1 1 -0.8 1 -0.5 1 -0.2 1 -0.2 1 -0.1 1 -0.2 1 -0 1 -0.1 1 -0.1 1 -0.1 1 -0 1 -0.1 1 -0.1 1 -0.1 1 -0.1 1 -0.1 1 -0.2 1 -0.3 1 -0.4 1 -0.5 1 -0.6 1 -0.7 1 -0.7 1 -0.8 1 -0.8 1 -0.8 1 -0.7 1 -0.7 1 -0.7 1 -0.5 1 -0.5 1 -0.5 1 -0.6 1 -0.5 1 -0.5 1 -0.6 1 -0.5 1 -0.5 1 -0.4 1 -0.5 1 -0.4 1 -0.3 1 -0.3 1 -0.2 1 -0.1 1 -0.1 1 0 1 0 1 0 1 0 1 0 1 0 1 0 1 0 1 0 1 0.2 1 0.2 1 0.3 1 0.3 1 0.2 1 0.3 1 0.1 1 -0.4 1 -2.7 1 -4.9 1 -6.4 1 -7.2 1 -7.2 1 -6.8 1 -5.5 1 -3.8 1 -3.2 1 -3.2 1 -3.1 1 -2.9 1 -2.6 1 -2.3 1 -1.8 1 -1.2 1 -0.6 1 -0 1 0.5 1 1 1 1.4 1 1.7 1 2 1 2.3 1 2.5 1 2.6 1 2.8 1 2.8 1 2.9 1 3.3 1 3.8 1 4.5 1 4.9 1 5.3 1 5.8 1 6.1 1 6.4 1 9.1 1 11.6 1 10 1 4.2 1 -0.1 1 -0.3 1 -0.5 1 -0.4 1 -0.5 1 -0.4 1 -0.2 1 0 1 0.1 1 0.2 1 0.2 1 0.3 1 0.3 1 0.3 1 0.4 1 0.3 1 0.3 1 0.3 1 0.2 1 0.2 1 0.2 1 0 1 -0 1 -0.2 1 -0.1 1 -0.3 1 -0.2 1 -0.3 1 -0.3 1 -0.3 1 -0.2 1 -0.3 1 -0.1 1 -0.2 1 0 1 0.1 1 0.5 1 0.6 1 0.8 1 0.9 1 1 1 1.1 1 1 1 0.9 1 0.8 1 0.7 1 0.4 1 0.2 1 -0.1 1 -0.2 1 -0.4 1 -0.5 1 -0.6 1 -0.6 1 -0.8 1 -0.7 1 -0.8 1 -0.7 1 -0.8 1 -0.6 1 -0.8 1 -0.9 1 -1 1 -1 1 -1.1 1 -1.1 1 -1.1 1 -1 1 -1 1 -0.9 1 -0.9 1 -0.7 1 -0.6 1 -0.4 1 -0.2 1 -0.1 1 0.1 1 0.1 1 0.2 1 0.3 1 0.3 1 0.3 1 0.3 1 0.4 1 0.3 1 0.3 1 0.3 1 0.2 1 0.1 1 0.1 1 -0 1 -0.2 1 -0.3 1 -0.5 1 -0.6 1 -0.7 1 -0.8 1 -0.8 1 -1 1 -1 1 -1 1 -1 1 -1.1 1 -1 1 -1 1 -1 1 -1 1 -0.9 1 -0.8 1 -0.7 1 -0.6 1 -0.5 1 -0.3 1 -0.2 1 -0.1 1 0 1 0.1 1 0.2 1 0.1 1 0.2 1 0.3 1 0.3 1 0.3 1 0.4 1 0.4 1 0.5 1 0.4 1 0.5 1 0.5 1 0.6 1 0.5 1 0.6 1 0.6 1 0.6 1 0.7 1 1 1 1.1 1 1.4 1 1.4 1 1.6 1 1.5 1 1.6 1 1.5 1 1.4 1 1.3 1 1.5 1 1.6 1 1.7 1 1.6 1 1.7 1 1.5 1 1.4 1 1.3 1 1.1 1 0.8 1 0.6 1 0.2 1 -0.1 1 -0.3 1 -0.4 1 -0.7 1 -0.7 1 -0.8 1 -1 1 -0.9 1 -1 1 -1 1 -0.9 1 -0.9 1 -0.8 0.2 -0.2" stroke="#000000" stroke-width="1.1" fill="none" stroke-linejoin="round"/>
<path d="M1490.5 1012.3l1 0.2 1 0.3 1 0.3 1 0.4 1 0.3 1 0.3 1 0.3 1 0.4 1 0.3 1 0.5 1 0.4 1 0.6 1 0.6 1 0.6 1 0.6 1 0.7 1 0.6 1 0.6 1 0.5 1 0.4 1 0.3 1 0.3 1 0.2 1 0.1 1 0.1 1 0 1 0.1 1 0.1 1 0 1 0.1 1 -0 1 0 1 0 1 -0 1 -0 1 -0.1 1 0 1 -0 1 -0 1 -0.1 1 0 1 -0 1 -0 1 -0.1 1 -0.1 1 -0.1 1 -0.1 1 -0.2 1 -0.4 1 -0.5 1 -0.6 1 -0.7 1 -0.8 1 -0.8 1 -0.9 1 -0.8 1 -0.9 1 -0.8 1 -0.8 1 -0.8 1 -0.7 1 -0.6 1 -0.6 1 -0.4 1 -0.3 1 -0.1 1 -0 1 0.1 1 0.3 1 0.3 1 0.4 1 0.5 1 0.5 1 0.6 1 0.5 1 0.6 1 0.6 1 0.5 1 0.5 1 0.5 1 0.4 1 0.4 1 0.3 1 0.2 1 0.1 1 -0.2 1 -0.3 1 -0.3 1 -0.5 1 -0.4 1 -0.6 1 -0.8 1 -0.8 1 -1 1 -1.1 1 -1.1 1 -1.2 1 -1.2 1 -1.3 1 -1.3 1 -1.3 1 -1.3 1 -1.4 1 -1.5 1 -1.4 1 -1.5 1 -1.4 1 -1.3 1 -1.3 1 -1.1 1 -1.1 1 -0.8 1 -0.7 1 -0.4 1 -0.1 1 0 1 0.3 1 0.5 1 0.6 1 0.6 1 0.7 1 0.7 1 0.7 1 0.6 1 0.6 1 0.3 1 0.2 1 0 1 0.1 1 0.1 1 0.1 1 0.2 1 0.2 1 0.3 1 0.2 1 0.3 1 0.3 1 0.3 1 0.3 1 0.4 1 0.6 1 0.4 1 -0 1 -0.5 1 -0.9 1 -1.2 1 -1.5 1 -1.8 1 -1.9 1 -1.9 1 -1.8 1 -1.7 1 -1.5 1 -1.2 1 -0.8 1 -0.5 1 0 1 0.2 1 0.1 1 0.2 1 0.2 1 0.3 1 0.2 1 0.2 1 0.3 1 0.3 1 0.2 1 0.3 1 0.3 1 0.4 1 0.4 1 0.5 1 0.6 1 0.5 1 0.6 1 0.7 1 0.6 1 0.7 1 0.7 1 0.7 1 0.8 1 0.7 1 0.7 1 0.7 1 0.7 1 0.6 1 0.7 1 0.6 1 0.6 1 0.7 1 0.8 1 0.8 1 0.8 1 0.8 1 0.8 1 0.8 1 0.8 1 0.8 1 0.7 1 0.7 1 0.7 1 0.5 1 0.4 1 0.3 1 0.2 1 0 1 -0.1 1 -0.4 1 -0.5 1 -0.7 1 -0.9 1 -1 1 -1.1 1 -1.1 1 -1.3 1 -1.3 1 -1.4 1 -1.3 1 -1.4 1 -1.3 1 -1.4 1 -1.2 1 -1.3 1 -1.1 1 -1 1 -0.9 1 -0.8 1 -0.6 1 -0.5 1 -0.3 1 -0.1 1 0.2 1 0.4 1 0.7 1 0.8 1 1 1 1.1 1 1.2 1 1.2 1 1.3 1 1.2 1 1.2 1 1.1 1 1 1 0.8 1 0.6 1 0.4 1 0.1 1 -0.3 1 -0.9 1 -1.3 1 -1.8 1 -2.1 1 -2.3 1 -2.6 1 -2.8 1 -2.9 1 -2.8 1 -2.9 1 -2.7 1 -2.6 1 -2.4 1 -2.4 1 -2.6 1 -2.8 1 -2.9 1 -3 1 -3.1 1 -3.1 1 -3 1 -2.9 1 -2.7 1 -2.6 1 -2.3 1 -2 1 -1.7 1 -1.3 1 -0.8 1 -0.4 1 0.1 1 0.3 1 0.6 1 0.7 1 1 1 1.1 1 1.2 1 1.3 1 1.3 1 1.4 1 1.4 1 1.4 1 1.3 1 1.3 1 1.1 1 1 1 0.8 1 0.7 1 0.7 1 0.6 1 0.7 1 0.6 1 0.5 1 0.6 1 0.5 1 0.4 1 0.5 1 0.3 1 0.4 1 0.2 1 0.3 1 0.2 1 0.3 1 0.2 1 0.2 1 0.3 1 0.3 1 0.4 1 0.4 1 0.7 1 1 1 1.4 1 1.5 1 1.8 1 1.9 1 2 1 2.1 1 2 1 2 1 1.8 1 1.8 1 1.8 1 1.8 1 1.8 1 1.8 1 1.9 1 1.8 1 1.8 1 1.9 1 1.8 1 2 1 1.9 1 1.9 1 1.8 1 1.7 1 1.6 1 1.4 1 1.4 1 1.4 1 1.4 1 1.3 1 1.3 1 1.3 1 1.1 1 1 1 0.9 1 0.7 1 0.5 1 0.3 1 0.1 1 -0 1 -0 1 -0.1 1 -0.1 1 -0 1 -0.1 1 -0.1 1 -0.1 1 -0.1 1 -0.1 1 -0.1 1 -0.2 1 -0.1 1 -0.2 1 -0.1 1 -0.2 1 -0.3 1 -0.2 1 -0.7 1 -1 1 -1.2 1 -1.5 1 -1.6 1 -1.6 1 -1.6 1 -1.4 1 -1.2 1 -0.9 1 -0.7 1 -0.7 1 -0.7 1 -0.6 1 -0.6 1 -0.6 1 -0.6 1 -0.7 1 -0.8 1 -0.8 1 -0.9 1 -1.1 1 -1.3 1 -1.5 1 -1.4 1 -1.5 1 -1.3 1 -1.2 1 -0.9 1 -0.6 1 -0.1 1 -0.1 1 0.1 1 0.1 1 0.2 1 0.2 1 0.2 1 0.3 1 0.3 1 0.2 1 0.2 1 0.2 1 0.2 1 0.1 1 0.2 1 0.1 1 -0.1 1 -0.1 1 -0.3 1 -0.3 1 -0.4 1 -0.5 1 -0.5 1 -0.6 1 -0.6 1 -0.5 1 -0.5 1 -0.4 1 -0.4 1 -0.4 1 -0.4 1 -0.4 1 -0.5 1 -0.4 1 -0.4 1 -0.5 1 -0.4 1 -0.4 1 -0.3 1 -0.4 1 -0.2 1 -0.2 1 -0.2 1 -0.1 1 0 1 0 1 0.1 1 -0 1 0 1 0.1 1 0 1 0 1 0.1 1 0.1 1 0.3 1 0.3 1 0.3 1 0.2 1 0.3 1 0 1 -0.2 1 -2.1 1 -4.4 1 -6 1 -6.9 1 -7.2 1 -6.8 1 -5.8 1 -4.2 1 -3.2 1 -3.2 1 -3.1 1 -2.9 1 -2.6 1 -2.3 1 -1.9 1 -1.4 1 -0.8 1 -0.2 1 0.5 1 0.9 1 1.3 1 1.7 1 2 1 2.3 1 2.6 1 2.7 1 2.8 1 2.9 1 2.9 1 3.2 1 3.8 1 4.4 1 5 1 5.3 1 5.8 1 6 1 6.4 1 7.7 1 10.8 1 10.4 1 6.1 1 0.4 1 -0.2 1 -0.4 1 -0.4 1 -0.4 1 -0.4 1 -0.2 1 -0.1 1 0.1 1 0.1 1 0.2 1 0.3 1 0.3 1 0.3 1 0.3 1 0.3 1 0.4 1 0.3 1 0.2 1 0.2 1 0.2 1 0.1 1 -0 1 -0.1 1 -0.1 1 -0.2 1 -0.2 1 -0.2 1 -0.3 1 -0.2 1 -0.2 1 -0.2 1 -0.2 1 -0 1 -0.1 1 0.1 1 0.4 1 0.6 1 0.7 1 0.9 1 0.9 1 1 1 1 1 0.9 1 0.8 1 0.7 1 0.5 1 0.2 1 0 1 -0.2 1 -0.3 1 -0.5 1 -0.6 1 -0.6 1 -0.7 1 -0.8 1 -0.8 1 -0.7 1 -0.8 1 -0.7 1 -0.8 1 -0.9 1 -0.9 1 -1 1 -1.1 1 -1.1 1 -1.1 1 -1 1 -1 1 -0.9 1 -0.9 1 -0.8 1 -0.6 1 -0.5 1 -0.3 1 -0.1 1 -0 1 0.1 1 0.1 1 0.2 1 0.2 1 0.2 1 0.2 1 0.2 1 0.2 1 -0 1 -0.1 1 -0.2 1 -0.3 1 -0.4 1 -0.4 1 -0.6 1 -0.7 1 -0.8 1 -1.1 1 -1.1 1 -1.3 1 -1.3 1 -1.4 1 -1.3 1 -1.2 1 -1.2 1 -0.9 1 -0.9 1 -0.9 1 -0.7 1 -0.6 1 -0.6 1 -0.4 1 -0.4 1 -0.3 1 -0.1 1 -0.1 1 0.1 1 0.3 1 0.4 1 0.6 1 0.5 1 0.7 1 0.7 1 0.6 1 0.7 1 0.6 1 0.6 1 0.6 1 0.5 1 0.4 1 0.5 1 0.5 1 0.5 1 0.6 1 0.5 1 0.6 1 0.6 1 0.6 1 0.9 1 1.1 1 1.2 1 1.4 1 1.6 1 1.5 1 1.6 1 1.6 1 1.4 1 1.4 1 1.5 1 1.6 1 1.7 1 1.7 1 1.6 1 1.6 1 1.5 1 1.3 1 1.2 1 0.9 1 0.6 1 0.3 1 -0 1 -0.2 1 -0.4 1 -0.6 1 -0.7 1 -0.8 1 -0.8 1 -1 1 -0.9 1 -1 1 -0.9 1 -0.9 1 -0.8 0.5 -0.3" stroke="#404040" stroke-width="1.1" fill="none" stroke-linejoin="round"/>
<path d="M1490.5 1009.9l1 0.2 1 0.3 1 0.3 1 0.3 1 0.3 1 0.3 1 0.3 1 0.3 1 0.4 1 0.3 1 0.4 1 0.5 1 0.4 1 0.5 1 0.5 1 0.5 1 0.2 1 -0 1 -0.3 1 -0.6 1 -0.7 1 -0.9 1 -1 1 -1 1 -1.1 1 -1 1 -0.9 1 -0.9 1 -1 1 -1 1 -1.1 1 -1.1 1 -1.1 1 -1.2 1 -1.1 1 -1.1 1 -1 1 -1 1 -1 1 -0.8 1 -0.8 1 -0.6 1 -0.6 1 -0.6 1 -0.6 1 -0.6 1 -0.7 1 -0.6 1 -0.8 1 -0.8 1 -0.8 1 -0.9 1 -0.8 1 -0.8 1 -0.8 1 -0.6 1 -0.6 1 -0.6 1 -0.5 1 -0.4 1 -0.3 1 -0.2 1 -0.2 1 -0 1 0.1 1 0.1 1 0.4 1 0.4 1 0.7 1 0.8 1 1 1 1.1 1 1.1 1 1.2 1 1.2 1 1.2 1 1.2 1 1.2 1 1 1 1 1 1 1 1 1 1 1 1 1 0.8 1 0.5 1 0.4 1 0.2 1 -0 1 -0.2 1 -0.5 1 -0.7 1 -0.8 1 -1 1 -1.2 1 -1.3 1 -1.4 1 -1.5 1 -1.5 1 -1.6 1 -1.7 1 -1.8 1 -2.4 1 -2.7 1 -3 1 -3.2 1 -3.3 1 -3.4 1 -3.4 1 -3.3 1 -3.2 1 -2.9 1 -2.6 1 -2.4 1 -2.2 1 -2.3 1 -2.2 1 -2.2 1 -2 1 -1.9 1 -1.8 1 -1.5 1 -1.4 1 -1.1 1 -0.9 1 -0.6 1 -0.2 1 -0 1 0.3 1 0.5 1 0.7 1 0.9 1 1.1 1 1.1 1 1.3 1 1.3 1 1.4 1 1.5 1 1.6 1 2.3 1 2.7 1 2.9 1 2.7 1 2.4 1 1.9 1 1.5 1 0.9 1 0.3 1 0.2 1 0.1 1 0 1 0.1 1 0.1 1 0.2 1 0.3 1 0.4 1 0.6 1 0.6 1 0.6 1 0.6 1 0.5 1 0.5 1 0.5 1 0.5 1 0.5 1 0.4 1 0.5 1 0.4 1 0.5 1 0.5 1 0.6 1 0.6 1 0.7 1 0.7 1 0.7 1 0.7 1 0.7 1 0.8 1 0.7 1 0.7 1 0.7 1 0.7 1 0.6 1 0.6 1 0.6 1 0.5 1 0.4 1 0.3 1 0.2 1 0.2 1 0.1 1 0.1 1 0.1 1 -0 1 0 1 0.1 1 -0 1 0 1 0.1 1 0.1 1 0.1 1 0 1 -0.1 1 -0.2 1 -0.2 1 -0.4 1 -0.5 1 -0.6 1 -0.8 1 -0.8 1 -0.9 1 -1 1 -0.9 1 -1 1 -1 1 -1 1 -0.9 1 -0.9 1 -0.9 1 -0.8 1 -0.7 1 -0.7 1 -0.6 1 -0.6 1 -0.5 1 -0.3 1 -0.3 1 -0.2 1 -0.1 1 0.1 1 0.1 1 0.3 1 0.5 1 0.6 1 0.6 1 0.8 1 0.7 1 0.8 1 0.9 1 0.8 1 0.8 1 0.7 1 0.6 1 0.6 1 0.4 1 0.3 1 0 1 -0.2 1 -0.6 1 -1.1 1 -1.5 1 -1.9 1 -2.2 1 -2.5 1 -2.6 1 -2.8 1 -2.8 1 -2.9 1 -2.8 1 -2.7 1 -2.6 1 -2.4 1 -2.4 1 -2.5 1 -2.8 1 -2.9 1 -3 1 -3 1 -3 1 -3 1 -2.8 1 -2.8 1 -2.5 1 -2.3 1 -2.1 1 -1.7 1 -1.4 1 -0.9 1 -0.5 1 -0.1 1 0.2 1 0.5 1 0.7 1 1 1 1.1 1 1.2 1 1.4 1 1.4 1 1.5 1 1.6 1 1.5 1 1.4 1 1.4 1 1.3 1 1.2 1 1 1 0.8 1 0.9 1 0.8 1 0.9 1 0.7 1 0.8 1 0.8 1 0.7 1 0.6 1 0.7 1 0.6 1 0.6 1 0.6 1 0.5 1 0.6 1 0.5 1 0.6 1 0.6 1 0.6 1 0.6 1 0.7 1 0.8 1 1 1 1.2 1 1.5 1 1.6 1 1.8 1 1.9 1 1.9 1 2 1 2 1 1.9 1 1.9 1 1.8 1 1.9 1 1.8 1 1.9 1 1.9 1 1.9 1 1.9 1 1.8 1 1.9 1 1.8 1 1.9 1 1.8 1 1.8 1 1.8 1 1.7 1 1.5 1 1.5 1 1.4 1 1.5 1 1.4 1 1.4 1 1.3 1 1.2 1 1.2 1 1 1 0.8 1 0.6 1 0.5 1 0.2 1 -0 1 -0.1 1 -0.1 1 -0.2 1 -0.2 1 -0.3 1 -0.3 1 -0.3 1 -0.3 1 -0.4 1 -0.4 1 -0.4 1 -0.4 1 -0.5 1 -0.4 1 -0.5 1 -0.7 1 -0.8 1 -0.9 1 -1.3 1 -1.6 1 -1.9 1 -2.1 1 -2.2 1 -2.2 1 -2.3 1 -2.2 1 -2 1 -1.8 1 -1.7 1 -1.7 1 -1.6 1 -1.5 1 -1.5 1 -1.7 1 -1.8 1 -2 1 -2.1 1 -2.1 1 -2.2 1 -2.3 1 -2.4 1 -2.4 1 -2.3 1 -2 1 -1.8 1 -1.4 1 -0.9 1 -0.3 1 0.2 1 0.5 1 0.9 1 1 1 1.3 1 1.3 1 1.5 1 1.5 1 1.6 1 1.5 1 1.4 1 1.2 1 1.2 1 1.3 1 1.3 1 1.4 1 1.2 1 1.2 1 1 1 1 1 0.8 1 0.7 1 0.5 1 0.3 1 0.1 1 0.1 1 0.2 1 0.1 1 0.2 1 0.1 1 0.1 1 0 1 0 1 -0.1 1 -0.1 1 -0.1 1 -0.2 1 -0.2 1 -0.2 1 -0.2 1 -0.2 1 -0.1 1 -0.1 1 -0 1 0 1 0.1 1 0.1 1 0.1 1 0.2 1 0.2 1 0.2 1 0.2 1 0.2 1 0.3 1 0.3 1 0.4 1 0.3 1 0.3 1 0.1 1 -0.3 1 -1 1 -2.7 1 -4.6 1 -5.9 1 -6.5 1 -6.7 1 -6.2 1 -5.1 1 -3.8 1 -3 1 -3 1 -2.9 1 -2.8 1 -2.5 1 -2.1 1 -1.8 1 -1.2 1 -0.7 1 -0.1 1 0.6 1 1.1 1 1.6 1 2.1 1 2.3 1 2.7 1 2.9 1 3 1 3.2 1 3.2 1 3.2 1 3.6 1 4.4 1 4.9 1 5.5 1 5.9 1 6.2 1 6.3 1 6.3 1 7.2 1 9.2 1 8.4 1 4.9 1 0.4 1 -0.1 1 -0.1 1 -0.2 1 -0.3 1 -0.2 1 -0.1 1 0 1 0.1 1 0.2 1 0.2 1 0.2 1 0.3 1 0.2 1 0.3 1 0.3 1 0.2 1 0.3 1 0.2 1 0.2 1 0.2 1 0.1 1 0.1 1 0.1 1 -0 1 -0 1 -0 1 -0.1 1 0 1 -0 1 -0 1 -0 1 0 1 0.1 1 0.2 1 0.2 1 0.4 1 0.5 1 0.7 1 0.8 1 0.8 1 0.8 1 0.8 1 0.7 1 0.7 1 0.5 1 0.4 1 0.2 1 -0 1 -0.2 1 -0.4 1 -0.4 1 -0.6 1 -0.7 1 -0.7 1 -0.8 1 -0.9 1 -0.8 1 -0.8 1 -0.9 1 -0.8 1 -1 1 -1 1 -1 1 -1.1 1 -1.1 1 -1 1 -1 1 -0.9 1 -0.9 1 -0.8 1 -0.7 1 -0.6 1 -0.6 1 -0.3 1 -0.3 1 -0.2 1 -0.1 1 -0.1 1 -0.2 1 -0.1 1 -0.1 1 -0.2 1 -0.3 1 -0.6 1 -1.1 1 -1.5 1 -1.9 1 -2 1 -2.3 1 -2.3 1 -2.3 1 -2.3 1 -2.5 1 -2.8 1 -3.2 1 -3.3 1 -3.2 1 -3.1 1 -2.6 1 -2.2 1 -1.4 1 -0.8 1 -0.3 1 0.1 1 0.3 1 0.6 1 0.8 1 1 1 1.1 1 1.2 1 1.3 1 1.3 1 1.4 1 1.8 1 2.1 1 2.4 1 2.4 1 2.6 1 2.4 1 2.4 1 2.2 1 1.9 1 1.5 1 1.1 1 0.7 1 0.5 1 0.5 1 0.5 1 0.4 1 0.5 1 0.5 1 0.5 1 0.5 1 0.6 1 0.7 1 1 1 1.2 1 1.4 1 1.5 1 1.6 1 1.6 1 1.7 1 1.6 1 1.6 1 1.7 1 1.7 1 1.8 1 1.8 1 1.7 1 1.7 1 1.5 1 1.3 1 1.1 1 0.9 1 0.5 1 0.3 1 -0.1 1 -0.2 1 -0.3 1 -0.5 1 -0.6 1 -0.7 1 -0.7 1 -0.8 1 -0.8 1 -0.8 1 -0.8 1 -0.8 1 -0.7 0.5 -0.3" stroke="#808080" stroke-width="1.1" fill="none" stroke-linejoin="round"/>
<path d="M1490.5 1009.0l1 0.2 1 0.3 1 0.3 1 0.2 1 0.3 1 0.3 1 0.3 1 0.4 1 0.3 1 0.3 1 0.4 1 0.4 1 0.4 1 0.5 1 0.4 1 0.4 1 0.1 1 -0.3 1 -0.6 1 -0.9 1 -1.2 1 -1.3 1 -1.5 1 -1.5 1 -1.5 1 -1.4 1 -1.2 1 -1.4 1 -1.3 1 -1.5 1 -1.5 1 -1.6 1 -1.6 1 -1.5 1 -1.6 1 -1.5 1 -1.5 1 -1.4 1 -1.2 1 -1.2 1 -1.1 1 -0.8 1 -0.8 1 -0.9 1 -0.8 1 -0.8 1 -0.8 1 -0.9 1 -0.9 1 -0.9 1 -0.9 1 -0.9 1 -0.9 1 -0.8 1 -0.7 1 -0.6 1 -0.5 1 -0.4 1 -0.4 1 -0.2 1 -0.2 1 -0.1 1 0 1 0.1 1 0.3 1 0.3 1 0.4 1 0.6 1 0.8 1 1.1 1 1.1 1 1.3 1 1.4 1 1.5 1 1.5 1 1.4 1 1.5 1 1.3 1 1.3 1 1.2 1 1.2 1 1.3 1 1.3 1 1.2 1 1.1 1 0.8 1 0.6 1 0.4 1 0.2 1 -0.1 1 -0.4 1 -0.7 1 -0.8 1 -1.1 1 -1.2 1 -1.3 1 -1.5 1 -1.6 1 -1.6 1 -1.7 1 -1.8 1 -2.1 1 -2.7 1 -3.2 1 -3.6 1 -3.9 1 -4.1 1 -4.2 1 -4.2 1 -4.2 1 -4 1 -3.8 1 -3.3 1 -3.1 1 -3.1 1 -3.2 1 -3.2 1 -3.2 1 -3 1 -2.9 1 -2.8 1 -2.4 1 -2.2 1 -1.8 1 -1.4 1 -1 1 -0.4 1 0 1 0.4 1 0.7 1 1 1 1.1 1 1.4 1 1.5 1 1.7 1 1.7 1 1.9 1 1.8 1 2.2 1 3 1 3.5 1 3.9 1 3.8 1 3.5 1 3.1 1 2.5 1 1.9 1 1.1 1 0.9 1 0.9 1 0.8 1 0.8 1 0.7 1 0.8 1 0.7 1 0.8 1 0.8 1 0.8 1 0.8 1 0.7 1 0.6 1 0.6 1 0.6 1 0.6 1 0.6 1 0.5 1 0.5 1 0.5 1 0.6 1 0.6 1 0.6 1 0.7 1 0.7 1 0.7 1 0.8 1 0.7 1 0.8 1 0.7 1 0.8 1 0.7 1 0.7 1 0.6 1 0.6 1 0.6 1 0.5 1 0.5 1 0.3 1 0.2 1 0 1 -0 1 -0.2 1 -0.2 1 -0.2 1 -0.3 1 -0.2 1 -0.3 1 -0.3 1 -0.2 1 -0.2 1 -0.1 1 -0.2 1 -0.2 1 -0.2 1 -0.4 1 -0.5 1 -0.5 1 -0.6 1 -0.8 1 -0.8 1 -0.9 1 -0.9 1 -0.9 1 -1 1 -0.9 1 -0.9 1 -0.8 1 -0.8 1 -0.7 1 -0.6 1 -0.6 1 -0.6 1 -0.4 1 -0.4 1 -0.3 1 -0.3 1 -0.1 1 -0.1 1 -0 1 0 1 0.2 1 0.3 1 0.3 1 0.5 1 0.5 1 0.6 1 0.7 1 0.6 1 0.7 1 0.7 1 0.6 1 0.6 1 0.5 1 0.5 1 0.4 1 0.3 1 0.1 1 -0.1 1 -0.3 1 -0.7 1 -1.2 1 -1.6 1 -2 1 -2.2 1 -2.5 1 -2.7 1 -2.7 1 -2.9 1 -2.9 1 -2.8 1 -2.7 1 -2.6 1 -2.3 1 -2.4 1 -2.6 1 -2.7 1 -2.9 1 -2.9 1 -3 1 -3 1 -3 1 -2.8 1 -2.8 1 -2.5 1 -2.3 1 -2.1 1 -1.7 1 -1.4 1 -1 1 -0.6 1 -0.1 1 0.2 1 0.4 1 0.7 1 1 1 1.1 1 1.3 1 1.3 1 1.5 1 1.6 1 1.5 1 1.6 1 1.5 1 1.5 1 1.3 1 1.2 1 1.1 1 1 1 0.9 1 0.9 1 0.9 1 0.8 1 0.9 1 0.8 1 0.8 1 0.8 1 0.7 1 0.7 1 0.7 1 0.7 1 0.7 1 0.6 1 0.7 1 0.7 1 0.7 1 0.7 1 0.8 1 0.9 1 0.9 1 1.1 1 1.3 1 1.5 1 1.6 1 1.8 1 1.9 1 1.9 1 2 1 2 1 1.9 1 1.9 1 1.8 1 1.9 1 1.9 1 1.9 1 1.9 1 1.9 1 1.9 1 1.8 1 1.9 1 1.8 1 1.9 1 1.8 1 1.8 1 1.7 1 1.6 1 1.6 1 1.5 1 1.5 1 1.4 1 1.5 1 1.4 1 1.3 1 1.2 1 1.1 1 1 1 0.8 1 0.6 1 0.5 1 0.1 1 0 1 -0.1 1 -0.2 1 -0.2 1 -0.3 1 -0.3 1 -0.4 1 -0.4 1 -0.4 1 -0.5 1 -0.5 1 -0.5 1 -0.5 1 -0.6 1 -0.6 1 -0.6 1 -0.9 1 -1 1 -1.2 1 -1.5 1 -1.9 1 -2.1 1 -2.3 1 -2.4 1 -2.5 1 -2.6 1 -2.4 1 -2.4 1 -2.2 1 -2.1 1 -2 1 -1.9 1 -1.9 1 -1.9 1 -2.1 1 -2.3 1 -2.5 1 -2.6 1 -2.7 1 -2.7 1 -2.8 1 -2.8 1 -2.7 1 -2.6 1 -2.3 1 -1.9 1 -1.5 1 -0.9 1 -0.3 1 0.4 1 0.8 1 1.1 1 1.4 1 1.7 1 1.8 1 2 1 2 1 2 1 2 1 1.9 1 1.7 1 1.6 1 1.7 1 1.8 1 1.8 1 1.8 1 1.6 1 1.6 1 1.5 1 1.3 1 1.1 1 0.9 1 0.6 1 0.5 1 0.3 1 0.4 1 0.4 1 0.4 1 0.3 1 0.3 1 0.2 1 0.1 1 0.1 1 0 1 -0 1 -0.1 1 -0.2 1 -0.1 1 -0.2 1 -0.1 1 -0.1 1 -0 1 -0 1 0 1 0.1 1 0.1 1 0.2 1 0.2 1 0.3 1 0.3 1 0.2 1 0.3 1 0.4 1 0.4 1 0.3 1 0.4 1 0.2 1 0.2 1 -0.5 1 -1.3 1 -3 1 -4.6 1 -5.9 1 -6.4 1 -6.5 1 -5.9 1 -4.9 1 -3.6 1 -3 1 -2.9 1 -2.8 1 -2.7 1 -2.4 1 -2.1 1 -1.7 1 -1.2 1 -0.7 1 0 1 0.7 1 1.2 1 1.7 1 2.1 1 2.5 1 2.8 1 3.1 1 3.1 1 3.3 1 3.4 1 3.3 1 3.7 1 4.6 1 5.2 1 5.7 1 6.1 1 6.3 1 6.4 1 6.4 1 7 1 8.4 1 7.7 1 4.4 1 0.5 1 -0 1 -0.1 1 -0.2 1 -0.1 1 -0.2 1 -0 1 0 1 0.1 1 0.2 1 0.2 1 0.2 1 0.2 1 0.3 1 0.2 1 0.3 1 0.2 1 0.3 1 0.2 1 0.2 1 0.2 1 0.1 1 0.2 1 0.1 1 0 1 0.1 1 0 1 0.1 1 0 1 0.1 1 0.1 1 0.1 1 0.1 1 0.1 1 0.2 1 0.3 1 0.4 1 0.6 1 0.6 1 0.7 1 0.8 1 0.7 1 0.8 1 0.6 1 0.6 1 0.5 1 0.4 1 0.1 1 0 1 -0.2 1 -0.3 1 -0.5 1 -0.6 1 -0.7 1 -0.7 1 -0.9 1 -0.8 1 -0.9 1 -0.8 1 -0.9 1 -0.9 1 -1 1 -1 1 -1.1 1 -1 1 -1.1 1 -1 1 -1 1 -0.9 1 -0.9 1 -0.8 1 -0.7 1 -0.6 1 -0.5 1 -0.4 1 -0.3 1 -0.2 1 -0.3 1 -0.2 1 -0.2 1 -0.3 1 -0.3 1 -0.3 1 -0.4 1 -1 1 -1.5 1 -2.1 1 -2.5 1 -2.7 1 -3 1 -3.1 1 -3 1 -2.9 1 -3.1 1 -3.6 1 -3.9 1 -4.1 1 -4 1 -3.7 1 -3.2 1 -2.5 1 -1.6 1 -0.6 1 -0.1 1 0.4 1 0.7 1 1.1 1 1.4 1 1.5 1 1.7 1 1.8 1 1.9 1 1.8 1 1.9 1 2.4 1 2.8 1 3 1 3.2 1 3.3 1 3.2 1 3 1 2.8 1 2.3 1 2 1 1.3 1 0.7 1 0.5 1 0.5 1 0.5 1 0.5 1 0.4 1 0.5 1 0.4 1 0.5 1 0.6 1 0.7 1 0.9 1 1.2 1 1.3 1 1.5 1 1.6 1 1.7 1 1.7 1 1.7 1 1.7 1 1.8 1 1.8 1 1.8 1 1.8 1 1.8 1 1.6 1 1.5 1 1.4 1 1.1 1 0.8 1 0.5 1 0.3 1 -0.1 1 -0.2 1 -0.3 1 -0.5 1 -0.5 1 -0.7 1 -0.7 1 -0.7 1 -0.8 1 -0.7 1 -0.8 1 -0.7 1 -0.6 0.5 -0.3" stroke="#C0C0C0" stroke-width="1.1" fill="none" stroke-linejoin="round"/>
<path d="M1490.5 1007.3l1 0.2 1 0.2 1 0.3 1 0.3 1 0.3 1 0.3 1 0.3 1 0.3 1 0.3 1 0.3 1 0.3 1 0.3 1 0.4 1 0.3 1 0.3 1 0.3 1 -0.2 1 -0.7 1 -1.2 1 -1.6 1 -1.9 1 -2.1 1 -2.3 1 -2.3 1 -2.3 1 -2.2 1 -1.9 1 -2 1 -2.2 1 -2.2 1 -2.3 1 -2.4 1 -2.3 1 -2.4 1 -2.3 1 -2.3 1 -2.2 1 -2.1 1 -1.9 1 -1.7 1 -1.6 1 -1.3 1 -1.2 1 -1.2 1 -1.2 1 -1.2 1 -1.2 1 -1.1 1 -1.2 1 -1.1 1 -1.1 1 -1 1 -0.9 1 -0.8 1 -0.6 1 -0.5 1 -0.3 1 -0.2 1 -0.2 1 0 1 0.1 1 0.2 1 0.3 1 0.4 1 0.5 1 0.5 1 0.6 1 0.9 1 1.1 1 1.4 1 1.6 1 1.7 1 1.8 1 1.9 1 2 1 1.9 1 1.9 1 1.7 1 1.7 1 1.6 1 1.6 1 1.8 1 1.7 1 1.8 1 1.5 1 1.4 1 1 1 0.8 1 0.5 1 0.1 1 -0.3 1 -0.6 1 -0.9 1 -1.1 1 -1.2 1 -1.5 1 -1.6 1 -1.8 1 -1.8 1 -2 1 -2 1 -2.5 1 -3.3 1 -4.1 1 -4.7 1 -5.1 1 -5.4 1 -5.7 1 -5.8 1 -5.7 1 -5.5 1 -5.2 1 -4.8 1 -4.4 1 -4.6 1 -4.8 1 -5 1 -5 1 -4.9 1 -4.7 1 -4.5 1 -4.1 1 -3.6 1 -3 1 -2.4 1 -1.6 1 -0.8 1 0.1 1 0.6 1 0.9 1 1.4 1 1.6 1 2 1 2.2 1 2.3 1 2.6 1 2.6 1 2.6 1 3.1 1 4.3 1 5.1 1 5.6 1 5.7 1 5.5 1 5.1 1 4.5 1 3.5 1 2.6 1 2.4 1 2.3 1 2.1 1 2 1 1.9 1 1.7 1 1.6 1 1.4 1 1.2 1 1.2 1 1 1 1 1 0.8 1 0.9 1 0.7 1 0.8 1 0.7 1 0.7 1 0.6 1 0.6 1 0.7 1 0.7 1 0.8 1 0.7 1 0.8 1 0.8 1 0.8 1 0.8 1 0.8 1 0.8 1 0.8 1 0.7 1 0.7 1 0.6 1 0.6 1 0.5 1 0.4 1 0.3 1 0.2 1 -0 1 -0.3 1 -0.4 1 -0.6 1 -0.7 1 -0.8 1 -0.8 1 -0.8 1 -0.8 1 -0.8 1 -0.8 1 -0.6 1 -0.6 1 -0.5 1 -0.6 1 -0.6 1 -0.7 1 -0.8 1 -0.8 1 -0.9 1 -0.9 1 -1 1 -1 1 -0.9 1 -0.9 1 -0.9 1 -0.8 1 -0.7 1 -0.6 1 -0.4 1 -0.4 1 -0.3 1 -0.2 1 -0.1 1 -0.1 1 0 1 0.1 1 0.2 1 0.2 1 0.2 1 0.4 1 0.3 1 0.4 1 0.4 1 0.5 1 0.5 1 0.5 1 0.5 1 0.4 1 0.4 1 0.5 1 0.3 1 0.4 1 0.2 1 0.3 1 0.1 1 0.1 1 -0 1 -0.2 1 -0.2 1 -0.6 1 -0.9 1 -1.4 1 -1.7 1 -2.1 1 -2.3 1 -2.5 1 -2.7 1 -2.8 1 -2.9 1 -2.8 1 -2.8 1 -2.7 1 -2.6 1 -2.3 1 -2.4 1 -2.6 1 -2.7 1 -2.8 1 -2.9 1 -3 1 -3 1 -2.9 1 -2.8 1 -2.7 1 -2.6 1 -2.3 1 -2.1 1 -1.7 1 -1.5 1 -1.1 1 -0.6 1 -0.3 1 0.1 1 0.5 1 0.7 1 0.9 1 1.1 1 1.3 1 1.4 1 1.6 1 1.6 1 1.6 1 1.7 1 1.6 1 1.6 1 1.4 1 1.4 1 1.2 1 1.1 1 1 1 1.1 1 1 1 1 1 0.9 1 1 1 0.9 1 1 1 0.9 1 0.9 1 0.8 1 0.9 1 0.9 1 0.9 1 0.9 1 0.9 1 0.9 1 1 1 1.1 1 1.1 1 1.1 1 1.3 1 1.4 1 1.6 1 1.7 1 1.8 1 1.9 1 1.9 1 1.9 1 1.9 1 1.9 1 1.9 1 1.9 1 1.9 1 1.9 1 2 1 1.9 1 2 1 1.9 1 1.9 1 1.8 1 1.9 1 1.8 1 1.7 1 1.7 1 1.7 1 1.6 1 1.6 1 1.5 1 1.5 1 1.5 1 1.5 1 1.4 1 1.3 1 1.3 1 1.1 1 0.9 1 0.8 1 0.6 1 0.3 1 0.2 1 -0.1 1 -0.2 1 -0.2 1 -0.4 1 -0.3 1 -0.5 1 -0.5 1 -0.5 1 -0.7 1 -0.6 1 -0.7 1 -0.7 1 -0.8 1 -0.7 1 -0.8 1 -1 1 -1.2 1 -1.4 1 -1.6 1 -2 1 -2.2 1 -2.6 1 -2.7 1 -2.9 1 -3 1 -3 1 -3 1 -2.9 1 -2.9 1 -2.7 1 -2.7 1 -2.7 1 -2.5 1 -2.5 1 -2.9 1 -3.1 1 -3.4 1 -3.5 1 -3.6 1 -3.7 1 -3.6 1 -3.6 1 -3.4 1 -3.1 1 -2.8 1 -2.2 1 -1.6 1 -0.9 1 -0.2 1 0.7 1 1.2 1 1.7 1 2.1 1 2.4 1 2.6 1 2.8 1 3 1 2.9 1 2.8 1 2.7 1 2.5 1 2.4 1 2.5 1 2.6 1 2.7 1 2.6 1 2.7 1 2.5 1 2.3 1 2.2 1 1.9 1 1.6 1 1.3 1 0.9 1 0.8 1 0.9 1 0.8 1 0.7 1 0.7 1 0.6 1 0.6 1 0.4 1 0.4 1 0.2 1 0.2 1 0 1 -0 1 -0 1 -0.1 1 -0 1 -0.1 1 0 1 0.1 1 0.1 1 0.1 1 0.1 1 0.3 1 0.3 1 0.4 1 0.4 1 0.4 1 0.4 1 0.4 1 0.5 1 0.4 1 0.3 1 0.3 1 0.1 1 -0.8 1 -1.8 1 -3.4 1 -4.8 1 -5.8 1 -6.1 1 -6.1 1 -5.6 1 -4.4 1 -3.3 1 -2.8 1 -2.8 1 -2.8 1 -2.5 1 -2.3 1 -2 1 -1.5 1 -1.2 1 -0.6 1 0.1 1 0.7 1 1.4 1 1.9 1 2.4 1 2.7 1 3.1 1 3.3 1 3.4 1 3.5 1 3.6 1 3.5 1 4 1 5 1 5.6 1 6.1 1 6.5 1 6.6 1 6.6 1 6.4 1 6.5 1 7.3 1 6.3 1 3.6 1 0.4 1 0.1 1 0.1 1 -0 1 -0 1 -0.1 1 0.1 1 0.1 1 0.1 1 0.1 1 0.2 1 0.2 1 0.2 1 0.2 1 0.2 1 0.3 1 0.2 1 0.2 1 0.2 1 0.2 1 0.2 1 0.2 1 0.2 1 0.2 1 0.1 1 0.2 1 0.2 1 0.2 1 0.2 1 0.2 1 0.2 1 0.2 1 0.3 1 0.3 1 0.3 1 0.3 1 0.5 1 0.5 1 0.6 1 0.6 1 0.7 1 0.6 1 0.6 1 0.6 1 0.5 1 0.4 1 0.2 1 0.2 1 -0.1 1 -0.2 1 -0.3 1 -0.5 1 -0.6 1 -0.7 1 -0.8 1 -0.8 1 -0.9 1 -0.9 1 -0.9 1 -1 1 -1 1 -1 1 -1 1 -1.1 1 -1.1 1 -1 1 -1 1 -1 1 -0.9 1 -0.8 1 -0.7 1 -0.7 1 -0.6 1 -0.5 1 -0.5 1 -0.4 1 -0.3 1 -0.4 1 -0.4 1 -0.4 1 -0.5 1 -0.6 1 -0.6 1 -0.8 1 -1.4 1 -2.4 1 -3.1 1 -3.6 1 -4 1 -4.3 1 -4.4 1 -4.3 1 -4 1 -4.2 1 -4.9 1 -5.4 1 -5.5 1 -5.3 1 -4.9 1 -4.2 1 -3.1 1 -1.8 1 -0.5 1 0.4 1 1 1 1.5 1 1.9 1 2.3 1 2.6 1 2.7 1 2.9 1 2.8 1 2.8 1 2.8 1 3.5 1 4 1 4.3 1 4.6 1 4.5 1 4.5 1 4.2 1 3.8 1 3.3 1 2.6 1 1.7 1 0.8 1 0.6 1 0.5 1 0.5 1 0.4 1 0.4 1 0.4 1 0.4 1 0.5 1 0.5 1 0.6 1 0.9 1 1.1 1 1.3 1 1.5 1 1.6 1 1.7 1 1.8 1 1.9 1 1.8 1 1.9 1 1.9 1 1.9 1 1.9 1 1.8 1 1.6 1 1.6 1 1.3 1 1.1 1 0.8 1 0.5 1 0.2 1 -0.1 1 -0.2 1 -0.3 1 -0.4 1 -0.5 1 -0.6 1 -0.6 1 -0.6 1 -0.7 1 -0.6 1 -0.7 1 -0.6 1 -0.6 0.5 -0.2" stroke="#0000FF" stroke-width="1.1" fill="none" stroke-linejoin="round"/>
<path d="M1490.5 1007.1l1 0.2 1 0.2 1 0.3 1 0.3 1 0.3 1 0.3 1 0.2 1 0.3 1 0.3 1 0.3 1 0.4 1 0.3 1 0.3 1 0.3 1 0.3 1 0.3 1 -0.2 1 -0.8 1 -1.3 1 -1.7 1 -2 1 -2.2 1 -2.4 1 -2.4 1 -2.5 1 -2.2 1 -2.1 1 -2.1 1 -2.2 1 -2.3 1 -2.4 1 -2.5 1 -2.5 1 -2.5 1 -2.4 1 -2.4 1 -2.3 1 -2.1 1 -2.1 1 -1.8 1 -1.6 1 -1.4 1 -1.2 1 -1.3 1 -1.3 1 -1.2 1 -1.2 1 -1.2 1 -1.2 1 -1.2 1 -1.1 1 -1 1 -0.9 1 -0.8 1 -0.6 1 -0.5 1 -0.3 1 -0.2 1 -0 1 0 1 0.1 1 0.3 1 0.3 1 0.4 1 0.5 1 0.6 1 0.7 1 0.8 1 1.2 1 1.4 1 1.6 1 1.8 1 1.9 1 2 1 2 1 2 1 1.9 1 1.9 1 1.7 1 1.6 1 1.7 1 1.8 1 1.9 1 1.7 1 1.7 1 1.4 1 1.1 1 0.9 1 0.5 1 0.1 1 -0.3 1 -0.6 1 -0.9 1 -1 1 -1.3 1 -1.5 1 -1.6 1 -1.8 1 -1.9 1 -2 1 -2 1 -2.6 1 -3.4 1 -4.2 1 -4.8 1 -5.3 1 -5.7 1 -5.8 1 -6 1 -5.9 1 -5.7 1 -5.5 1 -4.9 1 -4.6 1 -4.8 1 -5.1 1 -5.2 1 -5.3 1 -5.1 1 -5 1 -4.7 1 -4.3 1 -3.8 1 -3.2 1 -2.6 1 -1.7 1 -0.8 1 0.1 1 0.6 1 1 1 1.4 1 1.7 1 2.1 1 2.3 1 2.4 1 2.6 1 2.8 1 2.7 1 3.3 1 4.4 1 5.3 1 5.8 1 6 1 5.8 1 5.4 1 4.7 1 3.8 1 2.8 1 2.6 1 2.5 1 2.3 1 2.2 1 2 1 1.9 1 1.7 1 1.4 1 1.3 1 1.2 1 1.1 1 1 1 0.9 1 0.8 1 0.9 1 0.7 1 0.7 1 0.7 1 0.7 1 0.7 1 0.6 1 0.7 1 0.8 1 0.8 1 0.8 1 0.8 1 0.8 1 0.8 1 0.9 1 0.7 1 0.8 1 0.7 1 0.7 1 0.6 1 0.6 1 0.5 1 0.4 1 0.3 1 0.2 1 -0.1 1 -0.3 1 -0.5 1 -0.7 1 -0.7 1 -0.8 1 -0.9 1 -1 1 -0.9 1 -0.8 1 -0.9 1 -0.7 1 -0.6 1 -0.5 1 -0.7 1 -0.7 1 -0.7 1 -0.8 1 -0.9 1 -0.9 1 -1 1 -0.9 1 -1 1 -1 1 -0.9 1 -0.8 1 -0.8 1 -0.7 1 -0.5 1 -0.5 1 -0.3 1 -0.2 1 -0.2 1 -0.1 1 0 1 0.1 1 0.2 1 0.2 1 0.2 1 0.3 1 0.4 1 0.4 1 0.4 1 0.5 1 0.4 1 0.5 1 0.5 1 0.5 1 0.4 1 0.4 1 0.4 1 0.3 1 0.3 1 0.3 1 0.1 1 0.1 1 0.1 1 -0.1 1 -0.1 1 -0.3 1 -0.6 1 -1 1 -1.4 1 -1.8 1 -2 1 -2.4 1 -2.5 1 -2.7 1 -2.8 1 -2.8 1 -2.9 1 -2.8 1 -2.7 1 -2.5 1 -2.4 1 -2.4 1 -2.5 1 -2.7 1 -2.9 1 -2.9 1 -2.9 1 -3 1 -2.9 1 -2.8 1 -2.7 1 -2.6 1 -2.3 1 -2.1 1 -1.8 1 -1.4 1 -1.1 1 -0.7 1 -0.2 1 0.1 1 0.4 1 0.7 1 0.9 1 1.1 1 1.3 1 1.4 1 1.6 1 1.6 1 1.7 1 1.6 1 1.7 1 1.6 1 1.4 1 1.4 1 1.2 1 1.1 1 1.1 1 1 1 1.1 1 1 1 1 1 0.9 1 1 1 1 1 0.9 1 0.9 1 0.9 1 0.9 1 0.9 1 0.9 1 1 1 0.9 1 1 1 1 1 1.1 1 1.1 1 1.2 1 1.3 1 1.5 1 1.6 1 1.7 1 1.8 1 1.8 1 1.9 1 1.9 1 2 1 1.9 1 1.9 1 1.8 1 1.9 1 2 1 1.9 1 2 1 1.9 1 2 1 1.9 1 1.8 1 1.8 1 1.9 1 1.7 1 1.7 1 1.6 1 1.7 1 1.6 1 1.5 1 1.5 1 1.5 1 1.5 1 1.4 1 1.3 1 1.2 1 1.1 1 1 1 0.8 1 0.5 1 0.4 1 0.1 1 -0.1 1 -0.2 1 -0.2 1 -0.3 1 -0.4 1 -0.5 1 -0.5 1 -0.6 1 -0.7 1 -0.6 1 -0.7 1 -0.8 1 -0.8 1 -0.8 1 -0.8 1 -1 1 -1.2 1 -1.5 1 -1.7 1 -2 1 -2.3 1 -2.6 1 -2.8 1 -3 1 -3 1 -3.1 1 -3.1 1 -3 1 -2.9 1 -2.9 1 -2.8 1 -2.7 1 -2.6 1 -2.6 1 -3 1 -3.2 1 -3.5 1 -3.7 1 -3.7 1 -3.8 1 -3.8 1 -3.7 1 -3.5 1 -3.2 1 -2.8 1 -2.2 1 -1.7 1 -0.9 1 -0.1 1 0.7 1 1.2 1 1.8 1 2.2 1 2.5 1 2.8 1 2.9 1 3 1 3.1 1 3 1 2.8 1 2.6 1 2.4 1 2.6 1 2.8 1 2.8 1 2.8 1 2.7 1 2.7 1 2.4 1 2.3 1 2 1 1.7 1 1.4 1 1 1 0.9 1 0.9 1 0.8 1 0.9 1 0.7 1 0.7 1 0.5 1 0.5 1 0.4 1 0.3 1 0.2 1 0.1 1 -0 1 -0.1 1 -0 1 -0 1 -0 1 -0 1 0 1 0.1 1 0.1 1 0.2 1 0.2 1 0.4 1 0.3 1 0.5 1 0.4 1 0.4 1 0.5 1 0.4 1 0.4 1 0.4 1 0.2 1 0.1 1 -0.8 1 -1.9 1 -3.4 1 -4.8 1 -5.8 1 -6.1 1 -6.1 1 -5.5 1 -4.3 1 -3.2 1 -2.9 1 -2.8 1 -2.7 1 -2.5 1 -2.3 1 -1.9 1 -1.6 1 -1.1 1 -0.6 1 0.1 1 0.7 1 1.4 1 1.9 1 2.4 1 2.8 1 3.1 1 3.3 1 3.5 1 3.6 1 3.6 1 3.5 1 4.1 1 5 1 5.6 1 6.2 1 6.5 1 6.7 1 6.6 1 6.4 1 6.5 1 7.1 1 6.1 1 3.5 1 0.4 1 0.1 1 0.1 1 0 1 0 1 0 1 0.1 1 0.1 1 0.1 1 0.2 1 0.1 1 0.2 1 0.2 1 0.2 1 0.2 1 0.2 1 0.3 1 0.2 1 0.2 1 0.2 1 0.2 1 0.2 1 0.2 1 0.2 1 0.2 1 0.1 1 0.2 1 0.2 1 0.3 1 0.2 1 0.2 1 0.3 1 0.3 1 0.3 1 0.3 1 0.3 1 0.5 1 0.5 1 0.6 1 0.6 1 0.7 1 0.6 1 0.6 1 0.5 1 0.5 1 0.4 1 0.2 1 0.2 1 -0.1 1 -0.2 1 -0.3 1 -0.5 1 -0.6 1 -0.7 1 -0.8 1 -0.8 1 -0.9 1 -1 1 -0.9 1 -0.9 1 -1 1 -1.1 1 -1 1 -1.1 1 -1 1 -1.1 1 -1 1 -0.9 1 -0.9 1 -0.8 1 -0.8 1 -0.6 1 -0.6 1 -0.6 1 -0.4 1 -0.4 1 -0.4 1 -0.4 1 -0.4 1 -0.5 1 -0.5 1 -0.6 1 -0.7 1 -0.8 1 -1.5 1 -2.5 1 -3.2 1 -3.8 1 -4.2 1 -4.5 1 -4.5 1 -4.5 1 -4.2 1 -4.3 1 -5.1 1 -5.6 1 -5.7 1 -5.5 1 -5.1 1 -4.3 1 -3.2 1 -1.9 1 -0.4 1 0.5 1 1 1 1.6 1 2.1 1 2.4 1 2.7 1 2.9 1 3 1 3 1 2.9 1 3 1 3.6 1 4.2 1 4.5 1 4.7 1 4.7 1 4.7 1 4.4 1 3.9 1 3.4 1 2.7 1 1.8 1 0.8 1 0.6 1 0.5 1 0.5 1 0.4 1 0.4 1 0.4 1 0.4 1 0.4 1 0.5 1 0.7 1 0.8 1 1.1 1 1.3 1 1.5 1 1.6 1 1.8 1 1.8 1 1.8 1 1.8 1 1.9 1 2 1 1.9 1 1.9 1 1.8 1 1.7 1 1.5 1 1.3 1 1.1 1 0.8 1 0.5 1 0.2 1 -0.1 1 -0.2 1 -0.3 1 -0.4 1 -0.5 1 -0.5 1 -0.6 1 -0.6 1 -0.7 1 -0.6 1 -0.7 1 -0.6 1 -0.5 0.5 -0.3" stroke="#00FFFF" stroke-width="1.1" fill="none" stroke-linejoin="round"/>
<path d="M1490.5 1006.2l1 0.2 1 0.2 1 0.3 1 0.3 1 0.2 1 0.3 1 0.3 1 0.3 1 0.3 1 0.3 1 0.2 1 0.3 1 0.3 1 0.3 1 0.2 1 0.2 1 -0.3 1 -1 1 -1.6 1 -2.1 1 -2.4 1 -2.6 1 -2.8 1 -2.9 1 -2.9 1 -2.6 1 -2.4 1 -2.5 1 -2.6 1 -2.7 1 -2.9 1 -2.9 1 -2.9 1 -2.9 1 -2.8 1 -2.8 1 -2.7 1 -2.5 1 -2.3 1 -2.2 1 -1.9 1 -1.6 1 -1.5 1 -1.4 1 -1.5 1 -1.4 1 -1.4 1 -1.4 1 -1.3 1 -1.3 1 -1.2 1 -1 1 -1 1 -0.7 1 -0.6 1 -0.4 1 -0.2 1 -0.1 1 0.1 1 0.1 1 0.3 1 0.4 1 0.4 1 0.6 1 0.6 1 0.7 1 0.8 1 1 1 1.4 1 1.6 1 1.8 1 2 1 2.1 1 2.2 1 2.3 1 2.2 1 2.2 1 2 1 1.9 1 1.8 1 2 1 2.1 1 2 1 2.1 1 1.9 1 1.6 1 1.4 1 1.1 1 0.7 1 0.2 1 -0.3 1 -0.6 1 -0.8 1 -1.1 1 -1.3 1 -1.6 1 -1.7 1 -1.8 1 -2 1 -2.1 1 -2.2 1 -2.7 1 -3.8 1 -4.7 1 -5.4 1 -5.9 1 -6.4 1 -6.6 1 -6.8 1 -6.7 1 -6.5 1 -6.2 1 -5.7 1 -5.3 1 -5.6 1 -6 1 -6.1 1 -6.2 1 -6.2 1 -5.9 1 -5.6 1 -5.2 1 -4.6 1 -3.8 1 -3.1 1 -2 1 -1 1 0.1 1 0.7 1 1.1 1 1.6 1 2.1 1 2.3 1 2.6 1 2.9 1 3 1 3.1 1 3.2 1 3.7 1 5.1 1 6.1 1 6.8 1 7 1 6.9 1 6.4 1 5.8 1 4.6 1 3.6 1 3.4 1 3.2 1 3 1 2.8 1 2.7 1 2.3 1 2.2 1 1.8 1 1.5 1 1.3 1 1.3 1 1.1 1 1 1 1 1 0.9 1 0.8 1 0.8 1 0.8 1 0.7 1 0.8 1 0.7 1 0.8 1 0.8 1 0.8 1 0.9 1 0.8 1 0.9 1 0.8 1 0.9 1 0.8 1 0.7 1 0.8 1 0.6 1 0.6 1 0.6 1 0.4 1 0.4 1 0.3 1 0 1 -0.2 1 -0.5 1 -0.6 1 -0.9 1 -1 1 -1.1 1 -1.2 1 -1.2 1 -1.2 1 -1.2 1 -1.1 1 -0.9 1 -0.9 1 -0.7 1 -0.8 1 -0.9 1 -1 1 -1 1 -1 1 -1 1 -1.1 1 -1 1 -1 1 -1 1 -0.9 1 -0.8 1 -0.7 1 -0.6 1 -0.4 1 -0.3 1 -0.2 1 -0 1 0 1 0.2 1 0.2 1 0.3 1 0.4 1 0.4 1 0.4 1 0.5 1 0.5 1 0.6 1 0.5 1 0.6 1 0.5 1 0.5 1 0.5 1 0.4 1 0.3 1 0.3 1 0.2 1 0.2 1 0.1 1 0.1 1 0 1 -0 1 -0.2 1 -0.2 1 -0.3 1 -0.4 1 -0.7 1 -1.1 1 -1.5 1 -1.8 1 -2.1 1 -2.4 1 -2.5 1 -2.8 1 -2.8 1 -2.8 1 -2.8 1 -2.8 1 -2.7 1 -2.6 1 -2.3 1 -2.4 1 -2.5 1 -2.8 1 -2.8 1 -2.9 1 -2.9 1 -3 1 -2.9 1 -2.8 1 -2.7 1 -2.5 1 -2.3 1 -2.1 1 -1.8 1 -1.5 1 -1.1 1 -0.7 1 -0.4 1 0.1 1 0.4 1 0.7 1 0.9 1 1.1 1 1.3 1 1.5 1 1.6 1 1.6 1 1.7 1 1.7 1 1.7 1 1.7 1 1.5 1 1.5 1 1.2 1 1.2 1 1.1 1 1.2 1 1.1 1 1 1 1.1 1 1 1 1.1 1 1 1 1 1 1 1 1.1 1 1 1 1 1 1 1 1.1 1 1 1 1.1 1 1.2 1 1.2 1 1.2 1 1.3 1 1.4 1 1.6 1 1.6 1 1.8 1 1.8 1 1.8 1 1.9 1 1.9 1 1.9 1 1.9 1 1.9 1 1.9 1 1.9 1 2 1 1.9 1 2 1 2 1 1.9 1 1.9 1 1.9 1 1.8 1 1.8 1 1.7 1 1.7 1 1.6 1 1.6 1 1.6 1 1.5 1 1.6 1 1.5 1 1.5 1 1.4 1 1.3 1 1.3 1 1.1 1 0.9 1 0.7 1 0.6 1 0.3 1 0.1 1 -0.1 1 -0.2 1 -0.3 1 -0.4 1 -0.4 1 -0.6 1 -0.6 1 -0.6 1 -0.8 1 -0.7 1 -0.8 1 -0.9 1 -0.9 1 -0.9 1 -0.9 1 -1.1 1 -1.5 1 -1.6 1 -2 1 -2.2 1 -2.6 1 -2.8 1 -3 1 -3.2 1 -3.3 1 -3.3 1 -3.4 1 -3.3 1 -3.3 1 -3.2 1 -3.1 1 -3.1 1 -3 1 -3 1 -3.3 1 -3.7 1 -4 1 -4.1 1 -4.3 1 -4.2 1 -4.3 1 -4.1 1 -3.8 1 -3.5 1 -3 1 -2.4 1 -1.8 1 -0.9 1 -0 1 0.8 1 1.5 1 2 1 2.6 1 2.9 1 3.2 1 3.4 1 3.5 1 3.5 1 3.5 1 3.2 1 3 1 2.9 1 3 1 3.1 1 3.3 1 3.3 1 3.2 1 3.1 1 3 1 2.7 1 2.5 1 2.1 1 1.7 1 1.3 1 1.1 1 1.1 1 1.1 1 1 1 0.9 1 0.9 1 0.7 1 0.7 1 0.5 1 0.4 1 0.3 1 0.1 1 0.1 1 0 1 0 1 0.1 1 -0 1 0 1 0.1 1 0.1 1 0.1 1 0.2 1 0.3 1 0.4 1 0.4 1 0.5 1 0.5 1 0.5 1 0.5 1 0.5 1 0.4 1 0.4 1 0.2 1 0.1 1 -0.9 1 -2.2 1 -3.7 1 -4.9 1 -5.7 1 -6 1 -5.9 1 -5.2 1 -4.2 1 -3 1 -2.8 1 -2.7 1 -2.7 1 -2.4 1 -2.2 1 -1.9 1 -1.5 1 -1.1 1 -0.5 1 0 1 0.9 1 1.4 1 2.1 1 2.5 1 2.9 1 3.2 1 3.5 1 3.6 1 3.7 1 3.7 1 3.6 1 4.3 1 5.1 1 5.9 1 6.4 1 6.7 1 6.8 1 6.7 1 6.4 1 6.3 1 6.5 1 5.4 1 3 1 0.4 1 0.2 1 0.2 1 0.1 1 0 1 0.1 1 0.1 1 0.1 1 0.2 1 0.1 1 0.2 1 0.2 1 0.1 1 0.2 1 0.2 1 0.2 1 0.2 1 0.2 1 0.2 1 0.2 1 0.2 1 0.3 1 0.2 1 0.2 1 0.2 1 0.3 1 0.3 1 0.2 1 0.3 1 0.3 1 0.4 1 0.3 1 0.3 1 0.4 1 0.4 1 0.4 1 0.5 1 0.5 1 0.5 1 0.6 1 0.6 1 0.6 1 0.5 1 0.5 1 0.4 1 0.3 1 0.2 1 0.1 1 -0 1 -0.2 1 -0.4 1 -0.5 1 -0.6 1 -0.7 1 -0.7 1 -0.9 1 -0.9 1 -1 1 -0.9 1 -1 1 -1.1 1 -1 1 -1.1 1 -1.1 1 -1 1 -1.1 1 -0.9 1 -1 1 -0.8 1 -0.8 1 -0.7 1 -0.7 1 -0.6 1 -0.5 1 -0.5 1 -0.5 1 -0.4 1 -0.5 1 -0.5 1 -0.6 1 -0.6 1 -0.7 1 -0.9 1 -0.9 1 -1.9 1 -2.9 1 -3.7 1 -4.4 1 -4.9 1 -5.2 1 -5.2 1 -5.1 1 -4.8 1 -4.9 1 -5.8 1 -6.3 1 -6.5 1 -6.2 1 -5.7 1 -4.8 1 -3.6 1 -2 1 -0.3 1 0.7 1 1.3 1 2.1 1 2.5 1 2.9 1 3.3 1 3.4 1 3.6 1 3.5 1 3.4 1 3.4 1 4.2 1 4.8 1 5.2 1 5.4 1 5.5 1 5.3 1 5 1 4.5 1 3.9 1 3 1 2 1 0.9 1 0.6 1 0.5 1 0.5 1 0.4 1 0.3 1 0.4 1 0.4 1 0.4 1 0.5 1 0.6 1 0.8 1 1 1 1.3 1 1.5 1 1.7 1 1.7 1 1.9 1 1.9 1 1.9 1 2 1 1.9 1 2 1 1.9 1 1.9 1 1.7 1 1.5 1 1.3 1 1.1 1 0.8 1 0.5 1 0.1 1 -0.1 1 -0.1 1 -0.3 1 -0.4 1 -0.5 1 -0.5 1 -0.5 1 -0.6 1 -0.6 1 -0.6 1 -0.6 1 -0.5 1 -0.6 0.5 -0.2" stroke="#0000B0" stroke-width="1.1" fill="none" stroke-linejoin="round"/>
<path d="M1490.5 1005.1l1 0.2 1 0.2 1 0.3 1 0.2 1 0.3 1 0.3 1 0.2 1 0.3 1 0.3 1 0.2 1 0.3 1 0.2 1 0.2 1 0.2 1 0.2 1 0.1 1 -0.5 1 -1.3 1 -1.9 1 -2.5 1 -2.9 1 -3.2 1 -3.4 1 -3.4 1 -3.4 1 -3.2 1 -2.8 1 -2.9 1 -3.2 1 -3.2 1 -3.4 1 -3.4 1 -3.4 1 -3.4 1 -3.4 1 -3.3 1 -3.1 1 -3 1 -2.8 1 -2.5 1 -2.3 1 -1.9 1 -1.7 1 -1.7 1 -1.7 1 -1.7 1 -1.7 1 -1.5 1 -1.5 1 -1.4 1 -1.3 1 -1.2 1 -0.9 1 -0.8 1 -0.5 1 -0.3 1 -0.1 1 0 1 0.3 1 0.3 1 0.4 1 0.6 1 0.7 1 0.7 1 0.8 1 0.9 1 0.9 1 1.2 1 1.5 1 1.8 1 2.1 1 2.3 1 2.4 1 2.5 1 2.6 1 2.5 1 2.5 1 2.3 1 2.2 1 2 1 2.3 1 2.3 1 2.4 1 2.4 1 2.2 1 2 1 1.7 1 1.4 1 0.8 1 0.4 1 -0.2 1 -0.6 1 -0.8 1 -1.1 1 -1.4 1 -1.6 1 -1.8 1 -2 1 -2.1 1 -2.3 1 -2.3 1 -3 1 -4.2 1 -5.3 1 -6.1 1 -6.8 1 -7.2 1 -7.6 1 -7.8 1 -7.8 1 -7.5 1 -7.2 1 -6.6 1 -6.2 1 -6.6 1 -7.1 1 -7.3 1 -7.4 1 -7.4 1 -7.1 1 -6.8 1 -6.2 1 -5.6 1 -4.6 1 -3.7 1 -2.5 1 -1.2 1 0.1 1 0.8 1 1.3 1 1.9 1 2.4 1 2.7 1 3 1 3.4 1 3.5 1 3.6 1 3.8 1 4.3 1 5.9 1 7.2 1 7.9 1 8.3 1 8.2 1 7.8 1 7 1 5.8 1 4.6 1 4.3 1 4.1 1 4 1 3.6 1 3.4 1 3 1 2.7 1 2.2 1 1.8 1 1.6 1 1.4 1 1.3 1 1.2 1 1.1 1 1 1 1 1 0.9 1 0.8 1 0.9 1 0.8 1 0.8 1 0.8 1 0.9 1 0.9 1 0.9 1 0.9 1 0.9 1 0.9 1 0.9 1 0.8 1 0.8 1 0.7 1 0.7 1 0.6 1 0.5 1 0.4 1 0.3 1 0.2 1 -0 1 -0.4 1 -0.7 1 -0.9 1 -1.2 1 -1.4 1 -1.4 1 -1.6 1 -1.5 1 -1.6 1 -1.5 1 -1.5 1 -1.2 1 -1.1 1 -1 1 -1.1 1 -1.1 1 -1.2 1 -1.2 1 -1.2 1 -1.2 1 -1.2 1 -1.2 1 -1 1 -1 1 -0.9 1 -0.8 1 -0.6 1 -0.4 1 -0.3 1 -0.1 1 0.1 1 0.2 1 0.3 1 0.4 1 0.5 1 0.6 1 0.6 1 0.7 1 0.7 1 0.7 1 0.7 1 0.8 1 0.7 1 0.6 1 0.6 1 0.5 1 0.5 1 0.3 1 0.2 1 0.1 1 0.1 1 -0 1 -0.1 1 -0.1 1 -0.2 1 -0.3 1 -0.3 1 -0.4 1 -0.5 1 -0.5 1 -0.9 1 -1.2 1 -1.6 1 -2 1 -2.2 1 -2.4 1 -2.6 1 -2.7 1 -2.8 1 -2.8 1 -2.9 1 -2.8 1 -2.7 1 -2.5 1 -2.4 1 -2.3 1 -2.5 1 -2.7 1 -2.8 1 -2.9 1 -2.9 1 -2.9 1 -2.9 1 -2.8 1 -2.7 1 -2.5 1 -2.4 1 -2.1 1 -1.8 1 -1.5 1 -1.2 1 -0.8 1 -0.4 1 0.1 1 0.3 1 0.7 1 0.9 1 1.1 1 1.4 1 1.4 1 1.7 1 1.7 1 1.7 1 1.8 1 1.8 1 1.7 1 1.6 1 1.5 1 1.4 1 1.2 1 1.3 1 1.2 1 1.1 1 1.2 1 1.2 1 1.1 1 1.1 1 1.2 1 1.1 1 1.1 1 1.2 1 1.1 1 1.2 1 1.1 1 1.2 1 1.3 1 1.2 1 1.4 1 1.3 1 1.4 1 1.5 1 1.5 1 1.7 1 1.7 1 1.7 1 1.8 1 1.9 1 1.8 1 1.9 1 1.9 1 1.8 1 1.9 1 2 1 1.9 1 2 1 2 1 2 1 2 1 1.9 1 2 1 1.8 1 1.9 1 1.7 1 1.7 1 1.6 1 1.6 1 1.6 1 1.6 1 1.6 1 1.5 1 1.6 1 1.5 1 1.4 1 1.4 1 1.2 1 1.1 1 0.9 1 0.7 1 0.5 1 0.3 1 0 1 -0.1 1 -0.2 1 -0.4 1 -0.4 1 -0.5 1 -0.7 1 -0.7 1 -0.7 1 -0.9 1 -0.8 1 -1 1 -1 1 -1 1 -1 1 -1.1 1 -1.3 1 -1.7 1 -1.9 1 -2.3 1 -2.5 1 -2.9 1 -3 1 -3.3 1 -3.5 1 -3.6 1 -3.7 1 -3.7 1 -3.7 1 -3.7 1 -3.7 1 -3.6 1 -3.5 1 -3.4 1 -3.4 1 -3.9 1 -4.2 1 -4.6 1 -4.7 1 -4.9 1 -4.9 1 -4.8 1 -4.6 1 -4.3 1 -3.9 1 -3.3 1 -2.6 1 -1.8 1 -0.9 1 0 1 1 1 1.8 1 2.4 1 3 1 3.4 1 3.8 1 3.9 1 4.1 1 4.2 1 4 1 3.8 1 3.5 1 3.3 1 3.6 1 3.7 1 3.9 1 3.9 1 3.8 1 3.7 1 3.6 1 3.3 1 3 1 2.6 1 2.1 1 1.6 1 1.5 1 1.4 1 1.3 1 1.3 1 1.1 1 1.1 1 1 1 0.8 1 0.7 1 0.6 1 0.4 1 0.3 1 0.1 1 0.1 1 0.1 1 0.1 1 0 1 0.1 1 0.1 1 0.1 1 0.2 1 0.2 1 0.3 1 0.5 1 0.5 1 0.5 1 0.6 1 0.6 1 0.6 1 0.5 1 0.5 1 0.3 1 0.3 1 0 1 -1.1 1 -2.6 1 -3.9 1 -5 1 -5.7 1 -5.8 1 -5.7 1 -4.9 1 -3.8 1 -2.9 1 -2.7 1 -2.6 1 -2.6 1 -2.3 1 -2.2 1 -1.8 1 -1.4 1 -1 1 -0.5 1 0.1 1 0.9 1 1.6 1 2.1 1 2.7 1 3 1 3.4 1 3.7 1 3.8 1 3.8 1 3.9 1 3.7 1 4.5 1 5.4 1 6.1 1 6.7 1 6.9 1 7 1 6.9 1 6.4 1 6 1 5.7 1 4.5 1 2.4 1 0.5 1 0.3 1 0.2 1 0.2 1 0.1 1 0.2 1 0.1 1 0.2 1 0.1 1 0.2 1 0.1 1 0.2 1 0.2 1 0.1 1 0.2 1 0.2 1 0.1 1 0.2 1 0.2 1 0.2 1 0.3 1 0.2 1 0.3 1 0.2 1 0.4 1 0.3 1 0.3 1 0.4 1 0.4 1 0.4 1 0.4 1 0.4 1 0.5 1 0.4 1 0.5 1 0.4 1 0.5 1 0.5 1 0.6 1 0.5 1 0.5 1 0.5 1 0.4 1 0.4 1 0.4 1 0.2 1 0.2 1 0.1 1 -0.1 1 -0.2 1 -0.3 1 -0.5 1 -0.6 1 -0.7 1 -0.8 1 -0.9 1 -0.9 1 -1 1 -1 1 -1.1 1 -1 1 -1.1 1 -1.1 1 -1.1 1 -1.1 1 -1 1 -1 1 -0.9 1 -0.8 1 -0.8 1 -0.7 1 -0.6 1 -0.6 1 -0.5 1 -0.6 1 -0.5 1 -0.5 1 -0.6 1 -0.6 1 -0.7 1 -0.8 1 -0.9 1 -1 1 -1.2 1 -2.2 1 -3.4 1 -4.5 1 -5.2 1 -5.7 1 -6 1 -6.1 1 -5.9 1 -5.6 1 -5.7 1 -6.7 1 -7.2 1 -7.4 1 -7.1 1 -6.5 1 -5.4 1 -4 1 -2.2 1 -0.2 1 0.9 1 1.8 1 2.5 1 3.1 1 3.6 1 4 1 4.1 1 4.2 1 4.3 1 4 1 4.1 1 4.9 1 5.5 1 6.1 1 6.2 1 6.4 1 6.2 1 5.8 1 5.2 1 4.5 1 3.4 1 2.3 1 1 1 0.6 1 0.5 1 0.4 1 0.4 1 0.4 1 0.3 1 0.3 1 0.4 1 0.5 1 0.6 1 0.7 1 1 1 1.3 1 1.4 1 1.7 1 1.8 1 1.9 1 2 1 2 1 2.1 1 2 1 2 1 2 1 1.9 1 1.7 1 1.5 1 1.3 1 1.1 1 0.8 1 0.4 1 0.1 1 -0 1 -0.2 1 -0.3 1 -0.3 1 -0.4 1 -0.5 1 -0.5 1 -0.5 1 -0.5 1 -0.6 1 -0.5 1 -0.5 1 -0.4 0.5 -0.2" stroke="#000080" stroke-width="1.1" fill="none" stroke-linejoin="round"/>
<path d="M1490.8 1003.6l1 0.2 1 0.2 1 0.3 1 0.3 1 0.2 1 0.3 1 0.2 1 0.3 1 0.2 1 0.3 1 0.2 1 0.1 1 0.2 1 0 1 0.1 1 -0.1 1 -1.1 1 -1.9 1 -2.6 1 -3.3 1 -3.7 1 -4 1 -4.1 1 -4.2 1 -4 1 -3.7 1 -3.5 1 -3.6 1 -3.8 1 -3.9 1 -4.1 1 -4.2 1 -4.1 1 -4.1 1 -4.1 1 -3.9 1 -3.7 1 -3.5 1 -3.3 1 -2.9 1 -2.6 1 -2.2 1 -2.1 1 -2 1 -2.1 1 -2 1 -1.9 1 -1.8 1 -1.7 1 -1.6 1 -1.3 1 -1.2 1 -0.9 1 -0.7 1 -0.4 1 -0.1 1 0.1 1 0.3 1 0.5 1 0.6 1 0.7 1 0.9 1 0.9 1 1 1 1.1 1 1 1 1.2 1 1.5 1 1.9 1 2.2 1 2.5 1 2.7 1 2.9 1 2.9 1 3 1 2.9 1 2.8 1 2.7 1 2.4 1 2.4 1 2.7 1 2.8 1 2.9 1 2.8 1 2.6 1 2.3 1 2 1 1.6 1 0.9 1 0.3 1 -0.2 1 -0.6 1 -1 1 -1.2 1 -1.6 1 -1.7 1 -2 1 -2.2 1 -2.4 1 -2.4 1 -2.6 1 -3.9 1 -5.2 1 -6.3 1 -7.3 1 -8.1 1 -8.7 1 -9 1 -9.1 1 -9 1 -8.8 1 -8.4 1 -7.6 1 -7.4 1 -8.2 1 -8.7 1 -8.9 1 -9.1 1 -8.9 1 -8.7 1 -8.1 1 -7.5 1 -6.5 1 -5.4 1 -4.2 1 -2.6 1 -0.9 1 0.4 1 1.1 1 1.9 1 2.4 1 2.9 1 3.4 1 3.7 1 4.1 1 4.2 1 4.4 1 4.5 1 5.7 1 7.5 1 8.9 1 9.6 1 10.1 1 9.9 1 9.4 1 8.4 1 6.8 1 5.7 1 5.5 1 5.3 1 5.1 1 4.6 1 4.3 1 3.7 1 3.2 1 2.6 1 2.1 1 1.8 1 1.6 1 1.5 1 1.3 1 1.3 1 1.2 1 1 1 1 1 1 1 0.9 1 1 1 0.9 1 0.9 1 1 1 1 1 1 1 1 1 0.9 1 0.9 1 0.9 1 0.9 1 0.7 1 0.8 1 0.6 1 0.5 1 0.4 1 0.4 1 0.1 1 0.1 1 -0.3 1 -0.7 1 -1 1 -1.4 1 -1.7 1 -1.8 1 -2 1 -2 1 -2.1 1 -2 1 -2 1 -1.8 1 -1.7 1 -1.4 1 -1.3 1 -1.4 1 -1.5 1 -1.5 1 -1.5 1 -1.4 1 -1.4 1 -1.3 1 -1.3 1 -1.1 1 -1 1 -0.8 1 -0.7 1 -0.4 1 -0.2 1 0 1 0.3 1 0.4 1 0.5 1 0.7 1 0.8 1 0.9 1 1 1 1 1 1 1 1.1 1 1 1 1 1 0.9 1 0.9 1 0.8 1 0.6 1 0.5 1 0.4 1 0.2 1 -0 1 -0.1 1 -0.2 1 -0.3 1 -0.4 1 -0.5 1 -0.5 1 -0.5 1 -0.7 1 -0.6 1 -0.7 1 -0.8 1 -1.2 1 -1.5 1 -1.9 1 -2.1 1 -2.3 1 -2.6 1 -2.6 1 -2.8 1 -2.8 1 -2.9 1 -2.8 1 -2.8 1 -2.6 1 -2.5 1 -2.3 1 -2.4 1 -2.6 1 -2.7 1 -2.8 1 -2.8 1 -2.9 1 -2.9 1 -2.8 1 -2.8 1 -2.6 1 -2.4 1 -2.3 1 -2.1 1 -1.7 1 -1.5 1 -1.2 1 -0.7 1 -0.4 1 0.1 1 0.4 1 0.7 1 1 1 1.2 1 1.4 1 1.6 1 1.7 1 1.8 1 1.9 1 1.8 1 1.9 1 1.8 1 1.7 1 1.5 1 1.5 1 1.3 1 1.3 1 1.4 1 1.2 1 1.3 1 1.3 1 1.3 1 1.2 1 1.3 1 1.3 1 1.3 1 1.3 1 1.3 1 1.4 1 1.3 1 1.5 1 1.4 1 1.5 1 1.5 1 1.6 1 1.7 1 1.6 1 1.8 1 1.7 1 1.8 1 1.8 1 1.8 1 1.9 1 1.8 1 1.8 1 1.9 1 1.8 1 2 1 1.9 1 2 1 2.1 1 2 1 2 1 2 1 2 1 1.9 1 1.9 1 1.8 1 1.7 1 1.6 1 1.5 1 1.5 1 1.6 1 1.6 1 1.7 1 1.6 1 1.5 1 1.5 1 1.5 1 1.3 1 1.1 1 1.1 1 0.8 1 0.6 1 0.4 1 0.2 1 -0.1 1 -0.2 1 -0.3 1 -0.4 1 -0.6 1 -0.6 1 -0.8 1 -0.9 1 -0.9 1 -1 1 -1.1 1 -1.1 1 -1.2 1 -1.2 1 -1.2 1 -1.3 1 -1.7 1 -2.1 1 -2.4 1 -2.7 1 -3 1 -3.3 1 -3.6 1 -3.7 1 -3.9 1 -4.1 1 -4.1 1 -4.2 1 -4.3 1 -4.2 1 -4.3 1 -4.2 1 -4.1 1 -3.9 1 -4.1 1 -4.7 1 -5.1 1 -5.4 1 -5.7 1 -5.7 1 -5.7 1 -5.5 1 -5.1 1 -4.8 1 -4.1 1 -3.5 1 -2.6 1 -1.7 1 -0.6 1 0.5 1 1.6 1 2.3 1 3.2 1 3.7 1 4.2 1 4.6 1 4.8 1 4.9 1 4.9 1 4.7 1 4.5 1 4.1 1 4 1 4.3 1 4.6 1 4.6 1 4.7 1 4.7 1 4.5 1 4.3 1 3.9 1 3.6 1 3.1 1 2.5 1 1.9 1 1.9 1 1.7 1 1.7 1 1.6 1 1.5 1 1.3 1 1.2 1 1.1 1 0.9 1 0.7 1 0.5 1 0.4 1 0.2 1 0.2 1 0.1 1 0.1 1 0.2 1 0.1 1 0.1 1 0.2 1 0.2 1 0.3 1 0.4 1 0.6 1 0.6 1 0.7 1 0.7 1 0.6 1 0.7 1 0.6 1 0.4 1 0.4 1 0.2 1 -0.3 1 -1.9 1 -3.4 1 -4.6 1 -5.3 1 -5.7 1 -5.6 1 -5.1 1 -4.3 1 -3 1 -2.6 1 -2.6 1 -2.5 1 -2.4 1 -2.2 1 -1.9 1 -1.6 1 -1.2 1 -0.8 1 -0.3 1 0.4 1 1.2 1 1.9 1 2.5 1 3 1 3.4 1 3.7 1 3.9 1 4.1 1 4.1 1 4 1 4 1 5 1 6 1 6.7 1 7.1 1 7.3 1 7.2 1 6.9 1 6.2 1 5.4 1 4.2 1 2.9 1 1.1 1 0.5 1 0.4 1 0.3 1 0.3 1 0.3 1 0.2 1 0.2 1 0.2 1 0.2 1 0.1 1 0.2 1 0.1 1 0.1 1 0.2 1 0.1 1 0.1 1 0.2 1 0.2 1 0.2 1 0.2 1 0.2 1 0.3 1 0.3 1 0.4 1 0.4 1 0.5 1 0.4 1 0.5 1 0.6 1 0.5 1 0.5 1 0.6 1 0.6 1 0.5 1 0.6 1 0.5 1 0.5 1 0.5 1 0.5 1 0.4 1 0.4 1 0.4 1 0.3 1 0.3 1 0.2 1 0.2 1 0.1 1 -0 1 -0.1 1 -0.3 1 -0.4 1 -0.5 1 -0.6 1 -0.8 1 -0.8 1 -1 1 -0.9 1 -1.1 1 -1.1 1 -1.1 1 -1.1 1 -1.1 1 -1.2 1 -1 1 -1.1 1 -1 1 -0.9 1 -0.9 1 -0.8 1 -0.7 1 -0.6 1 -0.6 1 -0.6 1 -0.5 1 -0.6 1 -0.6 1 -0.7 1 -0.7 1 -0.8 1 -0.9 1 -1.1 1 -1.1 1 -1.4 1 -1.7 1 -3.1 1 -4.5 1 -5.6 1 -6.5 1 -7 1 -7.2 1 -7.2 1 -7 1 -6.4 1 -7 1 -8.1 1 -8.6 1 -8.6 1 -8.1 1 -7.3 1 -5.8 1 -4 1 -1.6 1 0.5 1 1.6 1 2.6 1 3.4 1 4.1 1 4.6 1 4.9 1 5.1 1 5.2 1 5 1 4.8 1 5.2 1 6.1 1 6.8 1 7.3 1 7.5 1 7.4 1 7.3 1 6.6 1 6 1 4.9 1 3.6 1 2.2 1 0.8 1 0.6 1 0.5 1 0.4 1 0.3 1 0.3 1 0.3 1 0.3 1 0.4 1 0.4 1 0.6 1 0.7 1 1.1 1 1.3 1 1.5 1 1.7 1 1.9 1 2 1 2.1 1 2.2 1 2.2 1 2.1 1 2.1 1 2 1 1.8 1 1.7 1 1.5 1 1.3 1 0.9 1 0.7 1 0.3 1 -0 1 -0.1 1 -0.2 1 -0.3 1 -0.3 1 -0.4 1 -0.4 1 -0.4 1 -0.4 1 -0.5 1 -0.4 1 -0.5 1 -0.4 1 -0.3 0.2 -0.1" stroke="#00FFFF" stroke-width="1.1" fill="none" stroke-linejoin="round"/>
<path d="M1490.8 1549.1l1 -0.6 1 -0.1 1 0.2 1 -0.2 1 0.3 1 0.7 1 -1.1 1 0.2 1 0 1 -0.7 1 0.9 1 -0.1 1 -0.4 1 1 1 0.6 1 0.2 1 1.3 1 0.1 1 0.4 1 1.5 1 0.4 1 1 1 0.5 1 1.2 1 1.4 1 1.4 1 1.1 1 1.5 1 0.8 1 0.1 1 0.5 1 1.2 1 -0.1 1 0.8 1 -0.1 1 0.6 1 0.4 1 0.2 1 0.8 1 -0.1 1 0.6 1 0.4 1 0.8 1 -1.1 1 0.8 1 0.3 1 -0.2 1 0.4 1 -0.3 1 -0.6 1 -1.2 1 -1 1 -1.2 1 -1.4 1 -0.7 1 -1.2 1 -0.6 1 -0.4 1 0.5 1 -0.8 1 -0.3 1 0.4 1 -0.6 1 0.1 1 -0.3 1 0.2 1 -0.1 1 -0.7 1 1.4 1 0.1 1 -0.4 1 1.1 1 0.1 1 0.6 1 0.8 1 0.3 1 0.5 1 0.7 1 0 1 -0.3 1 -0.1 1 0.8 1 -0.9 1 0.2 1 -0.5 1 -0.7 1 0 1 -1.2 1 -1.1 1 -0.6 1 -1.5 1 -0.6 1 -0.8 1 -1.9 1 -1.2 1 -0.7 1 -2.1 1 -0.8 1 -0.9 1 -1.1 1 -0.2 1 -0.6 1 -0.6 1 -0.6 1 -0.3 1 -0.5 1 -0.5 1 -0.9 1 -0.4 1 0.1 1 -0.7 1 0.1 1 -0.6 1 0.2 1 0.1 1 0.7 1 0.7 1 0.5 1 1.6 1 -0.3 1 1.7 1 0.2 1 1.4 1 0.4 1 1 1 0.6 1 0.1 1 0.1 1 0.2 1 0.2 1 0.3 1 0.3 1 -1.1 1 0.7 1 -0.3 1 0.1 1 0.1 1 0.2 1 -0.1 1 -0.2 1 0.5 1 -0.8 1 -1.1 1 -1.1 1 -2.6 1 -2.1 1 -1.4 1 -2.9 1 -2.8 1 -1.3 1 -1.6 1 -2.1 1 -1.1 1 -0.1 1 -0.3 1 -0.7 1 -0.5 1 0.1 1 -0.3 1 -1 1 -0 1 0.1 1 -0.2 1 0.2 1 0.2 1 0.7 1 0.1 1 0.9 1 -0.1 1 1.2 1 1.5 1 0.2 1 1.8 1 0.6 1 0.6 1 0.5 1 0.3 1 0.7 1 0.8 1 0.6 1 1.2 1 -0.2 1 0.7 1 0.2 1 1.2 1 0.6 1 0.9 1 0.9 1 0.1 1 0.1 1 1 1 0.7 1 0.6 1 0.4 1 1.3 1 0.3 1 1.1 1 0.7 1 0 1 1.8 1 1.1 1 -0.3 1 0.4 1 0.8 1 -0.5 1 0.5 1 0 1 -0.5 1 -0.3 1 -0.9 1 -0.6 1 -0.4 1 -1.5 1 -0.9 1 -1.2 1 -0.7 1 -1.5 1 -1.4 1 -0.8 1 -2 1 -1.1 1 -0.5 1 -0.5 1 -1.8 1 -0.7 1 -1.4 1 -0.2 1 -0.5 1 -0.3 1 -0.7 1 0.9 1 -0.8 1 1.2 1 -0.3 1 1.4 1 1 1 1.3 1 0.3 1 0.5 1 2 1 0.5 1 0.9 1 1.1 1 0.7 1 1.3 1 0.3 1 0.5 1 0.1 1 -0.7 1 -0.2 1 -0.7 1 -0.9 1 -1.9 1 -1.6 1 -1.9 1 -1.7 1 -1.7 1 -1.9 1 -2.5 1 -1.6 1 -1.9 1 -1.9 1 -2.2 1 -2.1 1 -3.2 1 -2.6 1 -3.6 1 -2.9 1 -3.7 1 -2.5 1 -3.4 1 -2.8 1 -3.5 1 -2.7 1 -2.2 1 -1.4 1 -0.9 1 -0.9 1 -0.2 1 -0.6 1 1.1 1 0.3 1 0.2 1 -0 1 1.4 1 1.1 1 1.5 1 0.5 1 1 1 1.6 1 1.1 1 0.7 1 1.1 1 1.3 1 0.3 1 1.3 1 0.8 1 1.1 1 1.8 1 1.5 1 1.5 1 0.8 1 1 1 0.2 1 -0.2 1 0.3 1 0.2 1 -0.6 1 0.5 1 -0.5 1 -0.9 1 0.3 1 -0.7 1 -0 1 -0.9 1 0.1 1 -0.4 1 0.1 1 0.7 1 0.9 1 0.4 1 1.2 1 0.9 1 1.7 1 1.8 1 1 1 1.9 1 1.4 1 1.9 1 1.7 1 1.4 1 1.6 1 1.5 1 1.7 1 2.4 1 2.4 1 1.3 1 2 1 1.6 1 1.5 1 2.3 1 1.3 1 0.8 1 1.6 1 2.5 1 0.8 1 1.9 1 1.2 1 2 1 1.1 1 1.4 1 1.2 1 2.1 1 1.3 1 0 1 0.9 1 0.4 1 0.1 1 0 1 -0.1 1 0.4 1 -0.7 1 0.1 1 0.4 1 -0.7 1 0.9 1 -0.7 1 0.1 1 0.3 1 -0.5 1 -0 1 -0.4 1 0.3 1 -0.1 1 -0.6 1 0.4 1 -0 1 -0.3 1 -0.5 1 0.4 1 -0.1 1 -0.9 1 -0.8 1 0.1 1 -0.2 1 0 1 -0.5 1 -0.7 1 -1 1 -0.1 1 -0.9 1 -1 1 -1 1 0.3 1 -1.7 1 0.2 1 -0.5 1 -1.6 1 -1.1 1 -0.8 1 -1 1 -1.2 1 -1.7 1 -2.5 1 -1.6 1 -1.4 1 0.1 1 -0.4 1 -0.9 1 -0.1 1 -0.1 1 -0.8 1 0.3 1 0 1 -0.6 1 0.4 1 -0.2 1 -0.3 1 0.4 1 -0.9 1 0.3 1 -0.5 1 0.1 1 -1 1 0.1 1 -0.5 1 -0.3 1 -0.3 1 -1.6 1 -0.1 1 -0.9 1 0.1 1 -0.5 1 -1.1 1 -0.4 1 -0.2 1 -0.9 1 -0.6 1 -1 1 -0.1 1 0.2 1 -1.3 1 0.2 1 -0.4 1 -0.5 1 -0.1 1 -1 1 0.4 1 -1 1 0.2 1 -0.9 1 0.1 1 -0.5 1 0.6 1 -1.1 1 0.1 1 0.7 1 -0.1 1 -0.1 1 0.1 1 -0.1 1 0.5 1 0.4 1 0.5 1 0.1 1 0.3 1 -0.3 1 -1.9 1 -4.6 1 -6.2 1 -8.6 1 -8 1 -8.7 1 -5.8 1 -3.7 1 -2.1 1 -2.8 1 -2.4 1 -1.7 1 -2.6 1 -1 1 -1.1 1 -1.6 1 -0.4 1 -0.7 1 0.2 1 0.8 1 1.2 1 1.7 1 1.8 1 3.4 1 2.5 1 2.9 1 4.1 1 3 1 4.5 1 3.3 1 3.3 1 4.3 1 5.6 1 6.7 1 7.5 1 8.1 1 7 1 6.8 1 6.1 1 4.3 1 2.7 1 0.8 1 1 1 -0.7 1 0.4 1 -0.1 1 -0.8 1 -0.2 1 -0.7 1 -0.3 1 -0.3 1 -0.4 1 0.2 1 -0.9 1 0 1 -0.5 1 -0.1 1 0.2 1 -1.3 1 0.8 1 -0.6 1 0.3 1 -0.1 1 0 1 -0.2 1 -0.4 1 1.8 1 -0.3 1 -0.2 1 -0.4 1 1.1 1 0.5 1 -0.2 1 -0.5 1 0.6 1 0.6 1 0.1 1 0.7 1 -0.4 1 0.5 1 0.1 1 2.2 1 1 1 0.8 1 0.8 1 2 1 0.3 1 0.8 1 0.3 1 0.3 1 0.1 1 -0.2 1 0.4 1 -0.6 1 -0.7 1 -0.8 1 -0.5 1 -1.1 1 -0.2 1 -1.2 1 -0.6 1 -0.5 1 -1.1 1 -0.9 1 0 1 -1.9 1 -0.9 1 -1.1 1 -1 1 -1 1 -2.2 1 -0.2 1 -0.3 1 -1 1 -0.9 1 -0.9 1 -0.2 1 -0.4 1 -0.3 1 1 1 0.5 1 0.2 1 0.3 1 0.8 1 0.3 1 0.8 1 -0.1 1 -0 1 1.1 1 0.4 1 -0.4 1 0.4 1 0 1 -1.4 1 1.4 1 -1.2 1 -0.9 1 -1.1 1 -1 1 0.9 1 -2.3 1 -0.6 1 -1.5 1 -0.9 1 -0.7 1 -1.5 1 -0.7 1 -1 1 -0.7 1 -0.7 1 -1.1 1 -0.1 1 -1.2 1 -0.4 1 -0.2 1 -0.2 1 0.3 1 -1.2 1 0.6 1 0.1 1 1.5 1 0.2 1 -0.1 1 0.9 1 -0.2 1 1.1 1 1.3 1 0.3 1 1.3 1 -0.3 1 1.4 1 0.4 1 0.8 1 0.8 1 0.9 1 1 1 0.3 1 0.9 1 0.6 1 1.1 1 0.7 1 1.9 1 1.2 1 1.2 1 1.3 1 1.2 1 1.4 1 1.4 1 1.5 1 2 1 1.1 1 0.6 1 1.2 1 1.8 1 0.9 1 0.3 1 0.9 1 -0.8 1 0.4 1 -0.6 1 0.7 1 -1.1 1 -0.5 1 -0.6 1 -1 1 -0.5 1 -1.5 1 -0.1 1 -0.9 1 -0.1 1 -0.5 1 -0.9 0.2 -0.6" stroke="#000000" stroke-width="4.2" fill="none" stroke-linejoin="round"/>
<path d="M1490.5 1453.7l1 -0.3 1 -0.4 1 -0.3 1 -0.4 1 -0.3 1 -0.3 1 -0.2 1 -0.2 1 0.1 1 0.4 1 0.6 1 0.7 1 0.8 1 0.9 1 0.8 1 1.1 1 1.2 1 1.3 1 1.4 1 1.5 1 1.6 1 2.1 1 2.3 1 2.4 1 2.3 1 2.1 1 1.6 1 1.2 1 1.1 1 0.9 1 0.8 1 0.8 1 0.8 1 0.8 1 0.9 1 1 1 1.2 1 1.5 1 1.5 1 1.5 1 1.5 1 1.5 1 1.3 1 1.1 1 0.9 1 0.6 1 0.1 1 -0.5 1 -1 1 -1.5 1 -1.7 1 -2 1 -2 1 -1.9 1 -1.7 1 -1.5 1 -1.1 1 -1 1 -1.1 1 -1.1 1 -1 1 -0.9 1 -0.9 1 -0.8 1 -0.6 1 -0.5 1 -0.3 1 -0 1 0.2 1 0.4 1 0.7 1 0.8 1 0.9 1 1 1 0.9 1 0.8 1 0.8 1 1 1 1 1 0.9 1 0.7 1 0.4 1 0 1 -0.2 1 -0.4 1 -0.5 1 -0.7 1 -0.7 1 -0.9 1 -0.9 1 -1 1 -1.6 1 -2.1 1 -2.5 1 -2.8 1 -3 1 -3.1 1 -2.9 1 -2.8 1 -2.4 1 -2 1 -2.2 1 -2.2 1 -2.2 1 -2.1 1 -2.1 1 -1.9 1 -1.7 1 -1.3 1 -1.1 1 -0.6 1 -0.1 1 0.4 1 0.5 1 0.7 1 0.9 1 1 1 1.2 1 1.1 1 1.2 1 1.8 1 2.5 1 2.9 1 3.1 1 3 1 2.6 1 2 1 1.1 1 0.4 1 0.3 1 0.1 1 0.1 1 0.1 1 0.1 1 0 1 0.1 1 0 1 0 1 -0 1 -0.1 1 -0 1 -0.9 1 -2.8 1 -4 1 -4.6 1 -4.7 1 -4.2 1 -3.3 1 -3.2 1 -3.4 1 -3.4 1 -3.4 1 -3.2 1 -3 1 -2.7 1 -2.3 1 -1.7 1 -1.2 1 -0.4 1 0 1 0.1 1 0.2 1 0.3 1 0.3 1 0.4 1 0.4 1 0.5 1 0.5 1 0.6 1 1 1 1.5 1 1.9 1 2.2 1 2.4 1 2.4 1 2.4 1 2.1 1 1.9 1 1.5 1 1.3 1 1.2 1 1.2 1 1.1 1 1.1 1 1 1 1 1 1 1 1.1 1 1 1 1.2 1 1.1 1 1.3 1 1.5 1 1.7 1 1.8 1 1.9 1 1.9 1 1.9 1 1.9 1 1.8 1 1.6 1 1.5 1 1.2 1 1 1 0.7 1 0.2 1 -0.1 1 -0.8 1 -1.4 1 -1.8 1 -2.3 1 -2.6 1 -2.7 1 -2.9 1 -2.9 1 -2.9 1 -2.7 1 -2.4 1 -2.1 1 -1.9 1 -2 1 -2.1 1 -2.2 1 -2.1 1 -2 1 -1.9 1 -1.7 1 -1.4 1 -1.2 1 -0.7 1 -0.3 1 -0 1 0.5 1 0.9 1 1.4 1 1.6 1 1.8 1 1.9 1 1.9 1 1.8 1 1.8 1 2.4 1 2.7 1 2.8 1 2.7 1 2.3 1 1.8 1 0.9 1 0 1 -0.3 1 -0.8 1 -1.2 1 -1.4 1 -1.7 1 -1.8 1 -1.9 1 -2.1 1 -2.7 1 -3.4 1 -4.1 1 -4.6 1 -5.1 1 -5.5 1 -5.7 1 -5.9 1 -5.9 1 -5.9 1 -5.8 1 -6.1 1 -7.1 1 -7.7 1 -7.7 1 -7.5 1 -6.9 1 -5.7 1 -4.1 1 -2.9 1 -2.8 1 -2.4 1 -1.9 1 -1.2 1 -0.3 1 0.4 1 1.1 1 1.6 1 1.9 1 2.3 1 2.4 1 2.4 1 2.3 1 2.2 1 2 1 2.2 1 2.2 1 2.3 1 2.4 1 2.4 1 2.7 1 3.2 1 3.7 1 3.7 1 3.5 1 3 1 2.3 1 1.3 1 0.1 1 -0.5 1 -0.7 1 -1 1 -1.2 1 -1.2 1 -1.3 1 -1.1 1 -1.1 1 -0.9 1 -0.5 1 -0.4 1 0.1 1 0.5 1 0.9 1 1.3 1 1.5 1 1.8 1 1.9 1 2 1 2.8 1 4.1 1 5 1 5.6 1 5.9 1 5.8 1 5.2 1 4.3 1 3.2 1 2.9 1 2.6 1 2.4 1 2.3 1 2.3 1 2.4 1 2.7 1 3.1 1 3.7 1 4 1 4.1 1 4 1 3.7 1 3 1 2.2 1 1.2 1 0.7 1 0.7 1 1.1 1 2.2 1 2.9 1 3.2 1 2.8 1 2 1 0.5 1 -0.6 1 -1.2 1 -1.4 1 -1.2 1 -0.6 1 0 1 0.2 1 0.3 1 0.3 1 0.3 1 0.4 1 0.4 1 0.4 1 0.4 1 0.4 1 0.3 1 0.2 1 0.1 1 -0.1 1 -0.9 1 -1.5 1 -2 1 -2.2 1 -4.1 1 -4.5 1 -1.5 1 -1.1 1 -0.8 1 -0.7 1 -0.5 1 -0.5 1 -0.4 1 -0.4 1 -0.5 1 -0.4 1 -0.6 1 -0.8 1 -0.7 1 -0.8 1 -0.9 1 -1.1 1 -1.6 1 -3.4 1 -4.5 1 -4.7 1 -3.8 1 -2.1 1 -0.7 1 -0.7 1 -0.6 1 -0.5 1 -0.4 1 -0.3 1 -0.2 1 -0.1 1 0 1 0.2 1 0.3 1 0.3 1 0.4 1 0.4 1 0.4 1 0.3 1 0.2 1 0 1 -1.5 1 -3.1 1 -3.5 1 -3.1 1 -1.9 1 -1.7 1 -1.6 1 -1.6 1 -1.3 1 -1 1 -0.8 1 -0.3 1 0.4 1 1.3 1 1.5 1 1.2 1 0.4 1 -0.7 1 -1.6 1 -2.2 1 -2.5 1 -2.5 1 -2.1 1 -1.6 1 -0.8 1 -0.6 1 -0.6 1 -0.5 1 -0.4 1 -0.3 1 -0.2 1 -0.1 1 0.1 1 0.6 1 0.8 1 1.1 1 1 1 0.9 1 0.7 1 0.3 1 -0.1 1 -0.4 1 -0.7 1 -1 1 -1.7 1 -8.5 1 -14.4 1 -16.3 1 -14.4 1 -10 1 -9.3 1 -8.8 1 -7.9 1 -6.9 1 -5.6 1 -4.3 1 -4 1 -3.6 1 -3.2 1 -2.5 1 -1.4 1 -0.2 1 1.4 1 2.9 1 3.9 1 4.6 1 4.9 1 4.8 1 5.2 1 6.1 1 6.7 1 7.3 1 7.7 1 8 1 8.5 1 9.3 1 9.9 1 10.5 1 10.7 1 11 1 12.2 1 15.3 1 15.4 1 11.7 1 4.7 1 -0.3 1 -0.6 1 -0.7 1 -0.5 1 -0.3 1 -0.3 1 -0.2 1 -0.3 1 -0.2 1 -0.2 1 -0.2 1 -0.2 1 -0.2 1 -0.2 1 -0.2 1 -0.2 1 -0.1 1 0.9 1 2.1 1 2.4 1 1.7 1 0.3 1 -0.3 1 -0.4 1 -0.5 1 -0.5 1 -0.6 1 -0.5 1 -0.5 1 -0.3 1 -0.2 1 -0 1 0 1 0.1 1 0.1 1 0.2 1 0.2 1 0.3 1 0.3 1 1.1 1 1.8 1 2.4 1 2.6 1 2.7 1 2.4 1 2.1 1 1.4 1 0.5 1 -0.5 1 -1.4 1 -1.8 1 -2 1 -1.9 1 -1.5 1 -1 1 -0.8 1 -0.7 1 -0.7 1 -0.7 1 -0.7 1 -0.9 1 -1.1 1 -1.4 1 -1.8 1 -2.1 1 -2.2 1 -2.3 1 -2.3 1 -2.1 1 -2 1 -2.2 1 -2.3 1 -2.2 1 -1.8 1 -1.2 1 -0.3 1 0.4 1 0.7 1 0.9 1 1.1 1 1.2 1 1.2 1 1.2 1 1 1 0.9 1 0.8 1 0.7 1 0.8 1 0.7 1 0.5 1 0.3 1 -0.3 1 -1.2 1 -1.7 1 -1.4 1 -1.4 1 -1.5 1 -1.6 1 -1.6 1 -1.7 1 -1.6 1 -1.6 1 -1.5 1 -1.5 1 -1.5 1 -1.7 1 -1.8 1 -1.8 1 -1.7 1 -1.6 1 -1.4 1 -1.1 1 -0.8 1 -0.4 1 -0 1 0.3 1 0.6 1 0.8 1 1 1 1.1 1 1.1 1 1.2 1 1 1 1 1 0.8 1 0.8 1 0.8 1 0.8 1 0.7 1 0.8 1 0.9 1 0.9 1 1 1 1.1 1 1.2 1 1.4 1 1.7 1 2.5 1 2.9 1 3.2 1 3 1 2.7 1 2.1 1 1.9 1 1.7 1 1.6 1 1.5 1 1.7 1 1.7 1 2 1 2.6 1 3.4 1 3.6 1 3.3 1 2.6 1 1.3 1 0 1 -0.3 1 -0.7 1 -0.8 1 -0.9 1 -1 1 -1 1 -1.3 1 -1.5 1 -1.7 1 -1.8 1 -1.9 1 -1.8 1 -1.8 0.5 -0.8" stroke="#000000" stroke-width="1.1" fill="none" stroke-linejoin="round"/>
<path d="M1490.5 1446.4l1 -0.3 1 -0.2 1 -0.3 1 -0.3 1 -0.2 1 -0.2 1 -0.2 1 -0.1 1 0.1 1 0.5 1 0.7 1 0.8 1 0.9 1 0.9 1 0.9 1 1.2 1 1.3 1 1.4 1 1.4 1 1.6 1 1.7 1 2 1 2.3 1 2.4 1 2.2 1 2 1 1.6 1 1.2 1 1 1 0.9 1 0.8 1 0.7 1 0.8 1 0.8 1 0.8 1 1 1 1.2 1 1.4 1 1.4 1 1.5 1 1.4 1 1.4 1 1.2 1 1.1 1 0.8 1 0.5 1 0.1 1 -0.5 1 -1 1 -1.5 1 -1.7 1 -2 1 -2 1 -1.9 1 -1.8 1 -1.4 1 -1.1 1 -1.1 1 -1.1 1 -1 1 -1.1 1 -0.9 1 -0.9 1 -0.8 1 -0.6 1 -0.5 1 -0.3 1 -0.1 1 0.2 1 0.5 1 0.7 1 0.8 1 0.9 1 0.9 1 0.9 1 0.8 1 0.9 1 0.9 1 1 1 0.9 1 0.8 1 0.4 1 0 1 -0.2 1 -0.4 1 -0.5 1 -0.7 1 -0.7 1 -0.9 1 -0.9 1 -1 1 -1.6 1 -2.1 1 -2.5 1 -2.8 1 -3 1 -3.1 1 -2.9 1 -2.8 1 -2.4 1 -2 1 -2.2 1 -2.2 1 -2.2 1 -2.1 1 -2.1 1 -1.9 1 -1.7 1 -1.3 1 -1.1 1 -0.6 1 -0.1 1 0.3 1 0.5 1 0.7 1 0.8 1 1 1 1 1 1.1 1 1.2 1 1.7 1 2.4 1 2.9 1 3.1 1 2.9 1 2.6 1 1.9 1 1 1 0.4 1 0.2 1 0.2 1 0.1 1 0.2 1 0.1 1 0 1 0.1 1 0 1 0.1 1 -0 1 -0 1 -0.1 1 -0.9 1 -2.7 1 -4 1 -4.6 1 -4.6 1 -4.2 1 -3.3 1 -3.2 1 -3.3 1 -3.4 1 -3.4 1 -3.2 1 -3 1 -2.6 1 -2.3 1 -1.7 1 -1.1 1 -0.5 1 0.1 1 0.1 1 0.2 1 0.2 1 0.4 1 0.4 1 0.4 1 0.5 1 0.5 1 0.5 1 1 1 1.5 1 2 1 2.2 1 2.3 1 2.5 1 2.3 1 2.2 1 1.8 1 1.5 1 1.4 1 1.2 1 1.2 1 1.1 1 1 1 1.1 1 1 1 1 1 1 1 1.1 1 1.1 1 1.2 1 1.3 1 1.5 1 1.6 1 1.8 1 1.9 1 1.9 1 2 1 1.8 1 1.8 1 1.7 1 1.4 1 1.2 1 1 1 0.7 1 0.2 1 -0.1 1 -0.9 1 -1.4 1 -1.9 1 -2.3 1 -2.6 1 -2.8 1 -2.9 1 -2.9 1 -2.9 1 -2.8 1 -2.4 1 -2.2 1 -1.9 1 -2 1 -2.2 1 -2.1 1 -2.2 1 -2 1 -2 1 -1.7 1 -1.5 1 -1.1 1 -0.8 1 -0.4 1 0.1 1 0.5 1 1 1 1.4 1 1.6 1 1.9 1 2 1 1.9 1 1.9 1 1.9 1 2.3 1 2.8 1 2.8 1 2.8 1 2.4 1 1.8 1 1 1 0 1 -0.4 1 -0.8 1 -1.2 1 -1.4 1 -1.7 1 -1.9 1 -2 1 -2.1 1 -2.7 1 -3.5 1 -4.1 1 -4.7 1 -5.1 1 -5.5 1 -5.7 1 -5.9 1 -6 1 -5.9 1 -5.8 1 -6.2 1 -7.1 1 -7.7 1 -7.8 1 -7.6 1 -6.8 1 -5.8 1 -4.2 1 -2.9 1 -2.8 1 -2.4 1 -2 1 -1.2 1 -0.4 1 0.5 1 1 1 1.6 1 2 1 2.3 1 2.4 1 2.4 1 2.3 1 2.1 1 2.1 1 2.2 1 2.2 1 2.3 1 2.4 1 2.4 1 2.7 1 3.2 1 3.6 1 3.7 1 3.5 1 3.1 1 2.3 1 1.3 1 0.1 1 -0.5 1 -0.7 1 -1 1 -1.1 1 -1.2 1 -1.2 1 -1.2 1 -1 1 -0.9 1 -0.5 1 -0.3 1 0.2 1 0.6 1 1 1 1.3 1 1.7 1 1.9 1 2 1 2.1 1 2.9 1 4.2 1 5.1 1 5.7 1 5.9 1 5.8 1 5.2 1 4.3 1 3.3 1 2.9 1 2.6 1 2.3 1 2.4 1 2.3 1 2.4 1 2.7 1 3.1 1 3.7 1 4 1 4.2 1 4 1 3.6 1 3.1 1 2.2 1 1.1 1 0.7 1 0.7 1 1.1 1 2.2 1 2.9 1 3.2 1 2.8 1 1.9 1 0.6 1 -0.7 1 -1.2 1 -1.5 1 -1.2 1 -0.6 1 0 1 0.2 1 0.2 1 0.3 1 0.4 1 0.3 1 0.4 1 0.4 1 0.4 1 0.3 1 0.3 1 0.2 1 0.1 1 -0.1 1 -0.9 1 -1.6 1 -2 1 -2.2 1 -4.1 1 -4.5 1 -1.5 1 -1.1 1 -0.8 1 -0.7 1 -0.6 1 -0.5 1 -0.4 1 -0.4 1 -0.5 1 -0.5 1 -0.6 1 -0.7 1 -0.8 1 -0.7 1 -1 1 -1.1 1 -1.6 1 -3.4 1 -4.5 1 -4.7 1 -3.9 1 -2 1 -0.8 1 -0.7 1 -0.6 1 -0.5 1 -0.4 1 -0.3 1 -0.2 1 -0.1 1 -0 1 0.1 1 0.3 1 0.4 1 0.3 1 0.4 1 0.4 1 0.3 1 0.2 1 -0 1 -1.6 1 -3 1 -3.5 1 -3.1 1 -1.9 1 -1.8 1 -1.6 1 -1.5 1 -1.4 1 -1 1 -0.8 1 -0.3 1 0.4 1 1.2 1 1.6 1 1.2 1 0.4 1 -0.8 1 -1.6 1 -2.2 1 -2.5 1 -2.5 1 -2.1 1 -1.6 1 -0.9 1 -0.6 1 -0.5 1 -0.5 1 -0.5 1 -0.3 1 -0.2 1 -0.1 1 0.1 1 0.6 1 0.8 1 1 1 1.1 1 0.9 1 0.7 1 0.3 1 -0.1 1 -0.4 1 -0.8 1 -0.9 1 -1.7 1 -8.6 1 -14.3 1 -16.3 1 -14.4 1 -10.1 1 -9.3 1 -8.7 1 -7.9 1 -6.9 1 -5.7 1 -4.2 1 -4 1 -3.7 1 -3.2 1 -2.4 1 -1.5 1 -0.2 1 1.5 1 2.8 1 3.9 1 4.6 1 4.8 1 4.8 1 5.2 1 6 1 6.7 1 7.3 1 7.6 1 8 1 8.5 1 9.2 1 10 1 10.4 1 10.7 1 10.9 1 12.2 1 15.4 1 15.3 1 11.7 1 4.7 1 -0.3 1 -0.5 1 -0.6 1 -0.5 1 -0.3 1 -0.2 1 -0.2 1 -0.1 1 -0.2 1 -0.2 1 -0.2 1 -0.1 1 -0.1 1 -0.2 1 -0.1 1 -0.1 1 -0.1 1 0.9 1 2.1 1 2.4 1 1.8 1 0.3 1 -0.3 1 -0.3 1 -0.5 1 -0.5 1 -0.6 1 -0.5 1 -0.4 1 -0.3 1 -0.1 1 -0 1 0 1 0.1 1 0.2 1 0.2 1 0.2 1 0.3 1 0.3 1 1.1 1 1.9 1 2.4 1 2.6 1 2.7 1 2.5 1 2.1 1 1.4 1 0.5 1 -0.5 1 -1.3 1 -1.8 1 -2 1 -1.9 1 -1.5 1 -1 1 -0.8 1 -0.8 1 -0.6 1 -0.7 1 -0.7 1 -0.9 1 -1.1 1 -1.4 1 -1.8 1 -2.1 1 -2.2 1 -2.3 1 -2.3 1 -2.1 1 -2 1 -2.2 1 -2.3 1 -2.2 1 -1.8 1 -1.2 1 -0.3 1 0.3 1 0.7 1 0.9 1 1 1 1.2 1 1.2 1 1.1 1 1 1 0.9 1 0.7 1 0.7 1 0.7 1 0.7 1 0.5 1 0.2 1 -0.3 1 -1.2 1 -1.7 1 -1.4 1 -1.5 1 -1.5 1 -1.6 1 -1.6 1 -1.7 1 -1.6 1 -1.6 1 -1.5 1 -1.5 1 -1.6 1 -1.7 1 -1.8 1 -1.8 1 -1.7 1 -1.6 1 -1.4 1 -1.1 1 -0.8 1 -0.5 1 0 1 0.3 1 0.6 1 0.9 1 1 1 1.1 1 1.2 1 1.2 1 1.1 1 0.9 1 0.9 1 0.8 1 0.8 1 0.8 1 0.8 1 0.8 1 0.8 1 1 1 1 1 1.1 1 1.3 1 1.4 1 1.7 1 2.5 1 3 1 3.1 1 3.1 1 2.7 1 2.2 1 1.8 1 1.8 1 1.6 1 1.6 1 1.6 1 1.8 1 2 1 2.6 1 3.4 1 3.6 1 3.4 1 2.6 1 1.3 1 0 1 -0.4 1 -0.6 1 -0.9 1 -0.9 1 -1 1 -1.1 1 -1.3 1 -1.5 1 -1.7 1 -1.9 1 -1.8 1 -1.9 1 -1.8 0.5 -0.9" stroke="#404040" stroke-width="1.1" fill="none" stroke-linejoin="round"/>
<path d="M1490.5 1442.2l1 -0.2 1 -0.2 1 -0.3 1 -0.2 1 -0.2 1 -0.2 1 -0.1 1 -0.1 1 0.2 1 0.5 1 0.8 1 0.8 1 1 1 0.9 1 1 1 1.2 1 1.3 1 1.4 1 1.6 1 1.5 1 1.7 1 2.1 1 2.2 1 2.4 1 2.2 1 2 1 1.6 1 1.2 1 0.9 1 0.9 1 0.8 1 0.7 1 0.7 1 0.8 1 0.8 1 1 1 1.2 1 1.3 1 1.4 1 1.4 1 1.4 1 1.3 1 1.2 1 1 1 0.8 1 0.5 1 0.1 1 -0.5 1 -1 1 -1.5 1 -1.8 1 -1.9 1 -2 1 -2 1 -1.7 1 -1.5 1 -1.1 1 -1.1 1 -1 1 -1.1 1 -1 1 -1 1 -0.9 1 -0.8 1 -0.6 1 -0.5 1 -0.3 1 -0.1 1 0.2 1 0.5 1 0.7 1 0.8 1 0.9 1 0.9 1 0.9 1 0.8 1 0.9 1 0.9 1 1 1 0.9 1 0.8 1 0.4 1 0 1 -0.2 1 -0.4 1 -0.5 1 -0.7 1 -0.7 1 -0.9 1 -0.9 1 -1 1 -1.6 1 -2.1 1 -2.5 1 -2.8 1 -3 1 -3.1 1 -2.9 1 -2.8 1 -2.4 1 -2 1 -2.2 1 -2.2 1 -2.2 1 -2.1 1 -2.1 1 -1.9 1 -1.6 1 -1.4 1 -1 1 -0.7 1 -0.1 1 0.3 1 0.4 1 0.7 1 0.8 1 0.9 1 1 1 1.1 1 1.2 1 1.7 1 2.4 1 2.8 1 3 1 2.9 1 2.6 1 1.9 1 1 1 0.3 1 0.2 1 0.2 1 0.1 1 0.2 1 0.1 1 0.1 1 0.1 1 0 1 0.1 1 -0 1 -0 1 -0 1 -0.9 1 -2.7 1 -4 1 -4.6 1 -4.6 1 -4.2 1 -3.3 1 -3.2 1 -3.3 1 -3.4 1 -3.3 1 -3.2 1 -3 1 -2.6 1 -2.3 1 -1.7 1 -1.1 1 -0.4 1 0 1 0.2 1 0.2 1 0.2 1 0.4 1 0.3 1 0.5 1 0.4 1 0.6 1 0.5 1 1 1 1.5 1 1.9 1 2.2 1 2.4 1 2.4 1 2.4 1 2.2 1 1.8 1 1.5 1 1.3 1 1.3 1 1.2 1 1.1 1 1 1 1 1 1.1 1 1 1 1 1 1.1 1 1.1 1 1.2 1 1.3 1 1.5 1 1.6 1 1.8 1 1.9 1 1.9 1 1.9 1 1.9 1 1.8 1 1.6 1 1.5 1 1.2 1 1 1 0.6 1 0.3 1 -0.2 1 -0.9 1 -1.4 1 -1.9 1 -2.3 1 -2.6 1 -2.8 1 -3 1 -3 1 -2.9 1 -2.7 1 -2.5 1 -2.2 1 -1.9 1 -2.1 1 -2.1 1 -2.2 1 -2.2 1 -2.1 1 -1.9 1 -1.7 1 -1.5 1 -1.2 1 -0.8 1 -0.4 1 0 1 0.6 1 1 1 1.4 1 1.7 1 1.9 1 2 1 2 1 1.9 1 1.9 1 2.4 1 2.8 1 2.9 1 2.7 1 2.5 1 1.8 1 1 1 0.1 1 -0.5 1 -0.8 1 -1.2 1 -1.5 1 -1.7 1 -1.9 1 -2 1 -2.1 1 -2.7 1 -3.5 1 -4.2 1 -4.7 1 -5.1 1 -5.5 1 -5.8 1 -5.9 1 -6 1 -6 1 -5.8 1 -6.2 1 -7.1 1 -7.7 1 -7.9 1 -7.5 1 -6.9 1 -5.7 1 -4.3 1 -2.9 1 -2.8 1 -2.5 1 -1.9 1 -1.3 1 -0.4 1 0.5 1 1 1 1.6 1 2 1 2.3 1 2.4 1 2.4 1 2.3 1 2.1 1 2.1 1 2.2 1 2.2 1 2.3 1 2.4 1 2.4 1 2.7 1 3.2 1 3.6 1 3.7 1 3.5 1 3.1 1 2.3 1 1.3 1 0.1 1 -0.4 1 -0.8 1 -0.9 1 -1.1 1 -1.2 1 -1.2 1 -1.2 1 -1 1 -0.8 1 -0.6 1 -0.2 1 0.2 1 0.7 1 1 1 1.5 1 1.7 1 1.9 1 2.1 1 2.1 1 3 1 4.2 1 5.2 1 5.7 1 6 1 5.8 1 5.2 1 4.3 1 3.3 1 2.9 1 2.6 1 2.4 1 2.3 1 2.3 1 2.5 1 2.7 1 3.1 1 3.6 1 4.1 1 4.1 1 4 1 3.7 1 3 1 2.2 1 1.2 1 0.7 1 0.7 1 1 1 2.2 1 2.9 1 3.2 1 2.8 1 1.9 1 0.5 1 -0.6 1 -1.3 1 -1.4 1 -1.3 1 -0.6 1 0 1 0.2 1 0.2 1 0.3 1 0.3 1 0.4 1 0.4 1 0.3 1 0.4 1 0.3 1 0.3 1 0.2 1 0.1 1 -0.2 1 -0.9 1 -1.5 1 -2 1 -2.2 1 -4.2 1 -4.4 1 -1.6 1 -1.1 1 -0.8 1 -0.7 1 -0.6 1 -0.5 1 -0.4 1 -0.4 1 -0.5 1 -0.5 1 -0.6 1 -0.7 1 -0.8 1 -0.8 1 -0.9 1 -1.1 1 -1.7 1 -3.3 1 -4.6 1 -4.7 1 -3.8 1 -2.1 1 -0.8 1 -0.7 1 -0.6 1 -0.5 1 -0.5 1 -0.3 1 -0.2 1 -0.1 1 0 1 0.2 1 0.3 1 0.3 1 0.4 1 0.3 1 0.4 1 0.3 1 0.2 1 -0 1 -1.6 1 -3 1 -3.6 1 -3.1 1 -1.9 1 -1.7 1 -1.6 1 -1.6 1 -1.3 1 -1.1 1 -0.7 1 -0.3 1 0.3 1 1.3 1 1.5 1 1.2 1 0.4 1 -0.8 1 -1.6 1 -2.2 1 -2.5 1 -2.5 1 -2.1 1 -1.7 1 -0.8 1 -0.6 1 -0.6 1 -0.5 1 -0.4 1 -0.3 1 -0.2 1 -0.1 1 0.1 1 0.5 1 0.9 1 1 1 1 1 0.9 1 0.7 1 0.3 1 -0.1 1 -0.4 1 -0.7 1 -1 1 -1.7 1 -8.6 1 -14.3 1 -16.3 1 -14.4 1 -10.1 1 -9.2 1 -8.8 1 -7.9 1 -6.9 1 -5.6 1 -4.3 1 -4 1 -3.7 1 -3.2 1 -2.4 1 -1.4 1 -0.3 1 1.5 1 2.8 1 3.9 1 4.5 1 4.8 1 4.8 1 5.2 1 6 1 6.7 1 7.2 1 7.7 1 7.9 1 8.5 1 9.3 1 9.9 1 10.4 1 10.7 1 10.9 1 12.1 1 15.4 1 15.3 1 11.7 1 4.7 1 -0.3 1 -0.5 1 -0.5 1 -0.5 1 -0.2 1 -0.2 1 -0.2 1 -0.1 1 -0.2 1 -0.1 1 -0.1 1 -0.1 1 -0.2 1 -0.1 1 -0 1 -0.1 1 -0.1 1 0.9 1 2.2 1 2.4 1 1.7 1 0.3 1 -0.2 1 -0.3 1 -0.5 1 -0.5 1 -0.5 1 -0.5 1 -0.4 1 -0.3 1 -0.1 1 -0 1 0 1 0.2 1 0.1 1 0.2 1 0.3 1 0.3 1 0.4 1 1.1 1 1.8 1 2.4 1 2.7 1 2.7 1 2.5 1 2.1 1 1.4 1 0.5 1 -0.5 1 -1.3 1 -1.8 1 -2 1 -1.9 1 -1.5 1 -1 1 -0.8 1 -0.7 1 -0.7 1 -0.6 1 -0.8 1 -0.9 1 -1 1 -1.4 1 -1.8 1 -2.1 1 -2.3 1 -2.3 1 -2.2 1 -2.2 1 -1.9 1 -2.2 1 -2.3 1 -2.2 1 -1.8 1 -1.2 1 -0.3 1 0.3 1 0.6 1 0.9 1 1 1 1.2 1 1.1 1 1.1 1 1 1 0.8 1 0.7 1 0.8 1 0.7 1 0.6 1 0.4 1 0.3 1 -0.3 1 -1.3 1 -1.7 1 -1.4 1 -1.4 1 -1.6 1 -1.6 1 -1.6 1 -1.7 1 -1.6 1 -1.6 1 -1.6 1 -1.4 1 -1.6 1 -1.8 1 -1.8 1 -1.7 1 -1.8 1 -1.6 1 -1.4 1 -1.1 1 -0.8 1 -0.5 1 0 1 0.3 1 0.7 1 0.8 1 1 1 1.2 1 1.2 1 1.1 1 1.1 1 1 1 0.9 1 0.8 1 0.8 1 0.8 1 0.8 1 0.8 1 0.9 1 1 1 1 1 1.1 1 1.3 1 1.4 1 1.8 1 2.5 1 3 1 3.1 1 3.1 1 2.7 1 2.2 1 1.9 1 1.7 1 1.6 1 1.6 1 1.7 1 1.8 1 2 1 2.6 1 3.4 1 3.6 1 3.4 1 2.6 1 1.4 1 -0 1 -0.4 1 -0.7 1 -0.8 1 -1 1 -1 1 -1.1 1 -1.3 1 -1.6 1 -1.7 1 -1.8 1 -1.9 1 -1.9 1 -1.8 0.5 -0.9" stroke="#808080" stroke-width="1.1" fill="none" stroke-linejoin="round"/>
<path d="M1490.5 1439.1l1 -0.2 1 -0.2 1 -0.2 1 -0.2 1 -0.1 1 -0.2 1 -0.1 1 -0 1 0.2 1 0.6 1 0.7 1 0.9 1 1 1 1 1 1 1 1.2 1 1.3 1 1.5 1 1.6 1 1.6 1 1.7 1 2 1 2.3 1 2.3 1 2.2 1 2 1 1.6 1 1.1 1 1 1 0.8 1 0.8 1 0.7 1 0.7 1 0.8 1 0.8 1 0.9 1 1.2 1 1.3 1 1.4 1 1.3 1 1.4 1 1.3 1 1.2 1 1 1 0.7 1 0.5 1 0.1 1 -0.6 1 -1 1 -1.5 1 -1.8 1 -1.9 1 -2 1 -2 1 -1.7 1 -1.5 1 -1.1 1 -1.1 1 -1 1 -1.1 1 -1 1 -1 1 -0.9 1 -0.8 1 -0.6 1 -0.5 1 -0.3 1 -0.1 1 0.2 1 0.5 1 0.6 1 0.9 1 0.9 1 0.9 1 0.9 1 0.8 1 0.8 1 1 1 1 1 0.9 1 0.7 1 0.4 1 0.1 1 -0.2 1 -0.4 1 -0.5 1 -0.7 1 -0.8 1 -0.8 1 -0.9 1 -1 1 -1.6 1 -2.1 1 -2.5 1 -2.9 1 -3 1 -3 1 -2.9 1 -2.8 1 -2.4 1 -2 1 -2.2 1 -2.2 1 -2.2 1 -2.1 1 -2.1 1 -1.9 1 -1.7 1 -1.3 1 -1 1 -0.7 1 -0.1 1 0.2 1 0.5 1 0.6 1 0.8 1 0.9 1 1 1 1.1 1 1.1 1 1.6 1 2.4 1 2.8 1 3 1 2.9 1 2.5 1 1.9 1 1 1 0.3 1 0.2 1 0.2 1 0.2 1 0.1 1 0.1 1 0.1 1 0.1 1 0.1 1 0 1 0.1 1 -0 1 -0 1 -0.9 1 -2.7 1 -4 1 -4.5 1 -4.7 1 -4.2 1 -3.2 1 -3.2 1 -3.3 1 -3.4 1 -3.3 1 -3.2 1 -3 1 -2.6 1 -2.2 1 -1.7 1 -1.1 1 -0.4 1 0 1 0.1 1 0.2 1 0.3 1 0.3 1 0.4 1 0.5 1 0.4 1 0.5 1 0.6 1 1 1 1.5 1 1.9 1 2.2 1 2.4 1 2.4 1 2.4 1 2.1 1 1.9 1 1.5 1 1.3 1 1.3 1 1.1 1 1.1 1 1.1 1 1 1 1 1 1.1 1 1 1 1.1 1 1.1 1 1.2 1 1.3 1 1.4 1 1.7 1 1.8 1 1.9 1 1.9 1 1.9 1 1.9 1 1.7 1 1.7 1 1.4 1 1.3 1 0.9 1 0.7 1 0.2 1 -0.2 1 -0.8 1 -1.5 1 -1.9 1 -2.3 1 -2.7 1 -2.8 1 -2.9 1 -3 1 -3 1 -2.7 1 -2.5 1 -2.2 1 -2 1 -2 1 -2.2 1 -2.2 1 -2.2 1 -2.1 1 -1.9 1 -1.8 1 -1.5 1 -1.2 1 -0.8 1 -0.4 1 0.1 1 0.5 1 1.1 1 1.4 1 1.7 1 1.9 1 2 1 2 1 2 1 1.9 1 2.4 1 2.8 1 2.9 1 2.8 1 2.5 1 1.8 1 1 1 0.1 1 -0.4 1 -0.9 1 -1.2 1 -1.5 1 -1.7 1 -1.9 1 -2.1 1 -2.1 1 -2.7 1 -3.5 1 -4.2 1 -4.7 1 -5.2 1 -5.5 1 -5.8 1 -5.9 1 -6 1 -6 1 -5.8 1 -6.2 1 -7.2 1 -7.7 1 -7.8 1 -7.6 1 -6.9 1 -5.8 1 -4.2 1 -3 1 -2.8 1 -2.5 1 -1.9 1 -1.3 1 -0.4 1 0.4 1 1.1 1 1.6 1 2 1 2.2 1 2.4 1 2.5 1 2.3 1 2.1 1 2.1 1 2.1 1 2.3 1 2.3 1 2.3 1 2.5 1 2.6 1 3.3 1 3.6 1 3.7 1 3.5 1 3.1 1 2.3 1 1.2 1 0.1 1 -0.4 1 -0.7 1 -0.9 1 -1.1 1 -1.2 1 -1.2 1 -1.1 1 -1 1 -0.8 1 -0.6 1 -0.2 1 0.3 1 0.7 1 1.1 1 1.4 1 1.8 1 1.9 1 2.2 1 2.2 1 3 1 4.3 1 5.2 1 5.7 1 6 1 5.8 1 5.3 1 4.2 1 3.3 1 2.9 1 2.6 1 2.4 1 2.3 1 2.4 1 2.4 1 2.7 1 3.1 1 3.7 1 4.1 1 4.1 1 4 1 3.7 1 3 1 2.2 1 1.2 1 0.7 1 0.6 1 1.1 1 2.2 1 2.9 1 3.1 1 2.8 1 1.9 1 0.6 1 -0.7 1 -1.2 1 -1.5 1 -1.3 1 -0.6 1 0 1 0.2 1 0.2 1 0.3 1 0.3 1 0.3 1 0.4 1 0.4 1 0.3 1 0.3 1 0.3 1 0.2 1 0.1 1 -0.2 1 -0.9 1 -1.5 1 -2 1 -2.3 1 -4.1 1 -4.5 1 -1.5 1 -1.1 1 -0.9 1 -0.7 1 -0.6 1 -0.5 1 -0.4 1 -0.4 1 -0.5 1 -0.5 1 -0.6 1 -0.7 1 -0.8 1 -0.8 1 -0.9 1 -1.2 1 -1.6 1 -3.4 1 -4.5 1 -4.7 1 -3.9 1 -2.1 1 -0.7 1 -0.8 1 -0.6 1 -0.5 1 -0.4 1 -0.3 1 -0.3 1 -0.1 1 0 1 0.2 1 0.3 1 0.3 1 0.4 1 0.3 1 0.4 1 0.3 1 0.2 1 -0 1 -1.6 1 -3.1 1 -3.5 1 -3.1 1 -1.9 1 -1.7 1 -1.7 1 -1.5 1 -1.4 1 -1 1 -0.8 1 -0.3 1 0.4 1 1.2 1 1.5 1 1.2 1 0.4 1 -0.8 1 -1.6 1 -2.2 1 -2.5 1 -2.5 1 -2.2 1 -1.6 1 -0.8 1 -0.6 1 -0.6 1 -0.5 1 -0.4 1 -0.3 1 -0.3 1 -0.1 1 0.1 1 0.6 1 0.8 1 1 1 1.1 1 0.9 1 0.7 1 0.3 1 -0.2 1 -0.4 1 -0.7 1 -1 1 -1.7 1 -8.5 1 -14.4 1 -16.3 1 -14.4 1 -10 1 -9.3 1 -8.7 1 -8 1 -6.9 1 -5.6 1 -4.3 1 -3.9 1 -3.7 1 -3.2 1 -2.4 1 -1.5 1 -0.2 1 1.4 1 2.8 1 3.9 1 4.5 1 4.8 1 4.8 1 5.2 1 5.9 1 6.7 1 7.2 1 7.7 1 7.9 1 8.5 1 9.2 1 9.9 1 10.4 1 10.7 1 10.9 1 12.2 1 15.3 1 15.3 1 11.7 1 4.7 1 -0.3 1 -0.4 1 -0.6 1 -0.4 1 -0.2 1 -0.2 1 -0.1 1 -0.1 1 -0.2 1 -0.1 1 -0.1 1 -0.1 1 -0.1 1 -0 1 -0.1 1 -0.1 1 -0 1 0.9 1 2.2 1 2.4 1 1.7 1 0.4 1 -0.2 1 -0.4 1 -0.4 1 -0.5 1 -0.5 1 -0.5 1 -0.4 1 -0.3 1 -0.1 1 0 1 0.1 1 0.1 1 0.2 1 0.2 1 0.3 1 0.3 1 0.4 1 1.1 1 1.9 1 2.4 1 2.6 1 2.8 1 2.5 1 2.1 1 1.4 1 0.5 1 -0.5 1 -1.3 1 -1.8 1 -1.9 1 -1.9 1 -1.5 1 -1.1 1 -0.8 1 -0.7 1 -0.7 1 -0.6 1 -0.8 1 -0.8 1 -1.1 1 -1.4 1 -1.8 1 -2.1 1 -2.2 1 -2.3 1 -2.3 1 -2.1 1 -2 1 -2.2 1 -2.3 1 -2.2 1 -1.8 1 -1.2 1 -0.3 1 0.3 1 0.6 1 0.9 1 1 1 1.1 1 1.2 1 1.1 1 0.9 1 0.8 1 0.7 1 0.7 1 0.7 1 0.6 1 0.4 1 0.3 1 -0.3 1 -1.3 1 -1.7 1 -1.4 1 -1.5 1 -1.5 1 -1.6 1 -1.7 1 -1.6 1 -1.7 1 -1.6 1 -1.5 1 -1.5 1 -1.6 1 -1.8 1 -1.8 1 -1.8 1 -1.7 1 -1.6 1 -1.4 1 -1.1 1 -0.9 1 -0.4 1 -0 1 0.3 1 0.6 1 0.9 1 1 1 1.2 1 1.2 1 1.2 1 1.1 1 1 1 0.8 1 0.9 1 0.8 1 0.8 1 0.8 1 0.8 1 0.9 1 1 1 1 1 1.2 1 1.2 1 1.4 1 1.8 1 2.6 1 2.9 1 3.2 1 3.1 1 2.7 1 2.2 1 1.9 1 1.7 1 1.7 1 1.6 1 1.7 1 1.8 1 2 1 2.6 1 3.4 1 3.6 1 3.4 1 2.7 1 1.3 1 0 1 -0.4 1 -0.7 1 -0.8 1 -1 1 -1.1 1 -1 1 -1.4 1 -1.5 1 -1.8 1 -1.8 1 -1.9 1 -1.9 1 -1.9 0.5 -0.8" stroke="#C0C0C0" stroke-width="1.1" fill="none" stroke-linejoin="round"/>
<path d="M1490.5 1436.0l1 -0.2 1 -0.1 1 -0.2 1 -0.1 1 -0.2 1 -0.1 1 -0.1 1 0 1 0.3 1 0.6 1 0.8 1 0.9 1 1 1 1 1 1.1 1 1.2 1 1.4 1 1.5 1 1.6 1 1.6 1 1.7 1 2 1 2.3 1 2.3 1 2.2 1 2 1 1.5 1 1.2 1 0.9 1 0.9 1 0.7 1 0.7 1 0.7 1 0.7 1 0.8 1 1 1 1.1 1 1.3 1 1.3 1 1.4 1 1.3 1 1.3 1 1.1 1 1 1 0.7 1 0.4 1 0.1 1 -0.5 1 -1.1 1 -1.5 1 -1.7 1 -2 1 -2 1 -2 1 -1.7 1 -1.5 1 -1.1 1 -1.1 1 -1 1 -1.1 1 -1.1 1 -0.9 1 -0.9 1 -0.8 1 -0.7 1 -0.4 1 -0.3 1 -0.1 1 0.2 1 0.4 1 0.7 1 0.8 1 0.9 1 1 1 0.9 1 0.8 1 0.8 1 1 1 1 1 0.9 1 0.7 1 0.4 1 0.1 1 -0.2 1 -0.4 1 -0.6 1 -0.6 1 -0.8 1 -0.8 1 -1 1 -1 1 -1.5 1 -2.1 1 -2.6 1 -2.8 1 -3 1 -3 1 -3 1 -2.7 1 -2.4 1 -2.1 1 -2.1 1 -2.2 1 -2.2 1 -2.2 1 -2 1 -1.9 1 -1.7 1 -1.3 1 -1.1 1 -0.6 1 -0.1 1 0.2 1 0.4 1 0.6 1 0.8 1 0.8 1 1 1 1.1 1 1.1 1 1.6 1 2.4 1 2.8 1 2.9 1 2.9 1 2.5 1 1.9 1 0.9 1 0.3 1 0.2 1 0.2 1 0.2 1 0.1 1 0.2 1 0.1 1 0.1 1 0 1 0.1 1 0 1 0.1 1 -0 1 -0.9 1 -2.7 1 -3.9 1 -4.6 1 -4.6 1 -4.2 1 -3.2 1 -3.2 1 -3.3 1 -3.4 1 -3.3 1 -3.2 1 -2.9 1 -2.6 1 -2.3 1 -1.6 1 -1.1 1 -0.4 1 0 1 0.1 1 0.2 1 0.3 1 0.3 1 0.4 1 0.4 1 0.5 1 0.5 1 0.6 1 1 1 1.5 1 1.9 1 2.2 1 2.4 1 2.4 1 2.4 1 2.1 1 1.9 1 1.5 1 1.3 1 1.3 1 1.1 1 1.1 1 1.1 1 1 1 1 1 1 1 1.1 1 1 1 1.2 1 1.1 1 1.3 1 1.5 1 1.7 1 1.8 1 1.8 1 2 1 1.9 1 1.8 1 1.8 1 1.6 1 1.5 1 1.2 1 1 1 0.6 1 0.3 1 -0.2 1 -0.9 1 -1.5 1 -1.9 1 -2.3 1 -2.7 1 -2.8 1 -3 1 -3 1 -2.9 1 -2.8 1 -2.5 1 -2.2 1 -2 1 -2.1 1 -2.2 1 -2.2 1 -2.2 1 -2.1 1 -2 1 -1.7 1 -1.5 1 -1.3 1 -0.8 1 -0.4 1 0.1 1 0.6 1 1 1 1.5 1 1.7 1 1.9 1 2.1 1 2 1 1.9 1 2 1 2.4 1 2.8 1 3 1 2.8 1 2.5 1 1.8 1 1.1 1 0 1 -0.4 1 -0.9 1 -1.2 1 -1.5 1 -1.8 1 -1.9 1 -2 1 -2.2 1 -2.7 1 -3.5 1 -4.2 1 -4.7 1 -5.2 1 -5.5 1 -5.8 1 -6 1 -6 1 -6 1 -5.8 1 -6.3 1 -7.1 1 -7.8 1 -7.8 1 -7.6 1 -6.9 1 -5.8 1 -4.3 1 -3 1 -2.8 1 -2.5 1 -1.9 1 -1.3 1 -0.4 1 0.4 1 1.1 1 1.6 1 2 1 2.2 1 2.4 1 2.4 1 2.4 1 2.1 1 2.1 1 2.1 1 2.2 1 2.3 1 2.4 1 2.4 1 2.7 1 3.3 1 3.6 1 3.7 1 3.5 1 3 1 2.3 1 1.3 1 0.1 1 -0.4 1 -0.7 1 -0.9 1 -1.1 1 -1.1 1 -1.2 1 -1.2 1 -1 1 -0.8 1 -0.5 1 -0.2 1 0.3 1 0.8 1 1.1 1 1.5 1 1.8 1 2 1 2.2 1 2.2 1 3 1 4.4 1 5.2 1 5.8 1 6 1 5.9 1 5.2 1 4.3 1 3.3 1 2.9 1 2.6 1 2.4 1 2.3 1 2.3 1 2.5 1 2.7 1 3.1 1 3.7 1 4 1 4.2 1 4 1 3.7 1 3 1 2.2 1 1.2 1 0.7 1 0.6 1 1.1 1 2.2 1 2.9 1 3.1 1 2.8 1 1.9 1 0.5 1 -0.7 1 -1.2 1 -1.5 1 -1.3 1 -0.6 1 0 1 0.1 1 0.2 1 0.3 1 0.3 1 0.4 1 0.3 1 0.4 1 0.3 1 0.3 1 0.3 1 0.2 1 0.1 1 -0.2 1 -0.9 1 -1.6 1 -2 1 -2.2 1 -4.2 1 -4.4 1 -1.6 1 -1.1 1 -0.8 1 -0.8 1 -0.5 1 -0.5 1 -0.5 1 -0.4 1 -0.5 1 -0.5 1 -0.6 1 -0.7 1 -0.8 1 -0.8 1 -0.9 1 -1.2 1 -1.6 1 -3.4 1 -4.5 1 -4.7 1 -3.9 1 -2.1 1 -0.8 1 -0.7 1 -0.6 1 -0.6 1 -0.4 1 -0.3 1 -0.2 1 -0.2 1 0.1 1 0.1 1 0.3 1 0.3 1 0.4 1 0.3 1 0.4 1 0.2 1 0.2 1 0 1 -1.5 1 -3.1 1 -3.5 1 -3.1 1 -2 1 -1.7 1 -1.6 1 -1.6 1 -1.3 1 -1.1 1 -0.7 1 -0.4 1 0.4 1 1.2 1 1.5 1 1.3 1 0.3 1 -0.8 1 -1.6 1 -2.2 1 -2.5 1 -2.5 1 -2.2 1 -1.6 1 -0.8 1 -0.6 1 -0.6 1 -0.5 1 -0.4 1 -0.4 1 -0.2 1 -0.1 1 0.1 1 0.5 1 0.9 1 1 1 1 1 0.9 1 0.7 1 0.3 1 -0.1 1 -0.4 1 -0.8 1 -1 1 -1.6 1 -8.6 1 -14.3 1 -16.3 1 -14.4 1 -10.1 1 -9.3 1 -8.7 1 -7.9 1 -7 1 -5.6 1 -4.2 1 -4 1 -3.7 1 -3.2 1 -2.4 1 -1.5 1 -0.2 1 1.4 1 2.8 1 3.9 1 4.5 1 4.8 1 4.8 1 5.1 1 6 1 6.7 1 7.2 1 7.6 1 7.9 1 8.5 1 9.2 1 9.9 1 10.4 1 10.7 1 10.9 1 12.1 1 15.3 1 15.3 1 11.7 1 4.7 1 -0.2 1 -0.5 1 -0.5 1 -0.4 1 -0.2 1 -0.1 1 -0.1 1 -0.2 1 -0.1 1 -0 1 -0.1 1 -0.1 1 -0.1 1 -0 1 -0.1 1 -0 1 -0 1 0.9 1 2.2 1 2.4 1 1.8 1 0.3 1 -0.2 1 -0.3 1 -0.5 1 -0.4 1 -0.6 1 -0.4 1 -0.4 1 -0.3 1 -0.1 1 0.1 1 0 1 0.2 1 0.2 1 0.2 1 0.3 1 0.3 1 0.4 1 1.1 1 1.9 1 2.4 1 2.7 1 2.7 1 2.6 1 2.1 1 1.4 1 0.5 1 -0.5 1 -1.2 1 -1.8 1 -2 1 -1.9 1 -1.5 1 -1 1 -0.9 1 -0.7 1 -0.6 1 -0.7 1 -0.8 1 -0.8 1 -1.1 1 -1.4 1 -1.8 1 -2.1 1 -2.2 1 -2.3 1 -2.3 1 -2.1 1 -2 1 -2.1 1 -2.4 1 -2.2 1 -1.8 1 -1.2 1 -0.3 1 0.3 1 0.6 1 0.8 1 1 1 1.1 1 1.2 1 1.1 1 0.9 1 0.8 1 0.7 1 0.7 1 0.6 1 0.6 1 0.4 1 0.3 1 -0.4 1 -1.3 1 -1.6 1 -1.5 1 -1.4 1 -1.6 1 -1.6 1 -1.6 1 -1.7 1 -1.7 1 -1.6 1 -1.5 1 -1.5 1 -1.6 1 -1.8 1 -1.8 1 -1.8 1 -1.7 1 -1.6 1 -1.4 1 -1.2 1 -0.8 1 -0.5 1 0 1 0.4 1 0.6 1 0.9 1 1 1 1.2 1 1.2 1 1.2 1 1.1 1 1 1 0.9 1 0.8 1 0.9 1 0.8 1 0.8 1 0.8 1 0.9 1 1 1 1 1 1.2 1 1.3 1 1.4 1 1.8 1 2.5 1 3 1 3.2 1 3.1 1 2.7 1 2.2 1 1.9 1 1.8 1 1.6 1 1.6 1 1.7 1 1.8 1 2.1 1 2.6 1 3.4 1 3.6 1 3.4 1 2.7 1 1.3 1 0 1 -0.4 1 -0.7 1 -0.8 1 -1 1 -1.1 1 -1.1 1 -1.3 1 -1.6 1 -1.7 1 -1.9 1 -1.9 1 -1.9 1 -1.9 0.5 -0.8" stroke="#000080" stroke-width="1.1" fill="none" stroke-linejoin="round"/>
<path d="M1490.5 1435.4l1 -0.1 1 -0.2 1 -0.2 1 -0.1 1 -0.1 1 -0.1 1 -0.1 1 -0 1 0.3 1 0.5 1 0.8 1 1 1 1 1 1 1 1 1 1.3 1 1.4 1 1.5 1 1.6 1 1.7 1 1.7 1 2 1 2.2 1 2.3 1 2.2 1 2 1 1.6 1 1.1 1 0.9 1 0.9 1 0.7 1 0.7 1 0.7 1 0.7 1 0.8 1 1 1 1.1 1 1.2 1 1.4 1 1.3 1 1.4 1 1.2 1 1.2 1 0.9 1 0.7 1 0.4 1 0.1 1 -0.5 1 -1.1 1 -1.4 1 -1.8 1 -2 1 -2 1 -1.9 1 -1.8 1 -1.5 1 -1.1 1 -1 1 -1.1 1 -1.1 1 -1 1 -1 1 -0.9 1 -0.8 1 -0.6 1 -0.5 1 -0.3 1 -0.1 1 0.2 1 0.4 1 0.7 1 0.8 1 1 1 0.9 1 0.9 1 0.8 1 0.8 1 1 1 1 1 0.9 1 0.7 1 0.4 1 0.1 1 -0.2 1 -0.4 1 -0.5 1 -0.7 1 -0.8 1 -0.8 1 -0.9 1 -1 1 -1.6 1 -2.1 1 -2.5 1 -2.9 1 -3 1 -3 1 -2.9 1 -2.8 1 -2.4 1 -2 1 -2.2 1 -2.2 1 -2.2 1 -2.1 1 -2.1 1 -1.9 1 -1.6 1 -1.4 1 -1 1 -0.7 1 -0.1 1 0.2 1 0.4 1 0.6 1 0.8 1 0.8 1 1 1 1.1 1 1 1 1.7 1 2.3 1 2.8 1 3 1 2.9 1 2.5 1 1.8 1 0.9 1 0.3 1 0.2 1 0.2 1 0.2 1 0.2 1 0.1 1 0.1 1 0.1 1 0.1 1 0 1 0.1 1 0 1 0 1 -0.9 1 -2.6 1 -4 1 -4.5 1 -4.7 1 -4.1 1 -3.2 1 -3.2 1 -3.3 1 -3.4 1 -3.3 1 -3.2 1 -2.9 1 -2.7 1 -2.2 1 -1.7 1 -1 1 -0.4 1 0 1 0.1 1 0.2 1 0.3 1 0.3 1 0.4 1 0.4 1 0.5 1 0.5 1 0.6 1 1 1 1.5 1 1.9 1 2.2 1 2.4 1 2.4 1 2.4 1 2.1 1 1.9 1 1.5 1 1.3 1 1.3 1 1.1 1 1.1 1 1.1 1 1 1 1 1 1 1 1.1 1 1 1 1.2 1 1.1 1 1.3 1 1.5 1 1.7 1 1.8 1 1.8 1 1.9 1 2 1 1.8 1 1.8 1 1.6 1 1.5 1 1.2 1 1 1 0.6 1 0.3 1 -0.2 1 -0.9 1 -1.5 1 -1.9 1 -2.4 1 -2.6 1 -2.9 1 -2.9 1 -3 1 -3 1 -2.8 1 -2.5 1 -2.2 1 -1.9 1 -2.1 1 -2.2 1 -2.2 1 -2.2 1 -2.2 1 -1.9 1 -1.8 1 -1.5 1 -1.2 1 -0.9 1 -0.4 1 0.1 1 0.6 1 1.1 1 1.4 1 1.7 1 2 1 2 1 2 1 2 1 1.9 1 2.5 1 2.8 1 2.9 1 2.9 1 2.4 1 1.9 1 1.1 1 0 1 -0.4 1 -0.9 1 -1.2 1 -1.5 1 -1.8 1 -1.9 1 -2.1 1 -2.1 1 -2.8 1 -3.5 1 -4.1 1 -4.8 1 -5.1 1 -5.6 1 -5.8 1 -5.9 1 -6.1 1 -6 1 -5.8 1 -6.2 1 -7.2 1 -7.7 1 -7.9 1 -7.6 1 -6.9 1 -5.8 1 -4.3 1 -3 1 -2.8 1 -2.5 1 -1.9 1 -1.3 1 -0.4 1 0.4 1 1.1 1 1.6 1 2 1 2.2 1 2.4 1 2.4 1 2.4 1 2.1 1 2.1 1 2.1 1 2.2 1 2.3 1 2.4 1 2.4 1 2.7 1 3.3 1 3.6 1 3.7 1 3.5 1 3 1 2.3 1 1.3 1 0.1 1 -0.4 1 -0.7 1 -0.9 1 -1.1 1 -1.1 1 -1.2 1 -1.2 1 -1 1 -0.7 1 -0.6 1 -0.1 1 0.2 1 0.8 1 1.2 1 1.5 1 1.8 1 2 1 2.1 1 2.3 1 3 1 4.4 1 5.3 1 5.8 1 6 1 5.8 1 5.2 1 4.3 1 3.3 1 2.9 1 2.6 1 2.4 1 2.3 1 2.4 1 2.4 1 2.7 1 3.1 1 3.7 1 4.1 1 4.1 1 4.1 1 3.6 1 3.1 1 2.2 1 1.2 1 0.6 1 0.7 1 1 1 2.2 1 2.9 1 3.1 1 2.8 1 1.9 1 0.5 1 -0.6 1 -1.3 1 -1.5 1 -1.2 1 -0.7 1 0 1 0.1 1 0.3 1 0.2 1 0.3 1 0.4 1 0.3 1 0.4 1 0.3 1 0.3 1 0.3 1 0.2 1 0.1 1 -0.2 1 -0.9 1 -1.6 1 -2 1 -2.2 1 -4.2 1 -4.4 1 -1.6 1 -1.1 1 -0.9 1 -0.7 1 -0.6 1 -0.4 1 -0.5 1 -0.4 1 -0.5 1 -0.5 1 -0.6 1 -0.7 1 -0.8 1 -0.8 1 -1 1 -1.1 1 -1.7 1 -3.3 1 -4.6 1 -4.7 1 -3.9 1 -2 1 -0.8 1 -0.7 1 -0.7 1 -0.5 1 -0.4 1 -0.4 1 -0.2 1 -0.1 1 0 1 0.2 1 0.2 1 0.3 1 0.4 1 0.4 1 0.3 1 0.3 1 0.2 1 -0 1 -1.6 1 -3 1 -3.6 1 -3.1 1 -1.9 1 -1.7 1 -1.7 1 -1.5 1 -1.4 1 -1.1 1 -0.7 1 -0.3 1 0.3 1 1.3 1 1.5 1 1.2 1 0.4 1 -0.8 1 -1.6 1 -2.2 1 -2.5 1 -2.5 1 -2.2 1 -1.6 1 -0.9 1 -0.6 1 -0.6 1 -0.5 1 -0.4 1 -0.3 1 -0.3 1 -0.1 1 0.1 1 0.6 1 0.8 1 1 1 1.1 1 0.9 1 0.6 1 0.3 1 -0.1 1 -0.4 1 -0.7 1 -1 1 -1.7 1 -8.5 1 -14.4 1 -16.3 1 -14.4 1 -10.1 1 -9.2 1 -8.8 1 -7.9 1 -6.9 1 -5.6 1 -4.3 1 -4 1 -3.7 1 -3.1 1 -2.5 1 -1.4 1 -0.3 1 1.4 1 2.8 1 3.9 1 4.5 1 4.8 1 4.8 1 5.1 1 6 1 6.7 1 7.2 1 7.6 1 7.9 1 8.5 1 9.2 1 9.9 1 10.4 1 10.7 1 10.8 1 12.2 1 15.3 1 15.2 1 11.8 1 4.6 1 -0.2 1 -0.4 1 -0.5 1 -0.4 1 -0.2 1 -0.1 1 -0.1 1 -0.1 1 -0.1 1 -0.1 1 -0.1 1 -0.1 1 -0 1 -0.1 1 -0 1 -0.1 1 0 1 1 1 2.1 1 2.5 1 1.7 1 0.4 1 -0.2 1 -0.3 1 -0.5 1 -0.5 1 -0.5 1 -0.4 1 -0.4 1 -0.3 1 -0.1 1 0 1 0.1 1 0.2 1 0.2 1 0.2 1 0.3 1 0.3 1 0.4 1 1.1 1 1.9 1 2.4 1 2.7 1 2.7 1 2.6 1 2.1 1 1.4 1 0.6 1 -0.5 1 -1.3 1 -1.8 1 -2 1 -1.9 1 -1.5 1 -1 1 -0.8 1 -0.8 1 -0.6 1 -0.7 1 -0.7 1 -0.9 1 -1.1 1 -1.4 1 -1.8 1 -2 1 -2.3 1 -2.3 1 -2.3 1 -2.1 1 -1.9 1 -2.2 1 -2.3 1 -2.2 1 -1.8 1 -1.2 1 -0.3 1 0.2 1 0.6 1 0.9 1 1 1 1.1 1 1.1 1 1.1 1 0.9 1 0.8 1 0.7 1 0.6 1 0.7 1 0.6 1 0.4 1 0.2 1 -0.3 1 -1.3 1 -1.6 1 -1.5 1 -1.5 1 -1.5 1 -1.6 1 -1.7 1 -1.6 1 -1.7 1 -1.6 1 -1.6 1 -1.4 1 -1.7 1 -1.7 1 -1.8 1 -1.8 1 -1.7 1 -1.6 1 -1.5 1 -1.1 1 -0.9 1 -0.4 1 -0 1 0.3 1 0.7 1 0.8 1 1.1 1 1.1 1 1.2 1 1.2 1 1.2 1 1 1 0.9 1 0.8 1 0.8 1 0.8 1 0.9 1 0.8 1 0.9 1 1 1 1 1 1.2 1 1.3 1 1.4 1 1.8 1 2.5 1 3 1 3.2 1 3.1 1 2.7 1 2.2 1 1.9 1 1.8 1 1.6 1 1.6 1 1.7 1 1.8 1 2.1 1 2.6 1 3.4 1 3.7 1 3.4 1 2.6 1 1.4 1 -0 1 -0.5 1 -0.6 1 -0.9 1 -1 1 -1.1 1 -1.1 1 -1.3 1 -1.6 1 -1.7 1 -1.9 1 -1.9 1 -1.9 1 -1.9 0.5 -0.8" stroke="#0000B0" stroke-width="1.1" fill="none" stroke-linejoin="round"/>
<path d="M1490.5 1434.5l1 -0.1 1 -0.2 1 -0.1 1 -0.2 1 -0.1 1 -0.1 1 -0.1 1 0 1 0.3 1 0.6 1 0.8 1 1 1 1 1 1 1 1.1 1 1.2 1 1.4 1 1.6 1 1.6 1 1.6 1 1.7 1 2 1 2.3 1 2.3 1 2.2 1 2 1 1.5 1 1.1 1 1 1 0.8 1 0.7 1 0.7 1 0.7 1 0.7 1 0.8 1 1 1 1.1 1 1.3 1 1.3 1 1.3 1 1.4 1 1.2 1 1.1 1 1 1 0.7 1 0.4 1 0.1 1 -0.6 1 -1 1 -1.5 1 -1.8 1 -1.9 1 -2 1 -2 1 -1.8 1 -1.4 1 -1.1 1 -1.1 1 -1.1 1 -1.1 1 -1 1 -1 1 -0.9 1 -0.8 1 -0.6 1 -0.5 1 -0.3 1 -0.1 1 0.2 1 0.5 1 0.6 1 0.9 1 0.9 1 0.9 1 0.9 1 0.8 1 0.8 1 1 1 1 1 0.9 1 0.7 1 0.5 1 -0 1 -0.2 1 -0.4 1 -0.5 1 -0.7 1 -0.8 1 -0.8 1 -0.9 1 -1 1 -1.6 1 -2.1 1 -2.5 1 -2.8 1 -3 1 -3.1 1 -2.9 1 -2.8 1 -2.4 1 -2 1 -2.1 1 -2.2 1 -2.3 1 -2.1 1 -2.1 1 -1.9 1 -1.6 1 -1.4 1 -1 1 -0.6 1 -0.2 1 0.2 1 0.4 1 0.6 1 0.8 1 0.8 1 1 1 1 1 1.1 1 1.6 1 2.4 1 2.8 1 2.9 1 2.9 1 2.5 1 1.8 1 1 1 0.2 1 0.3 1 0.2 1 0.1 1 0.2 1 0.1 1 0.1 1 0.1 1 0.1 1 0.1 1 0 1 0.1 1 -0 1 -0.9 1 -2.7 1 -3.9 1 -4.6 1 -4.6 1 -4.2 1 -3.2 1 -3.2 1 -3.3 1 -3.3 1 -3.3 1 -3.2 1 -3 1 -2.6 1 -2.2 1 -1.7 1 -1.1 1 -0.3 1 0 1 0.1 1 0.2 1 0.3 1 0.3 1 0.4 1 0.4 1 0.5 1 0.5 1 0.6 1 1 1 1.5 1 1.9 1 2.2 1 2.4 1 2.4 1 2.4 1 2.1 1 1.9 1 1.5 1 1.3 1 1.2 1 1.2 1 1.1 1 1.1 1 1 1 1 1 1 1 1.1 1 1 1 1.2 1 1.1 1 1.3 1 1.5 1 1.7 1 1.7 1 1.9 1 1.9 1 1.9 1 1.9 1 1.8 1 1.6 1 1.5 1 1.2 1 1 1 0.6 1 0.3 1 -0.3 1 -0.8 1 -1.5 1 -1.9 1 -2.4 1 -2.6 1 -2.9 1 -3 1 -3 1 -2.9 1 -2.8 1 -2.5 1 -2.2 1 -2 1 -2.1 1 -2.2 1 -2.2 1 -2.2 1 -2.1 1 -2 1 -1.8 1 -1.5 1 -1.2 1 -0.9 1 -0.4 1 0.1 1 0.6 1 1.1 1 1.4 1 1.8 1 1.9 1 2 1 2.1 1 1.9 1 2 1 2.4 1 2.9 1 2.9 1 2.8 1 2.5 1 1.9 1 1 1 0.1 1 -0.4 1 -0.9 1 -1.2 1 -1.6 1 -1.7 1 -2 1 -2 1 -2.1 1 -2.8 1 -3.5 1 -4.2 1 -4.7 1 -5.2 1 -5.6 1 -5.8 1 -5.9 1 -6 1 -6 1 -5.9 1 -6.2 1 -7.2 1 -7.7 1 -7.9 1 -7.6 1 -6.9 1 -5.8 1 -4.3 1 -3 1 -2.8 1 -2.5 1 -2 1 -1.3 1 -0.4 1 0.5 1 1 1 1.6 1 2 1 2.3 1 2.4 1 2.4 1 2.3 1 2.1 1 2.1 1 2.2 1 2.2 1 2.3 1 2.4 1 2.4 1 2.7 1 3.2 1 3.6 1 3.7 1 3.5 1 3.1 1 2.3 1 1.3 1 0.1 1 -0.4 1 -0.7 1 -0.9 1 -1.1 1 -1.2 1 -1.1 1 -1.2 1 -1 1 -0.8 1 -0.5 1 -0.1 1 0.3 1 0.7 1 1.2 1 1.5 1 1.8 1 2 1 2.2 1 2.3 1 3 1 4.4 1 5.3 1 5.8 1 6 1 5.8 1 5.3 1 4.3 1 3.3 1 2.9 1 2.6 1 2.4 1 2.3 1 2.3 1 2.5 1 2.7 1 3.1 1 3.7 1 4 1 4.2 1 4 1 3.7 1 3 1 2.2 1 1.2 1 0.7 1 0.6 1 1.1 1 2.2 1 2.9 1 3.1 1 2.7 1 1.9 1 0.6 1 -0.7 1 -1.3 1 -1.4 1 -1.3 1 -0.7 1 0 1 0.2 1 0.2 1 0.2 1 0.4 1 0.3 1 0.4 1 0.3 1 0.3 1 0.3 1 0.3 1 0.2 1 0.1 1 -0.2 1 -0.9 1 -1.6 1 -2 1 -2.2 1 -4.2 1 -4.5 1 -1.5 1 -1.1 1 -0.9 1 -0.7 1 -0.6 1 -0.5 1 -0.4 1 -0.4 1 -0.5 1 -0.5 1 -0.6 1 -0.8 1 -0.8 1 -0.8 1 -0.9 1 -1.1 1 -1.7 1 -3.4 1 -4.5 1 -4.7 1 -3.9 1 -2.1 1 -0.8 1 -0.7 1 -0.6 1 -0.5 1 -0.5 1 -0.3 1 -0.2 1 -0.1 1 -0 1 0.1 1 0.3 1 0.3 1 0.4 1 0.3 1 0.4 1 0.2 1 0.2 1 0 1 -1.5 1 -3.1 1 -3.6 1 -3 1 -2 1 -1.7 1 -1.7 1 -1.5 1 -1.4 1 -1 1 -0.8 1 -0.3 1 0.4 1 1.2 1 1.5 1 1.2 1 0.4 1 -0.8 1 -1.6 1 -2.2 1 -2.5 1 -2.5 1 -2.2 1 -1.6 1 -0.8 1 -0.7 1 -0.5 1 -0.6 1 -0.4 1 -0.3 1 -0.3 1 -0.1 1 0.2 1 0.5 1 0.8 1 1 1 1.1 1 0.9 1 0.7 1 0.2 1 -0.1 1 -0.4 1 -0.7 1 -1 1 -1.7 1 -8.5 1 -14.4 1 -16.3 1 -14.4 1 -10.1 1 -9.2 1 -8.8 1 -7.9 1 -6.9 1 -5.6 1 -4.3 1 -4 1 -3.7 1 -3.1 1 -2.5 1 -1.4 1 -0.3 1 1.4 1 2.8 1 3.9 1 4.5 1 4.8 1 4.7 1 5.2 1 6 1 6.6 1 7.2 1 7.7 1 7.9 1 8.4 1 9.3 1 9.8 1 10.4 1 10.7 1 10.9 1 12.1 1 15.3 1 15.3 1 11.7 1 4.7 1 -0.2 1 -0.4 1 -0.5 1 -0.5 1 -0.1 1 -0.1 1 -0.1 1 -0.1 1 -0.1 1 -0.1 1 -0.1 1 -0.1 1 -0 1 -0.1 1 0 1 -0 1 -0 1 0.9 1 2.2 1 2.4 1 1.8 1 0.3 1 -0.2 1 -0.3 1 -0.4 1 -0.5 1 -0.5 1 -0.5 1 -0.4 1 -0.2 1 -0.1 1 0 1 0.1 1 0.2 1 0.2 1 0.2 1 0.3 1 0.3 1 0.4 1 1.1 1 1.9 1 2.4 1 2.7 1 2.8 1 2.5 1 2.1 1 1.5 1 0.5 1 -0.5 1 -1.3 1 -1.8 1 -2 1 -1.9 1 -1.5 1 -1 1 -0.8 1 -0.7 1 -0.7 1 -0.7 1 -0.7 1 -0.9 1 -1 1 -1.4 1 -1.8 1 -2.1 1 -2.2 1 -2.4 1 -2.2 1 -2.1 1 -2 1 -2.2 1 -2.3 1 -2.2 1 -1.8 1 -1.2 1 -0.3 1 0.3 1 0.5 1 0.9 1 1 1 1.1 1 1.1 1 1.1 1 0.9 1 0.8 1 0.7 1 0.6 1 0.7 1 0.6 1 0.4 1 0.2 1 -0.3 1 -1.3 1 -1.7 1 -1.4 1 -1.5 1 -1.6 1 -1.6 1 -1.6 1 -1.7 1 -1.6 1 -1.6 1 -1.6 1 -1.5 1 -1.6 1 -1.7 1 -1.9 1 -1.8 1 -1.7 1 -1.6 1 -1.4 1 -1.2 1 -0.8 1 -0.5 1 0 1 0.4 1 0.6 1 0.9 1 1 1 1.2 1 1.2 1 1.2 1 1.1 1 1 1 0.9 1 0.9 1 0.8 1 0.8 1 0.8 1 0.9 1 0.9 1 1 1 1 1 1.2 1 1.2 1 1.5 1 1.8 1 2.5 1 3 1 3.2 1 3.1 1 2.7 1 2.2 1 1.9 1 1.8 1 1.6 1 1.7 1 1.6 1 1.9 1 2 1 2.6 1 3.4 1 3.7 1 3.4 1 2.6 1 1.4 1 -0 1 -0.4 1 -0.7 1 -0.9 1 -1 1 -1.1 1 -1 1 -1.4 1 -1.6 1 -1.7 1 -1.9 1 -1.9 1 -1.9 1 -1.9 0.5 -0.8" stroke="#0000FF" stroke-width="1.1" fill="none" stroke-linejoin="round"/>
<path d="M1490.5 1433.7l1 -0.1 1 -0.2 1 -0.1 1 -0.1 1 -0.2 1 -0 1 -0.1 1 0 1 0.3 1 0.6 1 0.8 1 1 1 1 1 1 1 1.1 1 1.3 1 1.4 1 1.5 1 1.6 1 1.7 1 1.7 1 2 1 2.2 1 2.3 1 2.2 1 2 1 1.6 1 1.1 1 0.9 1 0.8 1 0.8 1 0.7 1 0.6 1 0.8 1 0.8 1 0.9 1 1.1 1 1.3 1 1.3 1 1.3 1 1.3 1 1.3 1 1.1 1 0.9 1 0.7 1 0.4 1 0.1 1 -0.5 1 -1.1 1 -1.5 1 -1.7 1 -2 1 -2 1 -2 1 -1.7 1 -1.5 1 -1.1 1 -1.1 1 -1.1 1 -1 1 -1.1 1 -1 1 -0.9 1 -0.7 1 -0.7 1 -0.5 1 -0.3 1 -0.1 1 0.2 1 0.5 1 0.7 1 0.8 1 0.9 1 0.9 1 0.9 1 0.8 1 0.9 1 0.9 1 1 1 0.9 1 0.8 1 0.4 1 0 1 -0.2 1 -0.4 1 -0.5 1 -0.7 1 -0.7 1 -0.9 1 -0.9 1 -1 1 -1.6 1 -2.1 1 -2.5 1 -2.8 1 -3 1 -3 1 -3 1 -2.7 1 -2.4 1 -2.1 1 -2.1 1 -2.2 1 -2.2 1 -2.2 1 -2.1 1 -1.8 1 -1.7 1 -1.4 1 -1 1 -0.6 1 -0.2 1 0.2 1 0.4 1 0.6 1 0.7 1 0.9 1 1 1 1 1 1.1 1 1.6 1 2.3 1 2.8 1 3 1 2.8 1 2.5 1 1.9 1 0.9 1 0.3 1 0.2 1 0.2 1 0.2 1 0.1 1 0.2 1 0.1 1 0.1 1 0.1 1 0 1 0.1 1 -0 1 0 1 -0.9 1 -2.6 1 -3.9 1 -4.6 1 -4.7 1 -4.1 1 -3.2 1 -3.2 1 -3.3 1 -3.3 1 -3.4 1 -3.1 1 -3 1 -2.6 1 -2.2 1 -1.7 1 -1.1 1 -0.3 1 -0 1 0.1 1 0.2 1 0.3 1 0.3 1 0.4 1 0.4 1 0.5 1 0.5 1 0.6 1 1 1 1.5 1 1.9 1 2.2 1 2.4 1 2.4 1 2.3 1 2.2 1 1.9 1 1.5 1 1.3 1 1.2 1 1.2 1 1.1 1 1.1 1 1 1 1 1 1 1 1.1 1 1 1 1.2 1 1.1 1 1.3 1 1.5 1 1.7 1 1.7 1 1.9 1 1.9 1 1.9 1 1.9 1 1.8 1 1.6 1 1.5 1 1.2 1 0.9 1 0.7 1 0.3 1 -0.3 1 -0.8 1 -1.5 1 -2 1 -2.3 1 -2.7 1 -2.8 1 -3 1 -3 1 -3 1 -2.8 1 -2.5 1 -2.2 1 -2 1 -2.1 1 -2.2 1 -2.2 1 -2.2 1 -2.1 1 -2 1 -1.8 1 -1.5 1 -1.2 1 -0.9 1 -0.4 1 0.1 1 0.6 1 1.1 1 1.4 1 1.8 1 1.9 1 2.1 1 2 1 2 1 1.9 1 2.5 1 2.8 1 3 1 2.8 1 2.5 1 1.9 1 1 1 0.1 1 -0.5 1 -0.8 1 -1.3 1 -1.5 1 -1.8 1 -1.9 1 -2 1 -2.2 1 -2.7 1 -3.6 1 -4.2 1 -4.7 1 -5.2 1 -5.5 1 -5.8 1 -6 1 -6 1 -6 1 -5.9 1 -6.2 1 -7.2 1 -7.7 1 -7.9 1 -7.6 1 -6.9 1 -5.8 1 -4.3 1 -3 1 -2.8 1 -2.5 1 -2 1 -1.3 1 -0.4 1 0.4 1 1.1 1 1.6 1 2 1 2.2 1 2.4 1 2.4 1 2.4 1 2.1 1 2.1 1 2.1 1 2.3 1 2.3 1 2.3 1 2.5 1 2.6 1 3.3 1 3.6 1 3.7 1 3.5 1 3 1 2.3 1 1.3 1 0.1 1 -0.3 1 -0.7 1 -0.9 1 -1.1 1 -1.2 1 -1.2 1 -1.1 1 -1 1 -0.8 1 -0.5 1 -0.1 1 0.3 1 0.7 1 1.2 1 1.6 1 1.8 1 2 1 2.2 1 2.3 1 3 1 4.4 1 5.3 1 5.8 1 6 1 5.9 1 5.2 1 4.3 1 3.3 1 2.9 1 2.6 1 2.4 1 2.3 1 2.4 1 2.4 1 2.7 1 3.1 1 3.7 1 4.1 1 4.1 1 4.1 1 3.6 1 3.1 1 2.2 1 1.2 1 0.6 1 0.7 1 1 1 2.2 1 2.9 1 3.1 1 2.8 1 1.9 1 0.5 1 -0.7 1 -1.2 1 -1.5 1 -1.3 1 -0.7 1 0.1 1 0.1 1 0.2 1 0.3 1 0.3 1 0.3 1 0.4 1 0.3 1 0.3 1 0.3 1 0.3 1 0.2 1 0 1 -0.1 1 -0.9 1 -1.6 1 -2 1 -2.2 1 -4.2 1 -4.5 1 -1.5 1 -1.1 1 -0.9 1 -0.7 1 -0.6 1 -0.5 1 -0.4 1 -0.5 1 -0.4 1 -0.5 1 -0.7 1 -0.7 1 -0.8 1 -0.8 1 -0.9 1 -1.2 1 -1.6 1 -3.4 1 -4.5 1 -4.7 1 -3.9 1 -2.1 1 -0.8 1 -0.7 1 -0.7 1 -0.5 1 -0.4 1 -0.3 1 -0.3 1 -0.1 1 0 1 0.2 1 0.2 1 0.3 1 0.4 1 0.4 1 0.3 1 0.3 1 0.2 1 -0 1 -1.6 1 -3.1 1 -3.5 1 -3.1 1 -1.9 1 -1.8 1 -1.6 1 -1.6 1 -1.3 1 -1.1 1 -0.7 1 -0.4 1 0.4 1 1.2 1 1.5 1 1.2 1 0.4 1 -0.8 1 -1.6 1 -2.2 1 -2.5 1 -2.5 1 -2.2 1 -1.6 1 -0.8 1 -0.6 1 -0.6 1 -0.5 1 -0.5 1 -0.3 1 -0.2 1 -0.2 1 0.2 1 0.5 1 0.8 1 1 1 1.1 1 0.9 1 0.7 1 0.2 1 -0.1 1 -0.4 1 -0.7 1 -1 1 -1.7 1 -8.5 1 -14.4 1 -16.3 1 -14.4 1 -10.1 1 -9.2 1 -8.8 1 -7.9 1 -6.9 1 -5.6 1 -4.3 1 -4 1 -3.7 1 -3.1 1 -2.5 1 -1.4 1 -0.3 1 1.4 1 2.8 1 3.9 1 4.5 1 4.8 1 4.7 1 5.2 1 6 1 6.6 1 7.2 1 7.7 1 7.9 1 8.4 1 9.2 1 9.9 1 10.4 1 10.7 1 10.8 1 12.2 1 15.3 1 15.2 1 11.7 1 4.7 1 -0.2 1 -0.4 1 -0.5 1 -0.4 1 -0.2 1 -0.1 1 -0.1 1 -0.1 1 -0 1 -0.1 1 -0.1 1 -0 1 -0.1 1 -0 1 -0.1 1 0 1 0 1 0.9 1 2.2 1 2.5 1 1.7 1 0.4 1 -0.2 1 -0.3 1 -0.5 1 -0.4 1 -0.5 1 -0.5 1 -0.4 1 -0.2 1 -0.1 1 0 1 0.1 1 0.2 1 0.2 1 0.2 1 0.3 1 0.3 1 0.4 1 1.1 1 1.9 1 2.4 1 2.7 1 2.8 1 2.5 1 2.1 1 1.5 1 0.5 1 -0.5 1 -1.3 1 -1.8 1 -2 1 -1.9 1 -1.5 1 -1 1 -0.8 1 -0.7 1 -0.7 1 -0.6 1 -0.8 1 -0.8 1 -1.1 1 -1.4 1 -1.8 1 -2.1 1 -2.2 1 -2.3 1 -2.3 1 -2.1 1 -2 1 -2.1 1 -2.4 1 -2.2 1 -1.8 1 -1.2 1 -0.3 1 0.3 1 0.6 1 0.8 1 1 1 1.1 1 1.1 1 1.1 1 0.9 1 0.8 1 0.6 1 0.7 1 0.7 1 0.5 1 0.5 1 0.2 1 -0.4 1 -1.3 1 -1.6 1 -1.5 1 -1.4 1 -1.6 1 -1.6 1 -1.7 1 -1.6 1 -1.7 1 -1.6 1 -1.6 1 -1.4 1 -1.7 1 -1.7 1 -1.8 1 -1.8 1 -1.8 1 -1.6 1 -1.4 1 -1.1 1 -0.9 1 -0.4 1 -0 1 0.3 1 0.7 1 0.8 1 1.1 1 1.1 1 1.2 1 1.3 1 1.1 1 1 1 0.9 1 0.8 1 0.9 1 0.8 1 0.8 1 0.9 1 0.9 1 0.9 1 1.1 1 1.1 1 1.3 1 1.5 1 1.8 1 2.5 1 3 1 3.2 1 3.1 1 2.7 1 2.2 1 1.9 1 1.8 1 1.6 1 1.7 1 1.7 1 1.8 1 2 1 2.6 1 3.5 1 3.6 1 3.4 1 2.7 1 1.3 1 0 1 -0.4 1 -0.7 1 -0.9 1 -1 1 -1 1 -1.1 1 -1.4 1 -1.5 1 -1.8 1 -1.9 1 -1.9 1 -1.9 1 -1.9 0.5 -0.8" stroke="#00FFFF" stroke-width="1.1" fill="none" stroke-linejoin="round"/>
<path d="M1490.0 1432.9l1 -0.1 1 -0.1 1 -0.2 1 -0.1 1 -0.1 1 -0.1 1 -0.1 1 0 1 0.1 1 0.5 1 0.7 1 0.9 1 1.1 1 1 1 1 1 1.2 1 1.3 1 1.5 1 1.6 1 1.7 1 1.7 1 1.8 1 2.1 1 2.3 1 2.3 1 2.1 1 1.7 1 1.3 1 1.1 1 0.8 1 0.8 1 0.7 1 0.7 1 0.7 1 0.7 1 0.9 1 1 1 1.2 1 1.3 1 1.3 1 1.3 1 1.3 1 1.2 1 1 1 0.8 1 0.5 1 0.3 1 -0.2 1 -0.8 1 -1.3 1 -1.6 1 -1.9 1 -2 1 -2 1 -1.9 1 -1.6 1 -1.3 1 -1.1 1 -1 1 -1.1 1 -1.1 1 -1 1 -1 1 -0.8 1 -0.7 1 -0.6 1 -0.4 1 -0.2 1 0.1 1 0.3 1 0.6 1 0.7 1 0.9 1 0.9 1 1 1 0.8 1 0.8 1 0.9 1 1 1 1 1 0.8 1 0.6 1 0.2 1 -0.1 1 -0.3 1 -0.5 1 -0.5 1 -0.8 1 -0.8 1 -0.9 1 -0.9 1 -1.2 1 -1.9 1 -2.3 1 -2.7 1 -2.9 1 -3.1 1 -3 1 -2.8 1 -2.6 1 -2.2 1 -2.1 1 -2.1 1 -2.3 1 -2.2 1 -2.1 1 -2 1 -1.7 1 -1.6 1 -1.2 1 -0.8 1 -0.4 1 0.1 1 0.2 1 0.5 1 0.7 1 0.8 1 0.9 1 1 1 1.1 1 1.2 1 2 1 2.6 1 2.9 1 2.9 1 2.7 1 2.2 1 1.4 1 0.5 1 0.2 1 0.2 1 0.2 1 0.2 1 0.2 1 0.1 1 0.1 1 0.1 1 0.1 1 0 1 0.1 1 -0 1 -0.2 1 -1.8 1 -3.4 1 -4.3 1 -4.7 1 -4.4 1 -3.7 1 -3.1 1 -3.2 1 -3.3 1 -3.4 1 -3.2 1 -3.1 1 -2.8 1 -2.4 1 -2 1 -1.4 1 -0.7 1 -0.1 1 0.1 1 0.2 1 0.2 1 0.3 1 0.3 1 0.4 1 0.5 1 0.5 1 0.5 1 0.7 1 1.3 1 1.7 1 2.1 1 2.3 1 2.4 1 2.4 1 2.3 1 2 1 1.7 1 1.4 1 1.3 1 1.2 1 1.1 1 1.1 1 1 1 1.1 1 1 1 1 1 1 1 1.1 1 1.2 1 1.2 1 1.4 1 1.5 1 1.8 1 1.8 1 1.9 1 1.9 1 1.9 1 1.8 1 1.8 1 1.5 1 1.3 1 1.1 1 0.8 1 0.5 1 0.1 1 -0.6 1 -1.2 1 -1.7 1 -2.2 1 -2.5 1 -2.8 1 -2.9 1 -3 1 -3 1 -2.9 1 -2.7 1 -2.4 1 -2 1 -2 1 -2.2 1 -2.2 1 -2.2 1 -2.2 1 -2.1 1 -1.9 1 -1.6 1 -1.4 1 -1.1 1 -0.6 1 -0.2 1 0.4 1 0.8 1 1.3 1 1.6 1 1.9 1 2 1 2.1 1 2 1 1.9 1 2.2 1 2.7 1 2.9 1 2.9 1 2.7 1 2.2 1 1.5 1 0.6 1 -0.2 1 -0.7 1 -1.1 1 -1.4 1 -1.6 1 -1.9 1 -2 1 -2.1 1 -2.4 1 -3.1 1 -3.9 1 -4.5 1 -4.9 1 -5.4 1 -5.7 1 -5.9 1 -6 1 -6.1 1 -5.9 1 -5.9 1 -6.8 1 -7.5 1 -7.8 1 -7.8 1 -7.3 1 -6.5 1 -5 1 -3.5 1 -2.9 1 -2.7 1 -2.3 1 -1.6 1 -0.9 1 0 1 0.8 1 1.3 1 1.8 1 2.2 1 2.3 1 2.4 1 2.4 1 2.3 1 2 1 2.2 1 2.1 1 2.3 1 2.3 1 2.4 1 2.5 1 3 1 3.5 1 3.7 1 3.6 1 3.3 1 2.7 1 1.8 1 0.7 1 -0.2 1 -0.5 1 -0.8 1 -1 1 -1.2 1 -1.2 1 -1.1 1 -1.1 1 -0.9 1 -0.6 1 -0.4 1 0.1 1 0.6 1 1 1 1.3 1 1.7 1 2 1 2.1 1 2.3 1 2.5 1 3.7 1 4.9 1 5.6 1 6 1 6 1 5.6 1 4.8 1 3.7 1 3.1 1 2.7 1 2.5 1 2.4 1 2.3 1 2.4 1 2.5 1 2.9 1 3.4 1 3.9 1 4.2 1 4.1 1 3.9 1 3.4 1 2.6 1 1.7 1 0.8 1 0.6 1 0.8 1 1.6 1 2.6 1 3 1 3 1 2.5 1 1.2 1 -0.1 1 -1.1 1 -1.4 1 -1.4 1 -1.1 1 -0.2 1 0.1 1 0.1 1 0.3 1 0.3 1 0.3 1 0.3 1 0.4 1 0.3 1 0.3 1 0.3 1 0.2 1 0.2 1 -0 1 -0.5 1 -1.3 1 -1.8 1 -2.2 1 -2.8 1 -5 1 -2.9 1 -1.2 1 -0.9 1 -0.8 1 -0.7 1 -0.5 1 -0.5 1 -0.4 1 -0.5 1 -0.4 1 -0.6 1 -0.7 1 -0.8 1 -0.8 1 -0.8 1 -1 1 -1.4 1 -2.4 1 -4.1 1 -4.7 1 -4.4 1 -3.1 1 -1.2 1 -0.8 1 -0.6 1 -0.6 1 -0.5 1 -0.4 1 -0.3 1 -0.1 1 -0.1 1 0.1 1 0.2 1 0.3 1 0.3 1 0.4 1 0.3 1 0.3 1 0.3 1 0.1 1 -0.6 1 -2.4 1 -3.4 1 -3.5 1 -2.5 1 -1.7 1 -1.7 1 -1.6 1 -1.5 1 -1.2 1 -0.9 1 -0.6 1 -0 1 0.8 1 1.5 1 1.4 1 0.8 1 -0.2 1 -1.2 1 -2 1 -2.4 1 -2.5 1 -2.4 1 -1.9 1 -1.2 1 -0.7 1 -0.6 1 -0.5 1 -0.5 1 -0.4 1 -0.3 1 -0.2 1 0 1 0.3 1 0.7 1 1 1 1 1 1 1 0.8 1 0.5 1 0.1 1 -0.3 1 -0.6 1 -0.8 1 -1.1 1 -4.5 1 -11.9 1 -15.8 1 -15.8 1 -12.1 1 -9.4 1 -9 1 -8.4 1 -7.5 1 -6.2 1 -4.9 1 -4 1 -3.9 1 -3.5 1 -2.8 1 -2 1 -0.9 1 0.6 1 2.1 1 3.4 1 4.2 1 4.7 1 4.8 1 4.8 1 5.6 1 6.3 1 7 1 7.4 1 7.8 1 8.1 1 8.8 1 9.6 1 10.1 1 10.6 1 10.8 1 11 1 14 1 15.7 1 13.9 1 8.7 1 1.2 1 -0.4 1 -0.4 1 -0.5 1 -0.3 1 -0.1 1 -0.1 1 -0.1 1 -0.1 1 -0 1 -0.1 1 -0.1 1 -0 1 -0 1 -0.1 1 0 1 0 1 0.3 1 1.6 1 2.5 1 2.2 1 1.1 1 -0.1 1 -0.2 1 -0.4 1 -0.5 1 -0.5 1 -0.5 1 -0.4 1 -0.3 1 -0.2 1 0 1 0.1 1 0.1 1 0.2 1 0.2 1 0.3 1 0.3 1 0.3 1 0.7 1 1.6 1 2.1 1 2.6 1 2.8 1 2.7 1 2.3 1 1.8 1 1.1 1 -0 1 -1 1 -1.5 1 -2 1 -2 1 -1.7 1 -1.2 1 -0.9 1 -0.8 1 -0.6 1 -0.7 1 -0.7 1 -0.8 1 -1 1 -1.2 1 -1.6 1 -1.9 1 -2.2 1 -2.3 1 -2.3 1 -2.2 1 -2 1 -2 1 -2.3 1 -2.3 1 -2 1 -1.6 1 -0.8 1 0.1 1 0.4 1 0.7 1 0.9 1 1.1 1 1.1 1 1.1 1 1 1 0.9 1 0.7 1 0.6 1 0.7 1 0.6 1 0.5 1 0.3 1 0.1 1 -0.9 1 -1.6 1 -1.5 1 -1.5 1 -1.5 1 -1.6 1 -1.6 1 -1.7 1 -1.7 1 -1.6 1 -1.6 1 -1.5 1 -1.5 1 -1.7 1 -1.8 1 -1.8 1 -1.8 1 -1.7 1 -1.5 1 -1.3 1 -1 1 -0.7 1 -0.2 1 0.2 1 0.5 1 0.8 1 0.9 1 1.1 1 1.2 1 1.3 1 1.1 1 1.1 1 1 1 0.8 1 0.9 1 0.8 1 0.8 1 0.8 1 0.9 1 1 1 1 1 1.1 1 1.2 1 1.4 1 1.5 1 2.2 1 2.8 1 3.1 1 3.2 1 3 1 2.4 1 2.1 1 1.8 1 1.7 1 1.6 1 1.7 1 1.7 1 1.9 1 2.3 1 3.1 1 3.6 1 3.6 1 3.1 1 2 1 0.6 1 -0.3 1 -0.5 1 -0.8 1 -1 1 -1 1 -1.1 1 -1.2 1 -1.5 1 -1.6 1 -1.9 1 -1.9 1 -1.9 1 -1.9 1 -1.8" stroke="#00FFFF" stroke-width="1.1" fill="none" stroke-linejoin="round"/>
</g>
<rect x="987.4" y="843.5" width="107.2" height="177.5" fill="none" stroke="#FF0000" stroke-width="1.1"/>
<rect x="677.2" y="1396.3" width="106.4" height="78.2" fill="none" stroke="#FF0000" stroke-width="1.1"/>
<circle cx="1347.4" cy="1105.8" r="1.9" fill="none" stroke="#000" stroke-width="0.9"/>
<g><line x1="175.00" y1="68.00" x2="1462.50" y2="68.00" stroke="#000" stroke-width="2"/><line x1="186.00" y1="67.00" x2="186.00" y2="1571.70" stroke="#000" stroke-width="2"/><line x1="1461.70" y1="67.00" x2="1461.70" y2="1571.70" stroke="#000" stroke-width="1.8"/><line x1="185.00" y1="1570.70" x2="1462.60" y2="1570.70" stroke="#000" stroke-width="2"/><line x1="1489.10" y1="68.00" x2="2179.00" y2="68.00" stroke="#000" stroke-width="2"/><line x1="1490.00" y1="67.00" x2="1490.00" y2="1571.70" stroke="#000" stroke-width="1.8"/><line x1="2170.00" y1="67.00" x2="2170.00" y2="1571.70" stroke="#000" stroke-width="2"/><line x1="1489.10" y1="1570.70" x2="2171.00" y2="1570.70" stroke="#000" stroke-width="2"/><line x1="175.00" y1="68.90" x2="186.00" y2="68.90" stroke="#000" stroke-width="1.8"/><line x1="180.50" y1="81.92" x2="186.00" y2="81.92" stroke="#000" stroke-width="1.8"/><line x1="180.50" y1="94.95" x2="186.00" y2="94.95" stroke="#000" stroke-width="1.8"/><line x1="180.50" y1="107.97" x2="186.00" y2="107.97" stroke="#000" stroke-width="1.8"/><line x1="175.00" y1="121.00" x2="186.00" y2="121.00" stroke="#000" stroke-width="1.8"/><line x1="180.50" y1="134.03" x2="186.00" y2="134.03" stroke="#000" stroke-width="1.8"/><line x1="180.50" y1="147.05" x2="186.00" y2="147.05" stroke="#000" stroke-width="1.8"/><line x1="180.50" y1="160.07" x2="186.00" y2="160.07" stroke="#000" stroke-width="1.8"/><line x1="175.00" y1="173.10" x2="186.00" y2="173.10" stroke="#000" stroke-width="1.8"/><line x1="180.50" y1="186.12" x2="186.00" y2="186.12" stroke="#000" stroke-width="1.8"/><line x1="180.50" y1="199.15" x2="186.00" y2="199.15" stroke="#000" stroke-width="1.8"/><line x1="180.50" y1="212.18" x2="186.00" y2="212.18" stroke="#000" stroke-width="1.8"/><line x1="175.00" y1="225.20" x2="186.00" y2="225.20" stroke="#000" stroke-width="1.8"/><line x1="180.50" y1="238.23" x2="186.00" y2="238.23" stroke="#000" stroke-width="1.8"/><line x1="180.50" y1="251.25" x2="186.00" y2="251.25" stroke="#000" stroke-width="1.8"/><line x1="180.50" y1="264.27" x2="186.00" y2="264.27" stroke="#000" stroke-width="1.8"/><line x1="175.00" y1="277.30" x2="186.00" y2="277.30" stroke="#000" stroke-width="1.8"/><line x1="180.50" y1="290.33" x2="186.00" y2="290.33" stroke="#000" stroke-width="1.8"/><line x1="180.50" y1="303.35" x2="186.00" y2="303.35" stroke="#000" stroke-width="1.8"/><line x1="180.50" y1="316.38" x2="186.00" y2="316.38" stroke="#000" stroke-width="1.8"/><line x1="175.00" y1="329.40" x2="186.00" y2="329.40" stroke="#000" stroke-width="1.8"/><line x1="180.50" y1="342.43" x2="186.00" y2="342.43" stroke="#000" stroke-width="1.8"/><line x1="180.50" y1="355.45" x2="186.00" y2="355.45" stroke="#000" stroke-width="1.8"/><line x1="180.50" y1="368.48" x2="186.00" y2="368.48" stroke="#000" stroke-width="1.8"/><line x1="175.00" y1="381.50" x2="186.00" y2="381.50" stroke="#000" stroke-width="1.8"/><line x1="180.50" y1="394.53" x2="186.00" y2="394.53" stroke="#000" stroke-width="1.8"/><line x1="180.50" y1="407.55" x2="186.00" y2="407.55" stroke="#000" stroke-width="1.8"/><line x1="180.50" y1="420.57" x2="186.00" y2="420.57" stroke="#000" stroke-width="1.8"/><line x1="175.00" y1="433.60" x2="186.00" y2="433.60" stroke="#000" stroke-width="1.8"/><line x1="180.50" y1="446.62" x2="186.00" y2="446.62" stroke="#000" stroke-width="1.8"/><line x1="180.50" y1="459.65" x2="186.00" y2="459.65" stroke="#000" stroke-width="1.8"/><line x1="180.50" y1="472.68" x2="186.00" y2="472.68" stroke="#000" stroke-width="1.8"/><line x1="175.00" y1="485.70" x2="186.00" y2="485.70" stroke="#000" stroke-width="1.8"/><line x1="180.50" y1="498.73" x2="186.00" y2="498.73" stroke="#000" stroke-width="1.8"/><line x1="180.50" y1="511.75" x2="186.00" y2="511.75" stroke="#000" stroke-width="1.8"/><line x1="180.50" y1="524.78" x2="186.00" y2="524.78" stroke="#000" stroke-width="1.8"/><line x1="175.00" y1="537.80" x2="186.00" y2="537.80" stroke="#000" stroke-width="1.8"/><line x1="180.50" y1="550.83" x2="186.00" y2="550.83" stroke="#000" stroke-width="1.8"/><line x1="180.50" y1="563.85" x2="186.00" y2="563.85" stroke="#000" stroke-width="1.8"/><line x1="180.50" y1="569.72" x2="186.00" y2="569.72" stroke="#000" stroke-width="1.8"/><line x1="180.50" y1="587.66" x2="186.00" y2="587.66" stroke="#000" stroke-width="1.8"/><line x1="175.00" y1="605.60" x2="186.00" y2="605.60" stroke="#000" stroke-width="1.8"/><line x1="180.50" y1="623.54" x2="186.00" y2="623.54" stroke="#000" stroke-width="1.8"/><line x1="180.50" y1="641.49" x2="186.00" y2="641.49" stroke="#000" stroke-width="1.8"/><line x1="180.50" y1="659.43" x2="186.00" y2="659.43" stroke="#000" stroke-width="1.8"/><line x1="175.00" y1="677.37" x2="186.00" y2="677.37" stroke="#000" stroke-width="1.8"/><line x1="180.50" y1="695.31" x2="186.00" y2="695.31" stroke="#000" stroke-width="1.8"/><line x1="180.50" y1="713.25" x2="186.00" y2="713.25" stroke="#000" stroke-width="1.8"/><line x1="180.50" y1="731.20" x2="186.00" y2="731.20" stroke="#000" stroke-width="1.8"/><line x1="175.00" y1="749.14" x2="186.00" y2="749.14" stroke="#000" stroke-width="1.8"/><line x1="180.50" y1="767.08" x2="186.00" y2="767.08" stroke="#000" stroke-width="1.8"/><line x1="180.50" y1="785.02" x2="186.00" y2="785.02" stroke="#000" stroke-width="1.8"/><line x1="180.50" y1="802.97" x2="186.00" y2="802.97" stroke="#000" stroke-width="1.8"/><line x1="175.00" y1="820.91" x2="186.00" y2="820.91" stroke="#000" stroke-width="1.8"/><line x1="180.50" y1="838.85" x2="186.00" y2="838.85" stroke="#000" stroke-width="1.8"/><line x1="180.50" y1="856.80" x2="186.00" y2="856.80" stroke="#000" stroke-width="1.8"/><line x1="180.50" y1="874.74" x2="186.00" y2="874.74" stroke="#000" stroke-width="1.8"/><line x1="175.00" y1="892.68" x2="186.00" y2="892.68" stroke="#000" stroke-width="1.8"/><line x1="180.50" y1="910.62" x2="186.00" y2="910.62" stroke="#000" stroke-width="1.8"/><line x1="180.50" y1="928.57" x2="186.00" y2="928.57" stroke="#000" stroke-width="1.8"/><line x1="180.50" y1="946.51" x2="186.00" y2="946.51" stroke="#000" stroke-width="1.8"/><line x1="175.00" y1="964.45" x2="186.00" y2="964.45" stroke="#000" stroke-width="1.8"/><line x1="180.50" y1="982.39" x2="186.00" y2="982.39" stroke="#000" stroke-width="1.8"/><line x1="180.50" y1="1000.34" x2="186.00" y2="1000.34" stroke="#000" stroke-width="1.8"/><line x1="180.50" y1="1018.28" x2="186.00" y2="1018.28" stroke="#000" stroke-width="1.8"/><line x1="175.00" y1="1036.22" x2="186.00" y2="1036.22" stroke="#000" stroke-width="1.8"/><line x1="180.50" y1="1054.16" x2="186.00" y2="1054.16" stroke="#000" stroke-width="1.8"/><line x1="180.50" y1="1054.44" x2="186.00" y2="1054.44" stroke="#000" stroke-width="1.8"/><line x1="175.00" y1="1070.70" x2="186.00" y2="1070.70" stroke="#000" stroke-width="1.8"/><line x1="180.50" y1="1086.96" x2="186.00" y2="1086.96" stroke="#000" stroke-width="1.8"/><line x1="180.50" y1="1103.22" x2="186.00" y2="1103.22" stroke="#000" stroke-width="1.8"/><line x1="180.50" y1="1119.48" x2="186.00" y2="1119.48" stroke="#000" stroke-width="1.8"/><line x1="175.00" y1="1135.74" x2="186.00" y2="1135.74" stroke="#000" stroke-width="1.8"/><line x1="180.50" y1="1152.00" x2="186.00" y2="1152.00" stroke="#000" stroke-width="1.8"/><line x1="180.50" y1="1168.26" x2="186.00" y2="1168.26" stroke="#000" stroke-width="1.8"/><line x1="180.50" y1="1184.52" x2="186.00" y2="1184.52" stroke="#000" stroke-width="1.8"/><line x1="175.00" y1="1200.78" x2="186.00" y2="1200.78" stroke="#000" stroke-width="1.8"/><line x1="180.50" y1="1217.04" x2="186.00" y2="1217.04" stroke="#000" stroke-width="1.8"/><line x1="180.50" y1="1233.30" x2="186.00" y2="1233.30" stroke="#000" stroke-width="1.8"/><line x1="180.50" y1="1249.56" x2="186.00" y2="1249.56" stroke="#000" stroke-width="1.8"/><line x1="175.00" y1="1265.82" x2="186.00" y2="1265.82" stroke="#000" stroke-width="1.8"/><line x1="180.50" y1="1282.08" x2="186.00" y2="1282.08" stroke="#000" stroke-width="1.8"/><line x1="180.50" y1="1298.34" x2="186.00" y2="1298.34" stroke="#000" stroke-width="1.8"/><line x1="180.50" y1="1314.60" x2="186.00" y2="1314.60" stroke="#000" stroke-width="1.8"/><line x1="175.00" y1="1330.86" x2="186.00" y2="1330.86" stroke="#000" stroke-width="1.8"/><line x1="180.50" y1="1347.12" x2="186.00" y2="1347.12" stroke="#000" stroke-width="1.8"/><line x1="180.50" y1="1363.38" x2="186.00" y2="1363.38" stroke="#000" stroke-width="1.8"/><line x1="180.50" y1="1379.64" x2="186.00" y2="1379.64" stroke="#000" stroke-width="1.8"/><line x1="175.00" y1="1395.90" x2="186.00" y2="1395.90" stroke="#000" stroke-width="1.8"/><line x1="180.50" y1="1412.16" x2="186.00" y2="1412.16" stroke="#000" stroke-width="1.8"/><line x1="180.50" y1="1428.42" x2="186.00" y2="1428.42" stroke="#000" stroke-width="1.8"/><line x1="180.50" y1="1444.68" x2="186.00" y2="1444.68" stroke="#000" stroke-width="1.8"/><line x1="175.00" y1="1460.94" x2="186.00" y2="1460.94" stroke="#000" stroke-width="1.8"/><line x1="180.50" y1="1477.20" x2="186.00" y2="1477.20" stroke="#000" stroke-width="1.8"/><line x1="180.50" y1="1493.46" x2="186.00" y2="1493.46" stroke="#000" stroke-width="1.8"/><line x1="180.50" y1="1509.72" x2="186.00" y2="1509.72" stroke="#000" stroke-width="1.8"/><line x1="175.00" y1="1525.98" x2="186.00" y2="1525.98" stroke="#000" stroke-width="1.8"/><line x1="180.50" y1="1542.24" x2="186.00" y2="1542.24" stroke="#000" stroke-width="1.8"/><line x1="180.50" y1="1558.50" x2="186.00" y2="1558.50" stroke="#000" stroke-width="1.8"/><line x1="2170.00" y1="68.80" x2="2179.00" y2="68.80" stroke="#000" stroke-width="1.8"/><line x1="2170.00" y1="74.64" x2="2174.50" y2="74.64" stroke="#000" stroke-width="1.8"/><line x1="2170.00" y1="80.48" x2="2174.50" y2="80.48" stroke="#000" stroke-width="1.8"/><line x1="2170.00" y1="86.32" x2="2174.50" y2="86.32" stroke="#000" stroke-width="1.8"/><line x1="2170.00" y1="92.16" x2="2174.50" y2="92.16" stroke="#000" stroke-width="1.8"/><line x1="2170.00" y1="98.00" x2="2179.00" y2="98.00" stroke="#000" stroke-width="1.8"/><line x1="2170.00" y1="103.84" x2="2174.50" y2="103.84" stroke="#000" stroke-width="1.8"/><line x1="2170.00" y1="109.68" x2="2174.50" y2="109.68" stroke="#000" stroke-width="1.8"/><line x1="2170.00" y1="115.52" x2="2174.50" y2="115.52" stroke="#000" stroke-width="1.8"/><line x1="2170.00" y1="121.36" x2="2174.50" y2="121.36" stroke="#000" stroke-width="1.8"/><line x1="2170.00" y1="127.20" x2="2179.00" y2="127.20" stroke="#000" stroke-width="1.8"/><line x1="2170.00" y1="133.04" x2="2174.50" y2="133.04" stroke="#000" stroke-width="1.8"/><line x1="2170.00" y1="138.88" x2="2174.50" y2="138.88" stroke="#000" stroke-width="1.8"/><line x1="2170.00" y1="144.72" x2="2174.50" y2="144.72" stroke="#000" stroke-width="1.8"/><line x1="2170.00" y1="150.56" x2="2174.50" y2="150.56" stroke="#000" stroke-width="1.8"/><line x1="2170.00" y1="156.40" x2="2179.00" y2="156.40" stroke="#000" stroke-width="1.8"/><line x1="2170.00" y1="162.24" x2="2174.50" y2="162.24" stroke="#000" stroke-width="1.8"/><line x1="2170.00" y1="168.08" x2="2174.50" y2="168.08" stroke="#000" stroke-width="1.8"/><line x1="2170.00" y1="173.92" x2="2174.50" y2="173.92" stroke="#000" stroke-width="1.8"/><line x1="2170.00" y1="179.76" x2="2174.50" y2="179.76" stroke="#000" stroke-width="1.8"/><line x1="2170.00" y1="185.60" x2="2179.00" y2="185.60" stroke="#000" stroke-width="1.8"/><line x1="2170.00" y1="191.44" x2="2174.50" y2="191.44" stroke="#000" stroke-width="1.8"/><line x1="2170.00" y1="197.28" x2="2174.50" y2="197.28" stroke="#000" stroke-width="1.8"/><line x1="2170.00" y1="203.12" x2="2174.50" y2="203.12" stroke="#000" stroke-width="1.8"/><line x1="2170.00" y1="208.96" x2="2174.50" y2="208.96" stroke="#000" stroke-width="1.8"/><line x1="2170.00" y1="214.80" x2="2179.00" y2="214.80" stroke="#000" stroke-width="1.8"/><line x1="2170.00" y1="220.64" x2="2174.50" y2="220.64" stroke="#000" stroke-width="1.8"/><line x1="2170.00" y1="226.48" x2="2174.50" y2="226.48" stroke="#000" stroke-width="1.8"/><line x1="2170.00" y1="232.32" x2="2174.50" y2="232.32" stroke="#000" stroke-width="1.8"/><line x1="2170.00" y1="238.16" x2="2174.50" y2="238.16" stroke="#000" stroke-width="1.8"/><line x1="2170.00" y1="244.00" x2="2179.00" y2="244.00" stroke="#000" stroke-width="1.8"/><line x1="2170.00" y1="249.84" x2="2174.50" y2="249.84" stroke="#000" stroke-width="1.8"/><line x1="2170.00" y1="255.68" x2="2174.50" y2="255.68" stroke="#000" stroke-width="1.8"/><line x1="2170.00" y1="261.52" x2="2174.50" y2="261.52" stroke="#000" stroke-width="1.8"/><line x1="2170.00" y1="267.36" x2="2174.50" y2="267.36" stroke="#000" stroke-width="1.8"/><line x1="2170.00" y1="273.20" x2="2179.00" y2="273.20" stroke="#000" stroke-width="1.8"/><line x1="2170.00" y1="279.04" x2="2174.50" y2="279.04" stroke="#000" stroke-width="1.8"/><line x1="2170.00" y1="284.88" x2="2174.50" y2="284.88" stroke="#000" stroke-width="1.8"/><line x1="2170.00" y1="290.72" x2="2174.50" y2="290.72" stroke="#000" stroke-width="1.8"/><line x1="2170.00" y1="296.56" x2="2174.50" y2="296.56" stroke="#000" stroke-width="1.8"/><line x1="2170.00" y1="302.40" x2="2179.00" y2="302.40" stroke="#000" stroke-width="1.8"/><line x1="2170.00" y1="308.24" x2="2174.50" y2="308.24" stroke="#000" stroke-width="1.8"/><line x1="2170.00" y1="314.08" x2="2174.50" y2="314.08" stroke="#000" stroke-width="1.8"/><line x1="2170.00" y1="319.92" x2="2174.50" y2="319.92" stroke="#000" stroke-width="1.8"/><line x1="2170.00" y1="325.76" x2="2174.50" y2="325.76" stroke="#000" stroke-width="1.8"/><line x1="2170.00" y1="331.60" x2="2179.00" y2="331.60" stroke="#000" stroke-width="1.8"/><line x1="2170.00" y1="337.44" x2="2174.50" y2="337.44" stroke="#000" stroke-width="1.8"/><line x1="2170.00" y1="343.28" x2="2174.50" y2="343.28" stroke="#000" stroke-width="1.8"/><line x1="2170.00" y1="349.12" x2="2174.50" y2="349.12" stroke="#000" stroke-width="1.8"/><line x1="2170.00" y1="354.96" x2="2174.50" y2="354.96" stroke="#000" stroke-width="1.8"/><line x1="2170.00" y1="360.80" x2="2179.00" y2="360.80" stroke="#000" stroke-width="1.8"/><line x1="2170.00" y1="366.64" x2="2174.50" y2="366.64" stroke="#000" stroke-width="1.8"/><line x1="2170.00" y1="372.48" x2="2174.50" y2="372.48" stroke="#000" stroke-width="1.8"/><line x1="2170.00" y1="378.32" x2="2174.50" y2="378.32" stroke="#000" stroke-width="1.8"/><line x1="2170.00" y1="384.16" x2="2174.50" y2="384.16" stroke="#000" stroke-width="1.8"/><line x1="2170.00" y1="390.00" x2="2179.00" y2="390.00" stroke="#000" stroke-width="1.8"/><line x1="2170.00" y1="395.84" x2="2174.50" y2="395.84" stroke="#000" stroke-width="1.8"/><line x1="2170.00" y1="401.68" x2="2174.50" y2="401.68" stroke="#000" stroke-width="1.8"/><line x1="2170.00" y1="407.52" x2="2174.50" y2="407.52" stroke="#000" stroke-width="1.8"/><line x1="2170.00" y1="413.36" x2="2174.50" y2="413.36" stroke="#000" stroke-width="1.8"/><line x1="2170.00" y1="419.20" x2="2179.00" y2="419.20" stroke="#000" stroke-width="1.8"/><line x1="2170.00" y1="425.04" x2="2174.50" y2="425.04" stroke="#000" stroke-width="1.8"/><line x1="2170.00" y1="430.88" x2="2174.50" y2="430.88" stroke="#000" stroke-width="1.8"/><line x1="2170.00" y1="436.72" x2="2174.50" y2="436.72" stroke="#000" stroke-width="1.8"/><line x1="2170.00" y1="442.56" x2="2174.50" y2="442.56" stroke="#000" stroke-width="1.8"/><line x1="2170.00" y1="448.40" x2="2179.00" y2="448.40" stroke="#000" stroke-width="1.8"/><line x1="2170.00" y1="454.24" x2="2174.50" y2="454.24" stroke="#000" stroke-width="1.8"/><line x1="2170.00" y1="460.08" x2="2174.50" y2="460.08" stroke="#000" stroke-width="1.8"/><line x1="2170.00" y1="465.92" x2="2174.50" y2="465.92" stroke="#000" stroke-width="1.8"/><line x1="2170.00" y1="471.76" x2="2174.50" y2="471.76" stroke="#000" stroke-width="1.8"/><line x1="2170.00" y1="477.60" x2="2179.00" y2="477.60" stroke="#000" stroke-width="1.8"/><line x1="2170.00" y1="483.44" x2="2174.50" y2="483.44" stroke="#000" stroke-width="1.8"/><line x1="2170.00" y1="489.28" x2="2174.50" y2="489.28" stroke="#000" stroke-width="1.8"/><line x1="2170.00" y1="495.12" x2="2174.50" y2="495.12" stroke="#000" stroke-width="1.8"/><line x1="2170.00" y1="500.96" x2="2174.50" y2="500.96" stroke="#000" stroke-width="1.8"/><line x1="2170.00" y1="506.80" x2="2179.00" y2="506.80" stroke="#000" stroke-width="1.8"/><line x1="2170.00" y1="512.64" x2="2174.50" y2="512.64" stroke="#000" stroke-width="1.8"/><line x1="2170.00" y1="518.48" x2="2174.50" y2="518.48" stroke="#000" stroke-width="1.8"/><line x1="2170.00" y1="524.32" x2="2174.50" y2="524.32" stroke="#000" stroke-width="1.8"/><line x1="2170.00" y1="530.16" x2="2174.50" y2="530.16" stroke="#000" stroke-width="1.8"/><line x1="2170.00" y1="536.00" x2="2179.00" y2="536.00" stroke="#000" stroke-width="1.8"/><line x1="2170.00" y1="541.84" x2="2174.50" y2="541.84" stroke="#000" stroke-width="1.8"/><line x1="2170.00" y1="547.68" x2="2174.50" y2="547.68" stroke="#000" stroke-width="1.8"/><line x1="2170.00" y1="553.52" x2="2174.50" y2="553.52" stroke="#000" stroke-width="1.8"/><line x1="2170.00" y1="559.36" x2="2174.50" y2="559.36" stroke="#000" stroke-width="1.8"/><line x1="2170.00" y1="565.20" x2="2179.00" y2="565.20" stroke="#000" stroke-width="1.8"/><line x1="2170.00" y1="568.30" x2="2179.00" y2="568.30" stroke="#000" stroke-width="1.8"/><line x1="2170.00" y1="579.36" x2="2174.50" y2="579.36" stroke="#000" stroke-width="1.8"/><line x1="2170.00" y1="590.42" x2="2174.50" y2="590.42" stroke="#000" stroke-width="1.8"/><line x1="2170.00" y1="601.48" x2="2174.50" y2="601.48" stroke="#000" stroke-width="1.8"/><line x1="2170.00" y1="612.54" x2="2174.50" y2="612.54" stroke="#000" stroke-width="1.8"/><line x1="2170.00" y1="623.60" x2="2179.00" y2="623.60" stroke="#000" stroke-width="1.8"/><line x1="2170.00" y1="634.66" x2="2174.50" y2="634.66" stroke="#000" stroke-width="1.8"/><line x1="2170.00" y1="645.72" x2="2174.50" y2="645.72" stroke="#000" stroke-width="1.8"/><line x1="2170.00" y1="656.78" x2="2174.50" y2="656.78" stroke="#000" stroke-width="1.8"/><line x1="2170.00" y1="667.84" x2="2174.50" y2="667.84" stroke="#000" stroke-width="1.8"/><line x1="2170.00" y1="678.90" x2="2179.00" y2="678.90" stroke="#000" stroke-width="1.8"/><line x1="2170.00" y1="689.96" x2="2174.50" y2="689.96" stroke="#000" stroke-width="1.8"/><line x1="2170.00" y1="701.02" x2="2174.50" y2="701.02" stroke="#000" stroke-width="1.8"/><line x1="2170.00" y1="712.08" x2="2174.50" y2="712.08" stroke="#000" stroke-width="1.8"/><line x1="2170.00" y1="723.14" x2="2174.50" y2="723.14" stroke="#000" stroke-width="1.8"/><line x1="2170.00" y1="734.20" x2="2179.00" y2="734.20" stroke="#000" stroke-width="1.8"/><line x1="2170.00" y1="745.26" x2="2174.50" y2="745.26" stroke="#000" stroke-width="1.8"/><line x1="2170.00" y1="756.32" x2="2174.50" y2="756.32" stroke="#000" stroke-width="1.8"/><line x1="2170.00" y1="767.38" x2="2174.50" y2="767.38" stroke="#000" stroke-width="1.8"/><line x1="2170.00" y1="778.44" x2="2174.50" y2="778.44" stroke="#000" stroke-width="1.8"/><line x1="2170.00" y1="789.50" x2="2179.00" y2="789.50" stroke="#000" stroke-width="1.8"/><line x1="2170.00" y1="800.56" x2="2174.50" y2="800.56" stroke="#000" stroke-width="1.8"/><line x1="2170.00" y1="811.62" x2="2174.50" y2="811.62" stroke="#000" stroke-width="1.8"/><line x1="2170.00" y1="822.68" x2="2174.50" y2="822.68" stroke="#000" stroke-width="1.8"/><line x1="2170.00" y1="833.74" x2="2174.50" y2="833.74" stroke="#000" stroke-width="1.8"/><line x1="2170.00" y1="844.80" x2="2179.00" y2="844.80" stroke="#000" stroke-width="1.8"/><line x1="2170.00" y1="855.86" x2="2174.50" y2="855.86" stroke="#000" stroke-width="1.8"/><line x1="2170.00" y1="866.92" x2="2174.50" y2="866.92" stroke="#000" stroke-width="1.8"/><line x1="2170.00" y1="877.98" x2="2174.50" y2="877.98" stroke="#000" stroke-width="1.8"/><line x1="2170.00" y1="889.04" x2="2174.50" y2="889.04" stroke="#000" stroke-width="1.8"/><line x1="2170.00" y1="900.10" x2="2179.00" y2="900.10" stroke="#000" stroke-width="1.8"/><line x1="2170.00" y1="911.16" x2="2174.50" y2="911.16" stroke="#000" stroke-width="1.8"/><line x1="2170.00" y1="922.22" x2="2174.50" y2="922.22" stroke="#000" stroke-width="1.8"/><line x1="2170.00" y1="933.28" x2="2174.50" y2="933.28" stroke="#000" stroke-width="1.8"/><line x1="2170.00" y1="944.34" x2="2174.50" y2="944.34" stroke="#000" stroke-width="1.8"/><line x1="2170.00" y1="955.40" x2="2179.00" y2="955.40" stroke="#000" stroke-width="1.8"/><line x1="2170.00" y1="966.46" x2="2174.50" y2="966.46" stroke="#000" stroke-width="1.8"/><line x1="2170.00" y1="977.52" x2="2174.50" y2="977.52" stroke="#000" stroke-width="1.8"/><line x1="2170.00" y1="988.58" x2="2174.50" y2="988.58" stroke="#000" stroke-width="1.8"/><line x1="2170.00" y1="999.64" x2="2174.50" y2="999.64" stroke="#000" stroke-width="1.8"/><line x1="2170.00" y1="1010.70" x2="2179.00" y2="1010.70" stroke="#000" stroke-width="1.8"/><line x1="2170.00" y1="1021.76" x2="2174.50" y2="1021.76" stroke="#000" stroke-width="1.8"/><line x1="2170.00" y1="1032.82" x2="2174.50" y2="1032.82" stroke="#000" stroke-width="1.8"/><line x1="2170.00" y1="1043.88" x2="2174.50" y2="1043.88" stroke="#000" stroke-width="1.8"/><line x1="2170.00" y1="1054.94" x2="2174.50" y2="1054.94" stroke="#000" stroke-width="1.8"/><line x1="2170.00" y1="1066.00" x2="2179.00" y2="1066.00" stroke="#000" stroke-width="1.8"/><line x1="2170.00" y1="1070.60" x2="2179.00" y2="1070.60" stroke="#000" stroke-width="1.8"/><line x1="2170.00" y1="1081.61" x2="2174.50" y2="1081.61" stroke="#000" stroke-width="1.8"/><line x1="2170.00" y1="1092.62" x2="2174.50" y2="1092.62" stroke="#000" stroke-width="1.8"/><line x1="2170.00" y1="1103.62" x2="2174.50" y2="1103.62" stroke="#000" stroke-width="1.8"/><line x1="2170.00" y1="1114.63" x2="2174.50" y2="1114.63" stroke="#000" stroke-width="1.8"/><line x1="2170.00" y1="1125.64" x2="2179.00" y2="1125.64" stroke="#000" stroke-width="1.8"/><line x1="2170.00" y1="1136.65" x2="2174.50" y2="1136.65" stroke="#000" stroke-width="1.8"/><line x1="2170.00" y1="1147.66" x2="2174.50" y2="1147.66" stroke="#000" stroke-width="1.8"/><line x1="2170.00" y1="1158.66" x2="2174.50" y2="1158.66" stroke="#000" stroke-width="1.8"/><line x1="2170.00" y1="1169.67" x2="2174.50" y2="1169.67" stroke="#000" stroke-width="1.8"/><line x1="2170.00" y1="1180.68" x2="2179.00" y2="1180.68" stroke="#000" stroke-width="1.8"/><line x1="2170.00" y1="1191.69" x2="2174.50" y2="1191.69" stroke="#000" stroke-width="1.8"/><line x1="2170.00" y1="1202.70" x2="2174.50" y2="1202.70" stroke="#000" stroke-width="1.8"/><line x1="2170.00" y1="1213.70" x2="2174.50" y2="1213.70" stroke="#000" stroke-width="1.8"/><line x1="2170.00" y1="1224.71" x2="2174.50" y2="1224.71" stroke="#000" stroke-width="1.8"/><line x1="2170.00" y1="1235.72" x2="2179.00" y2="1235.72" stroke="#000" stroke-width="1.8"/><line x1="2170.00" y1="1246.73" x2="2174.50" y2="1246.73" stroke="#000" stroke-width="1.8"/><line x1="2170.00" y1="1257.74" x2="2174.50" y2="1257.74" stroke="#000" stroke-width="1.8"/><line x1="2170.00" y1="1268.74" x2="2174.50" y2="1268.74" stroke="#000" stroke-width="1.8"/><line x1="2170.00" y1="1279.75" x2="2174.50" y2="1279.75" stroke="#000" stroke-width="1.8"/><line x1="2170.00" y1="1290.76" x2="2179.00" y2="1290.76" stroke="#000" stroke-width="1.8"/><line x1="2170.00" y1="1301.77" x2="2174.50" y2="1301.77" stroke="#000" stroke-width="1.8"/><line x1="2170.00" y1="1312.78" x2="2174.50" y2="1312.78" stroke="#000" stroke-width="1.8"/><line x1="2170.00" y1="1323.78" x2="2174.50" y2="1323.78" stroke="#000" stroke-width="1.8"/><line x1="2170.00" y1="1334.79" x2="2174.50" y2="1334.79" stroke="#000" stroke-width="1.8"/><line x1="2170.00" y1="1345.80" x2="2179.00" y2="1345.80" stroke="#000" stroke-width="1.8"/><line x1="2170.00" y1="1356.81" x2="2174.50" y2="1356.81" stroke="#000" stroke-width="1.8"/><line x1="2170.00" y1="1367.82" x2="2174.50" y2="1367.82" stroke="#000" stroke-width="1.8"/><line x1="2170.00" y1="1378.82" x2="2174.50" y2="1378.82" stroke="#000" stroke-width="1.8"/><line x1="2170.00" y1="1389.83" x2="2174.50" y2="1389.83" stroke="#000" stroke-width="1.8"/><line x1="2170.00" y1="1400.84" x2="2179.00" y2="1400.84" stroke="#000" stroke-width="1.8"/><line x1="2170.00" y1="1411.85" x2="2174.50" y2="1411.85" stroke="#000" stroke-width="1.8"/><line x1="2170.00" y1="1422.86" x2="2174.50" y2="1422.86" stroke="#000" stroke-width="1.8"/><line x1="2170.00" y1="1433.86" x2="2174.50" y2="1433.86" stroke="#000" stroke-width="1.8"/><line x1="2170.00" y1="1444.87" x2="2174.50" y2="1444.87" stroke="#000" stroke-width="1.8"/><line x1="2170.00" y1="1455.88" x2="2179.00" y2="1455.88" stroke="#000" stroke-width="1.8"/><line x1="2170.00" y1="1466.89" x2="2174.50" y2="1466.89" stroke="#000" stroke-width="1.8"/><line x1="2170.00" y1="1477.90" x2="2174.50" y2="1477.90" stroke="#000" stroke-width="1.8"/><line x1="2170.00" y1="1488.90" x2="2174.50" y2="1488.90" stroke="#000" stroke-width="1.8"/><line x1="2170.00" y1="1499.91" x2="2174.50" y2="1499.91" stroke="#000" stroke-width="1.8"/><line x1="2170.00" y1="1510.92" x2="2179.00" y2="1510.92" stroke="#000" stroke-width="1.8"/><line x1="2170.00" y1="1521.93" x2="2174.50" y2="1521.93" stroke="#000" stroke-width="1.8"/><line x1="2170.00" y1="1532.94" x2="2174.50" y2="1532.94" stroke="#000" stroke-width="1.8"/><line x1="2170.00" y1="1543.94" x2="2174.50" y2="1543.94" stroke="#000" stroke-width="1.8"/><line x1="2170.00" y1="1554.95" x2="2174.50" y2="1554.95" stroke="#000" stroke-width="1.8"/><line x1="2170.00" y1="1565.96" x2="2179.00" y2="1565.96" stroke="#000" stroke-width="1.8"/><line x1="198.07" y1="1570.70" x2="198.07" y2="1577.30" stroke="#000" stroke-width="1.8"/><line x1="210.85" y1="1570.70" x2="210.85" y2="1577.30" stroke="#000" stroke-width="1.8"/><line x1="223.62" y1="1570.70" x2="223.62" y2="1577.30" stroke="#000" stroke-width="1.8"/><line x1="236.39" y1="1570.70" x2="236.39" y2="1577.30" stroke="#000" stroke-width="1.8"/><line x1="249.17" y1="1570.70" x2="249.17" y2="1577.30" stroke="#000" stroke-width="1.8"/><line x1="261.94" y1="1570.70" x2="261.94" y2="1577.30" stroke="#000" stroke-width="1.8"/><line x1="274.71" y1="1570.70" x2="274.71" y2="1577.30" stroke="#000" stroke-width="1.8"/><line x1="287.48" y1="1570.70" x2="287.48" y2="1577.30" stroke="#000" stroke-width="1.8"/><line x1="300.26" y1="1570.70" x2="300.26" y2="1577.30" stroke="#000" stroke-width="1.8"/><line x1="313.03" y1="1570.70" x2="313.03" y2="1582.70" stroke="#000" stroke-width="1.8"/><line x1="325.80" y1="1570.70" x2="325.80" y2="1577.30" stroke="#000" stroke-width="1.8"/><line x1="338.58" y1="1570.70" x2="338.58" y2="1577.30" stroke="#000" stroke-width="1.8"/><line x1="351.35" y1="1570.70" x2="351.35" y2="1577.30" stroke="#000" stroke-width="1.8"/><line x1="364.12" y1="1570.70" x2="364.12" y2="1577.30" stroke="#000" stroke-width="1.8"/><line x1="376.90" y1="1570.70" x2="376.90" y2="1577.30" stroke="#000" stroke-width="1.8"/><line x1="389.67" y1="1570.70" x2="389.67" y2="1577.30" stroke="#000" stroke-width="1.8"/><line x1="402.44" y1="1570.70" x2="402.44" y2="1577.30" stroke="#000" stroke-width="1.8"/><line x1="415.21" y1="1570.70" x2="415.21" y2="1577.30" stroke="#000" stroke-width="1.8"/><line x1="427.99" y1="1570.70" x2="427.99" y2="1577.30" stroke="#000" stroke-width="1.8"/><line x1="440.76" y1="1570.70" x2="440.76" y2="1582.70" stroke="#000" stroke-width="1.8"/><line x1="453.53" y1="1570.70" x2="453.53" y2="1577.30" stroke="#000" stroke-width="1.8"/><line x1="466.31" y1="1570.70" x2="466.31" y2="1577.30" stroke="#000" stroke-width="1.8"/><line x1="479.08" y1="1570.70" x2="479.08" y2="1577.30" stroke="#000" stroke-width="1.8"/><line x1="491.85" y1="1570.70" x2="491.85" y2="1577.30" stroke="#000" stroke-width="1.8"/><line x1="504.63" y1="1570.70" x2="504.63" y2="1577.30" stroke="#000" stroke-width="1.8"/><line x1="517.40" y1="1570.70" x2="517.40" y2="1577.30" stroke="#000" stroke-width="1.8"/><line x1="530.17" y1="1570.70" x2="530.17" y2="1577.30" stroke="#000" stroke-width="1.8"/><line x1="542.94" y1="1570.70" x2="542.94" y2="1577.30" stroke="#000" stroke-width="1.8"/><line x1="555.72" y1="1570.70" x2="555.72" y2="1577.30" stroke="#000" stroke-width="1.8"/><line x1="568.49" y1="1570.70" x2="568.49" y2="1582.70" stroke="#000" stroke-width="1.8"/><line x1="581.26" y1="1570.70" x2="581.26" y2="1577.30" stroke="#000" stroke-width="1.8"/><line x1="594.04" y1="1570.70" x2="594.04" y2="1577.30" stroke="#000" stroke-width="1.8"/><line x1="606.81" y1="1570.70" x2="606.81" y2="1577.30" stroke="#000" stroke-width="1.8"/><line x1="619.58" y1="1570.70" x2="619.58" y2="1577.30" stroke="#000" stroke-width="1.8"/><line x1="632.36" y1="1570.70" x2="632.36" y2="1577.30" stroke="#000" stroke-width="1.8"/><line x1="645.13" y1="1570.70" x2="645.13" y2="1577.30" stroke="#000" stroke-width="1.8"/><line x1="657.90" y1="1570.70" x2="657.90" y2="1577.30" stroke="#000" stroke-width="1.8"/><line x1="670.67" y1="1570.70" x2="670.67" y2="1577.30" stroke="#000" stroke-width="1.8"/><line x1="683.45" y1="1570.70" x2="683.45" y2="1577.30" stroke="#000" stroke-width="1.8"/><line x1="696.22" y1="1570.70" x2="696.22" y2="1582.70" stroke="#000" stroke-width="1.8"/><line x1="708.99" y1="1570.70" x2="708.99" y2="1577.30" stroke="#000" stroke-width="1.8"/><line x1="721.77" y1="1570.70" x2="721.77" y2="1577.30" stroke="#000" stroke-width="1.8"/><line x1="734.54" y1="1570.70" x2="734.54" y2="1577.30" stroke="#000" stroke-width="1.8"/><line x1="747.31" y1="1570.70" x2="747.31" y2="1577.30" stroke="#000" stroke-width="1.8"/><line x1="760.09" y1="1570.70" x2="760.09" y2="1577.30" stroke="#000" stroke-width="1.8"/><line x1="772.86" y1="1570.70" x2="772.86" y2="1577.30" stroke="#000" stroke-width="1.8"/><line x1="785.63" y1="1570.70" x2="785.63" y2="1577.30" stroke="#000" stroke-width="1.8"/><line x1="798.40" y1="1570.70" x2="798.40" y2="1577.30" stroke="#000" stroke-width="1.8"/><line x1="811.18" y1="1570.70" x2="811.18" y2="1577.30" stroke="#000" stroke-width="1.8"/><line x1="823.95" y1="1570.70" x2="823.95" y2="1582.70" stroke="#000" stroke-width="1.8"/><line x1="836.72" y1="1570.70" x2="836.72" y2="1577.30" stroke="#000" stroke-width="1.8"/><line x1="849.50" y1="1570.70" x2="849.50" y2="1577.30" stroke="#000" stroke-width="1.8"/><line x1="862.27" y1="1570.70" x2="862.27" y2="1577.30" stroke="#000" stroke-width="1.8"/><line x1="875.04" y1="1570.70" x2="875.04" y2="1577.30" stroke="#000" stroke-width="1.8"/><line x1="887.82" y1="1570.70" x2="887.82" y2="1577.30" stroke="#000" stroke-width="1.8"/><line x1="900.59" y1="1570.70" x2="900.59" y2="1577.30" stroke="#000" stroke-width="1.8"/><line x1="913.36" y1="1570.70" x2="913.36" y2="1577.30" stroke="#000" stroke-width="1.8"/><line x1="926.13" y1="1570.70" x2="926.13" y2="1577.30" stroke="#000" stroke-width="1.8"/><line x1="938.91" y1="1570.70" x2="938.91" y2="1577.30" stroke="#000" stroke-width="1.8"/><line x1="951.68" y1="1570.70" x2="951.68" y2="1582.70" stroke="#000" stroke-width="1.8"/><line x1="964.45" y1="1570.70" x2="964.45" y2="1577.30" stroke="#000" stroke-width="1.8"/><line x1="977.23" y1="1570.70" x2="977.23" y2="1577.30" stroke="#000" stroke-width="1.8"/><line x1="990.00" y1="1570.70" x2="990.00" y2="1577.30" stroke="#000" stroke-width="1.8"/><line x1="1002.77" y1="1570.70" x2="1002.77" y2="1577.30" stroke="#000" stroke-width="1.8"/><line x1="1015.55" y1="1570.70" x2="1015.55" y2="1577.30" stroke="#000" stroke-width="1.8"/><line x1="1028.32" y1="1570.70" x2="1028.32" y2="1577.30" stroke="#000" stroke-width="1.8"/><line x1="1041.09" y1="1570.70" x2="1041.09" y2="1577.30" stroke="#000" stroke-width="1.8"/><line x1="1053.86" y1="1570.70" x2="1053.86" y2="1577.30" stroke="#000" stroke-width="1.8"/><line x1="1066.64" y1="1570.70" x2="1066.64" y2="1577.30" stroke="#000" stroke-width="1.8"/><line x1="1079.41" y1="1570.70" x2="1079.41" y2="1582.70" stroke="#000" stroke-width="1.8"/><line x1="1092.18" y1="1570.70" x2="1092.18" y2="1577.30" stroke="#000" stroke-width="1.8"/><line x1="1104.96" y1="1570.70" x2="1104.96" y2="1577.30" stroke="#000" stroke-width="1.8"/><line x1="1117.73" y1="1570.70" x2="1117.73" y2="1577.30" stroke="#000" stroke-width="1.8"/><line x1="1130.50" y1="1570.70" x2="1130.50" y2="1577.30" stroke="#000" stroke-width="1.8"/><line x1="1143.28" y1="1570.70" x2="1143.28" y2="1577.30" stroke="#000" stroke-width="1.8"/><line x1="1156.05" y1="1570.70" x2="1156.05" y2="1577.30" stroke="#000" stroke-width="1.8"/><line x1="1168.82" y1="1570.70" x2="1168.82" y2="1577.30" stroke="#000" stroke-width="1.8"/><line x1="1181.59" y1="1570.70" x2="1181.59" y2="1577.30" stroke="#000" stroke-width="1.8"/><line x1="1194.37" y1="1570.70" x2="1194.37" y2="1577.30" stroke="#000" stroke-width="1.8"/><line x1="1207.14" y1="1570.70" x2="1207.14" y2="1582.70" stroke="#000" stroke-width="1.8"/><line x1="1219.91" y1="1570.70" x2="1219.91" y2="1577.30" stroke="#000" stroke-width="1.8"/><line x1="1232.69" y1="1570.70" x2="1232.69" y2="1577.30" stroke="#000" stroke-width="1.8"/><line x1="1245.46" y1="1570.70" x2="1245.46" y2="1577.30" stroke="#000" stroke-width="1.8"/><line x1="1258.23" y1="1570.70" x2="1258.23" y2="1577.30" stroke="#000" stroke-width="1.8"/><line x1="1271.01" y1="1570.70" x2="1271.01" y2="1577.30" stroke="#000" stroke-width="1.8"/><line x1="1283.78" y1="1570.70" x2="1283.78" y2="1577.30" stroke="#000" stroke-width="1.8"/><line x1="1296.55" y1="1570.70" x2="1296.55" y2="1577.30" stroke="#000" stroke-width="1.8"/><line x1="1309.32" y1="1570.70" x2="1309.32" y2="1577.30" stroke="#000" stroke-width="1.8"/><line x1="1322.10" y1="1570.70" x2="1322.10" y2="1577.30" stroke="#000" stroke-width="1.8"/><line x1="1334.87" y1="1570.70" x2="1334.87" y2="1582.70" stroke="#000" stroke-width="1.8"/><line x1="1347.64" y1="1570.70" x2="1347.64" y2="1577.30" stroke="#000" stroke-width="1.8"/><line x1="1360.42" y1="1570.70" x2="1360.42" y2="1577.30" stroke="#000" stroke-width="1.8"/><line x1="1373.19" y1="1570.70" x2="1373.19" y2="1577.30" stroke="#000" stroke-width="1.8"/><line x1="1385.96" y1="1570.70" x2="1385.96" y2="1577.30" stroke="#000" stroke-width="1.8"/><line x1="1398.74" y1="1570.70" x2="1398.74" y2="1577.30" stroke="#000" stroke-width="1.8"/><line x1="1411.51" y1="1570.70" x2="1411.51" y2="1577.30" stroke="#000" stroke-width="1.8"/><line x1="1424.28" y1="1570.70" x2="1424.28" y2="1577.30" stroke="#000" stroke-width="1.8"/><line x1="1437.05" y1="1570.70" x2="1437.05" y2="1577.30" stroke="#000" stroke-width="1.8"/><line x1="1449.83" y1="1570.70" x2="1449.83" y2="1577.30" stroke="#000" stroke-width="1.8"/><line x1="1523.12" y1="1570.70" x2="1523.12" y2="1576.50" stroke="#000" stroke-width="1.8"/><line x1="1557.20" y1="1570.70" x2="1557.20" y2="1581.70" stroke="#000" stroke-width="1.8"/><line x1="1591.27" y1="1570.70" x2="1591.27" y2="1576.50" stroke="#000" stroke-width="1.8"/><line x1="1625.35" y1="1570.70" x2="1625.35" y2="1576.50" stroke="#000" stroke-width="1.8"/><line x1="1659.42" y1="1570.70" x2="1659.42" y2="1576.50" stroke="#000" stroke-width="1.8"/><line x1="1693.50" y1="1570.70" x2="1693.50" y2="1581.70" stroke="#000" stroke-width="1.8"/><line x1="1727.58" y1="1570.70" x2="1727.58" y2="1576.50" stroke="#000" stroke-width="1.8"/><line x1="1761.65" y1="1570.70" x2="1761.65" y2="1576.50" stroke="#000" stroke-width="1.8"/><line x1="1795.72" y1="1570.70" x2="1795.72" y2="1576.50" stroke="#000" stroke-width="1.8"/><line x1="1829.80" y1="1570.70" x2="1829.80" y2="1581.70" stroke="#000" stroke-width="1.8"/><line x1="1863.88" y1="1570.70" x2="1863.88" y2="1576.50" stroke="#000" stroke-width="1.8"/><line x1="1897.95" y1="1570.70" x2="1897.95" y2="1576.50" stroke="#000" stroke-width="1.8"/><line x1="1932.03" y1="1570.70" x2="1932.03" y2="1576.50" stroke="#000" stroke-width="1.8"/><line x1="1966.10" y1="1570.70" x2="1966.10" y2="1581.70" stroke="#000" stroke-width="1.8"/><line x1="2000.17" y1="1570.70" x2="2000.17" y2="1576.50" stroke="#000" stroke-width="1.8"/><line x1="2034.25" y1="1570.70" x2="2034.25" y2="1576.50" stroke="#000" stroke-width="1.8"/><line x1="2068.32" y1="1570.70" x2="2068.32" y2="1576.50" stroke="#000" stroke-width="1.8"/><line x1="2102.40" y1="1570.70" x2="2102.40" y2="1581.70" stroke="#000" stroke-width="1.8"/><line x1="2136.47" y1="1570.70" x2="2136.47" y2="1576.50" stroke="#000" stroke-width="1.8"/></g>
<rect x="477.9" y="97.9" width="225.0" height="255.9" fill="#000"/><rect x="470.3" y="90.3" width="225.0" height="255.9" fill="#FFFFFF" stroke="#000" stroke-width="1.3"/><line x1="476" y1="123.7" x2="516.5" y2="123.7" stroke="#000" stroke-width="4"/><text x="524.2" y="138.0" font-family="Carlito, 'Liberation Sans', sans-serif" font-size="36" font-weight="bold" textLength="97.3" lengthAdjust="spacingAndGlyphs">V 45°C</text><line x1="476" y1="174.2" x2="516.5" y2="174.2" stroke="#808080" stroke-width="4.5"/><text x="524.2" y="187.5" font-family="Carlito, 'Liberation Sans', sans-serif" font-size="36" font-weight="bold" textLength="167.9" lengthAdjust="spacingAndGlyphs">V 45°C cool</text><line x1="476" y1="224.5" x2="516.5" y2="224.5" stroke="#000080" stroke-width="1.6"/><text x="524.2" y="237.5" font-family="Carlito, 'Liberation Sans', sans-serif" font-size="36" font-weight="normal" textLength="96.5" lengthAdjust="spacingAndGlyphs">V 60°C</text><line x1="476" y1="274.5" x2="516.5" y2="274.5" stroke="#0000B0" stroke-width="1.6"/><text x="524.2" y="287.5" font-family="Carlito, 'Liberation Sans', sans-serif" font-size="36" font-weight="normal" textLength="96.5" lengthAdjust="spacingAndGlyphs">V 75°C</text><line x1="476" y1="323.4" x2="516.5" y2="323.4" stroke="#0000FF" stroke-width="1.6"/><text x="524.2" y="336.6" font-family="Carlito, 'Liberation Sans', sans-serif" font-size="36" font-weight="normal" textLength="96.5" lengthAdjust="spacingAndGlyphs">V 90°C</text><rect x="482.1" y="599.8" width="313.8" height="254.8" fill="#000"/><rect x="474.5" y="592.2" width="313.8" height="254.8" fill="#FFFFFF" stroke="#000" stroke-width="1.3"/><line x1="480.3" y1="623.7" x2="522.8" y2="623.7" stroke="#000" stroke-width="4"/><text x="529.2" y="637.8" font-family="Carlito, 'Liberation Sans', sans-serif" font-size="36" font-weight="bold" textLength="180.6" lengthAdjust="spacingAndGlyphs">V-Zr2% 45°C</text><line x1="480.3" y1="674.2" x2="522.8" y2="674.2" stroke="#808080" stroke-width="4.5"/><text x="529.2" y="687.5" font-family="Carlito, 'Liberation Sans', sans-serif" font-size="36" font-weight="bold" textLength="251.2" lengthAdjust="spacingAndGlyphs">V-Zr2% 45°C cool</text><line x1="480.3" y1="725.3" x2="522.8" y2="725.3" stroke="#000080" stroke-width="1.6"/><text x="529.2" y="738.3" font-family="Carlito, 'Liberation Sans', sans-serif" font-size="36" font-weight="normal" textLength="179.1" lengthAdjust="spacingAndGlyphs">V-Zr2% 60°C</text><line x1="480.3" y1="775.0" x2="522.8" y2="775.0" stroke="#0000B0" stroke-width="1.6"/><text x="529.2" y="788.3" font-family="Carlito, 'Liberation Sans', sans-serif" font-size="36" font-weight="normal" textLength="179.1" lengthAdjust="spacingAndGlyphs">V-Zr2% 75°C</text><line x1="480.3" y1="824.2" x2="522.8" y2="824.2" stroke="#0000FF" stroke-width="1.6"/><text x="529.2" y="837.5" font-family="Carlito, 'Liberation Sans', sans-serif" font-size="36" font-weight="normal" textLength="179.1" lengthAdjust="spacingAndGlyphs">V-Zr2% 95°C</text><rect x="482.9" y="1086.8" width="319.9" height="304.8" fill="#000"/><rect x="475.3" y="1079.2" width="319.9" height="304.8" fill="#FFFFFF" stroke="#000" stroke-width="1.3"/><line x1="481.2" y1="1112.8" x2="522.9" y2="1112.8" stroke="#000080" stroke-width="4"/><text x="530.7" y="1126.8" font-family="Carlito, 'Liberation Sans', sans-serif" font-size="36" font-weight="bold" textLength="188.5" lengthAdjust="spacingAndGlyphs">V-Ce2% 45°C</text><line x1="481.2" y1="1162.7" x2="522.9" y2="1162.7" stroke="#808080" stroke-width="4.5"/><text x="530.7" y="1176.9" font-family="Carlito, 'Liberation Sans', sans-serif" font-size="36" font-weight="bold" textLength="259.1" lengthAdjust="spacingAndGlyphs">V-Ce2% 45°C cool</text><line x1="481.2" y1="1213.4" x2="522.9" y2="1213.4" stroke="#000080" stroke-width="1.6"/><text x="530.7" y="1227.0" font-family="Carlito, 'Liberation Sans', sans-serif" font-size="36" font-weight="normal" textLength="186.8" lengthAdjust="spacingAndGlyphs">V-Ce2% 60°C</text><line x1="481.2" y1="1262.2" x2="522.9" y2="1262.2" stroke="#000080" stroke-width="1.6"/><text x="530.7" y="1276.1" font-family="Carlito, 'Liberation Sans', sans-serif" font-size="36" font-weight="normal" textLength="186.8" lengthAdjust="spacingAndGlyphs">V-Ce2% 70°C</text><line x1="481.2" y1="1312.3" x2="522.9" y2="1312.3" stroke="#0000B0" stroke-width="1.6"/><text x="530.7" y="1325.9" font-family="Carlito, 'Liberation Sans', sans-serif" font-size="36" font-weight="normal" textLength="186.8" lengthAdjust="spacingAndGlyphs">V-Ce2% 90°C</text><line x1="481.2" y1="1362.4" x2="522.9" y2="1362.4" stroke="#00FFFF" stroke-width="1.6"/><text x="530.7" y="1375.4" font-family="Carlito, 'Liberation Sans', sans-serif" font-size="36" font-weight="normal" textLength="205.0" lengthAdjust="spacingAndGlyphs">V-Ce2% 105°C</text>
<rect x="2003.5" y="83.2" width="140.0" height="31.2" fill="#FFFFFF"/><line x1="1970.3" y1="99.3" x2="1998.6" y2="99.3" stroke="#000" stroke-width="4.5"/><text x="2006.5" y="107.5" font-family="Carlito, 'Liberation Sans', sans-serif" font-size="25.3" font-weight="bold" textLength="134.0" lengthAdjust="spacingAndGlyphs">V RT powder</text><rect x="2003.5" y="117.1" width="99.7" height="31.2" fill="#FFFFFF"/><line x1="1971.8" y1="133.2" x2="1998.6" y2="133.2" stroke="#000" stroke-width="1.2"/><text x="2006.5" y="141.4" font-family="Carlito, 'Liberation Sans', sans-serif" font-size="25.3" font-weight="bold" textLength="93.7" lengthAdjust="spacingAndGlyphs">V RT film</text><rect x="2003.5" y="151.0" width="74.4" height="31.2" fill="#FFFFFF"/><line x1="1971.8" y1="167.1" x2="1998.6" y2="167.1" stroke="#404040" stroke-width="1.2"/><text x="2006.5" y="175.3" font-family="Carlito, 'Liberation Sans', sans-serif" font-size="25.3" font-weight="bold" textLength="68.4" lengthAdjust="spacingAndGlyphs">V 60°C</text><rect x="2003.5" y="184.9" width="74.4" height="31.2" fill="#FFFFFF"/><line x1="1971.8" y1="201.0" x2="1998.6" y2="201.0" stroke="#808080" stroke-width="1.2"/><text x="2006.5" y="209.2" font-family="Carlito, 'Liberation Sans', sans-serif" font-size="25.3" font-weight="bold" textLength="68.4" lengthAdjust="spacingAndGlyphs">V 70°C</text><rect x="2003.5" y="218.8" width="74.4" height="31.2" fill="#FFFFFF"/><line x1="1971.8" y1="234.9" x2="1998.6" y2="234.9" stroke="#C0C0C0" stroke-width="1.2"/><text x="2006.5" y="243.1" font-family="Carlito, 'Liberation Sans', sans-serif" font-size="25.3" font-weight="bold" textLength="68.4" lengthAdjust="spacingAndGlyphs">V 75°C</text><rect x="2003.5" y="252.7" width="74.4" height="31.2" fill="#FFFFFF"/><line x1="1971.8" y1="268.8" x2="1998.6" y2="268.8" stroke="#00FFFF" stroke-width="1.2"/><text x="2006.5" y="277.0" font-family="Carlito, 'Liberation Sans', sans-serif" font-size="25.3" font-weight="bold" textLength="68.4" lengthAdjust="spacingAndGlyphs">V 80°C</text><rect x="2003.5" y="286.6" width="74.4" height="31.2" fill="#FFFFFF"/><line x1="1971.8" y1="302.7" x2="1998.6" y2="302.7" stroke="#00FFFF" stroke-width="1.2"/><text x="2006.5" y="310.9" font-family="Carlito, 'Liberation Sans', sans-serif" font-size="25.3" font-weight="bold" textLength="68.4" lengthAdjust="spacingAndGlyphs">V 85°C</text><rect x="2003.5" y="320.5" width="74.4" height="31.2" fill="#FFFFFF"/><line x1="1971.8" y1="336.6" x2="1998.6" y2="336.6" stroke="#0000FF" stroke-width="1.2"/><text x="2006.5" y="344.8" font-family="Carlito, 'Liberation Sans', sans-serif" font-size="25.3" font-weight="bold" textLength="68.4" lengthAdjust="spacingAndGlyphs">V 90°C</text>
<rect x="1410.8" y="577.7" width="198.6" height="31.2" fill="#FFFFFF"/><line x1="1372.7" y1="593.8" x2="1400.7" y2="593.8" stroke="#000" stroke-width="4.5"/><text x="1413.8" y="602.0" font-family="Carlito, 'Liberation Sans', sans-serif" font-size="25.3" font-weight="bold" textLength="192.6" lengthAdjust="spacingAndGlyphs">V-Zr2% RT powder</text><rect x="1404.5" y="611.9" width="158.3" height="31.2" fill="#FFFFFF"/><line x1="1374.2" y1="628.0" x2="1400.7" y2="628.0" stroke="#000" stroke-width="1.2"/><text x="1407.5" y="636.2" font-family="Carlito, 'Liberation Sans', sans-serif" font-size="25.3" font-weight="bold" textLength="152.3" lengthAdjust="spacingAndGlyphs">V-Zr2% RT film</text><rect x="1404.5" y="646.0" width="132.9" height="31.2" fill="#FFFFFF"/><line x1="1374.2" y1="662.1" x2="1400.7" y2="662.1" stroke="#404040" stroke-width="1.2"/><text x="1407.5" y="670.3" font-family="Carlito, 'Liberation Sans', sans-serif" font-size="25.3" font-weight="bold" textLength="126.9" lengthAdjust="spacingAndGlyphs">V-Zr2% 60°C</text><rect x="1404.5" y="680.2" width="132.9" height="31.2" fill="#FFFFFF"/><line x1="1374.2" y1="696.3" x2="1400.7" y2="696.3" stroke="#808080" stroke-width="1.2"/><text x="1407.5" y="704.5" font-family="Carlito, 'Liberation Sans', sans-serif" font-size="25.3" font-weight="bold" textLength="126.9" lengthAdjust="spacingAndGlyphs">V-Zr2% 65°C</text><rect x="1404.5" y="714.4" width="132.9" height="31.2" fill="#FFFFFF"/><line x1="1374.2" y1="730.5" x2="1400.7" y2="730.5" stroke="#C0C0C0" stroke-width="1.2"/><text x="1407.5" y="738.7" font-family="Carlito, 'Liberation Sans', sans-serif" font-size="25.3" font-weight="bold" textLength="126.9" lengthAdjust="spacingAndGlyphs">V-Zr2% 70°C</text><rect x="1404.5" y="748.6" width="132.9" height="31.2" fill="#FFFFFF"/><line x1="1374.2" y1="764.6" x2="1400.7" y2="764.6" stroke="#00FFFF" stroke-width="1.2"/><text x="1407.5" y="772.9" font-family="Carlito, 'Liberation Sans', sans-serif" font-size="25.3" font-weight="bold" textLength="126.9" lengthAdjust="spacingAndGlyphs">V-Zr2% 75°C</text><rect x="1404.5" y="782.7" width="132.9" height="31.2" fill="#FFFFFF"/><line x1="1374.2" y1="798.8" x2="1400.7" y2="798.8" stroke="#00FFFF" stroke-width="1.2"/><text x="1407.5" y="807.0" font-family="Carlito, 'Liberation Sans', sans-serif" font-size="25.3" font-weight="bold" textLength="126.9" lengthAdjust="spacingAndGlyphs">V-Zr2% 80°C</text><rect x="1404.5" y="816.9" width="132.9" height="31.2" fill="#FFFFFF"/><line x1="1374.2" y1="833.0" x2="1400.7" y2="833.0" stroke="#0000FF" stroke-width="1.2"/><text x="1407.5" y="841.2" font-family="Carlito, 'Liberation Sans', sans-serif" font-size="25.3" font-weight="bold" textLength="126.9" lengthAdjust="spacingAndGlyphs">V-Zr2% 85°C</text><rect x="1404.5" y="851.1" width="132.9" height="31.2" fill="#FFFFFF"/><line x1="1374.2" y1="867.2" x2="1400.7" y2="867.2" stroke="#0000B0" stroke-width="1.2"/><text x="1407.5" y="875.4" font-family="Carlito, 'Liberation Sans', sans-serif" font-size="25.3" font-weight="bold" textLength="126.9" lengthAdjust="spacingAndGlyphs">V-Zr2% 90°C</text><rect x="1404.5" y="885.2" width="132.9" height="31.2" fill="#FFFFFF"/><line x1="1374.2" y1="901.3" x2="1400.7" y2="901.3" stroke="#000080" stroke-width="1.2"/><text x="1407.5" y="909.5" font-family="Carlito, 'Liberation Sans', sans-serif" font-size="25.3" font-weight="bold" textLength="126.9" lengthAdjust="spacingAndGlyphs">V-Zr2% 95°C</text>
<rect x="1456.0" y="1079.0" width="204.1" height="31.2" fill="#FFFFFF"/><line x1="1417.8" y1="1095.1" x2="1445.5" y2="1095.1" stroke="#000" stroke-width="4.5"/><text x="1459.0" y="1103.3" font-family="Carlito, 'Liberation Sans', sans-serif" font-size="25.3" font-weight="bold" textLength="198.1" lengthAdjust="spacingAndGlyphs">V-Ce2% RT powder</text><rect x="1450.6" y="1113.1" width="163.8" height="31.2" fill="#FFFFFF"/><line x1="1419.3" y1="1129.2" x2="1445.5" y2="1129.2" stroke="#000" stroke-width="1.2"/><text x="1453.6" y="1137.4" font-family="Carlito, 'Liberation Sans', sans-serif" font-size="25.3" font-weight="bold" textLength="157.8" lengthAdjust="spacingAndGlyphs">V-Ce2% RT film</text><rect x="1450.6" y="1147.2" width="138.5" height="31.2" fill="#FFFFFF"/><line x1="1419.3" y1="1163.3" x2="1445.5" y2="1163.3" stroke="#404040" stroke-width="1.2"/><text x="1453.6" y="1171.5" font-family="Carlito, 'Liberation Sans', sans-serif" font-size="25.3" font-weight="bold" textLength="132.5" lengthAdjust="spacingAndGlyphs">V-Ce2% 60°C</text><rect x="1450.6" y="1181.2" width="138.5" height="31.2" fill="#FFFFFF"/><line x1="1419.3" y1="1197.3" x2="1445.5" y2="1197.3" stroke="#808080" stroke-width="1.2"/><text x="1453.6" y="1205.5" font-family="Carlito, 'Liberation Sans', sans-serif" font-size="25.3" font-weight="bold" textLength="132.5" lengthAdjust="spacingAndGlyphs">V-Ce2% 70°C</text><rect x="1450.6" y="1215.3" width="138.5" height="31.2" fill="#FFFFFF"/><line x1="1419.3" y1="1231.4" x2="1445.5" y2="1231.4" stroke="#C0C0C0" stroke-width="1.2"/><text x="1453.6" y="1239.6" font-family="Carlito, 'Liberation Sans', sans-serif" font-size="25.3" font-weight="bold" textLength="132.5" lengthAdjust="spacingAndGlyphs">V-Ce2% 75°C</text><rect x="1450.6" y="1249.4" width="138.5" height="31.2" fill="#FFFFFF"/><line x1="1419.3" y1="1265.5" x2="1445.5" y2="1265.5" stroke="#00FFFF" stroke-width="1.2"/><text x="1453.6" y="1273.7" font-family="Carlito, 'Liberation Sans', sans-serif" font-size="25.3" font-weight="bold" textLength="132.5" lengthAdjust="spacingAndGlyphs">V-Ce2% 80°C</text><rect x="1450.6" y="1283.5" width="138.5" height="31.2" fill="#FFFFFF"/><line x1="1419.3" y1="1299.6" x2="1445.5" y2="1299.6" stroke="#00FFFF" stroke-width="1.2"/><text x="1453.6" y="1307.8" font-family="Carlito, 'Liberation Sans', sans-serif" font-size="25.3" font-weight="bold" textLength="132.5" lengthAdjust="spacingAndGlyphs">V-Ce2% 85°C</text><rect x="1450.6" y="1317.6" width="138.5" height="31.2" fill="#FFFFFF"/><line x1="1419.3" y1="1333.7" x2="1445.5" y2="1333.7" stroke="#0000FF" stroke-width="1.2"/><text x="1453.6" y="1341.9" font-family="Carlito, 'Liberation Sans', sans-serif" font-size="25.3" font-weight="bold" textLength="132.5" lengthAdjust="spacingAndGlyphs">V-Ce2% 90°C</text><rect x="1450.6" y="1351.6" width="138.5" height="31.2" fill="#FFFFFF"/><line x1="1419.3" y1="1367.7" x2="1445.5" y2="1367.7" stroke="#0000B0" stroke-width="1.2"/><text x="1453.6" y="1375.9" font-family="Carlito, 'Liberation Sans', sans-serif" font-size="25.3" font-weight="bold" textLength="132.5" lengthAdjust="spacingAndGlyphs">V-Ce2% 95°C</text><rect x="1450.6" y="1385.7" width="151.3" height="31.2" fill="#FFFFFF"/><line x1="1419.3" y1="1401.8" x2="1445.5" y2="1401.8" stroke="#000080" stroke-width="1.2"/><text x="1453.6" y="1410.0" font-family="Carlito, 'Liberation Sans', sans-serif" font-size="25.3" font-weight="bold" textLength="145.3" lengthAdjust="spacingAndGlyphs">V-Ce2% 100°C</text>
<text x="1128.5" y="148.6" font-family="'Liberation Sans', Arial, sans-serif" font-size="70" font-weight="bold">a<tspan dx="4">)</tspan></text><text x="1128.5" y="663.9" font-family="'Liberation Sans', Arial, sans-serif" font-size="70" font-weight="bold">b<tspan dx="4">)</tspan></text><text x="1128.5" y="1185.2" font-family="'Liberation Sans', Arial, sans-serif" font-size="70" font-weight="bold">c<tspan dx="4">)</tspan></text><text x="313.0" y="1620.8" font-family="'Liberation Sans', Arial, sans-serif" font-size="40.2" text-anchor="middle">200</text><text x="440.8" y="1620.8" font-family="'Liberation Sans', Arial, sans-serif" font-size="40.2" text-anchor="middle">300</text><text x="568.5" y="1620.8" font-family="'Liberation Sans', Arial, sans-serif" font-size="40.2" text-anchor="middle">400</text><text x="696.2" y="1620.8" font-family="'Liberation Sans', Arial, sans-serif" font-size="40.2" text-anchor="middle">500</text><text x="824.0" y="1620.8" font-family="'Liberation Sans', Arial, sans-serif" font-size="40.2" text-anchor="middle">600</text><text x="951.7" y="1620.8" font-family="'Liberation Sans', Arial, sans-serif" font-size="40.2" text-anchor="middle">700</text><text x="1079.4" y="1620.8" font-family="'Liberation Sans', Arial, sans-serif" font-size="40.2" text-anchor="middle">800</text><text x="1207.1" y="1620.8" font-family="'Liberation Sans', Arial, sans-serif" font-size="40.2" text-anchor="middle">900</text><text x="1334.9" y="1620.8" font-family="'Liberation Sans', Arial, sans-serif" font-size="40.2" text-anchor="middle">1000</text><text x="1557.2" y="1621.6" font-family="'Liberation Sans', Arial, sans-serif" font-size="40.5" text-anchor="middle">200</text><text x="1693.5" y="1621.6" font-family="'Liberation Sans', Arial, sans-serif" font-size="40.5" text-anchor="middle">400</text><text x="1829.8" y="1621.6" font-family="'Liberation Sans', Arial, sans-serif" font-size="40.5" text-anchor="middle">600</text><text x="1966.1" y="1621.6" font-family="'Liberation Sans', Arial, sans-serif" font-size="40.5" text-anchor="middle">800</text><text x="2102.4" y="1621.6" font-family="'Liberation Sans', Arial, sans-serif" font-size="40.5" text-anchor="middle">1000</text><text x="598.1" y="1705" font-family="'Liberation Sans', Arial, sans-serif" font-size="59.6">Raman shift / nm</text><text x="1632.7" y="1703.2" font-family="'Liberation Sans', Arial, sans-serif" font-size="52.1">Raman shift / nm</text><text transform="translate(78.8 1100.2) rotate(-90)" font-family="'Liberation Sans', Arial, sans-serif" font-size="59.6">Relative.intensity / a.u.</text><text transform="translate(2293.8 1100.2) rotate(-90)" font-family="'Liberation Sans', Arial, sans-serif" font-size="59.6">Relative.intensity / a.u.</text>
</svg></body></html>
